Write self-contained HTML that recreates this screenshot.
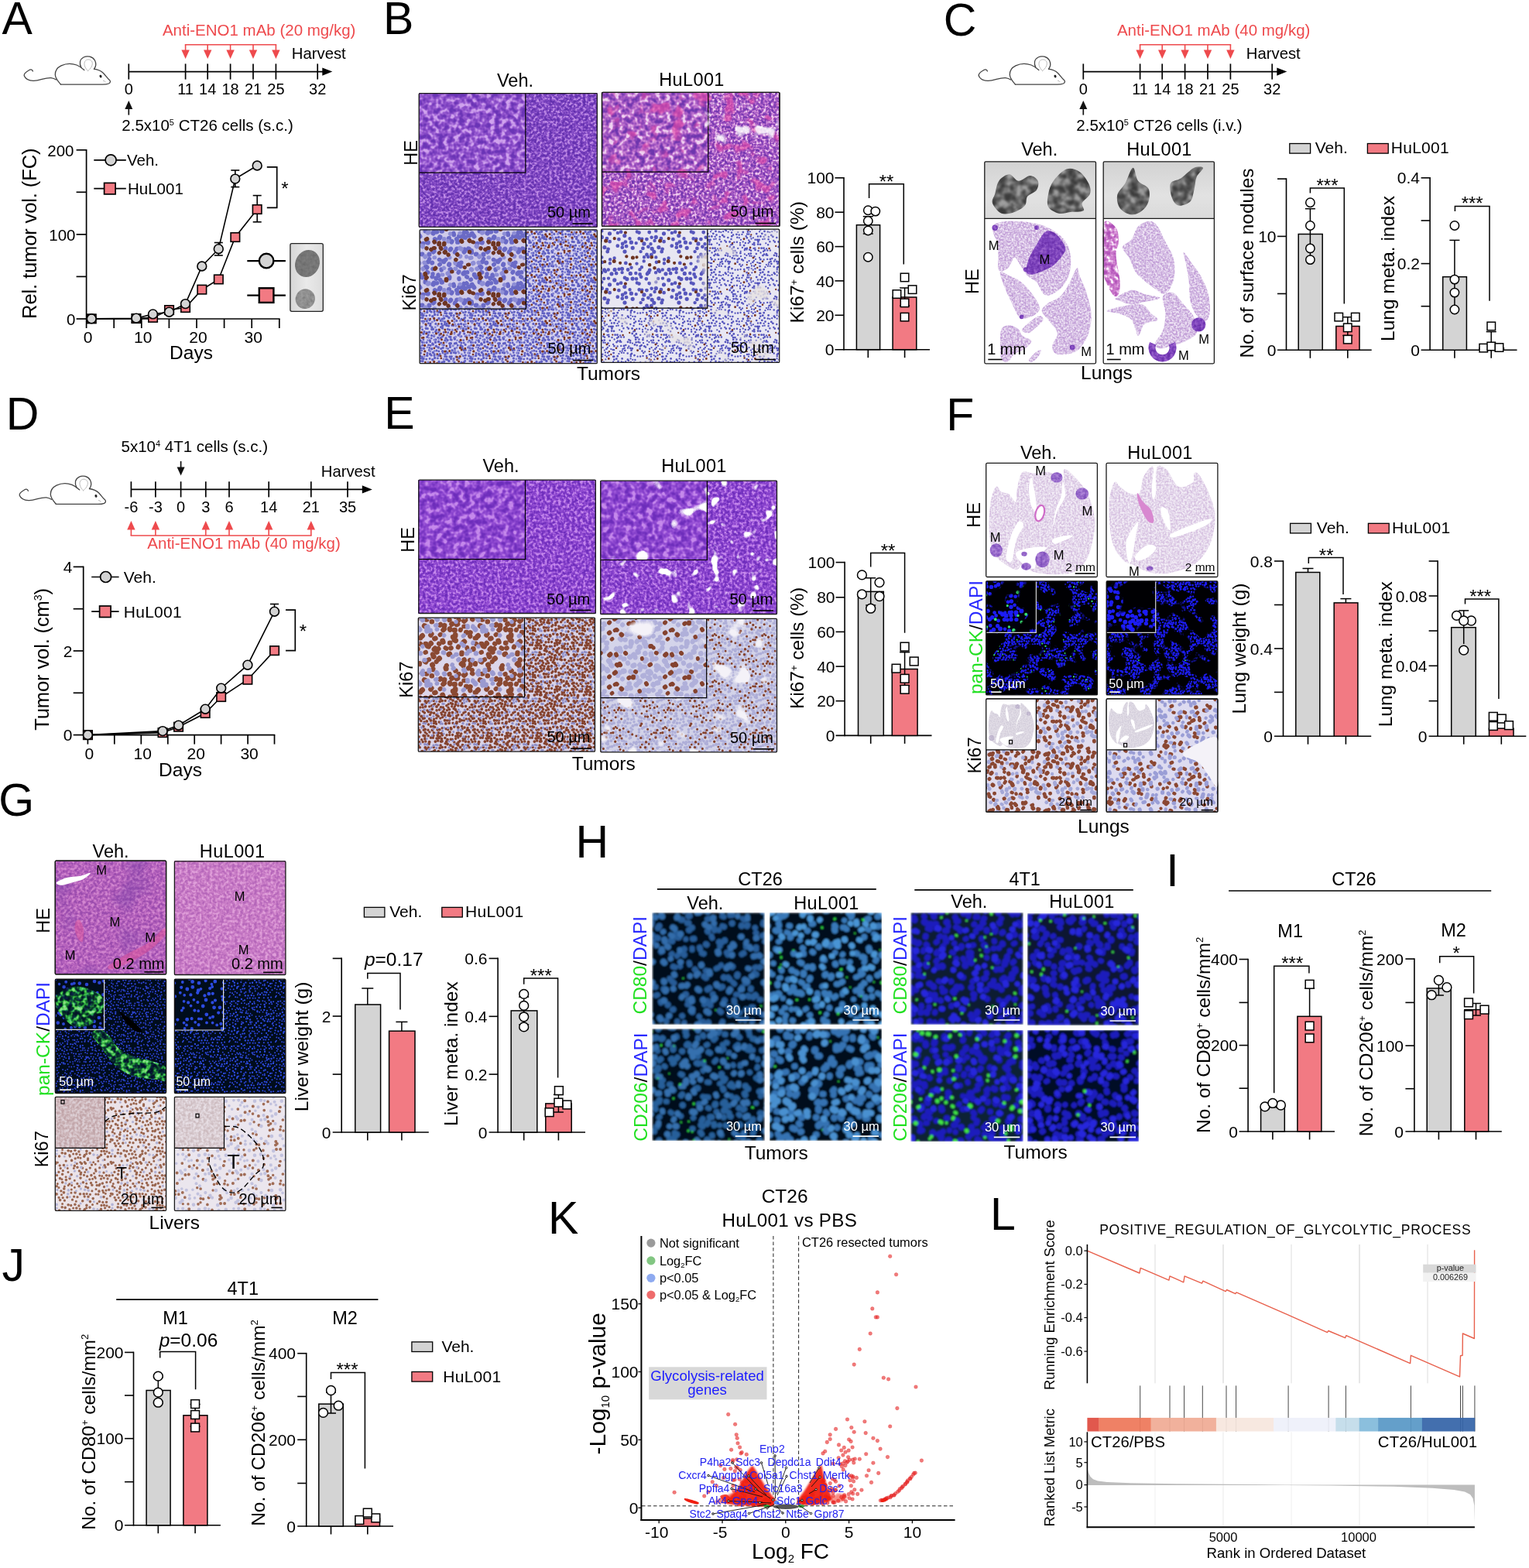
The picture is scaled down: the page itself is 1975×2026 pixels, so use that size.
<!DOCTYPE html>
<html lang="en"><head><meta charset="utf-8"><title>Figure</title>
<style>
html,body{margin:0;padding:0;background:#fff}
body{width:1975px;height:2026px;overflow:hidden}
svg{display:block;font-family:'Liberation Sans', Arial, sans-serif;}
</style></head><body>
<svg width="1975" height="2026" viewBox="0 0 1975 2026" fill="#000">
<defs>
<linearGradient id="gPhoto" x1="0" y1="0" x2="1" y2="0"><stop offset="0" stop-color="#d6d6d6"/><stop offset="0.5" stop-color="#eaeaea"/><stop offset="1" stop-color="#dcdcdc"/></linearGradient>
<filter id="fBlob" x="-10%" y="-10%" width="120%" height="120%"><feTurbulence type="fractalNoise" baseFrequency="0.25" numOctaves="2" seed="3" result="n"/><feColorMatrix in="n" type="matrix" values="0 0 0 0 0  0 0 0 0 0  0 0 0 0 0  0.9 0 0 0 -0.25" result="a"/><feFlood flood-color="#555"/><feComposite in2="a" operator="in" result="d"/><feComposite in="d" in2="SourceGraphic" operator="atop"/><feGaussianBlur stdDeviation="0.5"/></filter>
<linearGradient id="gPh2" x1="0" y1="0" x2="0" y2="1"><stop offset="0" stop-color="#d2d2d2"/><stop offset="0.6" stop-color="#e2e2e2"/><stop offset="1" stop-color="#dadada"/></linearGradient>
<filter id="bHE1" x="0" y="0" width="100%" height="100%" color-interpolation-filters="sRGB"><feTurbulence type="fractalNoise" baseFrequency="0.3" numOctaves="2" seed="11"/><feColorMatrix type="matrix" values="1 0 0 0 0 1 0 0 0 0 1 0 0 0 0 0 0 0 0 1"/><feComponentTransfer><feFuncR type="table" tableValues="0.384 0.384 0.384 0.384 0.384 0.391 0.427 0.462 0.507 0.57 0.65 0.736 0.753 0.753 0.753 0.753 0.753"/><feFuncG type="table" tableValues="0.188 0.188 0.188 0.188 0.188 0.194 0.221 0.248 0.285 0.344 0.434 0.536 0.557 0.557 0.557 0.557 0.557"/><feFuncB type="table" tableValues="0.682 0.682 0.682 0.682 0.682 0.687 0.712 0.736 0.765 0.805 0.848 0.893 0.902 0.902 0.902 0.902 0.902"/></feComponentTransfer></filter><filter id="bHE1i" x="0" y="0" width="100%" height="100%" color-interpolation-filters="sRGB"><feTurbulence type="fractalNoise" baseFrequency="0.15" numOctaves="2" seed="12"/><feColorMatrix type="matrix" values="1 0 0 0 0 1 0 0 0 0 1 0 0 0 0 0 0 0 0 1"/><feComponentTransfer><feFuncR type="table" tableValues="0.416 0.416 0.416 0.416 0.416 0.424 0.468 0.512 0.562 0.625 0.708 0.798 0.816 0.816 0.816 0.816 0.816"/><feFuncG type="table" tableValues="0.204 0.204 0.204 0.204 0.204 0.21 0.243 0.276 0.32 0.389 0.496 0.619 0.643 0.643 0.643 0.643 0.643"/><feFuncB type="table" tableValues="0.714 0.714 0.714 0.714 0.714 0.719 0.743 0.768 0.797 0.836 0.879 0.924 0.933 0.933 0.933 0.933 0.933"/></feComponentTransfer></filter><filter id="bHE2" x="0" y="0" width="100%" height="100%" color-interpolation-filters="sRGB"><feTurbulence type="fractalNoise" baseFrequency="0.3" numOctaves="2" seed="13"/><feColorMatrix type="matrix" values="1 0 0 0 0 1 0 0 0 0 1 0 0 0 0 0 0 0 0 1"/><feComponentTransfer><feFuncR type="table" tableValues="0.431 0.431 0.431 0.431 0.431 0.445 0.512 0.58 0.657 0.74 0.815 0.917 0.941 0.941 0.941 0.941 0.941"/><feFuncG type="table" tableValues="0.212 0.212 0.212 0.212 0.212 0.22 0.26 0.299 0.364 0.444 0.561 0.774 0.831 0.831 0.831 0.831 0.831"/><feFuncB type="table" tableValues="0.682 0.682 0.682 0.682 0.682 0.688 0.715 0.743 0.772 0.802 0.855 0.931 0.949 0.949 0.949 0.949 0.949"/></feComponentTransfer></filter><filter id="bHE2i" x="0" y="0" width="100%" height="100%" color-interpolation-filters="sRGB"><feTurbulence type="fractalNoise" baseFrequency="0.15" numOctaves="2" seed="14"/><feColorMatrix type="matrix" values="1 0 0 0 0 1 0 0 0 0 1 0 0 0 0 0 0 0 0 1"/><feComponentTransfer><feFuncR type="table" tableValues="0.431 0.431 0.431 0.431 0.431 0.445 0.512 0.58 0.657 0.74 0.815 0.917 0.941 0.941 0.941 0.941 0.941"/><feFuncG type="table" tableValues="0.212 0.212 0.212 0.212 0.212 0.22 0.26 0.299 0.364 0.444 0.561 0.774 0.831 0.831 0.831 0.831 0.831"/><feFuncB type="table" tableValues="0.682 0.682 0.682 0.682 0.682 0.688 0.715 0.743 0.772 0.802 0.855 0.931 0.949 0.949 0.949 0.949 0.949"/></feComponentTransfer></filter><filter id="bPink" x="0" y="0" width="100%" height="100%" color-interpolation-filters="sRGB"><feTurbulence type="fractalNoise" baseFrequency="0.06" numOctaves="2" seed="5"/><feColorMatrix type="matrix" values="0 0 0 0 0 0 0 0 0 0 0 0 0 0 0 -7 0 0 0 3.010" result="m"/><feFlood flood-color="#e04aa8" flood-opacity="0.65"/><feComposite in2="m" operator="in"/><feComposite in2="SourceAlpha" operator="in"/></filter><filter id="bWhite" x="0" y="0" width="100%" height="100%" color-interpolation-filters="sRGB"><feTurbulence type="fractalNoise" baseFrequency="0.05" numOctaves="2" seed="9"/><feColorMatrix type="matrix" values="0 0 0 0 0 0 0 0 0 0 0 0 0 0 0 -9 0 0 0 3.780" result="m"/><feFlood flood-color="#ffffff" flood-opacity="0.85"/><feComposite in2="m" operator="in"/><feComposite in2="SourceAlpha" operator="in"/></filter><filter id="bK1" x="0" y="0" width="100%" height="100%" color-interpolation-filters="sRGB"><feTurbulence type="fractalNoise" baseFrequency="0.3" numOctaves="1" seed="21" result="n"/><feFlood flood-color="#d0ccee" result="bg"/><feColorMatrix in="n" type="matrix" values="0 0 0 0 0 0 0 0 0 0 0 0 0 0 0 -12 0 0 0 5.640" result="m0"/><feFlood flood-color="#6060c6"/><feComposite in2="m0" operator="in" result="c0"/><feColorMatrix in="n" type="matrix" values="0 0 0 0 0 0 0 0 0 0 0 0 0 0 0 0 -12 0 0 5.640" result="m1"/><feFlood flood-color="#6060c6"/><feComposite in2="m1" operator="in" result="c1"/><feColorMatrix in="n" type="matrix" values="0 0 0 0 0 0 0 0 0 0 0 0 0 0 0 0 0 -12 0 4.920" result="m2"/><feFlood flood-color="#7c3820"/><feComposite in2="m2" operator="in" result="c2"/><feMerge><feMergeNode in="bg"/><feMergeNode in="c0"/><feMergeNode in="c1"/><feMergeNode in="c2"/></feMerge></filter><filter id="bK1i" x="0" y="0" width="100%" height="100%" color-interpolation-filters="sRGB"><feTurbulence type="fractalNoise" baseFrequency="0.15" numOctaves="1" seed="22" result="n"/><feFlood flood-color="#d2ceee" result="bg"/><feColorMatrix in="n" type="matrix" values="0 0 0 0 0 0 0 0 0 0 0 0 0 0 0 -9 0 0 0 4.230" result="m0"/><feFlood flood-color="#6e6ecc"/><feComposite in2="m0" operator="in" result="c0"/><feColorMatrix in="n" type="matrix" values="0 0 0 0 0 0 0 0 0 0 0 0 0 0 0 0 -9 0 0 4.230" result="m1"/><feFlood flood-color="#6e6ecc"/><feComposite in2="m1" operator="in" result="c1"/><feColorMatrix in="n" type="matrix" values="0 0 0 0 0 0 0 0 0 0 0 0 0 0 0 0 0 -9 0 3.600" result="m2"/><feFlood flood-color="#7c3820"/><feComposite in2="m2" operator="in" result="c2"/><feMerge><feMergeNode in="bg"/><feMergeNode in="c0"/><feMergeNode in="c1"/><feMergeNode in="c2"/></feMerge></filter><filter id="bK2" x="0" y="0" width="100%" height="100%" color-interpolation-filters="sRGB"><feTurbulence type="fractalNoise" baseFrequency="0.3" numOctaves="1" seed="23" result="n"/><feFlood flood-color="#e4e3f2" result="bg"/><feColorMatrix in="n" type="matrix" values="0 0 0 0 0 0 0 0 0 0 0 0 0 0 0 -12 0 0 0 5.100" result="m0"/><feFlood flood-color="#5252c4"/><feComposite in2="m0" operator="in" result="c0"/><feColorMatrix in="n" type="matrix" values="0 0 0 0 0 0 0 0 0 0 0 0 0 0 0 0 -12 0 0 5.100" result="m1"/><feFlood flood-color="#5252c4"/><feComposite in2="m1" operator="in" result="c1"/><feColorMatrix in="n" type="matrix" values="0 0 0 0 0 0 0 0 0 0 0 0 0 0 0 0 0 -12 0 3.960" result="m2"/><feFlood flood-color="#7c3820"/><feComposite in2="m2" operator="in" result="c2"/><feMerge><feMergeNode in="bg"/><feMergeNode in="c0"/><feMergeNode in="c1"/><feMergeNode in="c2"/></feMerge></filter><filter id="bK2i" x="0" y="0" width="100%" height="100%" color-interpolation-filters="sRGB"><feTurbulence type="fractalNoise" baseFrequency="0.15" numOctaves="1" seed="24" result="n"/><feFlood flood-color="#e4e3f2" result="bg"/><feColorMatrix in="n" type="matrix" values="0 0 0 0 0 0 0 0 0 0 0 0 0 0 0 -9 0 0 0 3.780" result="m0"/><feFlood flood-color="#5252c4"/><feComposite in2="m0" operator="in" result="c0"/><feColorMatrix in="n" type="matrix" values="0 0 0 0 0 0 0 0 0 0 0 0 0 0 0 0 -9 0 0 3.780" result="m1"/><feFlood flood-color="#5252c4"/><feComposite in2="m1" operator="in" result="c1"/><feColorMatrix in="n" type="matrix" values="0 0 0 0 0 0 0 0 0 0 0 0 0 0 0 0 0 -9 0 2.970" result="m2"/><feFlood flood-color="#7c3820"/><feComposite in2="m2" operator="in" result="c2"/><feMerge><feMergeNode in="bg"/><feMergeNode in="c0"/><feMergeNode in="c1"/><feMergeNode in="c2"/></feMerge></filter><filter id="cLung" x="0" y="0" width="100%" height="100%" color-interpolation-filters="sRGB"><feTurbulence type="fractalNoise" baseFrequency="0.42" numOctaves="2" seed="31"/><feColorMatrix type="matrix" values="1 0 0 0 0 1 0 0 0 0 1 0 0 0 0 0 0 0 0 1"/><feComponentTransfer><feFuncR type="table" tableValues="0.753 0.753 0.753 0.753 0.753 0.758 0.786 0.814 0.842 0.87 0.905 0.942 0.949 0.949 0.949 0.949 0.949"/><feFuncG type="table" tableValues="0.612 0.612 0.612 0.612 0.612 0.62 0.663 0.706 0.75 0.795 0.846 0.899 0.91 0.91 0.91 0.91 0.91"/><feFuncB type="table" tableValues="0.839 0.839 0.839 0.839 0.839 0.843 0.861 0.88 0.898 0.916 0.939 0.964 0.969 0.969 0.969 0.969 0.969"/></feComponentTransfer><feComposite in2="SourceAlpha" operator="in"/></filter><filter id="cTum" x="0" y="0" width="100%" height="100%" color-interpolation-filters="sRGB"><feTurbulence type="fractalNoise" baseFrequency="0.25" numOctaves="2" seed="32"/><feColorMatrix type="matrix" values="1 0 0 0 0 1 0 0 0 0 1 0 0 0 0 0 0 0 0 1"/><feComponentTransfer><feFuncR type="table" tableValues="0.416 0.416 0.416 0.416 0.416 0.426 0.446 0.466 0.486 0.52 0.553 0.587 0.604 0.604 0.604 0.604 0.604"/><feFuncG type="table" tableValues="0.188 0.188 0.188 0.188 0.188 0.199 0.219 0.239 0.259 0.294 0.33 0.366 0.384 0.384 0.384 0.384 0.384"/><feFuncB type="table" tableValues="0.667 0.667 0.667 0.667 0.667 0.677 0.697 0.717 0.737 0.755 0.773 0.791 0.8 0.8 0.8 0.8 0.8"/></feComponentTransfer><feComposite in2="SourceAlpha" operator="in"/></filter><filter id="cHeart" x="0" y="0" width="100%" height="100%" color-interpolation-filters="sRGB"><feTurbulence type="fractalNoise" baseFrequency="0.2" numOctaves="2" seed="33"/><feColorMatrix type="matrix" values="1 0 0 0 0 1 0 0 0 0 1 0 0 0 0 0 0 0 0 1"/><feComponentTransfer><feFuncR type="table" tableValues="0.69 0.69 0.69 0.69 0.69 0.706 0.738 0.769 0.8 0.845 0.889 0.956 1 1 1 1 1"/><feFuncG type="table" tableValues="0.314 0.314 0.314 0.314 0.314 0.338 0.385 0.432 0.478 0.577 0.676 0.863 1 1 1 1 1"/><feFuncB type="table" tableValues="0.722 0.722 0.722 0.722 0.722 0.733 0.755 0.778 0.8 0.845 0.889 0.956 1 1 1 1 1"/></feComponentTransfer><feComposite in2="SourceAlpha" operator="in"/></filter><filter id="cPh" x="0" y="0" width="100%" height="100%" color-interpolation-filters="sRGB"><feTurbulence type="fractalNoise" baseFrequency="0.1" numOctaves="3" seed="34"/><feColorMatrix type="matrix" values="1 0 0 0 0 1 0 0 0 0 1 0 0 0 0 0 0 0 0 1"/><feComponentTransfer><feFuncR type="table" tableValues="0.235 0.235 0.235 0.235 0.235 0.244 0.287 0.33 0.383 0.443 0.516 0.609 0.627 0.627 0.627 0.627 0.627"/><feFuncG type="table" tableValues="0.235 0.235 0.235 0.235 0.235 0.244 0.287 0.33 0.383 0.443 0.516 0.609 0.627 0.627 0.627 0.627 0.627"/><feFuncB type="table" tableValues="0.235 0.235 0.235 0.235 0.235 0.244 0.287 0.33 0.383 0.443 0.516 0.609 0.627 0.627 0.627 0.627 0.627"/></feComponentTransfer><feGaussianBlur stdDeviation="0.8"/><feComposite in2="SourceAlpha" operator="in"/></filter><filter id="eHE1" x="0" y="0" width="100%" height="100%" color-interpolation-filters="sRGB"><feTurbulence type="fractalNoise" baseFrequency="0.28" numOctaves="2" seed="41"/><feColorMatrix type="matrix" values="1 0 0 0 0 1 0 0 0 0 1 0 0 0 0 0 0 0 0 1"/><feComponentTransfer><feFuncR type="table" tableValues="0.431 0.431 0.431 0.431 0.431 0.439 0.477 0.515 0.558 0.612 0.683 0.761 0.776 0.776 0.776 0.776 0.776"/><feFuncG type="table" tableValues="0.18 0.18 0.18 0.18 0.18 0.186 0.216 0.246 0.284 0.338 0.424 0.522 0.541 0.541 0.541 0.541 0.541"/><feFuncB type="table" tableValues="0.737 0.737 0.737 0.737 0.737 0.742 0.767 0.791 0.817 0.847 0.881 0.918 0.925 0.925 0.925 0.925 0.925"/></feComponentTransfer></filter><filter id="eHE1i" x="0" y="0" width="100%" height="100%" color-interpolation-filters="sRGB"><feTurbulence type="fractalNoise" baseFrequency="0.14" numOctaves="2" seed="42"/><feColorMatrix type="matrix" values="1 0 0 0 0 1 0 0 0 0 1 0 0 0 0 0 0 0 0 1"/><feComponentTransfer><feFuncR type="table" tableValues="0.431 0.431 0.431 0.431 0.431 0.439 0.477 0.515 0.558 0.612 0.683 0.761 0.776 0.776 0.776 0.776 0.776"/><feFuncG type="table" tableValues="0.18 0.18 0.18 0.18 0.18 0.186 0.216 0.246 0.284 0.338 0.424 0.522 0.541 0.541 0.541 0.541 0.541"/><feFuncB type="table" tableValues="0.737 0.737 0.737 0.737 0.737 0.742 0.767 0.791 0.817 0.847 0.881 0.918 0.925 0.925 0.925 0.925 0.925"/></feComponentTransfer></filter><filter id="eHE2" x="0" y="0" width="100%" height="100%" color-interpolation-filters="sRGB"><feTurbulence type="fractalNoise" baseFrequency="0.28" numOctaves="2" seed="43"/><feColorMatrix type="matrix" values="1 0 0 0 0 1 0 0 0 0 1 0 0 0 0 0 0 0 0 1"/><feComponentTransfer><feFuncR type="table" tableValues="0.431 0.431 0.431 0.431 0.431 0.439 0.477 0.515 0.558 0.612 0.683 0.761 0.776 0.776 0.776 0.776 0.776"/><feFuncG type="table" tableValues="0.18 0.18 0.18 0.18 0.18 0.186 0.216 0.246 0.284 0.338 0.424 0.522 0.541 0.541 0.541 0.541 0.541"/><feFuncB type="table" tableValues="0.737 0.737 0.737 0.737 0.737 0.742 0.767 0.791 0.817 0.847 0.881 0.918 0.925 0.925 0.925 0.925 0.925"/></feComponentTransfer></filter><filter id="eHE2i" x="0" y="0" width="100%" height="100%" color-interpolation-filters="sRGB"><feTurbulence type="fractalNoise" baseFrequency="0.14" numOctaves="2" seed="44"/><feColorMatrix type="matrix" values="1 0 0 0 0 1 0 0 0 0 1 0 0 0 0 0 0 0 0 1"/><feComponentTransfer><feFuncR type="table" tableValues="0.431 0.431 0.431 0.431 0.431 0.439 0.477 0.515 0.558 0.612 0.683 0.761 0.776 0.776 0.776 0.776 0.776"/><feFuncG type="table" tableValues="0.18 0.18 0.18 0.18 0.18 0.186 0.216 0.246 0.284 0.338 0.424 0.522 0.541 0.541 0.541 0.541 0.541"/><feFuncB type="table" tableValues="0.737 0.737 0.737 0.737 0.737 0.742 0.767 0.791 0.817 0.847 0.881 0.918 0.925 0.925 0.925 0.925 0.925"/></feComponentTransfer></filter><filter id="eHole" x="0" y="0" width="100%" height="100%" color-interpolation-filters="sRGB"><feTurbulence type="fractalNoise" baseFrequency="0.06" numOctaves="2" seed="45"/><feColorMatrix type="matrix" values="0 0 0 0 0 0 0 0 0 0 0 0 0 0 0 -14 0 0 0 5.040" result="m"/><feFlood flood-color="#ffffff" flood-opacity="1"/><feComposite in2="m" operator="in"/><feComposite in2="SourceAlpha" operator="in"/></filter><filter id="eHolei" x="0" y="0" width="100%" height="100%" color-interpolation-filters="sRGB"><feTurbulence type="fractalNoise" baseFrequency="0.03" numOctaves="2" seed="46"/><feColorMatrix type="matrix" values="0 0 0 0 0 0 0 0 0 0 0 0 0 0 0 -20 0 0 0 7.200" result="m"/><feFlood flood-color="#ffffff" flood-opacity="1"/><feComposite in2="m" operator="in"/><feComposite in2="SourceAlpha" operator="in"/></filter><filter id="eK1" x="0" y="0" width="100%" height="100%" color-interpolation-filters="sRGB"><feTurbulence type="fractalNoise" baseFrequency="0.28" numOctaves="1" seed="47" result="n"/><feFlood flood-color="#e0dcee" result="bg"/><feColorMatrix in="n" type="matrix" values="0 0 0 0 0 0 0 0 0 0 0 0 0 0 0 0 0 0 -10 4.000" result="m0"/><feFlood flood-color="#9a9ad0"/><feComposite in2="m0" operator="in" result="c0"/><feColorMatrix in="n" type="matrix" values="0 0 0 0 0 0 0 0 0 0 0 0 0 0 0 -10 0 0 0 4.450" result="m1"/><feFlood flood-color="#98502f"/><feComposite in2="m1" operator="in" result="c1"/><feColorMatrix in="n" type="matrix" values="0 0 0 0 0 0 0 0 0 0 0 0 0 0 0 0 -10 0 0 4.450" result="m2"/><feFlood flood-color="#98502f"/><feComposite in2="m2" operator="in" result="c2"/><feColorMatrix in="n" type="matrix" values="0 0 0 0 0 0 0 0 0 0 0 0 0 0 0 0 0 -10 0 4.450" result="m3"/><feFlood flood-color="#98502f"/><feComposite in2="m3" operator="in" result="c3"/><feMerge><feMergeNode in="bg"/><feMergeNode in="c0"/><feMergeNode in="c1"/><feMergeNode in="c2"/><feMergeNode in="c3"/></feMerge></filter><filter id="eK1i" x="0" y="0" width="100%" height="100%" color-interpolation-filters="sRGB"><feTurbulence type="fractalNoise" baseFrequency="0.14" numOctaves="1" seed="48" result="n"/><feFlood flood-color="#e0dcee" result="bg"/><feColorMatrix in="n" type="matrix" values="0 0 0 0 0 0 0 0 0 0 0 0 0 0 0 0 0 0 -8 3.200" result="m0"/><feFlood flood-color="#a2a2d4"/><feComposite in2="m0" operator="in" result="c0"/><feColorMatrix in="n" type="matrix" values="0 0 0 0 0 0 0 0 0 0 0 0 0 0 0 -8 0 0 0 3.560" result="m1"/><feFlood flood-color="#9c5634"/><feComposite in2="m1" operator="in" result="c1"/><feColorMatrix in="n" type="matrix" values="0 0 0 0 0 0 0 0 0 0 0 0 0 0 0 0 -8 0 0 3.560" result="m2"/><feFlood flood-color="#9c5634"/><feComposite in2="m2" operator="in" result="c2"/><feColorMatrix in="n" type="matrix" values="0 0 0 0 0 0 0 0 0 0 0 0 0 0 0 0 0 -8 0 3.560" result="m3"/><feFlood flood-color="#9c5634"/><feComposite in2="m3" operator="in" result="c3"/><feMerge><feMergeNode in="bg"/><feMergeNode in="c0"/><feMergeNode in="c1"/><feMergeNode in="c2"/><feMergeNode in="c3"/></feMerge></filter><filter id="eK2" x="0" y="0" width="100%" height="100%" color-interpolation-filters="sRGB"><feTurbulence type="fractalNoise" baseFrequency="0.28" numOctaves="1" seed="49" result="n"/><feFlood flood-color="#d2d2ea" result="bg"/><feColorMatrix in="n" type="matrix" values="0 0 0 0 0 0 0 0 0 0 0 0 0 0 0 0 0 0 -8 4.000" result="m0"/><feFlood flood-color="#b4b4de"/><feComposite in2="m0" operator="in" result="c0"/><feColorMatrix in="n" type="matrix" values="0 0 0 0 0 0 0 0 0 0 0 0 0 0 0 -12 0 0 0 4.620" result="m1"/><feFlood flood-color="#8c4228"/><feComposite in2="m1" operator="in" result="c1"/><feColorMatrix in="n" type="matrix" values="0 0 0 0 0 0 0 0 0 0 0 0 0 0 0 0 -12 0 0 4.620" result="m2"/><feFlood flood-color="#8c4228"/><feComposite in2="m2" operator="in" result="c2"/><feMerge><feMergeNode in="bg"/><feMergeNode in="c0"/><feMergeNode in="c1"/><feMergeNode in="c2"/></feMerge></filter><filter id="eK2i" x="0" y="0" width="100%" height="100%" color-interpolation-filters="sRGB"><feTurbulence type="fractalNoise" baseFrequency="0.14" numOctaves="1" seed="50" result="n"/><feFlood flood-color="#d4d4ec" result="bg"/><feColorMatrix in="n" type="matrix" values="0 0 0 0 0 0 0 0 0 0 0 0 0 0 0 0 0 0 -6 3.000" result="m0"/><feFlood flood-color="#b8b8e0"/><feComposite in2="m0" operator="in" result="c0"/><feColorMatrix in="n" type="matrix" values="0 0 0 0 0 0 0 0 0 0 0 0 0 0 0 -10 0 0 0 3.850" result="m1"/><feFlood flood-color="#8c4228"/><feComposite in2="m1" operator="in" result="c1"/><feColorMatrix in="n" type="matrix" values="0 0 0 0 0 0 0 0 0 0 0 0 0 0 0 0 -10 0 0 3.850" result="m2"/><feFlood flood-color="#8c4228"/><feComposite in2="m2" operator="in" result="c2"/><feMerge><feMergeNode in="bg"/><feMergeNode in="c0"/><feMergeNode in="c1"/><feMergeNode in="c2"/></feMerge></filter><filter id="eHole2" x="0" y="0" width="100%" height="100%" color-interpolation-filters="sRGB"><feTurbulence type="fractalNoise" baseFrequency="0.035" numOctaves="2" seed="51"/><feColorMatrix type="matrix" values="0 0 0 0 0 0 0 0 0 0 0 0 0 0 0 -12 0 0 0 4.140" result="m"/><feFlood flood-color="#f4f2f8" flood-opacity="1"/><feComposite in2="m" operator="in"/><feComposite in2="SourceAlpha" operator="in"/></filter><filter id="fLung" x="0" y="0" width="100%" height="100%" color-interpolation-filters="sRGB"><feTurbulence type="fractalNoise" baseFrequency="0.42" numOctaves="2" seed="61"/><feColorMatrix type="matrix" values="1 0 0 0 0 1 0 0 0 0 1 0 0 0 0 0 0 0 0 1"/><feComponentTransfer><feFuncR type="table" tableValues="0.839 0.839 0.839 0.839 0.839 0.843 0.861 0.88 0.898 0.916 0.936 0.957 0.961 0.961 0.961 0.961 0.961"/><feFuncG type="table" tableValues="0.753 0.753 0.753 0.753 0.753 0.759 0.788 0.817 0.847 0.878 0.905 0.932 0.937 0.937 0.937 0.937 0.937"/><feFuncB type="table" tableValues="0.878 0.878 0.878 0.878 0.878 0.881 0.897 0.912 0.925 0.938 0.953 0.969 0.973 0.973 0.973 0.973 0.973"/></feComponentTransfer><feComposite in2="SourceAlpha" operator="in"/></filter><filter id="fTum" x="0" y="0" width="100%" height="100%" color-interpolation-filters="sRGB"><feTurbulence type="fractalNoise" baseFrequency="0.25" numOctaves="2" seed="62"/><feColorMatrix type="matrix" values="1 0 0 0 0 1 0 0 0 0 1 0 0 0 0 0 0 0 0 1"/><feComponentTransfer><feFuncR type="table" tableValues="0.502 0.502 0.502 0.502 0.502 0.515 0.539 0.564 0.588 0.615 0.642 0.668 0.682 0.682 0.682 0.682 0.682"/><feFuncG type="table" tableValues="0.314 0.314 0.314 0.314 0.314 0.328 0.354 0.381 0.408 0.439 0.47 0.501 0.518 0.518 0.518 0.518 0.518"/><feFuncB type="table" tableValues="0.737 0.737 0.737 0.737 0.737 0.745 0.761 0.777 0.792 0.808 0.823 0.839 0.847 0.847 0.847 0.847 0.847"/></feComponentTransfer><feComposite in2="SourceAlpha" operator="in"/></filter><filter id="fIF1" x="0" y="0" width="100%" height="100%" color-interpolation-filters="sRGB"><feTurbulence type="fractalNoise" baseFrequency="0.22" numOctaves="1" seed="63" result="n"/><feFlood flood-color="#000004" result="bg"/><feTurbulence type="fractalNoise" baseFrequency="0.035" numOctaves="1" seed="70" result="n2"/><feColorMatrix in="n" type="matrix" values="0 0 0 0 0 0 0 0 0 0 0 0 0 0 0 -10 0 0 0 5.600" result="m0"/><feColorMatrix in="n2" type="matrix" values="0 0 0 0 0 0 0 0 0 0 0 0 0 0 0 0 -10 0 0 5.300" result="q0"/><feComposite in="m0" in2="q0" operator="in" result="a0"/><feFlood flood-color="#1a1af2"/><feComposite in2="a0" operator="in" result="c0"/><feColorMatrix in="n" type="matrix" values="0 0 0 0 0 0 0 0 0 0 0 0 0 0 0 0 0 -14 0 4.200" result="m1"/><feFlood flood-color="#40e868"/><feComposite in2="m1" operator="in" result="c1"/><feMerge><feMergeNode in="bg"/><feMergeNode in="c0"/><feMergeNode in="c1"/></feMerge></filter><filter id="fIF1i" x="0" y="0" width="100%" height="100%" color-interpolation-filters="sRGB"><feTurbulence type="fractalNoise" baseFrequency="0.09" numOctaves="1" seed="64" result="n"/><feFlood flood-color="#000004" result="bg"/><feTurbulence type="fractalNoise" baseFrequency="0.02" numOctaves="1" seed="71" result="n2"/><feColorMatrix in="n" type="matrix" values="0 0 0 0 0 0 0 0 0 0 0 0 0 0 0 -10 0 0 0 5.600" result="m0"/><feColorMatrix in="n2" type="matrix" values="0 0 0 0 0 0 0 0 0 0 0 0 0 0 0 0 -10 0 0 5.300" result="q0"/><feComposite in="m0" in2="q0" operator="in" result="a0"/><feFlood flood-color="#1a1af2"/><feComposite in2="a0" operator="in" result="c0"/><feColorMatrix in="n" type="matrix" values="0 0 0 0 0 0 0 0 0 0 0 0 0 0 0 0 0 -14 0 4.340" result="m1"/><feFlood flood-color="#40e868"/><feComposite in2="m1" operator="in" result="c1"/><feMerge><feMergeNode in="bg"/><feMergeNode in="c0"/><feMergeNode in="c1"/></feMerge></filter><filter id="fIF2" x="0" y="0" width="100%" height="100%" color-interpolation-filters="sRGB"><feTurbulence type="fractalNoise" baseFrequency="0.22" numOctaves="1" seed="65" result="n"/><feFlood flood-color="#000004" result="bg"/><feTurbulence type="fractalNoise" baseFrequency="0.035" numOctaves="1" seed="72" result="n2"/><feColorMatrix in="n" type="matrix" values="0 0 0 0 0 0 0 0 0 0 0 0 0 0 0 -10 0 0 0 5.600" result="m0"/><feColorMatrix in="n2" type="matrix" values="0 0 0 0 0 0 0 0 0 0 0 0 0 0 0 0 -10 0 0 5.300" result="q0"/><feComposite in="m0" in2="q0" operator="in" result="a0"/><feFlood flood-color="#1a1af2"/><feComposite in2="a0" operator="in" result="c0"/><feMerge><feMergeNode in="bg"/><feMergeNode in="c0"/></feMerge></filter><filter id="fIF2i" x="0" y="0" width="100%" height="100%" color-interpolation-filters="sRGB"><feTurbulence type="fractalNoise" baseFrequency="0.09" numOctaves="1" seed="66" result="n"/><feFlood flood-color="#000004" result="bg"/><feTurbulence type="fractalNoise" baseFrequency="0.02" numOctaves="1" seed="73" result="n2"/><feColorMatrix in="n" type="matrix" values="0 0 0 0 0 0 0 0 0 0 0 0 0 0 0 -10 0 0 0 5.600" result="m0"/><feColorMatrix in="n2" type="matrix" values="0 0 0 0 0 0 0 0 0 0 0 0 0 0 0 0 -10 0 0 5.300" result="q0"/><feComposite in="m0" in2="q0" operator="in" result="a0"/><feFlood flood-color="#1a1af2"/><feComposite in2="a0" operator="in" result="c0"/><feMerge><feMergeNode in="bg"/><feMergeNode in="c0"/></feMerge></filter><filter id="fK1" x="0" y="0" width="100%" height="100%" color-interpolation-filters="sRGB"><feTurbulence type="fractalNoise" baseFrequency="0.16" numOctaves="1" seed="67" result="n"/><feFlood flood-color="#e0dcee" result="bg"/><feColorMatrix in="n" type="matrix" values="0 0 0 0 0 0 0 0 0 0 0 0 0 0 0 0 0 0 -8 3.360" result="m0"/><feFlood flood-color="#a8aada"/><feComposite in2="m0" operator="in" result="c0"/><feColorMatrix in="n" type="matrix" values="0 0 0 0 0 0 0 0 0 0 0 0 0 0 0 -10 0 0 0 4.300" result="m1"/><feFlood flood-color="#8e4a30"/><feComposite in2="m1" operator="in" result="c1"/><feColorMatrix in="n" type="matrix" values="0 0 0 0 0 0 0 0 0 0 0 0 0 0 0 0 -10 0 0 4.300" result="m2"/><feFlood flood-color="#8e4a30"/><feComposite in2="m2" operator="in" result="c2"/><feColorMatrix in="n" type="matrix" values="0 0 0 0 0 0 0 0 0 0 0 0 0 0 0 0 0 -10 0 4.300" result="m3"/><feFlood flood-color="#8e4a30"/><feComposite in2="m3" operator="in" result="c3"/><feMerge><feMergeNode in="bg"/><feMergeNode in="c0"/><feMergeNode in="c1"/><feMergeNode in="c2"/><feMergeNode in="c3"/></feMerge></filter><filter id="fK2" x="0" y="0" width="100%" height="100%" color-interpolation-filters="sRGB"><feTurbulence type="fractalNoise" baseFrequency="0.16" numOctaves="1" seed="68" result="n"/><feFlood flood-color="#dedcf0" result="bg"/><feColorMatrix in="n" type="matrix" values="0 0 0 0 0 0 0 0 0 0 0 0 0 0 0 0 0 0 -8 3.520" result="m0"/><feFlood flood-color="#9ea0d6"/><feComposite in2="m0" operator="in" result="c0"/><feColorMatrix in="n" type="matrix" values="0 0 0 0 0 0 0 0 0 0 0 0 0 0 0 0 0 -8 0 3.520" result="m1"/><feFlood flood-color="#9ea0d6"/><feComposite in2="m1" operator="in" result="c1"/><feColorMatrix in="n" type="matrix" values="0 0 0 0 0 0 0 0 0 0 0 0 0 0 0 -10 0 0 0 4.100" result="m2"/><feFlood flood-color="#8e4a30"/><feComposite in2="m2" operator="in" result="c2"/><feColorMatrix in="n" type="matrix" values="0 0 0 0 0 0 0 0 0 0 0 0 0 0 0 0 -10 0 0 4.100" result="m3"/><feFlood flood-color="#8e4a30"/><feComposite in2="m3" operator="in" result="c3"/><feMerge><feMergeNode in="bg"/><feMergeNode in="c0"/><feMergeNode in="c1"/><feMergeNode in="c2"/><feMergeNode in="c3"/></feMerge></filter><filter id="fMini" x="0" y="0" width="100%" height="100%" color-interpolation-filters="sRGB"><feTurbulence type="fractalNoise" baseFrequency="0.3" numOctaves="2" seed="69"/><feColorMatrix type="matrix" values="1 0 0 0 0 1 0 0 0 0 1 0 0 0 0 0 0 0 0 1"/><feComponentTransfer><feFuncR type="table" tableValues="0.824 0.824 0.824 0.824 0.824 0.829 0.84 0.852 0.863 0.874 0.885 0.896 0.902 0.902 0.902 0.902 0.902"/><feFuncG type="table" tableValues="0.8 0.8 0.8 0.8 0.8 0.806 0.819 0.831 0.843 0.855 0.868 0.88 0.886 0.886 0.886 0.886 0.886"/><feFuncB type="table" tableValues="0.855 0.855 0.855 0.855 0.855 0.86 0.868 0.877 0.886 0.895 0.904 0.913 0.918 0.918 0.918 0.918 0.918"/></feComponentTransfer><feComposite in2="SourceAlpha" operator="in"/></filter><filter id="fMiniT" x="0" y="0" width="100%" height="100%" color-interpolation-filters="sRGB"><feTurbulence type="fractalNoise" baseFrequency="0.3" numOctaves="2" seed="70"/><feColorMatrix type="matrix" values="1 0 0 0 0 1 0 0 0 0 1 0 0 0 0 0 0 0 0 1"/><feComponentTransfer><feFuncR type="table" tableValues="0.722 0.722 0.722 0.722 0.722 0.728 0.741 0.754 0.767 0.779 0.792 0.805 0.812 0.812 0.812 0.812 0.812"/><feFuncG type="table" tableValues="0.682 0.682 0.682 0.682 0.682 0.689 0.703 0.716 0.729 0.743 0.756 0.77 0.776 0.776 0.776 0.776 0.776"/><feFuncB type="table" tableValues="0.784 0.784 0.784 0.784 0.784 0.79 0.8 0.81 0.82 0.83 0.84 0.85 0.855 0.855 0.855 0.855 0.855"/></feComponentTransfer><feComposite in2="SourceAlpha" operator="in"/></filter><filter id="gHE1" x="0" y="0" width="100%" height="100%" color-interpolation-filters="sRGB"><feTurbulence type="fractalNoise" baseFrequency="0.28" numOctaves="2" seed="71"/><feColorMatrix type="matrix" values="1 0 0 0 0 1 0 0 0 0 1 0 0 0 0 0 0 0 0 1"/><feComponentTransfer><feFuncR type="table" tableValues="0.604 0.604 0.604 0.604 0.604 0.611 0.644 0.678 0.711 0.744 0.779 0.816 0.824 0.824 0.824 0.824 0.824"/><feFuncG type="table" tableValues="0.298 0.298 0.298 0.298 0.298 0.304 0.331 0.359 0.387 0.416 0.465 0.522 0.533 0.533 0.533 0.533 0.533"/><feFuncB type="table" tableValues="0.682 0.682 0.682 0.682 0.682 0.686 0.704 0.723 0.74 0.756 0.781 0.81 0.816 0.816 0.816 0.816 0.816"/></feComponentTransfer></filter><filter id="gHE2" x="0" y="0" width="100%" height="100%" color-interpolation-filters="sRGB"><feTurbulence type="fractalNoise" baseFrequency="0.28" numOctaves="2" seed="72"/><feColorMatrix type="matrix" values="1 0 0 0 0 1 0 0 0 0 1 0 0 0 0 0 0 0 0 1"/><feComponentTransfer><feFuncR type="table" tableValues="0.706 0.706 0.706 0.706 0.706 0.711 0.739 0.767 0.79 0.81 0.839 0.872 0.878 0.878 0.878 0.878 0.878"/><feFuncG type="table" tableValues="0.4 0.4 0.4 0.4 0.4 0.406 0.433 0.461 0.489 0.517 0.564 0.617 0.627 0.627 0.627 0.627 0.627"/><feFuncB type="table" tableValues="0.729 0.729 0.729 0.729 0.729 0.732 0.748 0.763 0.779 0.795 0.821 0.849 0.855 0.855 0.855 0.855 0.855"/></feComponentTransfer></filter><filter id="gDark" x="0" y="0" width="100%" height="100%" color-interpolation-filters="sRGB"><feTurbulence type="fractalNoise" baseFrequency="0.02" numOctaves="2" seed="73"/><feColorMatrix type="matrix" values="0 0 0 0 0 0 0 0 0 0 0 0 0 0 0 -5 0 0 0 2.350" result="m"/><feFlood flood-color="#7a40a8" flood-opacity="0.4"/><feComposite in2="m" operator="in"/><feComposite in2="SourceAlpha" operator="in"/></filter><filter id="gIF1" x="0" y="0" width="100%" height="100%" color-interpolation-filters="sRGB"><feTurbulence type="fractalNoise" baseFrequency="0.3" numOctaves="1" seed="74" result="n"/><feFlood flood-color="#020618" result="bg"/><feColorMatrix in="n" type="matrix" values="0 0 0 0 0 0 0 0 0 0 0 0 0 0 0 -10 0 0 0 4.400" result="m0"/><feFlood flood-color="#2a48dc"/><feComposite in2="m0" operator="in" result="c0"/><feColorMatrix in="n" type="matrix" values="0 0 0 0 0 0 0 0 0 0 0 0 0 0 0 0 -10 0 0 4.400" result="m1"/><feFlood flood-color="#2a48dc"/><feComposite in2="m1" operator="in" result="c1"/><feMerge><feMergeNode in="bg"/><feMergeNode in="c0"/><feMergeNode in="c1"/></feMerge></filter><filter id="gIF1i" x="0" y="0" width="100%" height="100%" color-interpolation-filters="sRGB"><feTurbulence type="fractalNoise" baseFrequency="0.15" numOctaves="1" seed="75" result="n"/><feFlood flood-color="#020618" result="bg"/><feColorMatrix in="n" type="matrix" values="0 0 0 0 0 0 0 0 0 0 0 0 0 0 0 -10 0 0 0 4.250" result="m0"/><feFlood flood-color="#2a48dc"/><feComposite in2="m0" operator="in" result="c0"/><feColorMatrix in="n" type="matrix" values="0 0 0 0 0 0 0 0 0 0 0 0 0 0 0 0 -10 0 0 4.250" result="m1"/><feFlood flood-color="#2a48dc"/><feComposite in2="m1" operator="in" result="c1"/><feMerge><feMergeNode in="bg"/><feMergeNode in="c0"/><feMergeNode in="c1"/></feMerge></filter><filter id="gIF2" x="0" y="0" width="100%" height="100%" color-interpolation-filters="sRGB"><feTurbulence type="fractalNoise" baseFrequency="0.3" numOctaves="1" seed="76" result="n"/><feFlood flood-color="#020618" result="bg"/><feColorMatrix in="n" type="matrix" values="0 0 0 0 0 0 0 0 0 0 0 0 0 0 0 -10 0 0 0 4.500" result="m0"/><feFlood flood-color="#2a50e8"/><feComposite in2="m0" operator="in" result="c0"/><feColorMatrix in="n" type="matrix" values="0 0 0 0 0 0 0 0 0 0 0 0 0 0 0 0 -10 0 0 4.500" result="m1"/><feFlood flood-color="#2a50e8"/><feComposite in2="m1" operator="in" result="c1"/><feMerge><feMergeNode in="bg"/><feMergeNode in="c0"/><feMergeNode in="c1"/></feMerge></filter><filter id="gIF2i" x="0" y="0" width="100%" height="100%" color-interpolation-filters="sRGB"><feTurbulence type="fractalNoise" baseFrequency="0.15" numOctaves="1" seed="77" result="n"/><feFlood flood-color="#020618" result="bg"/><feColorMatrix in="n" type="matrix" values="0 0 0 0 0 0 0 0 0 0 0 0 0 0 0 -10 0 0 0 4.250" result="m0"/><feFlood flood-color="#2a50e8"/><feComposite in2="m0" operator="in" result="c0"/><feColorMatrix in="n" type="matrix" values="0 0 0 0 0 0 0 0 0 0 0 0 0 0 0 0 -10 0 0 4.250" result="m1"/><feFlood flood-color="#2a50e8"/><feComposite in2="m1" operator="in" result="c1"/><feMerge><feMergeNode in="bg"/><feMergeNode in="c0"/><feMergeNode in="c1"/></feMerge></filter><filter id="gGreen" x="0" y="0" width="100%" height="100%" color-interpolation-filters="sRGB"><feTurbulence type="fractalNoise" baseFrequency="0.16" numOctaves="2" seed="78"/><feColorMatrix type="matrix" values="1 0 0 0 0 1 0 0 0 0 1 0 0 0 0 0 0 0 0 1"/><feComponentTransfer><feFuncR type="table" tableValues="0.016 0.016 0.016 0.016 0.016 0.018 0.03 0.041 0.091 0.176 0.288 0.482 0.627 0.627 0.627 0.627 0.627"/><feFuncG type="table" tableValues="0.071 0.071 0.071 0.071 0.071 0.085 0.158 0.231 0.419 0.711 0.858 0.966 1 1 1 1 1"/><feFuncB type="table" tableValues="0.165 0.165 0.165 0.165 0.165 0.166 0.175 0.184 0.205 0.238 0.309 0.451 0.565 0.565 0.565 0.565 0.565"/></feComponentTransfer><feComposite in2="SourceAlpha" operator="in"/></filter><filter id="gK1" x="0" y="0" width="100%" height="100%" color-interpolation-filters="sRGB"><feTurbulence type="fractalNoise" baseFrequency="0.25" numOctaves="1" seed="79" result="n"/><feFlood flood-color="#e6dee6" result="bg"/><feColorMatrix in="n" type="matrix" values="0 0 0 0 0 0 0 0 0 0 0 0 0 0 0 0 0 0 -8 3.040" result="m0"/><feFlood flood-color="#b4b2d6"/><feComposite in2="m0" operator="in" result="c0"/><feColorMatrix in="n" type="matrix" values="0 0 0 0 0 0 0 0 0 0 0 0 0 0 0 -10 0 0 0 4.400" result="m1"/><feFlood flood-color="#a06a52"/><feComposite in2="m1" operator="in" result="c1"/><feColorMatrix in="n" type="matrix" values="0 0 0 0 0 0 0 0 0 0 0 0 0 0 0 0 -10 0 0 4.400" result="m2"/><feFlood flood-color="#a06a52"/><feComposite in2="m2" operator="in" result="c2"/><feColorMatrix in="n" type="matrix" values="0 0 0 0 0 0 0 0 0 0 0 0 0 0 0 0 0 -10 0 4.400" result="m3"/><feFlood flood-color="#a06a52"/><feComposite in2="m3" operator="in" result="c3"/><feMerge><feMergeNode in="bg"/><feMergeNode in="c0"/><feMergeNode in="c1"/><feMergeNode in="c2"/><feMergeNode in="c3"/></feMerge></filter><filter id="gK2" x="0" y="0" width="100%" height="100%" color-interpolation-filters="sRGB"><feTurbulence type="fractalNoise" baseFrequency="0.25" numOctaves="1" seed="80" result="n"/><feFlood flood-color="#e4deea" result="bg"/><feColorMatrix in="n" type="matrix" values="0 0 0 0 0 0 0 0 0 0 0 0 0 0 0 0 0 0 -8 3.360" result="m0"/><feFlood flood-color="#b8b8da"/><feComposite in2="m0" operator="in" result="c0"/><feColorMatrix in="n" type="matrix" values="0 0 0 0 0 0 0 0 0 0 0 0 0 0 0 -10 0 0 0 4.200" result="m1"/><feFlood flood-color="#a06a52"/><feComposite in2="m1" operator="in" result="c1"/><feColorMatrix in="n" type="matrix" values="0 0 0 0 0 0 0 0 0 0 0 0 0 0 0 0 -10 0 0 4.200" result="m2"/><feFlood flood-color="#a06a52"/><feComposite in2="m2" operator="in" result="c2"/><feMerge><feMergeNode in="bg"/><feMergeNode in="c0"/><feMergeNode in="c1"/><feMergeNode in="c2"/></feMerge></filter><filter id="gKi1" x="0" y="0" width="100%" height="100%" color-interpolation-filters="sRGB"><feTurbulence type="fractalNoise" baseFrequency="0.3" numOctaves="2" seed="81"/><feColorMatrix type="matrix" values="1 0 0 0 0 1 0 0 0 0 1 0 0 0 0 0 0 0 0 1"/><feComponentTransfer><feFuncR type="table" tableValues="0.753 0.753 0.753 0.753 0.753 0.757 0.775 0.793 0.812 0.829 0.846 0.863 0.867 0.867 0.867 0.867 0.867"/><feFuncG type="table" tableValues="0.643 0.643 0.643 0.643 0.643 0.648 0.673 0.697 0.722 0.751 0.78 0.81 0.816 0.816 0.816 0.816 0.816"/><feFuncB type="table" tableValues="0.659 0.659 0.659 0.659 0.659 0.664 0.688 0.713 0.737 0.769 0.801 0.833 0.839 0.839 0.839 0.839 0.839"/></feComponentTransfer></filter><filter id="gKi2" x="0" y="0" width="100%" height="100%" color-interpolation-filters="sRGB"><feTurbulence type="fractalNoise" baseFrequency="0.3" numOctaves="2" seed="82"/><feColorMatrix type="matrix" values="1 0 0 0 0 1 0 0 0 0 1 0 0 0 0 0 0 0 0 1"/><feComponentTransfer><feFuncR type="table" tableValues="0.804 0.804 0.804 0.804 0.804 0.807 0.823 0.839 0.855 0.872 0.889 0.906 0.91 0.91 0.91 0.91 0.91"/><feFuncG type="table" tableValues="0.737 0.737 0.737 0.737 0.737 0.741 0.762 0.783 0.804 0.827 0.85 0.874 0.878 0.878 0.878 0.878 0.878"/><feFuncB type="table" tableValues="0.753 0.753 0.753 0.753 0.753 0.757 0.779 0.801 0.824 0.848 0.873 0.897 0.902 0.902 0.902 0.902 0.902"/></feComponentTransfer></filter><filter id="hC1" x="0" y="0" width="100%" height="100%" color-interpolation-filters="sRGB"><feTurbulence type="fractalNoise" baseFrequency="0.11" numOctaves="1" seed="91" result="n"/><feFlood flood-color="#000712" result="bg"/><feColorMatrix in="n" type="matrix" values="0 0 0 0 0 0 0 0 0 0 0 0 0 0 0 -8 0 0 0 3.800" result="m0"/><feFlood flood-color="#3274ba"/><feComposite in2="m0" operator="in" result="c0"/><feColorMatrix in="n" type="matrix" values="0 0 0 0 0 0 0 0 0 0 0 0 0 0 0 0 -8 0 0 3.800" result="m1"/><feFlood flood-color="#3274ba"/><feComposite in2="m1" operator="in" result="c1"/><feColorMatrix in="n" type="matrix" values="0 0 0 0 0 0 0 0 0 0 0 0 0 0 0 0 0 -8 0 3.800" result="m2"/><feFlood flood-color="#3274ba"/><feComposite in2="m2" operator="in" result="c2"/><feColorMatrix in="n" type="matrix" values="0 0 0 0 0 0 0 0 0 0 0 0 0 0 0 -6 0 0 0 2.310" result="m3"/><feFlood flood-color="#8cc4f4" flood-opacity="0.4"/><feComposite in2="m3" operator="in" result="c3"/><feColorMatrix in="n" type="matrix" values="0 0 0 0 0 0 0 0 0 0 0 0 0 0 0 0 -6 0 0 2.310" result="m4"/><feFlood flood-color="#8cc4f4" flood-opacity="0.4"/><feComposite in2="m4" operator="in" result="c4"/><feColorMatrix in="n" type="matrix" values="0 0 0 0 0 0 0 0 0 0 0 0 0 0 0 0 0 -6 0 2.310" result="m5"/><feFlood flood-color="#8cc4f4" flood-opacity="0.4"/><feComposite in2="m5" operator="in" result="c5"/><feColorMatrix in="n" type="matrix" values="0 0 0 0 0 0 0 0 0 0 0 0 0 0 0 0 0 0 -16 4.320" result="m6"/><feFlood flood-color="#38e838"/><feComposite in2="m6" operator="in" result="c6"/><feMerge><feMergeNode in="bg"/><feMergeNode in="c0"/><feMergeNode in="c1"/><feMergeNode in="c2"/><feMergeNode in="c3"/><feMergeNode in="c4"/><feMergeNode in="c5"/><feMergeNode in="c6"/></feMerge><feGaussianBlur stdDeviation="0.5"/></filter><filter id="hC2" x="0" y="0" width="100%" height="100%" color-interpolation-filters="sRGB"><feTurbulence type="fractalNoise" baseFrequency="0.11" numOctaves="1" seed="92" result="n"/><feFlood flood-color="#000712" result="bg"/><feColorMatrix in="n" type="matrix" values="0 0 0 0 0 0 0 0 0 0 0 0 0 0 0 -8 0 0 0 3.880" result="m0"/><feFlood flood-color="#3f8ad0"/><feComposite in2="m0" operator="in" result="c0"/><feColorMatrix in="n" type="matrix" values="0 0 0 0 0 0 0 0 0 0 0 0 0 0 0 0 -8 0 0 3.880" result="m1"/><feFlood flood-color="#3f8ad0"/><feComposite in2="m1" operator="in" result="c1"/><feColorMatrix in="n" type="matrix" values="0 0 0 0 0 0 0 0 0 0 0 0 0 0 0 0 0 -8 0 3.880" result="m2"/><feFlood flood-color="#3f8ad0"/><feComposite in2="m2" operator="in" result="c2"/><feColorMatrix in="n" type="matrix" values="0 0 0 0 0 0 0 0 0 0 0 0 0 0 0 -6 0 0 0 2.370" result="m3"/><feFlood flood-color="#8cc4f4" flood-opacity="0.4"/><feComposite in2="m3" operator="in" result="c3"/><feColorMatrix in="n" type="matrix" values="0 0 0 0 0 0 0 0 0 0 0 0 0 0 0 0 -6 0 0 2.370" result="m4"/><feFlood flood-color="#8cc4f4" flood-opacity="0.4"/><feComposite in2="m4" operator="in" result="c4"/><feColorMatrix in="n" type="matrix" values="0 0 0 0 0 0 0 0 0 0 0 0 0 0 0 0 0 -6 0 2.370" result="m5"/><feFlood flood-color="#8cc4f4" flood-opacity="0.4"/><feComposite in2="m5" operator="in" result="c5"/><feColorMatrix in="n" type="matrix" values="0 0 0 0 0 0 0 0 0 0 0 0 0 0 0 0 0 0 -16 4.960" result="m6"/><feFlood flood-color="#38e838"/><feComposite in2="m6" operator="in" result="c6"/><feMerge><feMergeNode in="bg"/><feMergeNode in="c0"/><feMergeNode in="c1"/><feMergeNode in="c2"/><feMergeNode in="c3"/><feMergeNode in="c4"/><feMergeNode in="c5"/><feMergeNode in="c6"/></feMerge><feGaussianBlur stdDeviation="0.5"/></filter><filter id="hC3" x="0" y="0" width="100%" height="100%" color-interpolation-filters="sRGB"><feTurbulence type="fractalNoise" baseFrequency="0.11" numOctaves="1" seed="93" result="n"/><feFlood flood-color="#000712" result="bg"/><feColorMatrix in="n" type="matrix" values="0 0 0 0 0 0 0 0 0 0 0 0 0 0 0 -8 0 0 0 3.800" result="m0"/><feFlood flood-color="#3478bc"/><feComposite in2="m0" operator="in" result="c0"/><feColorMatrix in="n" type="matrix" values="0 0 0 0 0 0 0 0 0 0 0 0 0 0 0 0 -8 0 0 3.800" result="m1"/><feFlood flood-color="#3478bc"/><feComposite in2="m1" operator="in" result="c1"/><feColorMatrix in="n" type="matrix" values="0 0 0 0 0 0 0 0 0 0 0 0 0 0 0 0 0 -8 0 3.800" result="m2"/><feFlood flood-color="#3478bc"/><feComposite in2="m2" operator="in" result="c2"/><feColorMatrix in="n" type="matrix" values="0 0 0 0 0 0 0 0 0 0 0 0 0 0 0 -6 0 0 0 2.310" result="m3"/><feFlood flood-color="#8cc4f4" flood-opacity="0.4"/><feComposite in2="m3" operator="in" result="c3"/><feColorMatrix in="n" type="matrix" values="0 0 0 0 0 0 0 0 0 0 0 0 0 0 0 0 -6 0 0 2.310" result="m4"/><feFlood flood-color="#8cc4f4" flood-opacity="0.4"/><feComposite in2="m4" operator="in" result="c4"/><feColorMatrix in="n" type="matrix" values="0 0 0 0 0 0 0 0 0 0 0 0 0 0 0 0 0 -6 0 2.310" result="m5"/><feFlood flood-color="#8cc4f4" flood-opacity="0.4"/><feComposite in2="m5" operator="in" result="c5"/><feColorMatrix in="n" type="matrix" values="0 0 0 0 0 0 0 0 0 0 0 0 0 0 0 0 0 0 -16 4.800" result="m6"/><feFlood flood-color="#38e838"/><feComposite in2="m6" operator="in" result="c6"/><feMerge><feMergeNode in="bg"/><feMergeNode in="c0"/><feMergeNode in="c1"/><feMergeNode in="c2"/><feMergeNode in="c3"/><feMergeNode in="c4"/><feMergeNode in="c5"/><feMergeNode in="c6"/></feMerge><feGaussianBlur stdDeviation="0.5"/></filter><filter id="hC4" x="0" y="0" width="100%" height="100%" color-interpolation-filters="sRGB"><feTurbulence type="fractalNoise" baseFrequency="0.11" numOctaves="1" seed="94" result="n"/><feFlood flood-color="#000712" result="bg"/><feColorMatrix in="n" type="matrix" values="0 0 0 0 0 0 0 0 0 0 0 0 0 0 0 -8 0 0 0 3.920" result="m0"/><feFlood flood-color="#3f88cc"/><feComposite in2="m0" operator="in" result="c0"/><feColorMatrix in="n" type="matrix" values="0 0 0 0 0 0 0 0 0 0 0 0 0 0 0 0 -8 0 0 3.920" result="m1"/><feFlood flood-color="#3f88cc"/><feComposite in2="m1" operator="in" result="c1"/><feColorMatrix in="n" type="matrix" values="0 0 0 0 0 0 0 0 0 0 0 0 0 0 0 0 0 -8 0 3.920" result="m2"/><feFlood flood-color="#3f88cc"/><feComposite in2="m2" operator="in" result="c2"/><feColorMatrix in="n" type="matrix" values="0 0 0 0 0 0 0 0 0 0 0 0 0 0 0 -6 0 0 0 2.400" result="m3"/><feFlood flood-color="#8cc4f4" flood-opacity="0.4"/><feComposite in2="m3" operator="in" result="c3"/><feColorMatrix in="n" type="matrix" values="0 0 0 0 0 0 0 0 0 0 0 0 0 0 0 0 -6 0 0 2.400" result="m4"/><feFlood flood-color="#8cc4f4" flood-opacity="0.4"/><feComposite in2="m4" operator="in" result="c4"/><feColorMatrix in="n" type="matrix" values="0 0 0 0 0 0 0 0 0 0 0 0 0 0 0 0 0 -6 0 2.400" result="m5"/><feFlood flood-color="#8cc4f4" flood-opacity="0.4"/><feComposite in2="m5" operator="in" result="c5"/><feColorMatrix in="n" type="matrix" values="0 0 0 0 0 0 0 0 0 0 0 0 0 0 0 0 0 0 -16 4.480" result="m6"/><feFlood flood-color="#38e838"/><feComposite in2="m6" operator="in" result="c6"/><feMerge><feMergeNode in="bg"/><feMergeNode in="c0"/><feMergeNode in="c1"/><feMergeNode in="c2"/><feMergeNode in="c3"/><feMergeNode in="c4"/><feMergeNode in="c5"/><feMergeNode in="c6"/></feMerge><feGaussianBlur stdDeviation="0.5"/></filter><filter id="hT1" x="0" y="0" width="100%" height="100%" color-interpolation-filters="sRGB"><feTurbulence type="fractalNoise" baseFrequency="0.1" numOctaves="1" seed="95" result="n"/><feFlood flood-color="#06122c" result="bg"/><feTurbulence type="fractalNoise" baseFrequency="0.22" numOctaves="1" seed="98" result="n2"/><feColorMatrix in="n" type="matrix" values="0 0 0 0 0 0 0 0 0 0 0 0 0 0 0 -8 0 0 0 3.920" result="m0"/><feFlood flood-color="#2626ea"/><feComposite in2="m0" operator="in" result="c0"/><feColorMatrix in="n" type="matrix" values="0 0 0 0 0 0 0 0 0 0 0 0 0 0 0 0 -8 0 0 3.920" result="m1"/><feFlood flood-color="#2626ea"/><feComposite in2="m1" operator="in" result="c1"/><feColorMatrix in="n" type="matrix" values="0 0 0 0 0 0 0 0 0 0 0 0 0 0 0 0 0 -8 0 3.920" result="m2"/><feFlood flood-color="#2626ea"/><feComposite in2="m2" operator="in" result="c2"/><feColorMatrix in="n2" type="matrix" values="0 0 0 0 0 0 0 0 0 0 0 0 0 0 0 0 -14 0 0 5.040" result="m3"/><feFlood flood-color="#48f048" flood-opacity="0.7"/><feComposite in2="m3" operator="in" result="c3"/><feMerge><feMergeNode in="bg"/><feMergeNode in="c0"/><feMergeNode in="c1"/><feMergeNode in="c2"/><feMergeNode in="c3"/></feMerge><feGaussianBlur stdDeviation="0.5"/></filter><filter id="hT2" x="0" y="0" width="100%" height="100%" color-interpolation-filters="sRGB"><feTurbulence type="fractalNoise" baseFrequency="0.1" numOctaves="1" seed="96" result="n"/><feFlood flood-color="#06122c" result="bg"/><feTurbulence type="fractalNoise" baseFrequency="0.22" numOctaves="1" seed="99" result="n2"/><feColorMatrix in="n" type="matrix" values="0 0 0 0 0 0 0 0 0 0 0 0 0 0 0 -8 0 0 0 3.840" result="m0"/><feFlood flood-color="#2626ea"/><feComposite in2="m0" operator="in" result="c0"/><feColorMatrix in="n" type="matrix" values="0 0 0 0 0 0 0 0 0 0 0 0 0 0 0 0 -8 0 0 3.840" result="m1"/><feFlood flood-color="#2626ea"/><feComposite in2="m1" operator="in" result="c1"/><feColorMatrix in="n" type="matrix" values="0 0 0 0 0 0 0 0 0 0 0 0 0 0 0 0 0 -8 0 3.840" result="m2"/><feFlood flood-color="#2626ea"/><feComposite in2="m2" operator="in" result="c2"/><feColorMatrix in="n2" type="matrix" values="0 0 0 0 0 0 0 0 0 0 0 0 0 0 0 0 -14 0 0 4.900" result="m3"/><feFlood flood-color="#48f048" flood-opacity="0.7"/><feComposite in2="m3" operator="in" result="c3"/><feMerge><feMergeNode in="bg"/><feMergeNode in="c0"/><feMergeNode in="c1"/><feMergeNode in="c2"/><feMergeNode in="c3"/></feMerge><feGaussianBlur stdDeviation="0.5"/></filter><filter id="hT3" x="0" y="0" width="100%" height="100%" color-interpolation-filters="sRGB"><feTurbulence type="fractalNoise" baseFrequency="0.1" numOctaves="1" seed="97" result="n"/><feFlood flood-color="#04102c" result="bg"/><feTurbulence type="fractalNoise" baseFrequency="0.22" numOctaves="1" seed="100" result="n2"/><feColorMatrix in="n" type="matrix" values="0 0 0 0 0 0 0 0 0 0 0 0 0 0 0 -8 0 0 0 3.840" result="m0"/><feFlood flood-color="#2626ea"/><feComposite in2="m0" operator="in" result="c0"/><feColorMatrix in="n" type="matrix" values="0 0 0 0 0 0 0 0 0 0 0 0 0 0 0 0 -8 0 0 3.840" result="m1"/><feFlood flood-color="#2626ea"/><feComposite in2="m1" operator="in" result="c1"/><feColorMatrix in="n" type="matrix" values="0 0 0 0 0 0 0 0 0 0 0 0 0 0 0 0 0 -8 0 3.840" result="m2"/><feFlood flood-color="#2626ea"/><feComposite in2="m2" operator="in" result="c2"/><feColorMatrix in="n2" type="matrix" values="0 0 0 0 0 0 0 0 0 0 0 0 0 0 0 0 -14 0 0 5.600" result="m3"/><feFlood flood-color="#48f048" flood-opacity="1.0"/><feComposite in2="m3" operator="in" result="c3"/><feMerge><feMergeNode in="bg"/><feMergeNode in="c0"/><feMergeNode in="c1"/><feMergeNode in="c2"/><feMergeNode in="c3"/></feMerge><feGaussianBlur stdDeviation="0.5"/></filter><filter id="hT4" x="0" y="0" width="100%" height="100%" color-interpolation-filters="sRGB"><feTurbulence type="fractalNoise" baseFrequency="0.1" numOctaves="1" seed="98" result="n"/><feFlood flood-color="#060e26" result="bg"/><feTurbulence type="fractalNoise" baseFrequency="0.22" numOctaves="1" seed="101" result="n2"/><feColorMatrix in="n" type="matrix" values="0 0 0 0 0 0 0 0 0 0 0 0 0 0 0 -8 0 0 0 3.720" result="m0"/><feFlood flood-color="#2626ea"/><feComposite in2="m0" operator="in" result="c0"/><feColorMatrix in="n" type="matrix" values="0 0 0 0 0 0 0 0 0 0 0 0 0 0 0 0 -8 0 0 3.720" result="m1"/><feFlood flood-color="#2626ea"/><feComposite in2="m1" operator="in" result="c1"/><feColorMatrix in="n" type="matrix" values="0 0 0 0 0 0 0 0 0 0 0 0 0 0 0 0 0 -8 0 3.720" result="m2"/><feFlood flood-color="#2626ea"/><feComposite in2="m2" operator="in" result="c2"/><feColorMatrix in="n2" type="matrix" values="0 0 0 0 0 0 0 0 0 0 0 0 0 0 0 0 -14 0 0 3.920" result="m3"/><feFlood flood-color="#48f048" flood-opacity="1.0"/><feComposite in2="m3" operator="in" result="c3"/><feMerge><feMergeNode in="bg"/><feMergeNode in="c0"/><feMergeNode in="c1"/><feMergeNode in="c2"/><feMergeNode in="c3"/></feMerge><feGaussianBlur stdDeviation="0.5"/></filter><filter id="bBeige" x="0" y="0" width="100%" height="100%" color-interpolation-filters="sRGB"><feTurbulence type="fractalNoise" baseFrequency="0.035" numOctaves="2" seed="25"/><feColorMatrix type="matrix" values="0 0 0 0 0 0 0 0 0 0 0 0 0 0 0 -8 0 0 0 3.200" result="m"/><feFlood flood-color="#e6e2e2" flood-opacity="0.85"/><feComposite in2="m" operator="in"/><feComposite in2="SourceAlpha" operator="in"/></filter><filter id="bBeigei" x="0" y="0" width="100%" height="100%" color-interpolation-filters="sRGB"><feTurbulence type="fractalNoise" baseFrequency="0.018" numOctaves="2" seed="26"/><feColorMatrix type="matrix" values="0 0 0 0 0 0 0 0 0 0 0 0 0 0 0 -10 0 0 0 4.000" result="m"/><feFlood flood-color="#e6e2e2" flood-opacity="0.85"/><feComposite in2="m" operator="in"/><feComposite in2="SourceAlpha" operator="in"/></filter><filter id="eHole2i" x="0" y="0" width="100%" height="100%" color-interpolation-filters="sRGB"><feTurbulence type="fractalNoise" baseFrequency="0.018" numOctaves="2" seed="52"/><feColorMatrix type="matrix" values="0 0 0 0 0 0 0 0 0 0 0 0 0 0 0 -16 0 0 0 5.600" result="m"/><feFlood flood-color="#f4f2f8" flood-opacity="1"/><feComposite in2="m" operator="in"/><feComposite in2="SourceAlpha" operator="in"/></filter><filter id="hHaze" x="0" y="0" width="100%" height="100%" color-interpolation-filters="sRGB"><feTurbulence type="fractalNoise" baseFrequency="0.05" numOctaves="2" seed="99"/><feColorMatrix type="matrix" values="0 0 0 0 0 0 0 0 0 0 0 0 0 0 0 -5 0 0 0 2.200" result="m"/><feFlood flood-color="#30c040" flood-opacity="0.35"/><feComposite in2="m" operator="in"/><feComposite in2="SourceAlpha" operator="in"/><feGaussianBlur stdDeviation="1.2"/></filter><filter id="fNet" x="0" y="0" width="100%" height="100%" color-interpolation-filters="sRGB"><feTurbulence type="fractalNoise" baseFrequency="0.055" numOctaves="2" seed="100"/><feColorMatrix type="matrix" values="0 0 0 0 0 0 0 0 0 0 0 0 0 0 0 -16 0 0 0 8.720" result="m"/><feFlood flood-color="#000003" flood-opacity="1"/><feComposite in2="m" operator="in"/><feComposite in2="SourceAlpha" operator="in"/></filter><filter id="fNet2" x="0" y="0" width="100%" height="100%" color-interpolation-filters="sRGB"><feTurbulence type="fractalNoise" baseFrequency="0.055" numOctaves="2" seed="101"/><feColorMatrix type="matrix" values="0 0 0 0 0 0 0 0 0 0 0 0 0 0 0 -16 0 0 0 8.720" result="m"/><feFlood flood-color="#000003" flood-opacity="1"/><feComposite in2="m" operator="in"/><feComposite in2="SourceAlpha" operator="in"/></filter><filter id="fNeti" x="0" y="0" width="100%" height="100%" color-interpolation-filters="sRGB"><feTurbulence type="fractalNoise" baseFrequency="0.028" numOctaves="2" seed="102"/><feColorMatrix type="matrix" values="0 0 0 0 0 0 0 0 0 0 0 0 0 0 0 -20 0 0 0 10.900" result="m"/><feFlood flood-color="#000003" flood-opacity="1"/><feComposite in2="m" operator="in"/><feComposite in2="SourceAlpha" operator="in"/></filter><filter id="fNet2i" x="0" y="0" width="100%" height="100%" color-interpolation-filters="sRGB"><feTurbulence type="fractalNoise" baseFrequency="0.028" numOctaves="2" seed="103"/><feColorMatrix type="matrix" values="0 0 0 0 0 0 0 0 0 0 0 0 0 0 0 -20 0 0 0 10.900" result="m"/><feFlood flood-color="#000003" flood-opacity="1"/><feComposite in2="m" operator="in"/><feComposite in2="SourceAlpha" operator="in"/></filter>
<pattern id="pbK1" width="63" height="56" patternUnits="userSpaceOnUse"><rect width="63" height="56" fill="#d6d2ef"/><g fill="none" stroke-linecap="round"><path stroke="#5e5ec2" stroke-width="2.9" d="M11.6 2.6h0M40.3 2h0M50.8 1.5h0M50.8 57.5h0M9.5 6h0M34.4 4.4h0M40.7 4.9h0M50.3 4.5h0M-.2 5.9h0M62.8 5.9h0M5 8.1h0M33.3 7.6h0M39.6 8.3h0M57.1 9.8h0M16.4 12.7h0M31.4 11.9h0M11 16.7h0M46.7 16.1h0M51.1 15.4h0M61.4 14.9h0M33.7 18.4h0M39.8 18.6h0M37.5 22.5h0M57.2 22.2h0M49.4 25.7h0M52.2 26.2h0M16.8 28.5h0M18.6 28.7h0M33.5 29.9h0M46.4 28.7h0M13.7 34.3h0M41.6 33.9h0M6.2 37.5h0M11.7 37.8h0M20.1 38.1h0M27.3 37.5h0M-.8 37.5h0M62.2 37.5h0M26.8 39.5h0M28.8 42.8h0M34.1 42.6h0M53.2 45.1h0M16.3 47.3h0M31.7 47.6h0M42.9 46.9h0M13.5 51.7h0M26.5 49.8h0M32.2 51h0M51.7 49.8h0M6.3 54h0M14.2 54.3h0M24.2 54.2h0M52.2 54.4h0"/><path stroke="#5e5ec2" stroke-width="3.2" d="M2.7 2.5h0M5.2 1.4h0M5.2 57.4h0M14.5 .5h0M14.5 56.5h0M20.5 2.4h0M37.8 .9h0M37.8 56.9h0M59.9 5h0M1.2 9.7h0M64.2 9.7h0M19.3 7.5h0M48 8.3h0M7.8 12.5h0M9.8 12.9h0M22.1 12.9h0M34.3 11.1h0M38.7 11.8h0M41.2 13h0M53.1 11h0M57 11.3h0M9.4 16.3h0M15.6 15.6h0M19.1 15.5h0M25.9 14.8h0M33.4 14.9h0M4.1 20h0M19.9 20.2h0M32.6 19.7h0M42.1 18.6h0M22.8 22.4h0M41.1 23h0M43.5 23.2h0M51 21.6h0M3.4 26.4h0M10.2 26h0M32.2 27.3h0M58.9 26.4h0M2.5 30.7h0M11.4 33.3h0M23.7 33h0M48.3 32.6h0M53.7 33.6h0M55.6 33.3h0M59.7 34.3h0M44 36.6h0M50.5 37.2h0M58.7 36.4h0M32.7 39.2h0M49.3 40.8h0M53.5 41.6h0M2.4 44.7h0M4.6 42.8h0M13.4 43.1h0M15 43.4h0M19.9 44.4h0M47.8 43.4h0M56.6 42.5h0M-1.2 44.3h0M61.8 44.3h0M7.8 47.8h0M15.2 46.7h0M39.3 48h0M58.9 46.9h0M2.6 51h0M20.3 51.9h0M28.9 51.1h0M47.1 50.5h0M54.7 51.9h0M30.2 -.5h0M30.2 55.5h0M34.1 53.3h0M41.7 54h0M49.6 53.8h0"/><path stroke="#5e5ec2" stroke-width="3.5" d="M30.1 2.3h0M43.5 2.2h0M53.7 2.7h0M-.8 1h0M-.8 57h0M62.2 1h0M62.2 57h0M4.6 5.7h0M17.1 4.8h0M32.2 4.6h0M8 9.8h0M11 8h0M15.6 7.9h0M21.5 8h0M51.5 9.6h0M55.4 7.6h0M14.1 13.1h0M47.7 11.6h0M-.5 11.2h0M62.5 11.2h0M40.6 15h0M43 15.5h0M54.8 16.7h0M57.7 14.6h0M6.6 19.3h0M12.9 18.6h0M29.1 20.5h0M0 19.4h0M63 19.4h0M2.4 22.3h0M7.7 23.9h0M33.6 23.1h0M47.2 22.7h0M7.6 27.1h0M25.1 27.2h0M28.6 26.5h0M4.7 28.9h0M9.9 28.5h0M12.4 29.1h0M51.7 28.6h0M53.9 31h0M4.5 32.1h0M31.3 32.8h0M35 33.3h0M46.3 32.3h0M31.9 35.7h0M47.4 38h0M25.1 41.1h0M43 39.2h0M1 40.8h0M64 40.8h0M9 45h0M11 47.6h0M20.4 46h0M51.2 48.1h0M15.3 51.8h0M22.2 51.6h0M41.5 50.3h0M58.5 50.2h0M-.6 49.5h0M62.4 49.5h0M28.2 -1.4h0M28.2 54.6h0M55.3 53.1h0M59.3 -.8h0M59.3 55.2h0"/><path stroke="#8484d4" stroke-width="2.7" d="M9.6 1.6h0M47.9 .7h0M47.9 56.7h0M44.4 12.5h0M60.7 11.4h0M20.8 26.9h0M21.8 29.2h0M29.1 30h0M61.3 28.7h0M55.4 37.8h0M19.9 39.3h0M35.6 41.6h0M50.1 44.5h0M23.5 47.8h0M48.5 47.7h0M-.1 46h0M62.9 46h0M9.6 50.1h0M37.6 49.9h0M4.3 53.5h0"/><path stroke="#8484d4" stroke-width="3.0" d="M22.9 1.3h0M22.9 57.3h0M24.7 6.2h0M38.9 4.7h0M57.3 5.6h0M25.8 8h0M29.3 9.8h0M36.8 15.8h0M19.8 24h0M54.3 23.9h0M34.3 26.8h0M58.2 30.8h0M10.5 40.9h0M27.6 43h0"/><path stroke="#8484d4" stroke-width="3.3" d="M20.6 5.5h0M51.6 5.8h0M37.8 8h0M6.1 16.1h0M18.7 18.3h0M49 20.2h0M4.7 22.5h0M27.5 22.3h0M42.8 25h0M36.9 29.9h0M40.7 30.3h0M17.4 34.5h0M28.2 32h0M.7 36.1h0M63.7 36.1h0M39.3 41.2h0M56.8 41.3h0M21.6 43.3h0M57 47.1h0M43.7 50.7h0M18.1 -1.2h0M18.1 54.8h0M38.9 -.4h0M38.9 55.6h0"/><path stroke="#7a3420" stroke-width="2.7" d="M56.9 1.8h0M44 10h0M60.7 9.5h0M2.2 12h0M2.8 14.8h0M23.5 16.9h0M45.4 20.2h0M51.7 20.1h0M31 21.6h0M37.8 25.8h0M-.5 26.5h0M62.5 26.5h0M22.8 36.4h0M16.4 39.3h0M46.6 39.2h0M41 44.6h0M36.1 46.3h0M9.8 -1h0M9.8 55h0M.6 53.1h0M63.6 53.1h0"/><path stroke="#7a3420" stroke-width="3.0" d="M33.8 2.3h0M13.6 5.4h0M29.2 4.1h0M23.3 13.3h0M25.6 19h0M17 22.6h0M17.9 27.2h0M7.8 34.1h0M21.1 34.3h0M38 32.1h0M8.6 37h0M16.2 36.9h0M37.5 37.1h0M40.4 37.6h0M2.6 39.3h0M6 41h0M15.1 39.5h0M36 43.9h0M43 44.2h0M3.5 46.8h0M6 50.9h0"/><path stroke="#7a3420" stroke-width="3.3" d="M27.4 1.5h0M27.4 57.5h0M7.8 6.1h0M44.8 5.9h0M27.2 12.6h0M56.7 19.4h0M11.7 23h0M60.6 21.6h0M13.5 25.5h0M46 27.1h0M26 30.1h0M.3 34.1h0M63.3 34.1h0M31 35.4h0M59.5 38.9h0M28.1 47.4h0M44.6 -1.6h0M44.6 54.4h0"/></g></pattern><pattern id="pbK1i" width="70" height="66" patternUnits="userSpaceOnUse"><rect width="70" height="66" fill="#cfcbea"/><g fill="none" stroke-linecap="round"><path stroke="#6a6ac6" stroke-width="5.4" d="M7.4 5.5l.8 .4M16 5.3l-1.1 1M64.7 4.6l-.2 .4M8.3 11.6l-.6 .4M35.9 9.3l-.2 0M10 17.9l.2 1.1M22.2 17.7l-1.1 .4M-.9 17.4l-.1 .1M69.1 17.4l-.1 .1M6 25.1l.7 1.1M32.8 21l-.7 1.1M43.7 21.7l0 .2M61.5 21.5l1.3 .5M-1 23.9l.1 0M69 23.9l.1 0M8.8 31.4l-.1 .1M32.9 29.8l.1 .9M42.8 27.7l.7 .4M48.4 31.1l-.5 .3M-1.4 27.4l-.5 .3M68.6 27.4l-.5 .3M4.6 35.8l-.6 .1M42.7 35.9l.4 .4M20.4 43.7l-.8 .1M56.9 50.4l-1.1 .2M15.6 56.5l-.4 1.2M30.5 57.2l-.6 .2M40.1 58l0 .4M28 60.8l-.6 1.2"/><path stroke="#6a6ac6" stroke-width="5.9" d="M20.3 11.3l-.3 .9M32.5 11l-1.3 1.2M62.9 8.2l-.1 .3M-1.7 9.5l-.3 .1M68.3 9.5l-.3 .1M34.7 13.8l.3 .4M52.7 24.7l0 .5M20.6 28l-.2 1.5M54.3 27.8l1.1 .6M25.8 37.6l.4 1.7M39.3 36.7l-.4 .8M59.6 33.5l-.1 1M1.8 45l.6 .5M71.8 45l.6 .5M29.9 44.9l.1 .3M45.1 40.4l.9 .4M51.7 40.4l.8 1.2M23.7 47.8l-.5 .9M31 48.9l.3 0M22.4 57.6l-1 1.1M40.3 60.8l-.8 .7M55.5 -1.5l-.8 0M55.5 64.5l-.8 0M64.4 -1.6l.1 .5M64.4 64.4l.1 .5"/><path stroke="#6a6ac6" stroke-width="6.4" d="M12.9 7.9l.3 .1M60.2 14.6l1 .9M40 22.3l-1.4 1.1M3.4 29.5l.1 .3M73.4 29.5l.1 .3M10.7 34.6l.1 0M49.6 37.9l.3 .8M.6 35.8l-1 1.6M70.6 35.8l-1 1.6M8.3 42.4l-.5 1M33.3 40.9l1.3 .3M39.9 42.5l1.1 .2M62.1 49.3l.6 .1M45.1 57.6l.6 .2M48.8 60.2l.1 1.8M.4 60.5l-.8 .8M70.4 60.5l-.8 .8"/><path stroke="#8e8ed6" stroke-width="5.0" d="M1.7 2.7l-.8 .1M1.7 68.7l-.8 .1M71.7 2.7l-.8 .1M71.7 68.7l-.8 .1M20.7 2.7l.3 .2M20.7 68.7l.3 .2M42.5 1.6l0 .4M42.5 67.6l0 .4M27.8 9.2l.1 1.2M13.4 16.1l.4 .3M10.8 24.9l1.2 .1M21.3 38l.2 .3M34.5 37.3l-.8 .2M19 47.5l-.3 .5"/><path stroke="#8e8ed6" stroke-width="5.5" d="M34.5 1.1l-.2 .3M34.5 67.1l-.2 .3M48.9 3.1l-1.6 .2M48.9 69.1l-1.6 .2M58.2 9.4l.3 .5M28 17.2l.8 .1M56 17.1l.4 .5"/><path stroke="#8e8ed6" stroke-width="6.0" d="M59.7 1.5l-.5 .3M59.7 67.5l-.5 .3M51.5 10l-.6 .3M48.7 18.1l.6 .4M19.6 22.7l-1.1 .7M63.9 36.1l-1.2 .6M13.7 45.1l0 0M34.3 56.7l1.5 .9M55.6 54.2l.4 .3"/><path stroke="#6e3424" stroke-width="5.0" d="M45.7 11.9l-1.3 .2M40.1 15.5l.2 .1M24.1 21l-.6 .1M61.4 28.5l-1 1M50.6 48.7l.9 .3M1.5 56.6l-1.4 0M71.5 56.6l-1.4 0M7.5 62.7l-.3 .2"/><path stroke="#6e3424" stroke-width="5.4" d="M28.8 5.5l.2 .1M2.7 16.4l-.9 1M72.7 16.4l-.9 1M61.7 44.7l-1.3 .7M.9 48.3l.4 .7M70.9 48.3l.4 .7M9.3 56.1l.6 1.4M61.1 56.7l-.1 .3M66.8 58.3l.1 .1M19 -1l.1 .2M19 65l.1 .2M30.6 -1.3l.3 .5M30.6 64.7l.3 .5M46.5 61.4l0 .1"/><path stroke="#6e3424" stroke-width="5.8" d="M59.2 23.9l.2 1.1M16.5 31l0 1M7.2 50.2l-.1 1.4M13.7 50.6l-.1 1.1M36.1 47.2l.4 .9M46.3 46.8l.4 .5M15.1 61.5l-.6 .5"/></g></pattern><pattern id="pbK2" width="63" height="56" patternUnits="userSpaceOnUse"><rect width="63" height="56" fill="#e8e7f3"/><g fill="none" stroke-linecap="round"><path stroke="#5252bc" stroke-width="2.3" d="M22.6 1.1h0M22.6 57.1h0M28.9 1h0M28.9 57h0M33.3 3.1h0M14 6.4h0M24.9 4.6h0M35.6 4h0M37.2 4.2h0M44.9 6.1h0M47.7 5.5h0M26 7.5h0M43.4 9.2h0M46.9 7.8h0M49.7 7.9h0M4.6 12.7h0M11.5 12h0M22 12.6h0M25.7 11.1h0M26.3 16.3h0M58.6 15.4h0M61.3 16.8h0M8.2 19.9h0M23.8 19.4h0M36.1 19.3h0M49.3 20.1h0M52.2 19.2h0M58.7 19.7h0M13.4 22.9h0M9.9 27.3h0M27.9 27.3h0M41.6 25.9h0M12 29.8h0M22.2 30.5h0M25.5 28.5h0M40.3 29.1h0M42.7 28.7h0M54.3 30.9h0M3.3 33h0M11 33.8h0M14.7 32.5h0M21.6 34.2h0M44.3 34.3h0M1.1 35.9h0M64.1 35.9h0M27.1 35.7h0M8.2 40.9h0M13.9 39.9h0M28.5 40.9h0M30.3 40.6h0M45.1 41.4h0M11.7 44.8h0M19.5 42.6h0M16.9 48.4h0M37.6 46.5h0M7.5 50.7h0M12 51.2h0M19.4 50h0M25.7 50.8h0M46.4 49.9h0M61 51.6h0M31 54.8h0M36.1 53h0M41.6 -.5h0M41.6 55.5h0M46.2 -1.1h0M46.2 54.9h0M56.3 -.5h0M56.3 55.5h0"/><path stroke="#5252bc" stroke-width="2.5" d="M15 .5h0M15 56.5h0M20.1 2.7h0M48.5 3h0M50.6 1.8h0M55.1 1.4h0M12.2 8h0M20 9.9h0M22.3 9.7h0M29.1 7.8h0M54.7 8.6h0M58.8 10h0M8.1 12.5h0M16.2 12.1h0M27.7 12.8h0M30.5 11.2h0M37.3 12.8h0M58.8 12.2h0M1.4 17.1h0M46.8 19.6h0M55.9 17.9h0M.1 20.4h0M63.1 20.4h0M2.1 23.5h0M9.7 23.5h0M20.1 22.4h0M22.3 22.4h0M7.3 26.7h0M18.7 25.3h0M24.6 25.5h0M34 25.5h0M47.8 26.1h0M58.3 27h0M30.6 29.7h0M47.6 29.3h0M-.5 28.9h0M62.5 28.9h0M6.9 32.7h0M17.8 33.9h0M49.4 32.2h0M11.1 36.4h0M47.1 36.2h0M-.6 36.3h0M62.4 36.3h0M1.9 44h0M16.9 43h0M25.1 43.8h0M34.5 43.9h0M41.1 44.7h0M46.3 43.5h0M49.9 43.6h0M6.4 46.6h0M22.1 47.9h0M31.8 48h0M42 48.5h0M56.4 47h0M58.2 48.1h0M23.5 50.5h0M3.7 54.2h0M17.3 53.3h0M52.3 53.9h0"/><path stroke="#5252bc" stroke-width="2.8" d="M7.6 2.6h0M27.4 2.8h0M58.4 1.9h0M60.8 2.3h0M10.5 5.6h0M51.3 4.8h0M59.5 4.7h0M36.6 8.1h0M60 9h0M36.2 12.8h0M41.7 12.2h0M.5 11.1h0M63.5 11.1h0M19.7 16.2h0M37.3 16.6h0M40.3 15.7h0M47.6 15.4h0M54.9 16.7h0M14.8 20h0M21 19.5h0M42.5 18.8h0M6.4 22.8h0M32.2 22.1h0M39.3 21.8h0M43.5 23.6h0M51.3 23.9h0M19.9 27.3h0M37.4 25.4h0M53.4 25.8h0M.3 25.2h0M63.3 25.2h0M33.2 29.9h0M35.5 29.9h0M23.3 32.4h0M29.1 33.9h0M34.4 32.5h0M55.8 32.6h0M60.6 32.5h0M16.1 37.2h0M29.3 36.3h0M34.1 35.6h0M37 35.8h0M2.8 39.5h0M17.6 41.3h0M19.8 40.8h0M38.6 40.7h0M41.5 40.7h0M60.7 39h0M.5 41.6h0M63.5 41.6h0M4.4 44.1h0M23.3 42.6h0M30.5 42.8h0M42.8 43.4h0M2.2 46.7h0M11.4 47.1h0M24.8 47.6h0M45 48.4h0M2.6 50.3h0M5.6 50h0M29.4 51.6h0M40.5 50.1h0M44.7 49.4h0M55 49.8h0M58.1 50.6h0M7.8 -.7h0M7.8 55.3h0M9.6 54.2h0M13.4 -.6h0M13.4 55.4h0M37.4 -.9h0M37.4 55.1h0M50 -1.1h0M50 54.9h0M.9 53.3h0M63.9 53.3h0"/><path stroke="#7a3420" stroke-width="2.3" d="M19.7 6.1h0M30.9 6.1h0M33.3 10h0M25.3 23.3h0M57.2 38h0M35.3 40.6h0"/><path stroke="#7a3420" stroke-width="2.6" d="M40 1.8h0M16.6 14.5h0M21.8 17h0M1 34.2h0M64 34.2h0M24.1 39.9h0M48.6 41h0"/><path stroke="#7a3420" stroke-width="2.9" d="M4.6 4.7h0M30.3 15.5h0M16 28.7h0M27.9 53.1h0"/></g></pattern><pattern id="pbK2i" width="70" height="66" patternUnits="userSpaceOnUse"><rect width="70" height="66" fill="#e8e7f2"/><g fill="none" stroke-linecap="round"><path stroke="#5656bc" stroke-width="4.4" d="M7.3 2.4h0M18.1 5.2h0M23.6 3.4h0M62 2.3h0M67.2 1.9h0M67.2 67.9h0M17.9 10.2h0M52.5 10.6h0M61.7 7.4h0M15.8 18.5h0M29.5 17.8h0M45.6 15.7h0M56.4 18.3h0M58.9 15.2h0M7.1 22.3h0M12.1 20.7h0M33.6 22.1h0M51.3 23h0M10.1 30h0M16 29.6h0M7.3 34.4h0M27.9 36.9h0M52.8 35.5h0M1.7 42.7h0M71.7 42.7h0M43.5 44.2h0M59.3 44.6h0M5.6 47h0M51.7 50.1h0M.5 51.2h0M70.5 51.2h0M57.6 61.1h0"/><path stroke="#5656bc" stroke-width="4.8" d="M8 8.8h0M38.3 9.9h0M41.1 18.5h0M-.8 18.9h0M69.2 18.9h0M26.1 23.2h0M56.6 24.5h0M66 24h0M37 28.9h0M52 30.3h0M58.1 27.8h0M64.8 30.3h0M32.1 35.7h0M55.5 36.6h0M-1.3 36.1h0M68.7 36.1h0M13.9 44.2h0M29.4 45.2h0M55.7 44.3h0M65.4 45.1h0M17.6 48.2h0M34.2 51h0M37.9 48.6h0M15.6 57.8h0M27.8 53.7h0M33.8 55.7h0M39.1 54.2h0M60.4 56.9h0M67.4 54.8h0M14.7 61.2h0M65.5 -1h0M65.5 65h0M1.4 -.9h0M1.4 65.1h0M71.4 -.9h0M71.4 65.1h0"/><path stroke="#5656bc" stroke-width="5.2" d="M10.6 18.9h0M24.1 18.4h0M33.5 17.3h0M20 23.8h0M44.3 23.4h0M-2.2 21.8h0M67.8 21.8h0M23.8 31.9h0M39.9 30.6h0M47.1 30.1h0M17.5 37.8h0M7.3 42.4h0M36.8 40.6h0M45.4 49.2h0M61.9 50.9h0M2.2 57.4h0M72.2 57.4h0M10.9 55.6h0M47.2 56.3h0M4.8 61.3h0M37 61.1h0"/><path stroke="#6e3424" stroke-width="4.2" d="M39.3 1.4h0M39.3 67.4h0M52.5 2.3h0M11.2 8.2h0M31.1 9.8h0M43.9 11.5h0M37.9 36.6h0M23.7 44.2h0M58.9 47.2h0"/><path stroke="#6e3424" stroke-width="4.6" d="M1.8 2.3h0M71.8 2.3h0M-.9 12.2h0M69.1 12.2h0M5.5 16.2h0"/><path stroke="#6e3424" stroke-width="5.0" d="M47.4 3h0M23.2 7.4h0M12.6 47.3h0"/></g></pattern><pattern id="peK1" width="64" height="60" patternUnits="userSpaceOnUse"><rect width="64" height="60" fill="#d8d2e6"/><g fill="none" stroke-linecap="round"><path stroke="#84422e" stroke-width="3.4" d="M-.8 .6h0M-.8 60.6h0M63.2 .6h0M63.2 60.6h0M13.7 6.7h0M-.9 5.4h0M63.1 5.4h0M3.2 9.9h0M21.1 8.8h0M48.2 10.5h0M49.7 9.4h0M3.1 14.2h0M7.7 12.8h0M11.4 12.9h0M30.8 14h0M34.2 13.9h0M42.7 12.9h0M.8 11.8h0M64.8 11.8h0M1.5 17.8h0M65.5 17.8h0M27.9 16.4h0M39.9 18h0M61.7 16.4h0M25.1 19.7h0M57.8 21.1h0M-.9 21h0M63.1 21h0M15.8 23.7h0M29.2 23.3h0M58.7 23.3h0M8.8 29.2h0M10 27.7h0M17.8 29.1h0M26.2 28.9h0M48.6 29.1h0M51.8 27.9h0M56.8 28h0M59.7 26.8h0M1.6 31h0M65.6 31h0M17.8 32.2h0M20.5 30.7h0M23.3 30.9h0M50.7 32.5h0M9 34.2h0M30 36h0M51.5 35.2h0M6.3 40.4h0M28.1 40.5h0M49.8 39.5h0M59.2 40.7h0M21.2 41.8h0M29.7 43.5h0M40.9 43.2h0M37.2 46.3h0M39.2 48.1h0M42.9 45.9h0M4.7 49.6h0M8.6 49.5h0M25.7 52h0M29.3 52h0M56.3 51.8h0M1.1 49.8h0M65.1 49.8h0M12.6 54.5h0M15.8 53h0M22.1 54.3h0M32.7 55.8h0M10.8 -1.1h0M10.8 58.9h0M18 57.5h0M34.2 -1.5h0M34.2 58.5h0M37.8 58h0"/><path stroke="#84422e" stroke-width="3.6" d="M28.5 3.2h0M57.1 3h0M12.6 7h0M30.2 5.8h0M48.2 5.5h0M59.2 5.6h0M6.3 8.6h0M38.7 8.1h0M54.3 10.6h0M15.8 11.8h0M19.8 11.9h0M21.4 12.8h0M45.7 11.9h0M60.3 14h0M4.5 16.8h0M52.1 17.9h0M55.6 17.1h0M22.9 21.1h0M29.4 21.8h0M34.4 19.2h0M36.4 21h0M48.6 21.4h0M20.7 23.7h0M43.5 23.5h0M13.7 27.7h0M29.9 29.1h0M36.3 28h0M42.6 28.8h0M4.6 30.6h0M31.9 31.5h0M36.1 33.1h0M48.3 31.5h0M55.3 33.1h0M41.4 36.1h0M48.6 34.5h0M10.7 39.3h0M20.6 38.5h0M24 40.1h0M44.6 38.8h0M2.6 42.6h0M35.3 43.3h0M55.9 42.7h0M.2 41.8h0M64.2 41.8h0M14.5 47.4h0M16.3 47h0M19.7 48h0M31 46.1h0M48.3 46.8h0M12.7 51.2h0M41.2 50.8h0M6.3 55.2h0M8.3 55.5h0M24.3 54.7h0M47.3 53.2h0M52 54.1h0M-1.2 53.5h0M62.8 53.5h0M16.1 -.9h0M16.1 59.1h0M22.1 57h0M53.7 57.1h0M57.5 58.1h0"/><path stroke="#84422e" stroke-width="3.9" d="M2 1.5h0M2 61.5h0M5.9 3h0M14.2 1.1h0M14.2 61.1h0M15.6 2.7h0M21.5 2.8h0M41.9 1.2h0M41.9 61.2h0M9 5.1h0M18.5 5.5h0M37.3 5.9h0M41.3 6.1h0M56.1 6.4h0M8.3 9.5h0M12.5 10.3h0M33.3 10.6h0M25.5 12.6h0M37.5 12.8h0M52 13h0M57.6 14h0M10.3 15.6h0M12.4 17h0M46.2 16.2h0M4.3 21.2h0M8.4 20.8h0M14.3 19.9h0M41.5 19.5h0M45 20.7h0M60.3 19.4h0M3.1 24.2h0M5.2 25h0M13.8 25.1h0M32.2 25.5h0M52 23.8h0M54 25.4h0M-1.8 24.3h0M62.2 24.3h0M34.5 28.2h0M14 33.2h0M39.3 31.9h0M44.5 30.9h0M-1.4 30.7h0M62.6 30.7h0M4.1 34.3h0M13.8 34.6h0M-.2 34.9h0M63.8 34.9h0M15.8 40h0M34.8 38.8h0M47.9 38.8h0M6.8 41.8h0M27.5 43h0M37 42.4h0M46.4 43.4h0M53.2 42.8h0M4.9 46h0M24.9 45.9h0M54.5 47h0M58 47.6h0M15.2 50.5h0M18.7 50.8h0M35.2 50.5h0M36.7 51h0M47.7 50.6h0M53.3 50.2h0M59.2 49.8h0M2 55.6h0M36.9 54.7h0M44.6 53.1h0M54.7 53.5h0M58.4 54.7h0M25.4 -1.9h0M25.4 58.1h0M29.4 -1.4h0M29.4 58.6h0M42.6 -1.3h0M42.6 58.7h0M50.4 -1.9h0M50.4 58.1h0M58.9 57.7h0M.7 -1.7h0M.7 58.3h0M64.7 -1.7h0M64.7 58.3h0"/><path stroke="#8e8ec8" stroke-width="2.9" d="M53.3 2.9h0M45.1 5.9h0M59.7 9.5h0M61.3 9.5h0M16.4 17.1h0M31.2 18.1h0M57.8 16.2h0M12.6 21.4h0M53.2 21.9h0M25.7 24.2h0M4.7 29.3h0M23.3 27.7h0M44.8 27.8h0M-.3 26.8h0M63.7 26.8h0M57.4 32.6h0M10.8 35.5h0M57 35.2h0M13.4 38h0M9.8 45.8h0M27.3 47.8h0M61.2 48.2h0M28.6 55.1h0M39.3 54.6h0M4.1 58.1h0"/><path stroke="#8e8ec8" stroke-width="3.2" d="M10.8 1.8h0M25.6 2.5h0M31 1.1h0M31 61.1h0M51.3 2.3h0M4 5.8h0M26.7 6.2h0M51.8 6.4h0M15.9 8.8h0M24.3 17.4h0M18 19.9h0M47.9 25.5h0M28.3 31.4h0M34.9 34.5h0M59.4 35.2h0M53.2 40.8h0M47.8 42.1h0M59.6 44.4h0M51.5 47h0M46.2 50.3h0M8.8 57h0"/><path stroke="#8e8ec8" stroke-width="3.5" d="M36.8 1.7h0M36.8 61.7h0M39.8 2.1h0M48.1 3.2h0M23.1 4.5h0M23.5 8h0M36.5 10.1h0M42.6 8.1h0M47.6 12.6h0M36 17.1h0M43.2 17.4h0M8.5 24.3h0M35.5 25.1h0M39.8 25.4h0M22 34.8h0M27.2 35.9h0M37.5 34.8h0M45 34.5h0M2.5 40.4h0M32.8 39.9h0M61.5 40.5h0M15.8 43.3h0M19.7 43.2h0M22.9 52h0"/></g></pattern><pattern id="peK1i" width="72" height="70" patternUnits="userSpaceOnUse"><rect width="72" height="70" fill="#dcd6ea"/><g fill="none" stroke-linecap="round"><path stroke="#8a4832" stroke-width="5.9" d="M46 2.8l-.6 .2M46 72.8l-.6 .2M54.7 5.3l.5 .2M31.1 12.8l-.4 .4M50.2 12.2l-1 .5M1 19.8l-.2 .1M73 19.8l-.2 .1M20.7 17l-1.1 1M31.8 18.1l-.1 1.5M59.6 15l.1 .2M12.9 26.5l-.8 .4M33.9 25.9l-.2 .1M55.6 24.2l-.4 1.3M4.8 30.9l-.5 .2M33.8 30l.8 .5M47.4 30.7l-1 .1M23.2 39.4l1.1 0M19 43.6l-.3 .6M39.1 54.5l-1.6 .1M65 49.8l-.5 .4M62.9 61.6l.6 .4M16.2 65.2l-.5 1.2M27.2 -3.2l.3 1.2M27.2 66.8l.3 1.2M62.3 -2.1l.3 .4M62.3 67.9l.3 .4M-.6 -2.8l1.4 .8M-.6 67.2l1.4 .8M71.4 -2.8l1.4 .8M71.4 67.2l1.4 .8"/><path stroke="#8a4832" stroke-width="6.4" d="M20.5 3.4l-.1 1.7M20.5 73.4l-.1 1.7M23.6 12.3l.2 .9M22.6 18.7l-.1 1.4M37.9 17.2l-.1 .9M44.8 14.6l1.2 .8M29.8 22.8l-.7 .5M16.6 31l.1 .2M53.9 33.3l-.2 0M65.1 37l-.7 .7M-1.8 38.1l-.3 1.6M70.2 38.1l-.3 1.6M31.4 47.3l.2 .1M-2.3 42.9l-1.3 1.2M69.7 42.9l-1.3 1.2M31.2 51.8l.1 .3M53.4 49.2l-1 1.4M58.5 54.8l-1.2 .5M5.1 60.7l.3 0M38.8 61.9l.3 .2M52.5 61l.4 .5M6.6 -2.7l-.2 .1M6.6 67.3l-.2 .1M48.1 -5.1l1.6 .6M48.1 64.9l1.6 .6"/><path stroke="#8a4832" stroke-width="6.9" d="M4.8 5l-1 .4M76.8 5l-1 .4M59.8 1.3l.4 1.2M59.8 71.3l.4 1.2M56 8.3l.2 .1M63.6 10.7l-.9 .8M54.5 18.9l.2 .5M-.1 22.9l.3 1.2M71.9 22.9l.3 1.2M24.9 31l-1.4 1.4M7.9 36.1l-.3 .2M14.9 36.3l-1.1 .5M44.2 38.6l.9 .4M5 42.6l.3 .9M11.1 44.2l.4 0M26.4 47.2l0 0M9.7 53l-.5 .1M12.1 50.5l-.1 1.1M41.6 51.5l-.7 .6M11 56.8l1.6 .8M23.8 59l-.9 .7M45.8 62.1l.2 0M-4.3 58l.5 1.5M67.7 58l.5 1.5M35.3 -1.6l0 .5M35.3 68.4l0 .5M58 -2l-1 1M58 68l-1 1"/><path stroke="#9a9ad0" stroke-width="5.4" d="M9.2 8.3l-1 .2M8.3 18.8l-.3 .5M10.2 23.4l-1 .5M42.3 26.6l-.1 .1M13.1 33.5l0 .1M34.9 39.1l-.2 1.2M60 37.5l-1.4 .5M60.7 43l-.5 .2M23.6 50.9l-1.3 1M-2.3 50.9l-.1 .1M69.7 50.9l-.1 .1M20.3 61.5l-.2 .4M35.1 60.2l-.3 1.1M41.8 65l.1 .4"/><path stroke="#9a9ad0" stroke-width="5.9" d="M13.9 5.6l-.9 .1M27.6 4.3l-1 .2M31.2 1.1l-1.8 0M31.2 71.1l-1.8 0M-3.5 3.2l.8 .2M-3.5 73.2l.8 .2M68.5 3.2l.8 .2M68.5 73.2l.8 .2M16.7 12l-.6 .6M34.3 12.7l-.2 .5M44.9 12.9l-.6 .1M-2.2 30.3l.5 .9M69.8 30.3l.5 .9M27.9 39l.1 1.3M47 44.5l.4 1.3M23.1 64l-.4 .2"/><path stroke="#9a9ad0" stroke-width="6.4" d="M38.9 4.3l0 0M23.2 25.7l.9 1.1M50.5 25.9l0 1.5M41 29.6l.9 1.4M59.9 29.2l.8 1.1M48.4 39.9l-1.3 .5M37.3 42.5l.9 1M51.7 44.6l-.1 .8"/></g></pattern><pattern id="peK2" width="64" height="60" patternUnits="userSpaceOnUse"><rect width="64" height="60" fill="#d2d2e8"/><g fill="none" stroke-linecap="round"><path stroke="#aeaed8" stroke-width="3.4" d="M.8 1.7h0M64.8 1.7h0M10.1 1.3h0M10.1 61.3h0M48.9 2.5h0M58.2 3.2h0M19.8 4.9h0M34.6 5h0M40.1 6.3h0M44.1 6.8h0M52.4 5.8h0M55.3 5.2h0M23.4 11.4h0M26.4 10.8h0M19.5 15.1h0M61.2 12.7h0M6.3 18h0M46.4 17.9h0M58.1 17h0M8.6 22.7h0M24.1 21.4h0M49.1 23h0M16.7 25.2h0M23.4 24.5h0M39.1 25.4h0M54.4 25.3h0M60.7 27.5h0M6.8 29.5h0M31.6 31.5h0M47.5 29.8h0M50.6 28.9h0M2.7 35.3h0M13.6 33.8h0M46.1 34.1h0M51 32.7h0M7.9 37.3h0M36.1 37.5h0M52.3 36.8h0M46.9 40.8h0M49 42.6h0M8.8 44.8h0M33.1 46.4h0M40.1 46.5h0M57.4 46h0M.7 45.5h0M64.7 45.5h0M2.5 49.3h0M25.1 51.1h0M20.1 52.7h0M45.1 54h0M-1.3 53.9h0M62.7 53.9h0"/><path stroke="#aeaed8" stroke-width="3.7" d="M15.3 .6h0M15.3 60.6h0M25.6 3h0M32.5 1.4h0M32.5 61.4h0M38 1.7h0M38 61.7h0M46.4 1.3h0M46.4 61.3h0M9.4 5.3h0M22.5 4.6h0M47.2 5.7h0M2.7 8.6h0M9.9 11.2h0M14.5 10.6h0M30.6 9.9h0M61.1 11.4h0M22.5 13.4h0M28.3 14.1h0M34.6 15.2h0M40.2 15.3h0M57.2 13.6h0M18.3 19.2h0M22.7 18.1h0M42.3 17.4h0M15 21.7h0M30.4 25.7h0M41.8 25h0M50.8 25.7h0M11.2 31h0M39.3 31.3h0M57.1 31.3h0M60.6 31.4h0M.1 28.5h0M64.1 28.5h0M19.3 34.7h0M32.6 33h0M58.6 34.3h0M3 38.4h0M30.5 37.4h0M40.1 38.6h0M-.1 39.5h0M63.9 39.5h0M14.7 43.4h0M57.5 42.6h0M4.7 45.7h0M36.8 45.2h0M15 51h0M36.8 49.2h0M4.2 53.3h0M11.1 55.3h0M24.5 54.4h0M32.1 53.3h0M46.6 53.1h0M56.3 55h0M6 -.6h0M6 59.4h0M8.8 57.4h0M13 57.6h0M31 56.6h0M37.8 57.6h0M40.6 -1.3h0M40.6 58.7h0M50.7 -.7h0M50.7 59.3h0M54.2 -1.1h0M54.2 58.9h0"/><path stroke="#aeaed8" stroke-width="4.0" d="M17.1 1.4h0M17.1 61.4h0M29 1.9h0M29 61.9h0M53.8 1h0M53.8 61h0M3 5.9h0M17.1 6.5h0M42.2 11.2h0M48.7 10.6h0M54.3 8.9h0M57.4 9.5h0M51.8 14.3h0M11.4 16.8h0M13.2 18.9h0M54.2 18.4h0M3.3 23.2h0M12.7 22.2h0M32.9 20.7h0M35.2 22.2h0M41.2 21.9h0M54.6 22.4h0M1.2 23.2h0M65.2 23.2h0M58.3 26.5h0M5.3 29.3h0M23.3 30.3h0M43.1 28.9h0M22.2 35.2h0M25 34.3h0M30.5 33.6h0M38.1 33.6h0M42.5 34.2h0M11.4 37.7h0M17.3 37.6h0M19.8 39.3h0M49.4 38.1h0M54.5 36.6h0M22 41.4h0M42.4 43.4h0M61.6 41.1h0M27 45.8h0M46.9 45.6h0M6.1 51.1h0M18.5 48.6h0M21.2 50.9h0M28.5 49.9h0M40.7 50.9h0M46 49.7h0M56.6 50.4h0M61.8 51.4h0M17.2 -1.9h0M17.2 58.1h0M21.4 57.3h0M35.5 56.7h0M58 -1.2h0M58 58.8h0M-1.8 -.8h0M-1.8 59.2h0M62.2 -.8h0M62.2 59.2h0"/><path stroke="#84422e" stroke-width="2.8" d="M6.2 1.4h0M6.2 61.4h0M41.2 1.3h0M41.2 61.3h0M61.3 2.2h0M31.8 5.1h0M33.1 8.5h0M7.8 15.1h0M16.9 13h0M3.4 19h0M49.2 17.4h0M27.8 20.6h0M60.9 21.9h0M1.5 25.9h0M9.1 24.7h0M16.2 30.5h0M21.5 31.2h0M34.6 29h0M27.1 39.3h0M29 40.8h0M21.3 47.2h0M53.8 51h0M7.4 55.3h0"/><path stroke="#84422e" stroke-width="3.1" d="M11.4 7.4h0M59.3 5.5h0M7.1 11.2h0M37.3 9.7h0M3.7 12.7h0M13.3 14.4h0M43.8 12.9h0M25.7 17.7h0M30.3 17.2h0M18.7 21h0M53.2 21.6h0M27.2 26.8h0M4.6 42.2h0M37.2 41.2h0M12.7 46.8h0M9.4 48.6h0M48.7 48.9h0M35 54h0"/><path stroke="#84422e" stroke-width="3.4" d="M1.5 5.7h0M65.5 5.7h0M47 10.2h0M31.6 14.8h0M-.4 13h0M63.6 13h0M34.3 17.6h0M38 17.9h0M4.6 26.1h0M12.8 27.5h0M10.9 33h0M60.7 35.3h0M59.4 37.6h0M17 43.4h0M24.8 41.2h0M32.6 43.3h0M15.4 46.9h0M23.8 46.7h0M43.8 45.6h0M32.9 50.8h0M14.9 53h0M28.8 53.1h0M59.8 53.5h0M2.5 -1.2h0M2.5 58.8h0M26.7 58.2h0"/></g></pattern><pattern id="peK2i" width="72" height="70" patternUnits="userSpaceOnUse"><rect width="72" height="70" fill="#d4d4ea"/><g fill="none" stroke-linecap="round"><path stroke="#b0b0da" stroke-width="6.1" d="M9.4 1.4l.6 .2M9.4 71.4l.6 .2M60.2 1.1l-.1 .5M60.2 71.1l-.1 .5M14.5 11.4l-1.1 .2M28.6 9.4l0 .3M55.6 10.9l-.7 .4M18.8 16.3l.3 .8M34.6 18.8l-.5 .5M39.5 21.4l1.8 .3M7.9 28.8l1.2 .3M34.9 24.1l-.4 1.4M56.2 24.9l-.3 .9M6.3 32.9l-.1 0M12.1 37.3l-.1 .1M53.7 33.5l.5 1.1M60.2 35.9l.6 1.3M21.1 43.1l-.7 .1M51.6 51.5l.2 .3M60.8 53.4l0 0M15.9 56.6l-.8 .1M31.1 58.3l-.6 1.1M3.9 -1.7l1.1 .7M3.9 68.3l1.1 .7M75.9 -1.7l1.1 .7M75.9 68.3l1.1 .7M16.5 66.1l-.2 .1M22.5 65.2l-.1 .2M63.5 -3.2l-.1 .8M63.5 66.8l-.1 .8"/><path stroke="#b0b0da" stroke-width="6.6" d="M41.3 4.3l.1 .2M48.9 4.7l.3 1.8M48.9 74.7l.3 1.8M9.2 8.9l.1 .3M50.9 10.9l-.5 1.2M1.1 9.4l-.3 .5M73.1 9.4l-.3 .5M27.3 19.5l-1.7 .8M-2.5 19.3l.9 1M69.5 19.3l.9 1M22.5 27.8l1.5 .8M58.2 42.3l-1.5 .3M22.4 48.6l.1 .6M40.1 52l-1.1 .8M45.8 52l-.1 1.1M9.1 55.4l1 .9M58.4 57.1l-1 .3M63.8 60.9l-.3 0"/><path stroke="#b0b0da" stroke-width="7.1" d="M26.6 6.1l.5 .7M32 1.6l.3 .9M32 71.6l.3 .9M21.7 9l.1 .1M42.5 12.5l-1.2 1.4M66.5 13.9l.8 .9M56.4 20.5l-.3 .4M58 21.2l1.2 1.7M14.2 27l-1.2 .3M45 28.2l1.3 .3M47.3 28l1 1.5M63.9 25.2l.8 1.3M29.2 34.5l.9 .6M39.7 33l-1.1 .4M45.7 36l1.2 .9M30.2 44.5l-.3 .4M34.4 40.4l-.7 1M52.1 44.4l-.1 .2M18.1 49.3l-.1 .1M23.3 59.3l0 1.6M35.5 56l.1 .1M40.7 59.5l0 1.7M8.5 -2l0 1.9M8.5 68l0 1.9M34 -3.8l.5 .3M34 66.2l.5 .3M42.2 63.4l0 1.3"/><path stroke="#84422e" stroke-width="5.0" d="M37.3 10.5l.1 .9M3.1 43.9l-.9 .6M75.1 43.9l-.9 .6M-1.1 55.4l-.7 .7M70.9 55.4l-.7 .7M52.1 66.7l.1 .4"/><path stroke="#84422e" stroke-width="5.5" d="M3.7 5.2l.6 1.4M75.7 5.2l.6 1.4M15.8 3.7l.6 .7M15.8 73.7l.6 .7M55.6 3.6l.4 .2M4.6 18.8l1.1 1.1M76.6 18.8l1.1 1.1M48.3 18.5l-1.1 .7M28.7 27.8l.7 .3M21 35.3l-.9 .7M67.4 34.1l-.6 .6M4.5 43.6l.5 .5M42.7 43l.6 1.1M34.1 52.8l.1 .3"/><path stroke="#84422e" stroke-width="6.0" d="M-3.5 5.3l-1.3 1.2M-3.5 75.3l-1.3 1.2M68.5 5.3l-1.3 1.2M68.5 75.3l-1.3 1.2M8.2 17.9l.9 1.3M3 28.8l-1.2 1M75 28.8l-1.2 1M26 34.4l-.1 1.1M10.5 49.8l.7 .6M67.4 47.5l-.5 .4M49.2 65l-.9 .1"/></g></pattern><pattern id="pfK1" width="72" height="73" patternUnits="userSpaceOnUse"><rect width="72" height="73" fill="#e0dcee"/><g fill="none" stroke-linecap="round"><path stroke="#8a4630" stroke-width="4.4" d="M10.7 1.9l1 .4M10.7 74.9l1 .4M16.5 3.5l.1 .4M31.6 1.7l-.6 .3M31.6 74.7l-.6 .3M53.7 7.3l1.5 .6M25.1 14.9l.1 1.7M37.9 17.9l-1.4 .6M10.8 20.8l.1 1.2M18.2 23.4l1.5 1.4M26.1 21.6l-.7 1M1.7 31.8l1.3 .5M73.7 31.8l1.3 .5M16.4 27.3l-.4 .5M28.8 37.1l-.3 .9M45.5 38.6l.6 .3M58.5 37.2l-1.6 1.1M1.4 44.2l-.9 .2M73.4 44.2l-.9 .2M51.7 46.9l-.6 1.8M1.3 48.5l.2 .1M73.3 48.5l.2 .1M.9 55.6l.7 .8M72.9 55.6l.7 .8M17.8 53.4l-.2 1M29.3 55l1 1.1M32.8 57.3l2 .8M48.3 53.9l-.1 .2M-3 56.1l-.8 .5M69 56.1l-.8 .5M27.6 62.2l.5 1.6M2.7 60.8l-1.1 1.8M74.7 60.8l-1.1 1.8M30.5 -1.9l.9 .2M30.5 71.1l.9 .2"/><path stroke="#8a4630" stroke-width="4.9" d="M53 3.9l.3 .7M60.6 3.2l-.1 0M11.5 8.9l1.7 .6M45.3 8.1l.1 1M59.5 11.3l.1 .1M1.3 9.8l-.3 .1M73.3 9.8l-.3 .1M10.5 15.9l-.9 1.3M14.9 16.7l1.6 1.8M44.7 23.2l1.3 .6M55.3 25.2l-1.4 .9M58.5 24.3l-.9 2M37.4 29.5l-.3 1.7M43.7 27.5l-.5 1.6M12.1 38.6l-2.4 .2M33.6 34l-.5 .5M64.1 34.4l1.6 .4M-1.9 36.6l0 .8M70.1 36.6l0 .8M44.5 43.5l.1 .5M54.4 41.9l-.8 .3M61.2 39.8l.2 2.3M31.1 51.3l.6 .1M38.6 46.8l.3 1.5M54.1 57.4l-.2 .2M63.4 56.1l1.6 .2M9.2 60.3l-.5 .7M48.4 68.6l-.3 1.4M-2.7 66.5l-1 2M69.3 66.5l-1 2"/><path stroke="#8a4630" stroke-width="5.4" d="M22.4 4.5l-.1 .3M28.7 15.2l-.8 .6M4.3 24.5l1.3 .2M38 21.8l.6 .8M64.6 20.6l1 2.4M28.4 30.3l-.1 1.2M57.7 31.5l-.5 .2M-3.3 28.3l-.2 1.3M68.7 28.3l-.2 1.3M17.5 38.1l-.3 .2M16.3 40.9l-1.3 1.7M23.8 41.3l.5 2.2M6.7 50.2l.3 .8M26 46.2l-.5 2.5M57 49.5l-1 .9M11.2 63.8l.9 1.8M41 61.6l-.5 1.6M43.2 63.3l.5 1.2M58.2 65.1l.6 .5"/><path stroke="#a4a8d8" stroke-width="4.2" d="M8.3 9.9l-1.4 1.4M21 7.3l.9 .7M24.2 8.5l.4 .6M64.1 12l-.9 .1M-2.4 16.9l1 .7M69.6 16.9l1 .7M8.8 30.7l.1 1.2M5 36.7l-.4 .4M37.3 35.7l.1 .6M12.2 50.8l-.3 .2M63.1 50.9l0 .3M10 57.7l1.6 .4M41.9 54.9l.7 .6M19.1 61.4l-.3 .8"/><path stroke="#a4a8d8" stroke-width="4.6" d="M46.4 2.8l.7 .1M46.4 75.8l.7 .1M-1.9 0l.7 1.8M-1.9 73l.7 1.8M70.1 0l.7 1.8M70.1 73l.7 1.8M30.6 8.2l.1 .1M3 14.7l1 .6M75 14.7l1 .6M55.7 14.8l.1 .1M.5 22l0 0M72.5 22l0 0M11.2 41l-.3 .2M29.9 43.5l.1 0M46.7 44.9l.5 .3M17.3 50.3l.1 0M35.4 63.7l-1.1 1.7M7.9 68.9l0 0M23.8 69.9l.2 .2M42.1 69.7l0 .2"/><path stroke="#a4a8d8" stroke-width="5.0" d="M4.8 4.2l-.6 1.2M4.8 77.2l-.6 1.2M42.4 1.1l2 1.4M42.4 74.1l2 1.4M62 16.7l-.5 .9M25.4 29.9l0 0M64.4 27.2l-1.1 .9M53.4 35.1l-.2 .6M34.5 43.1l0 0M-2.4 42.1l-.1 0M69.6 42.1l-.1 0M47.9 47.6l.4 1.3M23.7 58.6l.1 .3M51.9 65.4l0 .2M66.5 62.4l.7 2.3M4.3 -2.2l-.2 1.2M4.3 70.8l-.2 1.2M14.9 -3l-.3 .9M14.9 70l-.3 .9M37.6 -3.3l-1.7 .7M37.6 69.7l-1.7 .7M54 70.1l.1 .2"/></g></pattern><pattern id="pfK2" width="72" height="73" patternUnits="userSpaceOnUse"><rect width="72" height="73" fill="#dddbf0"/><g fill="none" stroke-linecap="round"><path stroke="#8a4630" stroke-width="4.2" d="M4.3 3l1.1 .5M4.3 76l1.1 .5M34.6 3.8l-.1 .4M44 17.9l-.9 .3M13.2 20.9l1.3 .8M59.5 22.6l0 .1M57 27.2l.5 .9M47.2 35.2l.8 1M3.4 44.6l1.2 .2M75.4 44.6l1.2 .2M25 51.3l-.1 .4M37 51.2l.5 .9M9.2 54.6l1.5 .3M24.8 58.2l-1.6 .4M44.4 58l-1 .8M26.1 65.1l-.3 1M30.9 -1.8l1.2 .5M30.9 71.2l1.2 .5M62.8 69.7l-.2 .4M67.9 68.7l-.5 0"/><path stroke="#8a4630" stroke-width="4.7" d="M31.6 2.2l-.9 .6M31.6 75.2l-.9 .6M5 11.4l-.7 2.2M77 11.4l-.7 2.2M48 10l-.5 1M66.1 8.9l-.2 .3M24.5 17.2l1.3 .6M-.3 25.2l1.3 .3M71.7 25.2l1.3 .3M51.3 37.1l-.7 1.7M2 36.1l-1.2 .7M74 36.1l-1.2 .7M17.3 44l1.5 .8M35 44.7l-1.5 1.7M37.3 54.4l.3 .4M6.9 64.8l.7 1.5M19.7 63l-.6 .9M58.3 63.9l.1 .4M-2.3 62.4l.7 .5M69.7 62.4l.7 .5M47.4 66.9l0 .5"/><path stroke="#8a4630" stroke-width="5.2" d="M13.4 10.5l-1.2 2M64.6 13.6l-.6 1.3M-4 15.1l-1.8 1.7M68 15.1l-1.8 1.7M33.1 37.9l-.4 .1M43.3 41.9l2.6 .2M13 50.7l-1.9 .1M29.9 54.5l-2.1 1M37.3 63l.8 .3"/><path stroke="#9a9ed6" stroke-width="4.2" d="M15.8 .6l-.6 .7M15.8 73.6l-.6 .7M49.2 5.1l-.2 .6M53.7 5l-.2 .5M33.1 9.7l1.1 .1M-.5 10.5l1.6 .2M71.5 10.5l1.6 .2M27.8 16.6l-.6 1.4M49.1 15.3l-.5 .3M5.7 21l.1 .3M21.6 23.1l-1.5 .3M24.3 24.2l0 0M65.8 23.3l-.2 1.6M36.8 29.2l-.1 0M60.6 30.6l.8 .4M12.6 33.8l-1 .7M64.9 33.6l-.1 2M60.2 43.3l-.8 0M20.9 49.7l-.1 1.7M45.7 51.7l-.1 .2M3.2 58l.2 .1M16.1 57.2l-.4 .4M53.8 53.9l.4 1.2M63.6 55l-.1 .5M65.4 60l-1.3 1.1M21.8 68.6l-.7 1.2M42.1 -2.1l.3 .3M42.1 70.9l.3 .3"/><path stroke="#9a9ed6" stroke-width="4.7" d="M20.7 10.7l1.1 1.6M41.1 8.3l-.6 .1M52.9 9.6l-1.1 2M15.7 18l.5 .1M38.7 14.2l-2 .6M54.2 13.4l1.4 1.7M17 30.8l.4 .4M23.8 29.8l-.2 .6M26.2 33.6l.1 2M47.3 41.9l-.8 .2M57.7 40.9l-.6 1M-1.2 41.2l.3 .1M70.8 41.2l.3 .1M7.5 51.4l1 1.6M30.9 48.2l1.3 1.1M51.9 49.6l1.8 1.5M50.7 55.7l.8 1.2M14.6 62l1 1.2M1.7 -1.5l.2 .8M1.7 71.5l.2 .8M73.7 -1.5l.2 .8M73.7 71.5l.2 .8M9.9 -2.4l-1.5 .8M9.9 70.6l-1.5 .8"/><path stroke="#9a9ed6" stroke-width="5.2" d="M23.1 1l1.4 1.5M23.1 74l1.4 1.5M42.1 4.3l-.6 2.4M42.1 77.3l-.6 2.4M61.6 1.7l0 .5M61.6 74.7l0 .5M-2.8 3.2l.6 .8M-2.8 76.2l.6 .8M69.2 3.2l.6 .8M69.2 76.2l.6 .8M4.1 15.8l.5 .1M32.1 24l.2 1M46.3 23.5l.7 1.6M5.3 29.5l-.1 0M30.3 31.8l.7 1.2M-.8 28.2l-.1 2.1M71.2 28.2l-.1 2.1M13.2 43.9l-1.9 1.7M28.7 43.6l-1.6 .4M58.9 48.9l1.7 1.9M64.9 48.3l.4 1.6M67 58.8l.8 .1M33.5 63.4l-.2 2.6M46.5 62.1l-.2 2.3M36 -2.4l0 .9M36 70.6l0 .9M55.3 70.1l-.2 .1"/></g></pattern><pattern id="pgK1" width="72" height="70" patternUnits="userSpaceOnUse"><rect width="72" height="70" fill="#ebe3e8"/><g fill="none" stroke-linecap="round"><path stroke="#9a6650" stroke-width="3.0" d="M7.5 3.8h0M20 1.3h0M20 71.3h0M51.8 3.1h0M64.3 2.3h0M-.8 2.2h0M71.2 2.2h0M66.1 8.7h0M70.4 5.2h0M26.3 12.3h0M8.6 15.4h0M47.5 16.5h0M53.6 14.9h0M17.8 22.4h0M22.6 21h0M31.2 22.1h0M32 26.3h0M56.2 24.5h0M-.6 24h0M71.4 24h0M2.4 32h0M31.7 31.7h0M48.7 31.7h0M54.8 30.2h0M63.1 28.6h0M27.3 33.4h0M51.2 34.2h0M15.3 39.6h0M23.3 39.5h0M51.3 40.9h0M16 44.5h0M37.7 44.5h0M49.5 46.1h0M13.1 50.7h0M56.6 48.9h0M59.7 49.5h0M8 53.7h0M24.3 55.2h0M47.6 53.2h0M51.3 52.2h0M-.3 54.8h0M71.7 54.8h0M2.3 59.4h0M17.7 59.8h0M39.7 59.2h0M52.2 57.5h0M57 60h0M70.5 57.3h0M4 64.4h0M11.4 63h0M16.2 61.6h0M20.7 61.4h0M24.4 64.2h0M20.3 66.9h0M46.9 -1.2h0M46.9 68.8h0M52 66.4h0"/><path stroke="#9a6650" stroke-width="3.3" d="M40.1 2.6h0M44.4 3.3h0M54.9 3.2h0M61.7 .8h0M61.7 70.8h0M4.1 7.3h0M9.2 7.6h0M14.8 7h0M23.6 6.2h0M28 6.7h0M37.2 6h0M11.4 11.2h0M21.5 10.2h0M60.8 13.4h0M19.7 17.5h0M29.9 18h0M59 17.5h0M65.9 17.8h0M39.7 20.8h0M63.6 20.8h0M69.1 19.6h0M18.3 24h0M25.2 26.9h0M28.9 25.7h0M41.6 27h0M13.2 30.1h0M37.2 31.6h0M41.5 28.7h0M5.2 35.9h0M46.5 35.1h0M.2 33.3h0M72.2 33.3h0M6.2 39.6h0M34.6 39.2h0M39.6 41.3h0M44.3 39.1h0M56.7 38.9h0M3.9 44.4h0M9.3 42.7h0M30.4 43h0M32.7 45.2h0M51.9 43.2h0M62 45.2h0M1.5 48.6h0M73.5 48.6h0M36.5 48.3h0M40.6 49.9h0M50.5 50.8h0M43.8 53.8h0M58.5 53.2h0M62.2 52.1h0M67 53h0M27.9 59.4h0M45.5 58.5h0M65.8 57.6h0M38.8 63.4h0M53.2 61.5h0M62.5 63.5h0M1.4 62.7h0M73.4 62.7h0M6.9 -1.2h0M6.9 68.8h0M60.6 68.3h0M65 68.1h0"/><path stroke="#9a6650" stroke-width="3.6" d="M1.1 2.9h0M73.1 2.9h0M10.4 .9h0M10.4 70.9h0M25.1 1h0M25.1 71h0M31.5 2.8h0M36.2 2.8h0M42 6.2h0M48.2 8.6h0M62 6.6h0M5.6 10.6h0M34.7 11.8h0M44.4 12.6h0M56.4 12.5h0M65.5 13.3h0M16.2 16.7h0M24.9 16.3h0M39.9 17.4h0M62.4 17.3h0M8.2 19.8h0M12.2 20.4h0M26.8 21h0M37.4 22.6h0M44 20.1h0M58.5 22.4h0M4.6 24h0M36.6 24.2h0M54.3 26.1h0M67.3 24.6h0M20.6 29.4h0M-.7 31.6h0M71.3 31.6h0M10.4 35.5h0M24.3 36.4h0M33.4 33.4h0M38.4 33.2h0M63.1 35.9h0M67.6 34.4h0M28 38.2h0M64 38.1h0M8.6 47.3h0M20.2 47.8h0M32.2 47.2h0M45.9 48.6h0M65.4 48.7h0M69.1 49h0M5.5 52.6h0M13.4 54.6h0M18.1 52.7h0M32 52.1h0M8.7 57.8h0M35.4 57.7h0M60.4 59h0M30.1 62.8h0M41.5 64.8h0M46.9 61.3h0M56 61.6h0M10.8 65.9h0M56 -.9h0M56 69.1h0M68.7 67.3h0"/><path stroke="#b4b4d6" stroke-width="3.0" d="M18.3 6.6h0M49.4 12.8h0M32.1 15.1h0M1.1 21h0M73.1 21h0M53.9 22.4h0M11.3 24.3h0M25.1 32.1h0M61 28.9h0M14.9 35.8h0M20.1 35.2h0M58.1 34.9h0M11.9 38.3h0M65.6 43.5h0M.1 45.4h0M72.1 45.4h0M32.3 59.2h0M26.4 -1.3h0M26.4 68.7h0"/><path stroke="#b4b4d6" stroke-width="3.3" d="M61.3 38.2h0M24.4 43.1h0M18.4 50.2h0M27.6 49.7h0M39.2 55.4h0M12.9 59h0M20.6 58.2h0M66.4 62.3h0M2 67.3h0M32.4 66h0"/><path stroke="#b4b4d6" stroke-width="3.6" d="M15.8 2.8h0M58.5 6.8h0M41.3 10.2h0M1.1 16.4h0M73.1 16.4h0M49 22h0M44.7 32h0M32.9 38.4h0M41.7 44.3h0M56.7 44.6h0M16.4 67.9h0M37.6 67.3h0M42.2 68.2h0"/></g></pattern><pattern id="pgK2" width="72" height="70" patternUnits="userSpaceOnUse"><rect width="72" height="70" fill="#ebe6ee"/><g fill="none" stroke-linecap="round"><path stroke="#a06c56" stroke-width="3.4" d="M10.4 3.2h0M20.3 15.6h0M27 15.8h0M43 13.7h0M34.5 35.7h0M40.1 49.7h0M64.7 48.4h0M2.7 55.7h0M19.7 53.2h0M6.1 61h0M38.7 64.8h0M59.1 68h0"/><path stroke="#a06c56" stroke-width="3.7" d="M14.8 3.2h0M19.8 .9h0M19.8 70.9h0M22.8 7.2h0M43.2 8.6h0M46.5 9.2h0M40 15.8h0M51.9 16.4h0M58 23.4h0M2 30.5h0M52.5 26.6h0M19.3 33.1h0M53.2 34.6h0M38.5 39.1h0M5.4 47h0M59 53.8h0M61.6 51.8h0M60.5 60.3h0M1.9 59.7h0M10.6 -1.1h0M10.6 68.9h0M43.1 66h0"/><path stroke="#a06c56" stroke-width="4.0" d="M68.3 5h0M53.6 7.5h0M68 9.5h0M69.8 7.8h0M2.1 15.1h0M69 15.1h0M28.2 22.2h0M38.8 29.5h0M28.6 37.2h0M.9 36.1h0M72.9 36.1h0M45.9 42h0M57.4 43.2h0M12.6 45.5h0M23.4 48h0M27.8 47.4h0M58.4 49.3h0M46.5 53.7h0M12.9 59.1h0M64.5 59.2h0"/><path stroke="#c2c2de" stroke-width="3.6" d="M5.1 1.4h0M5.1 71.4h0M28.9 4.3h0M43.1 5.1h0M35.5 7.9h0M13.9 21.8h0M53.7 22.2h0M7.9 28.7h0M22.5 28h0M27.7 30h0M31.3 29.2h0M61.8 26.4h0M68.4 27.8h0M11.7 33.3h0M41.9 35.3h0M16.1 54.5h0M18.8 66h0M32.9 67.2h0"/><path stroke="#c2c2de" stroke-width="4.1" d="M39.5 2.6h0M49.4 1.1h0M49.4 71.1h0M6.9 10.5h0M28.9 8.6h0M58.1 7.6h0M20.2 21.6h0M24.6 24.5h0M66.6 23.8h0M45.5 30.4h0M61.8 35.4h0M8.4 43h0M17 43h0M23.2 41.5h0M32.5 39.6h0M52.5 41.1h0M63.5 42.1h0M37.6 46.7h0M49.1 47.1h0M35.2 52.1h0M67.5 51.9h0M37.5 59.2h0M42 62.3h0M14.5 -1.5h0M14.5 68.5h0M24.8 67.8h0"/><path stroke="#c2c2de" stroke-width="4.6" d="M55.4 4.9h0M10.6 7.9h0M19.4 11.3h0M16.7 13.7h0M34 16.6h0M65.2 17.1h0M3.8 22.8h0M41 22.8h0M48.9 21.6h0M68.2 39.4h0M18.7 45.6h0M54.3 46.3h0M49.4 55.1h0M2.2 67.2h0M74.2 67.2h0M62.9 -1.9h0M62.9 68.1h0"/></g></pattern><pattern id="pgI1" width="60" height="58" patternUnits="userSpaceOnUse"><rect width="60" height="58" fill="#02071c"/><g fill="none" stroke-linecap="round"><path stroke="#2a44d0" stroke-width="1.8" d="M1.4 .8h0M1.4 58.8h0M26 .6h0M26 58.6h0M28.8 1.5h0M34.2 2.8h0M37.3 2.9h0M10.8 6h0M17.3 5.7h0M36.3 5.1h0M39.8 4.1h0M41.5 4.4h0M.7 6.5h0M60.7 6.5h0M4.3 9.9h0M23 9.2h0M26.7 10.3h0M34.1 9.6h0M39.9 9.4h0M57.2 8.6h0M17.5 13.9h0M45.6 12.2h0M5.9 15.7h0M23.7 17.1h0M39.7 17.1h0M3.4 20.6h0M23.9 20.9h0M28 18.8h0M33 18.7h0M4.4 24.1h0M15.7 22.7h0M32.8 22.9h0M40.6 24.2h0M49.9 23h0M3 28.2h0M14.2 27.8h0M24.8 28.4h0M44.8 27.4h0M52.6 27.2h0M-.6 27.1h0M59.4 27.1h0M.9 31.7h0M60.9 31.7h0M41.1 30.9h0M43.5 31h0M46.9 31.1h0M57.6 31.2h0M14.5 34h0M17.2 33.1h0M21.9 35h0M25.3 33.2h0M36.4 33.6h0M45.2 33.2h0M5.5 37.1h0M34.1 37.9h0M40.4 37.6h0M43 38.1h0M14.4 41.2h0M34.3 40.7h0M46.6 42.7h0M53.4 42.1h0M5.5 45.7h0M7.8 45.9h0M29.3 44.4h0M35.8 44.2h0M46.6 45.9h0M50.5 46.2h0M53.6 45.2h0M11.5 48.4h0M14.1 49h0M24.5 49.2h0M48.5 49h0M53.5 49.3h0M57.5 48.8h0M.1 47.6h0M60.1 47.6h0M36.8 53.3h0M21 54.9h0M29.3 55.8h0M52.3 56.1h0"/><path stroke="#2a44d0" stroke-width="2.0" d="M16.4 2.6h0M18.7 2.6h0M54.9 2.1h0M58.4 .5h0M58.4 58.5h0M45.1 5.1h0M8.1 7.7h0M20.6 7.8h0M28.9 9.6h0M49.9 9.8h0M55.9 9.3h0M11.2 12.6h0M21 13.8h0M24 11.5h0M27.4 12.3h0M36.4 14h0M38.6 12.2h0M-.4 11.4h0M59.6 11.4h0M10.1 15.8h0M19 15.7h0M37.7 15.1h0M43.7 17h0M58.2 15.1h0M39.5 21h0M46.8 20.3h0M48.8 20.2h0M54.3 20.6h0M57.4 19.1h0M2.9 23.2h0M8 22.9h0M44.5 23.4h0M47 22.7h0M10.1 27.7h0M18.4 27.8h0M22.4 27.5h0M32.5 26.3h0M35.1 27.2h0M50.2 26h0M6.3 29.9h0M9.4 32.1h0M11.5 32.1h0M20.1 31.1h0M35.9 30.4h0M3.9 33.5h0M8.2 33.3h0M42 35.2h0M1.7 37.2h0M14.9 37.4h0M19.8 39h0M22.1 39.1h0M26.7 36.9h0M30.6 38.3h0M36.9 36.8h0M48.6 37.8h0M55.9 37.8h0M57.4 37h0M8.2 42.9h0M10.8 41.3h0M21.9 40.5h0M27.8 41h0M39.5 42.1h0M49.1 42.4h0M56 42.1h0M.4 41.6h0M60.4 41.6h0M32.3 44.5h0M45.4 45.7h0M57.8 44.8h0M8.3 47.8h0M21.1 48h0M27.2 47.8h0M34.2 50.2h0M46.6 49.7h0M13.6 53.7h0M15.6 52h0M24 52.2h0M26 53.4h0M41.1 51.9h0M44.9 53.2h0M46.4 52.8h0M8.3 56.4h0M9.4 -.8h0M9.4 57.2h0M14.5 56.5h0M18.1 -.6h0M18.1 57.4h0M32 55.6h0M50.4 56.6h0"/><path stroke="#2a44d0" stroke-width="2.3" d="M5.2 2.1h0M9.4 .9h0M9.4 58.9h0M11.5 .6h0M11.5 58.6h0M39.6 3h0M45.2 1.6h0M48.2 .8h0M48.2 58.8h0M7.4 4.2h0M14.3 5.3h0M21 5h0M24.8 4.2h0M28.2 6h0M32.2 4.3h0M49.4 4.8h0M53.5 4.2h0M57.3 5.7h0M12.5 7.9h0M36.3 10h0M43.9 7.9h0M46.5 7.8h0M2.8 11.6h0M13 11.3h0M41.2 12.1h0M49.5 11.8h0M54.1 11.5h0M57.7 13.2h0M2.4 17h0M11.3 17.2h0M15.6 16.6h0M27 15h0M31.3 15.2h0M34 15.6h0M46.8 16.8h0M13.7 21h0M17.7 21.1h0M22.5 18.6h0M35.9 20.3h0M43.7 18.9h0M-.7 19.4h0M59.3 19.4h0M12.5 24.1h0M20.3 23.2h0M23 24.6h0M26.4 23h0M30.7 22.3h0M53.4 23.4h0M-.5 22.7h0M59.5 22.7h0M7 27.6h0M28.1 27.4h0M38 27.7h0M42.3 28.2h0M57.5 27.4h0M16.4 30.1h0M23.2 31.7h0M29.3 31.7h0M51.4 31.7h0M53.6 31.9h0M9.3 35.2h0M29.2 33.9h0M38.7 34.9h0M50.1 35h0M51.7 33.2h0M55.3 33.6h0M-.1 34.3h0M59.9 34.3h0M9.5 37.6h0M11.2 37.7h0M50.8 38.2h0M3.8 40.5h0M17.7 41.2h0M23.9 40.6h0M41.2 42.7h0M1.8 45.5h0M13.5 45.7h0M16.2 44.5h0M40.1 45.9h0M32.5 50.2h0M39.3 48.8h0M42.4 48.5h0M2.7 52.4h0M5.4 51.2h0M8.4 52.4h0M30.9 52.6h0M49.9 52.8h0M54.5 53.5h0M-.5 51.5h0M59.5 51.5h0M24.5 56.7h0M39.8 55.1h0M42.3 56.7h0M55.4 -.4h0M55.4 57.6h0"/></g></pattern><pattern id="pgI1i" href="#pgI1" patternTransform="translate(3 5) scale(2)"/><pattern id="pgI2" width="60" height="58" patternUnits="userSpaceOnUse"><rect width="60" height="58" fill="#02071c"/><g fill="none" stroke-linecap="round"><path stroke="#2c4ce0" stroke-width="1.9" d="M22 3.3h0M32.3 1.4h0M38 1.3h0M54.9 .9h0M54.9 58.9h0M57.6 2.4h0M3.7 5.4h0M26.1 7.2h0M29.8 4.5h0M49 6.2h0M57.3 6.4h0M1.8 9.3h0M47 9.3h0M56.9 10.7h0M6.6 12.6h0M29.7 13.8h0M55.9 12.3h0M6.9 17.7h0M8.5 17.8h0M14.1 17.1h0M28.2 18.5h0M42.2 17.9h0M4.6 19.9h0M12 20.2h0M15.8 20.3h0M18.6 21.7h0M33.1 22.5h0M36.9 21.6h0M43.7 20h0M57.3 20.3h0M59 21.7h0M9.6 26.5h0M14.4 25.8h0M21.8 23.9h0M28.3 25.6h0M47.8 25.6h0M55.1 26.2h0M57.8 23.9h0M4.2 28.6h0M13.7 29.6h0M18.5 30.4h0M21.3 28.6h0M26.9 28.3h0M28.9 28.7h0M37.3 29.2h0M52.6 30h0M56 29.8h0M-.1 27.7h0M59.9 27.7h0M20.2 33.5h0M23.5 33.6h0M32.5 31.5h0M35.2 31.8h0M39.6 31.6h0M57.7 33.9h0M25.5 35.6h0M30.6 37.5h0M34.9 37.1h0M38.7 37.5h0M42.6 37.1h0M53.4 37.9h0M9.3 40.3h0M43.3 39.9h0M4.3 43.3h0M7.3 43.5h0M12.3 44.5h0M52.7 45.5h0M54.9 43.6h0M.7 45.5h0M60.7 45.5h0M24 47.1h0M34.6 49.2h0M15.2 53.3h0M34.9 51.6h0M41.8 53.6h0M51.2 52.6h0M56.4 52h0M8.2 56.4h0M15.6 55h0M28.1 56.7h0M32.4 54.9h0M39.4 54.7h0M49.7 -.9h0M49.7 57.1h0"/><path stroke="#2c4ce0" stroke-width="2.1" d="M1.7 2.2h0M6.1 .9h0M6.1 58.9h0M10.7 2.7h0M15.9 1.4h0M29.3 1.4h0M44.1 .9h0M44.1 58.9h0M45.9 3.3h0M51.5 3.2h0M6.2 7h0M15.7 7.2h0M17.5 5.8h0M33.6 7.2h0M38.3 7h0M.1 7.2h0M60.1 7.2h0M27.8 10.6h0M32.8 9.2h0M40.5 9.4h0M43.1 9.5h0M4.2 12.3h0M19.6 13.8h0M22.7 13.6h0M26.7 13.8h0M40.8 13.2h0M46.2 13.4h0M50.1 12.6h0M2.3 17.6h0M16 16.4h0M35 17.8h0M39.4 17.3h0M53.2 18.3h0M6.8 21.6h0M21.2 20.9h0M28.8 20.6h0M47.9 20.7h0M51.2 21.3h0M2.4 24.1h0M6.2 26.5h0M17.4 26.5h0M7.8 28h0M44.9 29.8h0M49.6 28.4h0M10.5 31.7h0M15.2 38h0M19 38h0M49.5 37.1h0M57.4 36.8h0M.2 36.3h0M60.2 36.3h0M1.5 41.7h0M17.9 40.4h0M32.1 40.2h0M37 39.3h0M57.2 41.6h0M18.2 44h0M25.3 44.5h0M48.7 43.7h0M21.2 47.7h0M40.7 49.4h0M51.8 46.9h0M53.1 49.3h0M56.8 47.8h0M11.3 51.1h0M23 52.3h0M36.7 52.3h0M45.6 51.2h0M14.1 56h0M21.8 56.3h0M25.7 56.5h0M34.5 -1h0M34.5 57h0M41.8 55.2h0M55.6 55.4h0"/><path stroke="#2c4ce0" stroke-width="2.4" d="M13.4 1.6h0M23.6 1h0M23.6 59h0M11.5 5.5h0M22.6 5.4h0M41.8 5.6h0M44.3 6.2h0M9.6 9.5h0M16.8 10.4h0M20.5 10.4h0M24.7 10h0M36 9h0M11.9 14.9h0M34.6 13.1h0M23.1 18.4h0M32.8 16.6h0M47.6 16.2h0M50.2 18.8h0M-.7 18.1h0M59.3 18.1h0M26 21.1h0M41.6 22h0M25.8 26.4h0M31.5 25h0M36 25.3h0M42.1 24.8h0M10.8 28.4h0M32.4 30.5h0M41.2 28.9h0M1.8 33.7h0M4.9 31.9h0M12.5 32.3h0M17.8 32.7h0M44.3 32.8h0M47.2 34.3h0M50.5 34h0M53.6 32.6h0M4.2 37.4h0M6.6 35.5h0M11.5 38h0M22.2 36.8h0M44.9 35.5h0M6.2 40.8h0M20 40.1h0M23.1 41.4h0M39.8 41.3h0M46.7 41.2h0M50.2 40.6h0M53 39.9h0M14.1 45.6h0M23.3 44.7h0M30.9 45.8h0M33.4 43.5h0M37.4 45.9h0M41.6 43.1h0M45.6 43.8h0M1 49.7h0M61 49.7h0M4.3 47.3h0M12 47.2h0M29.1 48.5h0M42.6 48.4h0M2.8 51.7h0M7 52.6h0M17.4 51.6h0M26.1 51.7h0M31.3 51.3h0M49.2 52.9h0M2.9 55.2h0M6.6 -.7h0M6.6 57.3h0M47.2 55.9h0M-.6 56.5h0M59.4 56.5h0"/></g></pattern><pattern id="pgI2i" href="#pgI2" patternTransform="translate(3 5) scale(2)"/><pattern id="phC1" width="144" height="144" patternUnits="userSpaceOnUse"><rect width="144" height="144" fill="#010b1a"/><g fill="none" stroke-linecap="round"><path stroke="#265c98" stroke-width="7.1" d="M23.9 1.8l2.2 .6M23.9 145.8l2.2 .6M46.4 0l-.7 2.1M46.4 144l-.7 2.1M77.3 5l.3 2.8M77.3 149l.3 2.8M108.7 5.3l-2.2 .1M108.7 149.3l-2.2 .1M38.9 17.3l.4 .5M81 14.9l-2.7 .6M91.4 12.3l.8 .1M115.9 10.8l.1 1M121.1 14.9l-.6 .7M19.8 25.3l-.1 .2M93.1 21.2l-1 .4M100 19.8l-1.7 2.1M108 23.3l-.9 .6M68.8 31.9l2.3 .8M95.5 35.1l1.9 1.6M111.5 46.5l-.4 .1M64.5 49.8l.1 .2M21.9 61.5l0 0M55 57.5l.9 2.5M123.8 64.2l-.1 .3M30 73.3l0 1.9M66 70.6l-.2 .1M99.6 70.9l.1 .9M4 80.3l-.7 .8M148 80.3l-.7 .8M12.3 81.5l-1.8 1.7M133.5 77.6l.3 .4M26.3 91.8l.5 2.5M67.5 94.9l.2 .6M14.6 96.6l-.2 .1M47.6 102.1l-.2 .2M63.3 98.5l-2.2 1M112.3 97.6l-1.5 .8M82.9 117.5l1.7 1.7M94.5 123.7l-.1 .7M89.1 132.8l-2.5 .2M111.8 133.2l1 1.2M133.2 -2l.6 1.8M133.2 142l.6 1.8"/><path stroke="#265c98" stroke-width="7.7" d="M53.6 1.1l0 2M53.6 145.1l0 2M17.1 16.6l.1 .2M65.7 10.2l1.6 1.5M110.7 10.8l-2 .1M10.9 23.8l-.1 0M69.2 24.4l-.7 1.2M-3.7 23l.3 .3M140.3 23l.3 .3M52.1 35.1l-2.2 .5M82 30.3l-3 .2M69.1 44.8l2.1 .7M122.1 40l-.3 2.2M58.6 47.7l.3 2.3M112.4 53.4l.2 .3M122.9 56.2l-2 .8M32.5 60.9l-1.7 .2M72.2 62.8l0 .8M39.8 72.2l.4 1.9M112.7 72.2l0 2.4M42.8 79.6l2.2 .6M74.8 78.9l1.5 2.6M96.6 79.6l-2.4 1.4M5.6 97l2.2 .6M149.6 97l2.2 .6M33.6 100.5l.7 1M82.4 96.9l-.7 .8M118 97.5l-.8 .7M76.5 111.1l1.8 2M1.2 112.5l0 .4M145.2 112.5l0 .4M4.4 116.2l2.1 2M148.4 116.2l2.1 2M126 123.3l.8 0M56.8 132.6l.1 .5M105.9 125l-.2 1.3M129.1 133.6l-1.7 .5M71.8 -3.7l.3 .4M71.8 140.3l.3 .4M84.3 -3.4l.2 2.1M84.3 140.6l.2 2.1M117.5 -4.4l.7 .2M117.5 139.6l.7 .2"/><path stroke="#265c98" stroke-width="8.3" d="M5.6 8.3l-.6 .3M99.9 8.4l.2 .1M-1.4 2.2l-.1 .3M-1.4 146.2l-.1 .3M142.6 2.2l-.1 .3M142.6 146.2l-.1 .3M29.7 8.6l.5 3.1M41.9 24.3l2 .2M50.9 25l-.8 1.4M15.8 36.4l1.6 .1M26.8 31.5l-1.6 .3M24 40.6l1.3 0M29.5 46.7l.3 .1M81.7 41l-.1 0M94 43.8l-.1 .7M101.4 43.4l-.5 1.1M131.5 44.5l-1.6 2.5M10.8 54.4l-2.3 1.3M25.9 49.8l.2 .1M50.1 51l.3 .6M2.6 63.6l1.7 .4M146.6 63.6l1.7 .4M10.9 59l2 .1M64.9 65.2l3.1 .6M128.7 59.6l1.1 .6M19.8 74.2l-1 1.6M48 68.1l.7 .4M19.8 81.7l0 .1M45.5 109.5l2.5 1.8M70.9 110.9l.2 .2M88.6 107.2l-.4 1.8M110.4 105.8l2.3 1.1M69 123.1l-2.3 .7M101 117.6l-2.2 .2M21.9 132.8l-.6 .2M52.6 124.8l-2.7 1.7M138.3 125.7l-1 .3M25.1 -3.5l1.5 1.2M25.1 140.5l1.5 1.2M49.4 -2.4l-.6 2.3M49.4 141.6l-.6 2.3M102.3 134.9l1.2 .6M110.6 134.7l-1.8 1.6"/><path stroke="#326caa" stroke-width="7.1" d="M85.4 14.7l1.7 2M88.9 31.9l.1 .2M101.5 32.5l.3 2.8M58.1 41.1l.4 0M137 51.7l-.7 .5M2.4 56.1l2 1.8M146.4 56.1l2 1.8M100.1 64.8l-.5 2M13.9 75.2l.1 1.4M79.3 72l.4 2.1M2.4 86.8l-.2 .1M146.4 86.8l-.2 .1M101.9 99.1l1.7 .6M27.4 108.8l-.1 .6M17.2 135.6l-.8 1.3"/><path stroke="#326caa" stroke-width="7.7" d="M69.8 .9l.8 .3M69.8 144.9l.8 .3M87.3 5.5l.5 .8M38.9 27.1l-2.1 .4M57.4 33.7l-.3 2M46.4 42.3l1 1.1M52.2 45.8l0 .3M113.3 60l-.7 .1M104.3 71.6l1.4 1.9M128 69.4l.1 .3M134.8 74.4l.5 2.4M112 83.1l-2.7 .7M116.6 82.4l1 .8M14.8 90.9l.5 .2M79.4 95.3l-.1 .1M122.2 90.3l.9 .5M6.7 106.8l.6 1.1M37.6 106l-2.1 1.9M107.4 109.1l-.5 .3M17.8 121.8l-1.8 .2M23.8 120.5l-1.1 1.1M5.6 125.4l.2 .4M94.3 126.4l-1.4 .1"/><path stroke="#326caa" stroke-width="8.3" d="M30.4 8.2l-1.5 1.6M48.7 10.5l2.6 1.8M.5 16.3l-.3 .3M144.5 16.3l-.3 .3M121.5 25.7l0 .2M132.3 19.1l1 1.9M11 32.6l-.5 1.1M126.5 33.1l-.3 0M133.9 31.4l1.5 .8M5.2 46.3l2.2 1.7M149.2 46.3l2.2 1.7M15.1 54.7l0 .6M93.1 58.3l.5 .1M-5.8 62l.6 2.5M138.2 62l.6 2.5M82.9 68.2l.9 1.6M-2 70.7l.9 .8M142 70.7l.9 .8M63.3 77.4l.6 2.3M81.6 81.9l-.1 .1M41.9 94.5l.1 .9M137 90.7l1.2 1.3M52.2 103.4l.5 2.8M76.6 96.7l-2.2 2.2M98.1 114l2.8 1.4M61.4 119.8l.9 1.5M122.5 117.6l.2 .1M137.5 115.7l.4 1.1M37.3 126.1l1.7 1.2M79.1 126.5l-1.3 2.3M-3.6 127.1l-.9 1.4M140.4 127.1l-.9 1.4M29.3 -5.4l.5 2.9M29.3 138.6l.5 2.9M44.1 -4.3l.2 .9M44.1 139.7l.2 .9M59.4 -6.4l-1.8 1.9M59.4 137.6l-1.8 1.9M95.4 136l-.5 0M138.1 -3.2l-.6 .1M138.1 140.8l-.6 .1"/><path stroke="#30e040" stroke-width="1.9" d="M60.6 9l-.1 .2M118.8 3.6l.5 .5M18.5 111.9l-.2 .4"/></g></pattern><pattern id="phC2" width="144" height="144" patternUnits="userSpaceOnUse"><rect width="144" height="144" fill="#010b1a"/><g fill="none" stroke-linecap="round"><path stroke="#3778b8" stroke-width="7.1" d="M6.8 6.2l-1.4 0M14.2 7.8l-.2 .4M20.1 8.1l1.9 .5M33.6 7.3l-1.6 1M7.3 15.6l-1 2.6M59.7 14.4l-.2 .3M104.6 16.3l-.2 .4M111.6 10.4l-.8 .7M6 22.8l0 1.3M82.6 37.2l.2 .1M8.1 52.6l2.2 .9M112.3 48.8l2.1 .8M120.8 54.7l2 1.2M-2.2 49.1l1.3 1.7M141.8 49.1l1.3 1.7M25.4 62.8l-.7 .2M-1.2 64.2l-1.2 .6M142.8 64.2l-1.2 .6M59.7 69.2l2.1 .1M70.7 78.7l.2 .1M80.6 81l-.6 .7M54.7 88.3l2.6 .2M90.1 91l-1.1 1M109 89.5l-.8 2.2M134.7 92.7l.4 .1M19.9 104.1l1.6 1.2M103.8 102.4l.2 .3M99.4 110.1l-1.9 .6M134.1 107.1l-.4 .1M.3 111.4l-2 .5M144.3 111.4l-2 .5M26.3 116.8l2.2 1.3M54.8 122l-.9 .5M63.3 131.8l.4 2.4M80.5 130.5l-.5 2.4M125.4 131.4l2.5 1.3M3.3 137.8l0 .1M147.3 137.8l0 .1M94.5 139.2l0 0M132.4 137.2l0 .8"/><path stroke="#3778b8" stroke-width="7.7" d="M80 1.4l-.1 2.5M80 145.4l-.1 2.5M38.4 15.4l-.5 .2M92.7 13.3l-1.4 1.1M1.4 11.1l.3 .5M145.4 11.1l.3 .5M15.5 22.5l.7 .2M55.7 21l-.1 1.4M90.4 27.1l-2 1.3M111.4 20.5l.1 2.9M11.2 44.2l1 .2M42.2 41.6l-1.8 .3M82.9 46.3l-2.1 .1M-2.2 41.3l.6 2.5M141.8 41.3l.6 2.5M85.6 48.5l-.1 0M28.6 72.9l.7 .4M138.1 74.4l.3 0M29.9 79.6l.1 1.1M41.3 77.8l1 .7M98 79.7l1.1 .6M25.2 91.3l2.4 1.4M124 87.8l-1 1.7M1 100.7l.6 1.4M145 100.7l.6 1.4M35.3 97.2l-1.4 .7M130.3 104.6l-.1 .4M11.2 113.6l-1.3 .4M34.8 122.2l-2.3 1M74 119.6l-1.3 0M80.3 116.4l-1.6 1.1M107.9 118l.9 .5M47.9 131.7l.2 2.1M99.7 127l-2.4 1M116.5 126.3l.6 .5M135.7 132.9l-1.4 .7M71.5 135.2l-2.3 1.8"/><path stroke="#3778b8" stroke-width="8.3" d="M47.4 3.9l.1 .4M47.4 147.9l.1 .4M63.3 6.2l0 .1M86 7.5l2.2 .2M37.4 25.4l-1.6 .4M57.7 24.5l2.6 .1M98.2 20.7l-.9 2.5M6.7 29.9l-2.5 1.7M150.7 29.9l-2.5 1.7M92.1 29.9l-.6 3M113.8 35.1l-2.3 1.3M126.7 32.1l-1.2 .2M-1.9 31.4l1 2.7M142.1 31.4l1 2.7M70.1 43.8l.9 1.5M127.4 44.5l-3 .3M35.2 50.5l-.3 .1M70 47.9l.4 2.6M-6.2 50.1l1.4 .7M137.8 50.1l1.4 .7M13.5 57.6l-.7 1.7M108.3 58.5l0 .3M130 59.5l-.1 .1M49.2 71.2l.6 .3M66.2 69l-1.6 .9M114.3 73l.7 3.2M17.2 80l0 0M105.3 84.3l2.8 .9M130.3 82l0 0M70.9 93.2l.3 .9M79.5 90.6l2.1 0M14.5 101.5l.7 .6M41.4 96.8l.3 2M29.9 105.1l0 2.1M38.4 111.8l-.8 2M58.4 106.7l-.9 1.1M66 109.1l-.7 1.9M106.1 106.3l-2.6 1.1M115 112l.3 .9M126.2 107.7l-.9 .5M16.7 123.4l.3 1.1M104.4 122.2l-.4 1.2M-3.7 119.2l.4 1.8M140.3 119.2l.4 1.8M13.7 128l-1.1 1.4M20.3 130.2l2.6 .8M25.8 130.7l1.8 1.5M57 130.8l1.3 2.1M104.4 130.9l-1.2 1.2M-2.9 131.5l1.4 1.1M141.1 131.5l1.4 1.1M110 136.7l-.2 .9M118.3 135.5l0 .4"/><path stroke="#4a94d4" stroke-width="7.1" d="M54 1.2l-.2 1.4M54 145.2l-.2 1.4M97.4 5.2l1.7 1M97.4 149.2l1.7 1M108.5 2.9l0 1M108.5 146.9l0 1M119.9 6.5l-.5 .1M-6.2 6.7l-2.6 .4M137.8 6.7l-2.6 .4M78.7 23.8l.1 .1M118 26.4l-1.5 .1M51.2 36.3l-.5 .6M137.9 34.4l.3 .2M30.1 45l.2 .4M90.3 41.1l.6 .4M109.6 41.5l1.1 1M19.6 53.4l-.9 .5M26.4 56.6l.5 .2M105.5 48.8l-1.7 .7M36.1 65.8l-.2 0M101.5 62.3l1.7 .7M25.1 81.8l-2.2 .6M55.4 85.5l-.4 .5M66.1 83.2l1 .1M93.2 79.9l.2 0M6.4 93.6l1.4 .8M53.7 96.5l1.5 1.7M108.5 98.9l2.1 .4M58.2 121.6l0 .1M83.6 127.7l1 1.5M11.2 -1.5l1.2 .6M11.2 142.5l1.2 .6M60.4 139.7l.4 .3"/><path stroke="#4a94d4" stroke-width="7.7" d="M77.3 8.7l-2.6 .5M24.8 12.5l-.3 .6M133.9 27.1l-2.8 .2M29.7 28.8l-.9 1.4M24.8 45.8l-.5 .6M98.1 39l.4 2.9M1.4 57.5l1.1 1.5M145.4 57.5l1.1 1.5M43.1 64.7l-1 .9M74.4 64.8l-2.7 .9M73.5 70.2l1 .1M92.1 69.5l.6 .9M-1.2 75.3l-2.2 .8M142.8 75.3l-2.2 .8M121.6 80.3l-.7 1.3M89.7 98.3l2.2 1.8M116.1 97.2l2.4 1M75.7 107.5l1.6 .1"/><path stroke="#4a94d4" stroke-width="8.3" d="M124 12.1l-.9 1.4M131.4 14.8l1 .9M39.7 23.2l1.1 1.1M-1.7 22.4l-.1 0M142.3 22.4l-.1 0M38.6 34.4l0 1M119.7 44l.6 1.2M44.8 55.6l1 .2M59.4 65.1l-1.7 2.5M82.9 61.8l.3 .6M124 58.6l-1 1.9M16.2 112.9l2 1.4M6.4 122.4l.8 2.6M150.4 122.4l.8 2.6M37.5 128.4l.4 .7M47.3 -5l-2.3 .6M47.3 139l-2.3 .6M-6.2 -7.1l-2.8 1.6M-6.2 136.9l-2.8 1.6M137.8 -7.1l-2.8 1.6M137.8 136.9l-2.8 1.6"/><path stroke="#30e040" stroke-width="1.9" d="M96.2 53.8l.1 .2M17 75.6l-.4 .1M128.6 75.5l.1 .1M1.1 94.3l-.3 .3M145.1 94.3l-.3 .3M85.5 110.7l.5 .2M90.4 123.7l-.3 .1M120.6 116.8l.3 .1M104.3 135.1l.4 .5"/><path stroke="#30e040" stroke-width="2.4" d="M-.9 78.5l.4 .4M143.1 78.5l.4 .4M-1.1 98.1l.6 .3M142.9 98.1l.6 .3M37.7 139.3l-.2 .5"/><path stroke="#30e040" stroke-width="2.9" d="M51.3 12.2l-.2 .5M74.7 13.4l-.2 .8M70.5 35.1l-.5 .4M106.5 36.2l.8 .7M53.8 46.4l.2 .4M1 84.6l.1 .8M145 84.6l.1 .8M78.9 100.4l-.9 .7M130.1 117.6l.7 .5M21.5 139.9l-.4 .1"/></g></pattern><pattern id="phC3" width="144" height="144" patternUnits="userSpaceOnUse"><rect width="144" height="144" fill="#010b1a"/><g fill="none" stroke-linecap="round"><path stroke="#285e9a" stroke-width="7.1" d="M15.6 2.1l-.1 .1M15.6 146.1l-.1 .1M31.8 4.2l-.6 .4M31.8 148.2l-.6 .4M90.3 0l1.1 .9M90.3 144l1.1 .9M132.2 2.9l-1.2 1M132.2 146.9l-1.2 1M30 18.2l1 0M65.6 14.1l0 0M67.8 26.8l.4 0M123 21.3l2.5 .8M65.3 36.5l-1.3 2.4M96.2 29.5l-.1 1.5M131.4 32.9l-1 1.3M10 42.8l.3 1.2M23.1 41.3l-1.1 1.2M37.4 45l0 1.6M103.9 39.6l.3 2M49.8 53.6l-1.4 .8M74 50.9l1.2 .4M108.4 60.9l-1 .1M128 60.4l1.5 1.6M60.9 73.8l-2 1.9M114.5 72.6l.1 .8M44.6 76.6l.3 2.7M82.9 80.1l.3 .3M114.6 82.2l-.7 1.8M137.9 81.6l1.1 .7M43.9 87.1l.2 .4M104.3 89.5l.2 .3M.4 105l1.6 .1M144.4 105l1.6 .1M49.5 102.2l2.3 .2M65.7 104.1l.5 .2M78.4 106.4l2.5 1.3M43.9 120.9l.3 .4M48.3 121.4l2.7 .4M80.6 120.5l.9 .8M87.2 122.5l1.3 1.1M119.4 119.3l-.7 1M39.8 130.5l-1.4 0M75.4 132.2l2.4 .5M112.8 129.6l-.2 0M-3.7 127.2l1 .1M140.3 127.2l1 .1M2.1 -2.9l1.5 1.1M2.1 141.1l1.5 1.1M146.1 -2.9l1.5 1.1M146.1 141.1l1.5 1.1M50.3 135.5l1.5 .6"/><path stroke="#285e9a" stroke-width="7.7" d="M43.8 5.8l-1.4 2.4M43.8 149.8l-1.4 2.4M70.7 3.5l.1 .4M70.7 147.5l.1 .4M78.7 2.3l1.2 .5M78.7 146.3l1.2 .5M50.6 10.3l-1.4 2.2M58.1 12.2l.4 1.9M73.3 14.1l1.6 .3M91.8 12.8l.7 1M128 15.9l.8 .2M40.8 23l1.5 2.5M55.8 26.8l.1 .5M109.2 23.2l-.9 1.7M102.5 35.1l.5 .6M.8 30.9l2 .8M144.8 30.9l2 .8M43.9 41.6l.6 1.2M59.9 45.3l-1.9 2M72.1 40.4l.8 .1M89.8 43.1l1.6 1.3M108.1 46l2.9 .8M69.7 54.2l0 .5M104 56.8l.3 .3M51.1 63.4l2 1.1M77.5 64.4l-.2 0M101.2 60l2.6 1M121.5 60.8l-1.4 .2M11.1 70.3l-.8 .9M133.6 72.4l-1.9 1.7M3.7 72l-1 .5M147.7 72l-1 .5M6.6 77.1l-1.4 .9M92.5 80.1l-.2 1M15.3 91.9l1.8 .9M129.3 86.9l-2.6 .6M112.9 96.8l1.6 1.3M136 99.8l-1.4 1.5M5.4 112.1l.6 .6M69.8 110.2l.8 2M82.8 107.7l.7 .3M99.1 107l-.8 .1M17.3 118.1l-1.4 1.6M126.7 130l.5 0M61.6 -3.4l-.1 0M61.6 140.6l-.1 0M77.2 -2.5l.5 .7M77.2 141.5l.5 .7M90.6 135.4l-.3 .4M126.3 135.9l.6 1.1"/><path stroke="#285e9a" stroke-width="8.3" d="M55.3 3.4l-2.3 .1M55.3 147.4l-2.3 .1M108.5 6.5l-1.4 2.6M108.5 150.5l-1.4 2.6M41.4 13.7l2.1 1.6M102.5 13.2l-.1 0M113 15.9l-2 2.2M7.4 24.2l.2 .2M10.2 25.8l.2 .2M89.3 27.4l2.5 1.2M6.8 29.9l-.9 1.8M150.8 29.9l-.9 1.8M21.6 35.9l0 1.9M49.4 32.6l.8 .2M117.2 32.8l-.2 .3M118.4 46.9l2.4 .1M128.2 44.8l-2.8 .6M135.9 45.5l-1.4 1M23.3 54.1l-.1 .2M24.2 53.1l1.6 1M89.1 54.5l-2.4 2.1M5.4 57.5l0 2.5M149.4 57.5l0 2.5M17.1 62.3l.1 .1M70.3 59.5l-2.4 1.4M37.4 67.7l.2 1.2M36 77.7l2.4 .4M130.1 83.6l.6 .8M68 91.7l-.2 2.6M72.5 98l-2 2.7M80.5 104.7l.3 .5M37.2 110.1l-2.5 .6M101.2 110.1l1 .8M119.3 114.2l-2.4 .2M134.3 106.6l.8 .4M97.9 116.9l.8 2M17.7 131.9l.1 .2M60.1 130.4l-.7 1.6M72.2 127.6l-2.3 2M131.9 125.1l-.8 2.6M72.7 -7.3l-1.9 2.5M72.7 136.7l-1.9 2.5M97.2 137l-1.3 .8M118 -1.7l2.9 1.2M118 142.3l2.9 1.2"/><path stroke="#3470ae" stroke-width="7.1" d="M6.8 5.6l-.9 1.7M6.8 149.6l-.9 1.7M117.9 4l-.4 1.6M117.9 148l-.4 1.6M130.6 10.8l-.2 2.6M.5 15.4l.4 .1M144.5 15.4l.4 .1M84.3 24l1.7 1.3M97.6 55.2l-1.3 2.3M114.8 49.1l-.2 0M-.4 50.7l-.8 2.6M143.6 50.7l-.8 2.6M-4.9 61.6l1 2.1M139.1 61.6l1 2.1M83.8 68.2l.6 .2M107.8 68.7l-.2 1.2M16.9 79.4l.6 1.7M24.2 81.3l-.7 .7M98.9 77.5l-1.9 .2M84.3 90.6l-.6 .6M30.2 100.9l1.2 1.2M89.9 103.7l0 2.7M119 98.8l-1.4 1.3M31.6 113.5l1.1 2.4M123.6 112.5l-2 1.3M60.6 117.9l.8 2.2M75.3 118.8l-.3 .4M46.8 127.5l-1.7 1.1M100.8 127.6l.9 1.8M135.6 -5l.3 1.5M135.6 139l.3 1.5"/><path stroke="#3470ae" stroke-width="7.7" d="M64.6 1.2l-.1 .9M64.6 145.2l-.1 .9M96.9 24l.1 0M36.1 33.1l1.7 2.3M6.4 44.9l.2 1.3M84.2 40.4l-.4 .2M35.1 52.6l-1.6 2.6M127.8 56.8l-1.3 .5M28.1 61.4l-.1 1.5M33.4 63.2l2.9 .1M89.4 58.7l-.8 .5M21.6 75.2l-2.2 1.5M30.4 67.8l.6 2M125.5 69.9l-.2 0M75.6 81.3l0 .4M31.3 94.5l-1.6 .3M117.4 92l.4 1M129.6 94.9l3 .4M40.5 98.7l.2 .1M18.7 107.4l-2.8 .1M131.5 116.7l-2.3 .1M-2 114.9l.6 2.4M142 114.9l.6 2.4M84.6 128.5l-1.2 1.3M11.2 -1.2l.2 .4M11.2 142.8l.2 .4"/><path stroke="#3470ae" stroke-width="8.3" d="M101.7 2.1l-2.7 1.2M101.7 146.1l-2.7 1.2M8.3 15.1l1.4 .2M66.3 23.4l0 .6M-2 25.4l.2 .2M142 25.4l.2 .2M56.6 36.9l2.5 1.9M86.9 36.8l.1 .3M53.3 42.3l-.1 .1M41.4 60.1l-2.1 1.7M63.9 60.2l0 .1M70 74.7l.7 1.4M48.1 84.5l2.6 1.1M123.7 77.6l-.4 1.1M35.7 91.7l.3 .4M57.3 94.2l2.7 1.1M93.7 90.8l-.6 .7M22.3 100.1l-.5 2.9M4 111.1l.1 1.2M148 111.1l.1 1.2M25.5 120.4l-.3 1.4M96.2 128.8l.9 .8M30.3 -3.4l2.8 .5M30.3 140.6l2.8 .5M39.8 135.3l.4 .3"/><path stroke="#30e040" stroke-width="1.9" d="M25.3 9l.6 .2M15.6 9.8l.2 .6M77.9 32l0 0M6.6 55.5l0 .2M75.7 71.3l.2 0M.5 91.2l-.1 0M144.5 91.2l-.1 0M130.1 97.3l-.5 .1"/><path stroke="#30e040" stroke-width="2.4" d="M30.2 22.3l0 .1M32.5 33.1l0 .1M121.4 36.5l.9 .4M134.2 54.2l-.2 .9M46.3 74.6l-.4 .6M64.9 83.1l.4 .1M14.7 104.7l-.5 .7M5.9 123.1l-.1 .4"/><path stroke="#30e040" stroke-width="2.9" d="M25.2 20.9l-.2 .3M32.2 130l0 .6M107.6 134.9l.9 .1"/></g></pattern><pattern id="phC4" width="144" height="144" patternUnits="userSpaceOnUse"><rect width="144" height="144" fill="#010b1a"/><g fill="none" stroke-linecap="round"><path stroke="#3472b2" stroke-width="8.0" d="M101.5 .3l.3 1.9M101.5 144.3l.3 1.9M-4.8 7.3l1 .1M139.2 7.3l1 .1M23.8 11.6l1.4 1.4M59.7 11.7l-1.7 .2M73.4 16.9l-.3 .4M85.5 14.4l.8 .8M8.8 27.1l-2.4 1M46.7 25.9l-.8 .1M131 26.3l-.2 .1M-3.3 25l.7 1.8M140.7 25l.7 1.8M70.8 35.9l-1.6 .8M78.2 37.7l2.8 .3M116.7 31.1l1.3 2.9M13.2 43.2l-.1 .6M37.9 41l-.6 3M59.6 40.5l.5 .4M73.2 38.2l2.4 2M93.3 44.2l.3 2.2M80 54.1l1.3 .2M78.1 58l-1.4 1.3M88.7 58.6l2.9 1.3M18.7 81.6l-.5 .1M60.2 80.3l-.5 2.2M129.8 79.8l1.2 0M7.8 89l-2.5 .6M37.6 92.8l-1.1 .7M63.7 94l-.2 1.1M103.8 89.9l-3.1 .8M131.1 94.9l-.3 .2M69.2 111.8l-1.5 1.7M118.7 107.2l-.2 .2M54.4 117.6l1.1 .1M68.8 117.3l-.3 1.6M95.1 124.8l1.9 1.6M117 131.2l-2.4 1.5M58.9 -2.7l1.2 1.3M58.9 141.3l1.2 1.3M129.9 135.9l.4 1.2M-5 -4.1l1.3 .4M-5 139.9l1.3 .4M139 -4.1l1.3 .4M139 139.9l1.3 .4"/><path stroke="#3472b2" stroke-width="8.7" d="M46.4 3.7l-.3 .1M46.4 147.7l-.3 .1M69.4 4.2l0 .4M69.4 148.2l0 .4M90.4 8.1l.2 1.7M109.8 4.6l2.4 .1M109.8 148.6l2.4 .1M15.8 17.6l3.1 1.2M26.8 22.2l-.5 .2M58.3 19.3l1.5 2.9M10.8 32.1l2.1 .3M22.7 36.1l-.1 .5M8.2 40.6l.1 2.5M84.5 45.5l-.4 .9M118.7 42.2l1 1.6M-6.3 47l2 0M137.7 47l2 0M107.4 49.4l2.7 1.1M10.7 62.4l-.8 .7M122.3 65.6l2.3 2.2M135.3 65.5l1.1 .4M48.4 68.4l2.3 0M66.1 72.1l-.9 2.9M101.5 75.5l1.4 .5M132.6 74.6l-.5 .6M-2.3 72.6l2.6 1.7M141.7 72.6l2.6 1.7M57.5 83.5l-1.2 1.6M80 84.7l-2.6 .7M19.2 94.2l1.8 .1M28.7 101.1l-.9 1M11.5 110l-.4 .4M96.9 107.2l.6 1.2M11.8 117l.5 .6M21.1 117l-1.9 2.5M85.6 123.6l-.9 .1M114.4 117.9l.5 .6M48.9 128.1l-1.1 .6M14 -2.8l-.1 .7M14 141.2l-.1 .7M49.2 136.1l.1 2.7"/><path stroke="#3472b2" stroke-width="9.4" d="M27.6 3.3l-.2 .5M27.6 147.3l-.2 .5M77.7 1.7l.7 2.5M77.7 145.7l.7 2.5M51.3 12.2l-2 2.2M92.8 12l.1 0M85.1 36.1l-.8 .4M1.4 30.4l-1.8 3.2M145.4 30.4l-1.8 3.2M16.3 53l-1.2 1.3M44.7 60.4l-.1 1.2M72.5 56.2l-.1 3.7M116 67.3l-3.2 1.4M68.9 77.6l-.4 1.1M89.9 78.5l-.9 1.7M99.2 84.5l2.1 .1M113.1 81.3l.2 3.6M115.7 80.9l1.2 0M76.4 91.1l.5 1.4M48.7 103.2l.6 1.1M-4.9 101.6l-1.2 1.4M139.1 101.6l-1.2 1.4M41.4 112.1l-.5 .4M45.5 112.6l-.8 3.5M125.1 109.7l-1.6 1.6M2.1 112.8l-.8 .1M146.1 112.8l-.8 .1M103.5 121.9l2.7 .7M-6.8 117.1l-1.3 2.4M137.2 117.1l-1.3 2.4M56.3 128.5l-1.2 .3M102.7 124.9l0 3.2M124.9 126.9l-.1 .1M92.9 137.8l.9 .4"/><path stroke="#4890d0" stroke-width="8.0" d="M35 1.9l0 .1M35 145.9l0 .1M65.9 17.4l-.6 1.2M.8 18.1l-2 0M144.8 18.1l-2 0M89.5 25.9l-.9 .8M98.9 26.6l-.5 .3M121.4 23.5l2.1 .2M43 31l-.7 .3M107.5 33.7l-.2 .6M23.4 44.8l-1.3 .4M111.3 56.8l.3 .1M1.5 61.7l-.3 .2M145.5 61.7l-.3 .2M30.6 59.1l1 1.2M11.1 69.4l1.2 1.9M28.5 71.1l1.5 2.7M45.3 86.9l-.7 2.6M1.5 100.2l-.7 .8M145.5 100.2l-.7 .8M14.8 95.6l.2 1.9M44.6 102.9l-1.1 1.2M86.6 99.3l2.5 .7M89.2 108.4l-2.4 2M138.1 107.4l-.2 .1M91.6 121.7l0 0M72.9 127.8l-2.9 1M89.2 132.6l-.4 2.4M23.8 -2.3l-2.4 .9M23.8 141.7l-2.4 .9M114.8 -2.6l2.5 .9M114.8 141.4l2.5 .9"/><path stroke="#4890d0" stroke-width="8.7" d="M6.9 5.7l-.7 .7M6.9 149.7l-.7 .7M14.1 4.4l-.3 .3M14.1 148.4l-.3 .3M56 5.4l.3 .2M127.9 4.6l.8 1.7M127.9 148.6l.8 1.7M84.7 19.3l.6 1.2M31 32.4l-1.3 2.2M97.9 30.2l-2.1 .1M57.5 51.2l-.6 .7M131.5 51.1l1.1 1.8M-2.2 53.7l3 .2M141.8 53.7l3 .2M27.3 64.7l1.4 1M108.2 58.2l-.8 1.9M127 69.1l.7 3.3M28.1 87.7l.1 0M53.8 94.2l-.2 .8M118.7 87.2l-1.1 0M124.9 87l.2 .1M31.5 97.5l-.1 .9M113.4 100l-1.3 1M78.5 113.6l1.3 1.2M106.1 112.1l-1.7 2.4M2.2 115.9l-1.2 1.3M146.2 115.9l-1.2 1.3M135.9 131.7l0 0M-3.7 126.1l0 .5M140.3 126.1l0 .5M110.3 -2.2l-.1 2.4M110.3 141.8l-.1 2.4"/><path stroke="#4890d0" stroke-width="9.4" d="M-6.1 15.1l1.5 .2M137.9 15.1l1.5 .2M68.6 27.6l.5 .7M121.6 35.5l-.2 .8M47.6 39.6l-1.1 1.1M55 40.6l.9 .3M105.3 45.8l-.6 2.4M96.7 75.1l.4 1.4M-1.4 90.8l-1.9 2.9M142.6 90.8l-1.9 2.9M96.7 102.3l.9 .3M125.6 102l2 1.2M16.6 108.8l2.6 1.1M41 120.4l.4 .4M123.4 122.6l-1.1 .6M134.8 121.9l-2.3 2M7.4 126.6l2.8 2.2M151.4 126.6l2.8 2.2M15.8 133.3l-1.1 1.1M5.9 -3.9l-2.8 1.2M5.9 140.1l-2.8 1.2M149.9 -3.9l-2.8 1.2M149.9 140.1l-2.8 1.2M34.2 -3.2l.1 0M34.2 140.8l.1 0M68.3 -6.7l2.5 1.3M68.3 137.3l2.5 1.3M79.4 -2.8l1.2 .8M79.4 141.2l1.2 .8M96 -4.1l2.6 .4M96 139.9l2.6 .4"/><path stroke="#30e040" stroke-width="1.9" d="M54.1 19.7l0 0M125.6 44.3l.5 .5M64.5 49.3l0 .5M75 101.1l.3 .3"/><path stroke="#30e040" stroke-width="2.9" d="M137.3 82l-.5 0"/></g></pattern><pattern id="phT1" width="144" height="144" patternUnits="userSpaceOnUse"><rect width="144" height="144" fill="#081a30"/><g fill="none" stroke-linecap="round"><path stroke="#1c1cbc" stroke-width="7.2" d="M38.2 3.1l.2 2M38.2 147.1l.2 2M48 4.9l.1 2.4M48 148.9l.1 2.4M77 3.1l-.2 1.2M77 147.1l-.2 1.2M55.9 11.6l-.5 1.1M102.2 14.5l-.7 1.3M4.1 13.9l-.2 .5M148.1 13.9l-.2 .5M6.5 23.6l.8 1.3M-2.3 19.1l-1.8 .2M141.7 19.1l-1.8 .2M41.5 32l.7 .6M99.3 30.1l-.5 1.9M137.5 28.3l0 0M-2.7 34.8l-.4 .9M141.3 34.8l-.4 .9M72.9 44.3l.1 .5M106.5 41.8l-.6 .8M57.6 45.6l-.8 2.1M108.6 50.6l0 1.9M23.1 57.7l.6 1.9M62.6 57.6l-1.3 1.1M68.5 58.9l0 1.2M96 60.8l-.9 .5M115.7 60.5l.3 1.2M14.7 66.7l-1.4 .7M58.5 64.6l-1.3 1M66.5 70.1l-.8 .6M80.8 66.7l-.3 .3M105.5 69.1l-2.2 .6M132.3 63.6l.3 1.3M8.3 76.5l.1 1.4M40.9 75.4l-.5 1.8M77.7 78.5l1.7 .7M123.8 75.5l-1.1 1.3M132.2 73.4l-.9 .1M138 72.8l.4 .5M58.6 88.5l-1.5 1.7M83 86.5l.4 .3M91.9 86.5l1.1 2.1M122.4 85.2l.3 .5M13.7 90.4l-1.7 1.7M122.2 104.8l.2 1.5M134.1 100.5l.6 .6M39.1 109.7l1.3 0M60.3 115.6l2.1 .6M105.7 115l-1.6 1.5M64.4 124.3l.2 .3M88.6 122.7l1.1 1.5M23.7 130.8l1.6 .2M83 127.2l-2.3 0M7.3 137.2l-1.5 1.1M15.2 -5.2l-.7 .9M15.2 138.8l-.7 .9M57.2 -5l-.6 .8M57.2 139l-.6 .8M106 137.7l-.7 .8M138.5 -3.8l.4 .3M138.5 140.2l.4 .3M.9 -2.1l2.1 .3M.9 141.9l2.1 .3M144.9 -2.1l2.1 .3M144.9 141.9l2.1 .3"/><path stroke="#1c1cbc" stroke-width="7.9" d="M24.3 3.1l-.5 .6M24.3 147.1l-.5 .6M27.7 13.5l-2.3 .8M138.6 9.4l.2 .5M48.9 24l.5 1.7M55.3 25.3l1 1.7M11.4 28.7l.5 .5M18.2 28.9l-.4 .1M53.9 31.7l.6 1M81.9 33.2l.2 .5M92.6 27.8l-.1 .7M110.6 32.9l-2.2 0M119.1 34.6l-.6 1.2M50.4 41.6l-.8 1.4M83.4 38l2.2 .1M117.3 39.9l.7 1.1M138.5 40.4l.8 .6M46.7 47.7l2.6 .7M71 50.5l-2.2 0M83.1 46l2.1 1M88.9 49.8l-.7 .8M-.6 52.6l-1.1 .7M143.4 52.6l-1.1 .7M13.2 54.1l1.7 1.8M43.8 57.3l-.3 1.3M28.9 64.5l0 .6M44.5 68.5l.8 .9M25.4 75.3l-1.4 0M5.1 84l-.2 .3M32.1 88.5l.4 .2M46.3 84.5l-.5 1.3M99.4 83.8l2.7 .3M58.7 96.2l1.2 1.3M11.2 106.4l1.1 .8M29.1 99.8l1.1 0M-5.4 100.3l2.7 .3M138.6 100.3l2.7 .3M1.1 111.6l1.1 1.9M145.1 111.6l1.1 1.9M33.6 108.5l0 0M76.5 116l.1 .3M90.4 110.5l1.7 .3M121 111.9l-2.6 .8M131.3 115.4l0 0M24.9 124.6l-1.5 .7M49 118.7l-.9 .3M127.2 120.3l2.2 .8M68.5 128.8l-2.5 .7M78.7 129.4l1.4 1.7M122.4 126.6l-1.7 .7M-2.5 126.4l.2 .2M141.5 126.4l.2 .2M62.9 -3.5l.4 .3M62.9 140.5l.4 .3M122.7 138.5l.6 .4"/><path stroke="#1c1cbc" stroke-width="8.6" d="M37 12.3l.8 0M44.8 11.7l.5 .8M110.5 11.6l-.8 1.7M22.2 22.2l.2 .1M36.7 23.1l0 .1M64.2 24.3l0 2M105.8 20.4l-2 0M28.6 34.2l-.6 1.8M20 40.8l1.7 2.3M29.5 36.6l-.1 .1M41.8 39.2l2.2 1.3M57 42l-1.2 .1M71.4 39.4l-.7 .2M114.4 46.2l-2 .3M122.5 49.8l.1 .7M133.5 48.8l-.3 2.6M34.7 66.4l-1.5 .5M70.3 62.7l-.2 1.8M89.9 70.7l-.4 1M119.2 69.1l1 .9M-1.2 67.3l.2 .6M142.8 67.3l.2 .6M59.1 78.3l-1.1 1.1M99.7 79.1l2.2 .2M28.2 83.4l-1.2 .7M4.6 88.1l-2 2.1M148.6 88.1l-2 2.1M2.3 92.5l-.8 1.6M146.3 92.5l-.8 1.6M44.2 94.1l.7 2.1M64.8 96l.8 1M94.5 95l.5 1M100.6 90.7l2.1 1.4M136.6 90.5l-.6 0M15.1 100.4l.4 2.1M33.8 101.3l.4 .9M10.8 112l-1.7 0M.2 112.7l-1.3 1.2M144.2 112.7l-1.3 1.2M52.9 121.9l1.3 1.4M83.7 123.2l.9 .7M102.7 123.8l.2 .1M-6.5 122.3l-2.8 .5M137.5 122.3l-2.8 .5M30.7 126.3l.4 .4M48.5 132.7l1.1 2.7M55.4 133.9l-.8 0M105.5 132.5l.7 .4"/><path stroke="#2626dc" stroke-width="6.8" d="M12.2 19.7l.5 1.2M31 24l.1 .9M84.4 20.4l.9 1M120.5 24.6l.5 .8M15.2 42.3l.4 .2M30.5 50.5l-1.8 .6M31.3 51.4l1.4 .3M96.2 49.8l-1.7 .6M77.2 59.7l0 0M103.4 57.5l1.1 .1M98.6 70l.5 .1M66.1 74.5l-2.1 .1M83.2 73.3l.3 .4M18.9 81.2l1.2 1.9M36.2 94.5l-1.7 .8M119.8 95.5l-.5 .7M54.7 101.2l-.4 .7M25.5 107.7l-.2 1.6M17.9 119.2l.4 .2M71.3 -6.4l1.6 1.4M71.3 137.6l1.6 1.4"/><path stroke="#2626dc" stroke-width="7.5" d="M28.4 6.6l1.9 1.6M28.4 150.6l1.9 1.6M64.1 7.3l1.2 .2M84.4 1.7l-.8 .3M84.4 145.7l-.8 .3M90.3 7.4l1.6 .8M-.6 2.1l-.4 .6M-.6 146.1l-.4 .6M143.4 2.1l-.4 .6M143.4 146.1l-.4 .6M5 12.1l0 .1M79.8 16.4l.9 .3M126.6 15.4l.2 1.6M77.1 20.2l1.7 1.8M112 21.4l-.7 1M130.3 43.4l.5 1.3M11.5 48.7l.5 .1M110.7 98.2l.5 .4M79.4 101.1l0 .1M108.2 104.8l-1.2 .9M69.2 113.9l-1.5 1.6M109.5 112.8l.1 .3M36.6 120.4l-2.4 .8M113.4 120.6l1.4 0M113.6 126.2l.6 1.4M49 -4l-2.3 .5M49 140l-2.3 .5M92.7 -4.2l-.2 .2M92.7 139.8l-.2 .2M96.2 -3.3l-.5 2.2M96.2 140.7l-.5 2.2M118 135.5l-.3 .5"/><path stroke="#2626dc" stroke-width="8.2" d="M59.5 47.3l.7 .5M7.7 57.5l.6 1.1M31.4 76.1l.1 .7M47.5 75.4l1.5 .5M66.3 81.9l-1.7 2.2M133.1 84.7l-.2 2.5M82.6 92l1 1.1M88.5 108.4l-.1 .1M2.8 118.5l.4 1.6M146.8 118.5l.4 1.6M41.9 130.8l.9 1.4"/><path stroke="#44ee44" stroke-opacity="0.95" stroke-width="2.3" d="M15.1 1.7l.6 .1M15.1 145.7l.6 .1M99.6 2.5l0 0M130.5 4.2l0 .4M128.1 55l.7 .1M121.9 70.9l.5 .5M113.6 75.4l0 0M74.7 84l.1 .1M46.8 92.6l.6 .5"/><path stroke="#44ee44" stroke-opacity="0.95" stroke-width="2.8" d="M90.7 13.3l-.6 .1M64.4 33.4l-.8 .3M71.3 28l.1 0M96.6 37.6l-.2 0M120.3 58.9l0 .3M107.8 88.3l-.2 .8M129.4 98l.3 .4M42.3 106.4l-.1 .3M32.4 139.5l-.5 .4"/><path stroke="#44ee44" stroke-opacity="0.95" stroke-width="3.3" d="M55.6 1.8l0 0M128.1 28.5l.7 .8M82.9 56.4l.9 .5M115.3 82.3l.7 .7M14.6 131l.8 .7M80.9 138.3l.8 .1"/></g></pattern><pattern id="phT2" width="144" height="144" patternUnits="userSpaceOnUse"><rect width="144" height="144" fill="#081830"/><g fill="none" stroke-linecap="round"><path stroke="#1c1cbc" stroke-width="7.2" d="M25.5 7.7l-1.4 1M31.5 5.2l-.7 .6M37.5 4.4l-.7 .1M37.5 148.4l-.7 .1M67.3 7.1l.2 1.5M97.1 2l-.1 .6M97.1 146l-.1 .6M113.4 2.3l.4 .4M113.4 146.3l.4 .4M99.9 15.3l.1 1.2M106.5 15.2l2.3 .2M130.9 9.7l1.6 .8M49.3 26.1l2.2 .4M138.3 24.2l-1.1 .8M32.6 33.1l1.4 .7M62.5 31.1l.3 1.3M75.4 28.1l0 0M133.8 30.1l-.7 .1M68.7 37.3l.3 .9M114 37.7l-.7 .6M-3.2 40.2l-.8 .7M140.8 40.2l-.8 .7M72.6 46l1 1.1M104.5 47.7l-.7 1M21.1 58.6l-.4 1.9M53.2 60.4l-1.8 .7M64.9 57.3l-1.2 .6M71.8 62.4l2.4 .1M96.6 54.1l2 .8M120.6 58.7l-1.9 1.1M9.2 70.6l-.1 .8M19.4 70.3l.1 .2M48.6 66.2l-1 1.7M57.1 68.8l0 .3M70.3 69.9l0 .6M119.4 63.6l1.5 .1M43.4 77.5l0 .2M65.4 76.1l-.6 .1M61.9 82.1l-1.5 .5M110.8 85.2l1.2 .7M112.9 89.2l.2 .5M125.5 89.3l.9 .3M19.5 91.4l.1 1.4M40.8 91.8l1.8 1.5M95.7 91.4l-2.4 .2M101.3 91.6l.6 .3M110.8 93.6l-2.1 .8M90.6 102.1l1.5 1.9M109.5 99.7l1.9 .5M131.4 106.7l2.3 .1M65 112.9l.1 .7M17 119.1l.4 1.6M64.1 119.8l2.1 1M96.3 121l-1.4 1.1M115.7 121.7l-.4 2.2M127.5 121l-.1 .1M66.8 133.2l.5 1.2M21.3 135.5l.2 .5M101.1 -4.8l1.2 2M101.1 139.2l1.2 2M123.9 -1.3l-1.7 .5M123.9 142.7l-1.7 .5"/><path stroke="#1c1cbc" stroke-width="7.9" d="M5.2 3.4l-1.8 .9M5.2 147.4l-1.8 .9M149.2 3.4l-1.8 .9M149.2 147.4l-1.8 .9M57 4.1l0 0M72.7 1.6l-.1 0M72.7 145.6l-.1 0M122.5 1.6l.2 2M122.5 145.6l.2 2M25.6 10.2l-.5 .5M46.9 11.9l-.1 .1M51.1 15.2l.5 .1M30.5 20.8l-.9 1.9M68.4 24.8l-.3 2.5M102.5 18.6l1.6 1.8M89.3 34.7l.8 .8M-2.3 30.2l1.7 .3M141.7 30.2l1.7 .3M12.3 41.5l0 .7M118.7 41.4l-2.2 .1M8.4 50.6l.1 .7M49.6 47.8l1.4 .7M-1.9 45.9l.2 .2M142.1 45.9l.2 .2M11.4 56.3l-1.3 1.2M28.9 56.7l-.9 .8M28.3 64.6l.6 .4M111.2 65.5l1.5 1.2M134.5 69.8l0 2M22.1 77l-.5 2.4M77.1 76.9l-.5 1.6M128.4 76.3l-.3 2.7M88.7 82.8l.6 2M16.7 94.9l-.9 1.2M56.1 92.2l1.9 .4M65.4 96.9l.1 0M118 93.9l.4 .3M6.2 99.1l.7 1.1M65.5 105.5l-.6 .2M97.7 101.3l-1.6 .4M32.1 111.6l1.4 2.4M107.2 115.4l-.7 .2M108.2 114.2l1 .1M55 131.1l1.1 2.2M129.7 127.4l.6 .2M121 138l-.8 .2"/><path stroke="#1c1cbc" stroke-width="8.6" d="M87.9 5.2l-2.3 .3M87.9 149.2l-2.3 .3M125.8 -.4l2 2.1M125.8 143.6l2 2.1M18 10.8l0 .1M32.7 12.8l1.9 .5M59.1 9.4l-.1 .2M-1.8 9.5l-1.1 .5M142.2 9.5l-1.1 .5M37 25.6l-.6 .2M58 26.1l1.6 .4M74.3 18.7l-1.3 .2M114.5 20.7l.6 0M7.5 33l-.5 .3M73.3 37.8l.9 2.8M84.9 37.9l1.9 1M102.9 39.1l-1.1 .7M20.6 48.3l.7 .2M41.6 49.8l.8 2.4M40.6 58l1.8 .5M55.8 54.6l-.1 .5M-4.9 61.8l.2 1.1M139.1 61.8l.2 1.1M97.6 70.7l.3 .1M123.5 67.9l1.3 1.1M84.1 75.7l1 .5M38.7 83.7l-.2 1.6M30.9 94.2l-.1 .2M77.1 92.5l-1.3 .4M25.4 100.8l.5 1.5M75.3 100.4l-.7 .1M129.1 106.4l1.7 2.2M12.5 109.6l-1.5 .1M38.4 114.6l.3 0M52.3 111.9l.4 .7M77.1 109.3l1.3 .1M123.9 110.9l1.5 .8M132.6 114.6l-2.8 .4M53.6 124.6l.8 1.3M73.6 123.1l0 0M-6 124.1l-1.1 .7M138 124.1l-1.1 .7M-2.7 124.1l-1 .6M141.3 124.1l-1 .6M-7 131.7l-2.7 .4M137 131.7l-2.7 .4M107.7 135.4l2.5 1.3"/><path stroke="#2626dc" stroke-width="6.8" d="M100.7 7.1l-1.8 .3M11.3 21.1l-.3 .9M133.1 26.1l.2 .3M49.1 32.7l-1.3 1.8M103.3 34.5l-1.5 .2M39.7 50.6l-.6 .6M97.4 50.5l0 2.3M134.6 55.4l-.7 1.3M66.5 66l-.1 .8M59.8 74.6l-.1 .3M50.2 81.5l0 2.4M45.9 93.8l.6 1.9M57.9 113l.5 2.1M80.5 124.9l.6 1.1M90.9 118.4l.2 1.5M81.8 130.3l.7 .6M115.5 129.4l.6 1.6M11 -4.9l-1 1.4M11 139.1l-1 1.4"/><path stroke="#2626dc" stroke-width="7.5" d="M-2.5 1.2l1.1 .4M-2.5 145.2l1.1 .4M141.5 1.2l1.1 .4M141.5 145.2l1.1 .4M6.9 16.1l0 1M127.1 14.9l.9 .7M3.5 19.6l.2 .9M147.5 19.6l.2 .9M81.6 24l.9 2.1M52.7 30.6l-.8 .6M43 41.9l-.1 .5M89.6 51.2l-.2 .9M6.5 56.6l.2 .5M122.9 77.3l1.7 1.1M46.8 82.6l1.1 1M95.2 84.7l0 .1M78.6 107.2l.5 .7M-1.2 100l-.3 .2M142.8 100l-.3 .2M.7 116.3l-.1 0M144.7 116.3l-.1 0M24.3 113.8l-1.1 1.3M94.1 114l-.1 1.7M9.2 122.3l-.3 .4M37.8 122.1l.1 0M28.1 137.4l0 0M34.1 136.1l1.9 1.2M132.8 134.6l-.7 2.4"/><path stroke="#2626dc" stroke-width="8.2" d="M10.3 2.4l1.9 .9M10.3 146.4l1.9 .9M53.1 6.5l.5 1.3M91.9 12.9l-1.8 1.9M17.5 27.2l.8 .9M2.1 40.6l1 .2M146.1 40.6l1 .2M19.4 37.9l-.1 .2M35.2 40.8l-.1 .3M124.8 47l.3 .9M111.6 56.6l0 0M14.1 74.7l1.8 1.2M108.6 72.8l.4 1.8M83.2 85l.2 .1M86.2 94.7l-1.8 .8M-5.4 93.1l1.6 1.4M138.6 93.1l1.6 1.4M29.1 120.1l.2 .1M43 124.1l-.6 1.2M91.6 126.5l1.7 .6M68.7 -3.4l-.8 1M68.7 140.6l-.8 1M90.7 -4.6l-1 .9M90.7 139.4l-1 .9M3.6 -2.7l-.8 2.3M3.6 141.3l-.8 2.3M147.6 -2.7l-.8 2.3M147.6 141.3l-.8 2.3"/><path stroke="#44ee44" stroke-opacity="0.95" stroke-width="2.3" d="M120.7 16l.7 .1M93.2 73l-.5 .4M4.2 97l.5 .1M101.5 129.3l.2 .1"/><path stroke="#44ee44" stroke-opacity="0.95" stroke-width="2.8" d="M22.9 18.8l.1 0M120.7 25.8l.2 .7M79.5 30.4l-.8 0M116.9 32.3l.3 .3M131 40.8l.6 .1M22.9 45.9l.3 .4M33.3 67.1l0 .6M141.3 78.1l.2 .2M17.5 85.3l.3 .6"/><path stroke="#44ee44" stroke-opacity="0.95" stroke-width="3.3" d="M82.1 10.6l-.2 0M26.3 31.3l.2 .1M104 34.6l0 0M48 37.1l-.3 .3M61 38.3l.1 0M36.7 103.6l0 0M49.2 106.4l-.4 .8M51.9 99.9l-.2 1.1"/></g></pattern><pattern id="phT3" width="144" height="144" patternUnits="userSpaceOnUse"><rect width="144" height="144" fill="#082036"/><g fill="none" stroke-linecap="round"><path stroke="#1c1cbc" stroke-width="7.2" d="M57.6 8.1l-.5 .2M105.4 4.2l.1 .2M45.4 11.1l-1.5 .1M122.2 12.6l-.1 .1M74.6 20.1l-.3 .8M82.2 22.6l-.2 0M-.1 24.1l-1.7 .8M143.9 24.1l-1.7 .8M87.6 33.6l2 0M91.3 39.8l.8 .5M100.6 36.9l-.8 2.3M118.2 37.8l1.2 1.3M69.5 66.7l0 0M97.4 69.7l.3 .3M114.4 67.5l-.8 .2M-3.3 64.5l2 .4M140.7 64.5l2 .4M45.5 72.8l.3 .2M98.8 84.4l-.7 .7M7.2 92.8l-1 2M62.5 92.4l-.4 .7M35.3 102.2l1 1.3M88.2 106.7l-1.1 .2M97.8 101.5l.4 1.5M114.7 102.6l.1 1.3M23.1 110.6l.9 1.3M38.9 114.3l-1.5 .9M110.8 111.6l-2.3 .8M72.4 121l-.4 .9M91.7 120.2l0 0M122.8 117.3l-1 1.9M1.1 121.1l-.3 1.7M145.1 121.1l-.3 1.7M16.7 132.4l-.1 0M87.1 130.6l-.4 .5M133.4 129.7l.7 1M23.5 138.9l.8 .2M-3.7 -1.4l.2 .1M-3.7 142.6l.2 .1M140.3 -1.4l.2 .1M140.3 142.6l.2 .1"/><path stroke="#1c1cbc" stroke-width="7.9" d="M42 2.2l-.7 1.5M42 146.2l-.7 1.5M48.7 4.5l.1 .1M70.8 4.6l.7 .2M70.8 148.6l.7 .2M84.1 7.8l.1 .1M102.7 15.9l.6 .5M110.1 8.4l-.9 2.6M-1.2 17.1l0 0M142.8 17.1l0 0M66.1 22.1l-1.6 1.6M119.5 25.8l2.4 .1M20.4 35l-.2 .1M64 28.4l-.1 2.2M135.6 33.6l-1.7 1.9M6.5 41.6l-1.3 2M150.5 41.6l-1.3 2M22.3 36.4l-1.5 1.1M131 39.6l-1.9 1.9M19.3 51.4l.7 1.3M37.4 46.6l-.4 .2M92.1 47.2l-.4 1.3M135.6 48.2l-.7 .1M-4.7 59.2l.2 1.7M139.3 59.2l.2 1.7M56.9 68.7l.7 .8M91.2 64.2l-.2 1.1M111.5 63.7l-1.2 1.5M8.3 76.5l-.9 1.3M12.4 73.8l0 1.8M30.9 78.8l.1 0M44 76.8l-.4 .8M74.2 72.7l.5 1.8M91.8 73.6l.4 .2M138.9 73.9l-.1 0M24.4 81.8l.5 .8M37.7 87.7l-1.1 0M68.6 86.9l.3 2.7M114.8 84.4l-1 1.5M126.7 83.3l1 .8M24.1 98.4l0 .1M48.2 96.4l.6 .6M82.3 94.1l.4 0M93.3 91.9l-.4 1.4M102 92.9l1.9 .1M29.9 104.8l0 1.6M74.7 100.3l0 0M112 105.9l-.7 .5M2.6 100.5l.1 .5M146.6 100.5l.1 .5M4.1 107.7l1.9 1.8M148.1 107.7l1.9 1.8M103 116.3l-2.1 0M123.8 111.8l-1.3 1.3M5.3 122.1l0 .2M20.3 123.6l-.1 1M97.3 121l-.9 1.2M39.4 133.7l0 1.5M45.5 127l.9 2.4M124.1 127.4l-.2 .8M-2.3 132.1l2 .1M141.7 132.1l2 .1M93.5 136.9l-2 .2M105.2 -2.5l1 1.3M105.2 141.5l1 1.3M116.2 -6.8l-1.4 1.8M116.2 137.2l-1.4 1.8M127.1 -3.5l0 0M127.1 140.5l0 0"/><path stroke="#1c1cbc" stroke-width="8.6" d="M7.6 7.4l-1.2 1.6M22.8 6.1l2.4 .5M22.8 150.1l2.4 .5M28 5.7l1.3 1M28 149.7l1.3 1M132.5 5.8l-2.9 .4M132.5 149.8l-2.9 .4M35.6 11.7l.5 1.8M81.9 13.4l-1.6 .5M89.7 16.4l0 0M121.5 15.5l-2.4 1.5M38.8 20.5l-2.2 .7M52.8 23.3l-.1 1M60.6 25.3l2 1.8M104.6 22.3l-1 2.5M110.1 22.5l.2 .8M129 23.4l.6 .7M74.2 32.9l-2.1 .5M99.2 28.5l0 .2M110.6 32.2l2 1.4M1 31.5l-2.1 .5M145 31.5l-2.1 .5M68.1 43l-.3 2.3M6.6 51.6l-.5 1.4M28.8 45.3l2 1.2M43.5 52.1l.3 2.5M55.4 49.9l-.8 2.6M4.3 59.4l-1 1.1M148.3 59.4l-1 1.1M53 61l0 0M70 57.2l-.6 .5M78 56.9l-2.8 1.1M95.8 58l-.5 1.8M104.3 61.5l-.4 .8M130 58.7l-.2 .3M32.5 66.8l.4 1.2M24.9 77.7l1.8 .5M115.4 74l1.8 1.2M119.3 72.1l-2.4 1.3M5.5 85.8l.2 .3M86.5 82.7l-.3 2.4M4 82.8l-1 .6M148 82.8l-1 .6M11.2 96.6l-.4 .8M41.8 104.9l.6 2.4M52.6 114.2l0 .3M72.9 115.9l.3 .3M131.7 110.5l1.5 .9M103.4 122.9l1.5 1.1M46.7 -3.7l2.2 .7M46.7 140.3l2.2 .7M63.9 135.6l.8 2.6"/><path stroke="#2626dc" stroke-width="6.8" d="M136.1 39l.3 .7M20.1 57.4l.7 2.1M56.6 61l-.7 .2M5 65.1l1.8 1.1M149 65.1l1.8 1.1M132.1 84.4l.6 .5M39.1 94.2l2.3 .4M.2 97.5l-1.5 1.6M144.2 97.5l-1.5 1.6M61.1 99.7l.3 .4M136 101.8l0 .1M23 119.5l.8 1.8M46.8 123l.9 .8M94.5 126.2l1.2 .5M98 136.7l-.6 .1"/><path stroke="#2626dc" stroke-width="7.5" d="M10.6 3.1l-1.9 .9M10.6 147.1l-1.9 .9M20.2 15.5l.1 1.4M18.9 21.6l.2 .5M26.4 29.5l.1 2.2M113 43.3l-1.4 1.9M119.5 53.2l.6 .1M128.8 51.1l-.3 1.2M109.2 55.7l0 .7M135 70.6l2.1 .5M61.4 76l-1.8 1.2M105.6 74.6l.7 1.8M29.4 90.4l1.2 .3M112.8 97.9l-.7 .1M130.9 91.7l-.2 .8M83.4 107.1l.1 .1M34.2 111.6l-.3 .4M57.7 111.6l1.7 1.2M-.6 110.3l.2 .9M143.4 110.3l.2 .9M118.1 123.7l-.5 .1M133.9 125l2 1M110.6 127.1l.9 .8M53.6 135.9l.4 1"/><path stroke="#2626dc" stroke-width="8.2" d="M128.2 29.9l.3 0M31.6 42.1l.7 .6M70.6 45.8l-.3 .3M34.4 60.7l-.3 .7M70.7 76.2l-.3 .5M86.9 73.6l-.6 .6M105.4 87.6l.5 1.8M13.4 99.6l-1.2 0M21.6 107.4l-.5 0M37 136.3l-.1 .5M138.9 -1.6l-.3 .2M138.9 142.4l-.3 .2"/><path stroke="#44ee44" stroke-opacity="0.95" stroke-width="3.7" d="M70.4 10.7l.3 .4M3.4 24.1l-.4 1M6.5 33.5l0 .3M33.9 34.9l0 .6M48.9 31.2l0 .3M120.2 29.6l-.1 .1M87.6 40.9l1.1 .5M41.7 83.3l.5 .4M52.3 88.2l.4 .7M79.3 87.1l-.3 .3M124.5 93.1l.3 1.1M123.4 100l.4 .2M17.4 112l-.7 .3M64.8 111l.1 .4M37.3 124.1l-.2 .1"/><path stroke="#44ee44" stroke-opacity="0.95" stroke-width="4.6" d="M79.5 4.1l-.7 1.3M79.5 148.1l-.7 1.3M8.6 15.9l1.5 .2M10.7 19.3l-.6 .4M51.2 28.6l0 .1M56.8 43.5l-.5 .3M75.2 42.3l-.3 1M110 46.6l.1 .2M1.8 49.3l0 0M145.8 49.3l0 0M16 69l-.9 .5M83.2 68.6l.1 .6M80.5 98l-.8 .2M49.8 119.1l1.3 .2M64.2 123.2l-.4 .4M77.5 122.1l.1 .1M1.2 129.2l0 0M145.2 129.2l0 0M35 133.9l-1.2 .7M69.9 128.4l-.2 .1M78 133.1l1.1 .8M81.7 -2.7l1.2 .8M81.7 141.3l1.2 .8"/><path stroke="#44ee44" stroke-opacity="0.95" stroke-width="5.5" d="M136.7 8.4l.4 .1M30.6 11.1l.5 .3M62.4 9.4l1.6 .9M96.4 20.8l.5 .6M81.6 34.6l.7 .2M17.1 41.9l0 .2M38.8 38.9l.4 .1M46.2 39.8l1.8 .3M15.9 59.3l.2 .5M30.3 66.2l.9 .4M61.7 86.3l-.7 0M23.7 127.7l-.2 .1M58.7 126.6l.1 .3M100.8 132.3l1 1M11.9 134.9l-.9 1.3M21.7 139.6l0 .2"/></g></pattern><pattern id="phT4" width="144" height="144" patternUnits="userSpaceOnUse"><rect width="144" height="144" fill="#050e28"/><g fill="none" stroke-linecap="round"><path stroke="#1c1cbc" stroke-width="7.2" d="M25.1 7.8l.7 .5M60.4 4.7l-.9 1.8M60.4 148.7l-.9 1.8M79 6.5l0 1.2M111 6.4l.4 1.7M35.9 14.3l-1.9 .4M79.6 10.5l-.9 1.3M4.6 19.5l-.1 1.8M148.6 19.5l-.1 1.8M22.6 25.4l2.4 .2M68.3 24.9l-.9 1.6M120.9 39.4l-.7 1.4M35.7 47.3l-2 0M89.9 49l-1.2 .4M101.5 49.1l-1.1 1M131.2 50.8l1 1.8M8.2 60.7l-.4 0M65.4 57.2l.2 2.1M88.1 58.8l-1.1 .8M14.3 65.1l.7 .1M40.8 79.3l-1.2 1.9M87.1 73.4l-2.1 .2M119.2 72.8l-1.6 1.9M60.8 88.2l.7 .3M136.4 82l-.3 .8M19.4 95.4l1.1 .6M47.4 95.4l-.5 2.1M78.5 90.3l-1.5 1M112.5 98.4l.6 .1M10.9 106.8l1.2 1M28 100.7l0 .1M56.8 100.7l-1.4 .7M46.5 110.9l-.6 2.1M75.8 111.3l-.7 0M117.5 115.5l.8 1.6M6.8 130.4l-.1 0M79.9 131.2l-.2 .2M91.4 131.9l-.3 .3"/><path stroke="#1c1cbc" stroke-width="7.9" d="M5.9 2.9l-.2 .5M5.9 146.9l-.2 .5M47.5 4.9l.2 2.5M47.5 148.9l.2 2.5M72.2 15.2l-.1 .1M130.5 9l-1 1.3M51 21.7l-.8 .4M80.2 19.6l-.7 .1M97.1 25.5l1 0M130.7 25l1 .9M-6.7 22.2l2.3 1.2M137.3 22.2l2.3 1.2M33.6 32.1l-1.7 1.6M99.6 30.8l-1.5 .9M1.4 40.1l.3 .9M145.4 40.1l.3 .9M17.4 39.7l-1.3 .5M25.1 41.8l1.4 .4M58.9 43.6l-.1 .1M76.8 42.9l-.4 1M115.9 36.9l1.3 1.5M129.8 42.8l-1 .9M-2 41.2l.1 .6M142 41.2l.1 .6M76.3 48.4l-1.4 .9M35.9 54.7l1.6 .3M-4 59.3l1.4 .6M140 59.3l1.4 .6M7.8 69.9l.9 .6M66.4 67.8l.8 1.5M87.7 67l.2 .7M109.9 63.6l-1.2 1.7M139 68.9l-.2 .2M33.1 76.7l-1.4 1.4M49.1 74.3l.9 .3M63.6 77.7l1.1 .4M113.1 73l.3 2.5M-1.9 78l-.3 .8M142.1 78l-.3 .8M25.6 87.8l-.2 .1M86.7 81.9l.2 .6M103.8 88l.9 .8M122 82.6l.1 .7M3.5 81.2l.3 .8M147.5 81.2l.3 .8M.6 94.3l1.5 .4M144.6 94.3l1.5 .4M30 92.9l2.2 .5M58.5 89.3l.8 2.5M118.1 94.6l-.5 1.6M34.9 111.6l1.1 2M133.4 113.4l.4 1.7M69.6 118.3l1 .7M111.2 125l1.3 .5M115.8 119.9l-.4 .2M125.3 121.2l-1.1 .9M.4 119.3l1.1 2.1M144.4 119.3l1.1 2.1M70.2 131.4l1.2 .9M101 127.3l-1.3 1.8M130.5 127.5l1.8 .6M-3.4 129.2l2 1.2M140.6 129.2l2 1.2M13.1 135.5l-.7 .5M36.9 -1.7l-.2 1.2M36.9 142.3l-.2 1.2M79.5 -1.6l.1 .1M79.5 142.4l.1 .1M97 -1.5l1 .3M97 142.5l1 .3M126 -1.9l.4 2.1M126 142.1l.4 2.1"/><path stroke="#1c1cbc" stroke-width="8.6" d="M83.2 .4l.6 1.7M83.2 144.4l.6 1.7M102.4 2.6l.7 2M102.4 146.6l.7 2M13.7 13.5l.5 1.8M34.3 20l-.1 0M74.1 27.6l0 1M125.6 32.1l1.7 0M66.9 36.6l-.1 .7M94.6 38.5l2.4 .4M12.5 51.1l.7 .2M20.6 49.4l-2.3 .3M108.2 54.1l-2.5 1.3M71.6 67.2l-.1 .9M-1.9 69.2l-.9 .3M142.1 69.2l-.9 .3M59.2 78.8l.7 .5M98 77.4l-1.2 1.4M42.2 82.7l0 0M80.4 84.3l.9 1.4M115.7 81.6l-.5 1.9M40.2 95.5l.8 1M65 93.2l1.2 0M72.4 102.1l.6 1M78.5 102.9l.1 .1M87.9 103.7l0 .1M99.5 98.9l0 2.2M132.3 104.9l-.5 0M12.1 110.3l-.2 1.2M39.8 117.9l0 .1M47.5 117.7l1.2 .6M35.5 129.1l2 1.7M15.3 -1l-.3 .7M15.3 143l-.3 .7M25.3 -1.8l.6 .7M25.3 142.2l.6 .7M57.4 135.7l.1 1.5M131.9 -2.1l0 .2M131.9 141.9l0 .2"/><path stroke="#2626dc" stroke-width="6.8" d="M16.2 1.4l.8 1.4M16.2 145.4l.8 1.4M67.8 4.5l-.3 1.2M67.8 148.5l-.3 1.2M25.5 15.9l1.5 1.3M58 11.2l0 .1M133.2 10.5l-.5 .1M87.2 29.7l.2 .5M116.6 32.2l-1.8 .6M41.2 36.5l.7 .3M47.2 46.8l0 .1M56.8 48.5l-.2 .3M109.1 55.8l.7 .3M56.3 71l.7 .9M98.1 70.1l-.1 0M107.3 77.3l.1 .2M131.1 74.1l-.3 2.3M103 82l-.2 0M85.3 94l-.1 .3M103.5 93.1l-.6 2M24.5 115.2l-1.2 1.3M69.2 115.8l.8 1M16.9 121.8l-.4 .5M99.3 119.8l-2.2 .1"/><path stroke="#2626dc" stroke-width="7.5" d="M33.7 7.4l.6 .5M-3.1 5.4l1.5 0M140.9 5.4l1.5 0M49 13.7l-.4 .1M64.5 16.2l-1.3 1.8M99.6 15.9l2.2 1.3M38.5 18.9l0 .5M113.3 19.5l-.1 0M123.7 20.9l-.6 .5M7.5 31.1l.7 .4M21.4 33.3l.4 .6M57 32l.1 2.2M111.6 29.2l.3 .2M12.4 53.4l.5 2.1M31.5 56.7l.4 .5M120.7 59.1l.2 1.8M131.5 56.3l1.5 .1M79.3 65.9l.1 .1M11.5 88.6l-.7 .3M33.8 84.3l-.1 .2M130.9 90l-1.9 1.7M42.7 103.9l1.6 .3M125.9 98.9l.3 2.1M85.1 110l-1.7 1M5.2 122.3l.2 .9M60.4 124.7l-.8 1M49.1 131.2l.1 .1M59.2 127.6l-.9 .1M69.8 137.6l-1 1.1M108.4 137.4l1.6 .7"/><path stroke="#2626dc" stroke-width="8.2" d="M44 1.5l.8 1.5M44 145.5l.8 1.5M92.7 11.6l-1.2 1M107.4 13.3l-1.1 1M116.8 10.7l-1.2 2.4M-1.8 13.3l0 .8M142.2 13.3l0 .8M9.1 21.1l1.6 2.1M100.7 24.5l2.1 1.1M26.7 32.9l-1.1 .1M66.4 31.7l.9 2.4M79.5 29.2l.8 1.5M28.8 42.1l-1.8 .7M101.1 37l.2 1.8M77.5 44.8l-.2 2.6M105.9 49.8l.3 .2M21.9 59l-1.2 .4M56 55l2.3 .9M76.6 57.8l-1.3 2.1M95.1 57.4l-2 .7M119.7 66.4l-.1 .8M126.5 68.3l-.1 1.3M5.8 78.7l1 1.9M149.8 78.7l1 1.9M52.7 85.7l-.5 1.2M67.4 87.9l1.7 2M-6 93.8l-1.1 1.7M138 93.8l-1.1 1.7M14.5 100.5l-.2 .4M41.9 108.7l-1.3 1.6M109.1 115.1l1.9 .6M22.9 124.3l2.1 1.8M53.9 123.5l-.8 .7M33.5 131.5l-.7 2.3M124.2 133.8l0 .7M44.3 -2.5l.6 2M44.3 141.5l.6 2"/><path stroke="#44ee44" stroke-opacity="0.95" stroke-width="3.2" d="M25.2 63.2l.1 1.1M16.2 75l-.3 .5"/><path stroke="#44ee44" stroke-opacity="0.95" stroke-width="3.7" d="M111.4 131.9l-.1 .3"/><path stroke="#44ee44" stroke-opacity="0.95" stroke-width="4.2" d="M96.6 .5l-.1 .1M96.6 144.5l-.1 .1M105.1 113.6l.1 .4"/></g></pattern><pattern id="pfI1" width="60" height="58" patternUnits="userSpaceOnUse"><rect width="60" height="58" fill="#00000a"/><g fill="none" stroke-linecap="round"><path stroke="#1c1cf6" stroke-width="2.4" d="M1.9 1.8h0M8.6 .8h0M8.6 58.8h0M11.5 1.4h0M18.4 1.1h0M18.4 59.1h0M23.5 .4h0M23.5 58.4h0M27.7 1.9h0M35.1 1.7h0M37.6 1.3h0M43.5 1h0M43.5 59h0M55.7 1.1h0M55.7 59.1h0M9.9 4.6h0M27.3 5.5h0M42.4 5.2h0M50.6 4.6h0M54.8 3.9h0M57 5.1h0M2.6 7.9h0M7.5 7.8h0M19.1 8.8h0M35.2 7.4h0M53.4 8.1h0M24.4 11.1h0M32.4 9.5h0M42.7 10.8h0M1 14.1h0M61 14.1h0M22.5 14.6h0M47 14.6h0M5.9 16.8h0M15.7 17.3h0M24.6 17.2h0M33.6 17.5h0M35.6 17.6h0M10 20.9h0M13.8 20.6h0M16.8 20.1h0M20 19.9h0M31.7 19.1h0M33.9 19.8h0M40 18.9h0M56.4 19.7h0M57.7 20.9h0M8.6 23.8h0M12.6 23.4h0M37 23.5h0M.7 23.3h0M60.7 23.3h0M.8 26.1h0M60.8 26.1h0M4.8 25.2h0M13 25.3h0M32 25.9h0M35.4 26.2h0M46 26.1h0M52 25.6h0M55.5 26.9h0M18.3 28.1h0M35.8 28.5h0M41.5 28.2h0M48.2 29.5h0M1.9 32.4h0M14.1 33h0M37.8 33.2h0M47.2 33.1h0M57.6 32.1h0M6.7 34.5h0M11.3 34.2h0M15.9 36h0M31 35h0M54.3 34.9h0M57 34.5h0M19.6 38.7h0M26.6 38h0M46.8 37.4h0M49.5 38.4h0M58.1 38.4h0M9.6 40.4h0M18.9 41.2h0M42.5 41.3h0M53.8 40.4h0M-.5 41.4h0M59.5 41.4h0M14.4 43.5h0M19.4 43.5h0M23.2 44.1h0M40.8 45.3h0M47.5 45.3h0M51.8 45h0M2.4 47.5h0M9 46.4h0M21.4 47.8h0M27.1 46.4h0M33.5 47.1h0M41.8 47.2h0M54.8 46.9h0M5.1 49.5h0M26.3 51.3h0M43.3 50.5h0M49.1 50h0M2.8 54.4h0M5 53.8h0M8.1 52.4h0M20 53.3h0M38.1 53.7h0M1.7 55.4h0M19.2 56.6h0M30.9 -.9h0M30.9 57.1h0M38.5 -.7h0M38.5 57.3h0M47.5 55.9h0M-.9 56.3h0M59.1 56.3h0"/><path stroke="#1c1cf6" stroke-width="2.7" d="M16.4 2.7h0M26.5 1.4h0M40.3 1.2h0M40.3 59.2h0M52.9 1.8h0M18.8 3.5h0M25.1 5.1h0M29.7 3.8h0M44.1 3.6h0M47 3.7h0M14.1 6.9h0M38.6 6.7h0M46.5 7.6h0M50.6 8.8h0M55 8.7h0M8.5 11.7h0M29 10.9h0M-.1 11.4h0M59.9 11.4h0M3.8 12.8h0M10.3 12.7h0M30.6 13.3h0M43.3 13.1h0M49.7 13.4h0M-.9 13.1h0M59.1 13.1h0M3 15.9h0M8.8 16.5h0M12.8 16.1h0M57.1 16.6h0M7.5 19.1h0M29.1 18.8h0M37.2 19.8h0M47.4 18.8h0M48.6 20.9h0M51.5 20.1h0M4.1 22.3h0M6.5 23.8h0M14.4 24h0M23.1 21.8h0M37.9 21.9h0M42.3 22h0M47.5 21.7h0M51.9 23.8h0M56.1 23.6h0M26 25.8h0M41 24.8h0M43.3 27.1h0M6 28.8h0M12.5 28.5h0M38.7 28.7h0M53.2 28.8h0M58.1 28.2h0M16.5 31.6h0M29.1 33h0M32.4 32.9h0M35.2 32.6h0M18.8 34.5h0M20 36.2h0M44.1 35.2h0M47.4 35.1h0M51.4 34.4h0M2.5 38.5h0M4.1 39h0M7.9 37.6h0M11.2 37.4h0M12.4 38.8h0M16.7 37.9h0M29.3 38.2h0M31.6 38.2h0M40.1 38.1h0M44 38h0M51.7 38h0M5.3 41.8h0M25.1 41.4h0M35.4 40.2h0M45 41.8h0M51.5 41.6h0M56.2 42.2h0M4.4 43.8h0M10.1 44.2h0M36.5 44.2h0M50.6 45.2h0M24.4 48.2h0M39.4 48.4h0M51.5 47.1h0M1.7 49.3h0M11.3 49.9h0M14.5 49.2h0M28.6 51.1h0M32.2 49.5h0M37.7 49.6h0M47.2 49.8h0M51.5 49.7h0M54.9 49.8h0M11.9 54.2h0M15.4 54h0M33.7 52.5h0M42.8 53.9h0M.2 54.4h0M60.2 54.4h0M4.7 -1.1h0M4.7 56.9h0M7.5 -.7h0M7.5 57.3h0M15.8 -1.1h0M15.8 56.9h0M28.1 55.5h0M40.3 56.2h0M50.3 -.9h0M50.3 57.1h0"/><path stroke="#1c1cf6" stroke-width="3.0" d="M30.8 1.9h0M47.6 1.5h0M49.6 1.7h0M2.8 3.8h0M15.1 4.4h0M20.4 4.3h0M33.9 4.5h0M36.6 3.4h0M39.2 4.9h0M.8 4.3h0M60.8 4.3h0M4.1 8.6h0M11 8.7h0M24.4 8h0M29.4 6.6h0M30.9 8.1h0M40.7 7h0M43.9 8.5h0M5.8 11.1h0M18 10.1h0M22 10.6h0M28.1 9.6h0M38.7 9.5h0M45.9 10.1h0M49.9 10.9h0M56.2 10.7h0M6.5 12.7h0M13.3 14.2h0M16.1 13.1h0M19.6 14h0M27.9 14.4h0M36.4 13.4h0M40.2 14.3h0M17.8 15.6h0M21.8 16.7h0M26.9 16.5h0M29 16.2h0M38.2 17.6h0M42.3 16.8h0M43.9 17.7h0M47.3 16h0M50 17.4h0M54.5 17h0M-.2 16.7h0M59.8 16.7h0M.9 20.5h0M60.9 20.5h0M5.3 20.5h0M22.7 19.2h0M42.7 19.4h0M18.6 23.4h0M20.5 23.6h0M45.8 22.4h0M53.6 23.9h0M8 25.7h0M11.2 26.8h0M20.6 26.9h0M50.5 25.1h0M58.4 26h0M3.6 29.4h0M14.5 29h0M21.1 29.5h0M24.7 29.3h0M27.4 29.4h0M33.4 30.1h0M45.4 29.9h0M50 29.4h0M4.1 31.2h0M7.3 32.6h0M19.4 32h0M22.3 32.4h0M25 32h0M48.5 32.9h0M9.5 34.1h0M32.5 35.4h0M39.7 35.1h0M42.7 36.2h0M.8 34.3h0M60.8 34.3h0M21.7 38.6h0M36.4 37.6h0M2.7 41.6h0M11.4 41.6h0M14.2 40.5h0M20.8 41.4h0M26.3 41.9h0M29.3 40.9h0M33.6 41.3h0M38.9 40.2h0M8.2 43.6h0M16 44.4h0M31 43.4h0M33.6 43.6h0M44.5 45h0M54.7 45.3h0M58.2 44.3h0M5.7 46.7h0M10.9 48.2h0M14.3 47.8h0M19.1 46.5h0M35.1 48.4h0M46 46.4h0M48.3 47.3h0M17 50.3h0M20.3 51.4h0M22 50.3h0M33.9 49.9h0M19.1 52.3h0M24.6 52.6h0M27.6 54h0M11 -.9h0M11 57.1h0M23.5 56.1h0M25.4 55.6h0M35 55.5h0M44.5 55.8h0"/><path stroke="#38e070" stroke-width="1.7" d="M53.6 14.7h0M8.3 29.1h0M35.3 34h0M56.6 38.1h0M49.1 40.8h0M56 47.2h0M35.8 54.5h0M50.2 54.5h0M12.7 56.1h0"/><path stroke="#38e070" stroke-width="2.0" d="M29.3 29.5h0M-.1 28.8h0M59.9 28.8h0M2.8 36.2h0M1.1 46.4h0M41.4 49.6h0"/><path stroke="#38e070" stroke-width="2.3" d="M7 4.4h0M22.8 8.3h0M26.2 19.6h0M30.5 22.9h0M55.8 32.1h0M24.1 34.2h0M58.4 51.5h0M53.2 56.7h0"/></g></pattern><pattern id="pfI1i" href="#pfI1" patternTransform="translate(3 5) scale(2.0)"/><pattern id="pfI2" width="60" height="58" patternUnits="userSpaceOnUse"><rect width="60" height="58" fill="#00000a"/><g fill="none" stroke-linecap="round"><path stroke="#1c1cf6" stroke-width="2.4" d="M3.4 2.7h0M35.4 1.3h0M47.3 .8h0M47.3 58.8h0M53.4 1.8h0M6.4 5.4h0M11.1 3.9h0M17 3.9h0M21 3.6h0M25.9 4.3h0M41.3 5.7h0M45.2 3.5h0M8.1 7.4h0M9.6 8.6h0M20.2 8.4h0M52 7.7h0M55.6 7.5h0M11 9.9h0M14.9 11h0M32.7 11.4h0M39.1 10.7h0M42.4 11.2h0M45 11.2h0M51.5 10.1h0M56.6 11.3h0M.3 10.9h0M60.3 10.9h0M17.4 14.2h0M28.4 13h0M50.4 13.7h0M12.1 16.1h0M14.4 17.9h0M21.8 16.3h0M29.3 16.2h0M41.1 16.6h0M46 17h0M18.9 19.8h0M28.1 20.4h0M32.5 20.5h0M34.4 18.8h0M36.5 19.3h0M-.8 20h0M59.2 20h0M3.3 23.3h0M42 21.8h0M55.1 22.1h0M.3 22.7h0M60.3 22.7h0M5.3 25.8h0M7.4 25.5h0M10.5 26.9h0M38 25.7h0M45.4 27h0M51.8 26.2h0M56.2 26.6h0M-.5 26.8h0M59.5 26.8h0M2.8 28h0M12.6 29.7h0M36.1 29h0M38.7 27.9h0M41.3 28.8h0M45 28.7h0M50.7 29.6h0M9.7 32.5h0M19.5 32.8h0M28.4 31.3h0M30.5 31.7h0M33.9 31.9h0M40.3 31.6h0M58.6 31.9h0M30.3 34.3h0M33.9 35.8h0M44.1 34.2h0M51.6 34.6h0M13.2 37.6h0M19.8 38.1h0M35.1 38.4h0M36.4 37.2h0M10.9 41.5h0M27.1 41.7h0M33.3 41.1h0M36.5 41.5h0M42.5 42.1h0M44.8 42h0M51.9 40.1h0M53.6 40.9h0M56 40.2h0M2.2 45.1h0M14.2 44.3h0M24.7 43.3h0M34 45.1h0M57.4 44.3h0M14.7 46.8h0M18.6 46.2h0M33.9 47.3h0M36.2 46.2h0M44.8 48.3h0M54.4 47.2h0M2.1 50.1h0M13.3 50.5h0M19 50.1h0M23 50.3h0M41.4 50.8h0M49.7 50.7h0M51.7 50.3h0M58.4 51h0M24 53h0M29.1 53.8h0M51.3 52.8h0M56.1 53.9h0M-1 54.2h0M59 54.2h0M8.6 55.6h0M21.5 56.6h0M36.5 56.8h0"/><path stroke="#1c1cf6" stroke-width="2.7" d="M8.4 2.2h0M13.7 2.5h0M15.5 2.4h0M28 1h0M28 59h0M40.6 2.1h0M44.6 1.2h0M44.6 59.2h0M50.4 .8h0M50.4 58.8h0M14.3 5h0M32.9 4h0M48.6 3.9h0M50.4 4.7h0M-.5 5.4h0M59.5 5.4h0M3.7 7.7h0M33.9 6.6h0M38.5 6.7h0M43 7.4h0M46.6 8.5h0M24.6 11.1h0M53.1 10.7h0M1.6 14.7h0M6.6 14.6h0M10.1 13.9h0M20.2 12.6h0M22.8 14.6h0M30.7 12.6h0M38 13.4h0M43.3 12.9h0M46.2 14.7h0M54.6 13.1h0M2.8 17.4h0M9.5 16.3h0M51.7 16.5h0M55 16.4h0M56 17.3h0M.6 17.4h0M60.6 17.4h0M11.2 20.9h0M16.1 19.7h0M23.5 20.3h0M47.3 19.4h0M54.6 19.1h0M20.1 21.8h0M25.1 23.6h0M27.2 21.9h0M33.9 23.4h0M45.8 23.4h0M47.4 22.9h0M1.8 25.4h0M16.5 26h0M19.3 26.5h0M28.2 25.1h0M7 29.7h0M13.9 28.6h0M24.6 28.3h0M29.2 29.8h0M33.8 30.1h0M.6 32.2h0M60.6 32.2h0M45.5 30.9h0M50 32.7h0M56 31.1h0M15.4 34.2h0M18.1 35.4h0M19.9 35h0M26.8 35.9h0M38.4 34.2h0M42.4 34.3h0M3.9 38.1h0M6.7 37.3h0M15.7 38.4h0M26.2 37.6h0M50.4 37.2h0M53.3 38.5h0M56.3 38.6h0M2.6 42.1h0M5.7 41.5h0M8.7 41.3h0M20.7 41.7h0M.8 41.7h0M60.8 41.7h0M4.1 45.3h0M8.5 44.4h0M17.6 44.8h0M18.5 44.7h0M23.1 44.7h0M45.8 43.6h0M49.3 44.6h0M52.4 43.2h0M55.2 44.7h0M3.6 46.3h0M9.8 47.3h0M12.1 48.2h0M39.3 48.1h0M41.4 47.8h0M8.4 51.5h0M36.5 50.4h0M44 51.4h0M54.6 49.5h0M7.1 54.4h0M11.8 52.3h0M18.7 52.3h0M21.8 54.5h0M40.1 54.1h0M45.6 53.5h0M46.9 53.7h0M55 53.4h0M13.9 55.9h0M25 -.4h0M25 57.6h0M28.7 56.3h0M43.8 56.1h0M47.3 -1h0M47.3 57h0M50.6 -.5h0M50.6 57.5h0"/><path stroke="#1c1cf6" stroke-width="3.0" d="M18.8 .6h0M18.8 58.6h0M23.6 1.7h0M24.8 1.3h0M24.8 59.3h0M31.6 .4h0M31.6 58.4h0M37.2 1.7h0M56.2 1.9h0M57.8 .6h0M57.8 58.6h0M3.8 4.6h0M8.7 5.2h0M24.3 4.4h0M30.6 4.9h0M55.1 5h0M56.3 5.3h0M.7 8.4h0M60.7 8.4h0M14.6 6.8h0M16.1 8.2h0M25.1 7.2h0M29 7.2h0M30.9 7.7h0M57.6 7.6h0M3.4 10h0M5.9 11h0M9.8 10.5h0M17.2 11.4h0M22 10.3h0M27.8 11.3h0M29.5 9.6h0M35.4 10.5h0M48.7 9.9h0M25.6 14.7h0M34.8 13.7h0M51.5 12.6h0M58 14.7h0M6.6 17.9h0M22.9 17.3h0M26.9 16.8h0M33.1 16.2h0M37.1 16.3h0M38 17.2h0M48.6 15.8h0M.9 19.1h0M60.9 19.1h0M4.2 20.6h0M14.5 20.5h0M41 20.9h0M43.7 20.5h0M48.6 18.8h0M51.8 19.9h0M5.5 21.9h0M8.2 22.7h0M12 23.1h0M14.3 21.8h0M18.2 23.9h0M29.7 22.7h0M36.3 22.4h0M39.3 23.5h0M50.4 22.4h0M56.9 22.3h0M14 25.2h0M22.3 26h0M25.5 26.5h0M41.3 26.6h0M44.5 26.5h0M48.6 26.2h0M18.9 28h0M20.9 29.3h0M26.7 29.9h0M48.4 30.2h0M55.1 29.6h0M-.8 28.2h0M59.2 28.2h0M4 32.5h0M6.5 32.2h0M13.5 32h0M16.4 31.5h0M22 32.4h0M52.4 32.3h0M5.1 35.4h0M8.8 34.1h0M23 35.3h0M35.5 36h0M49.1 34h0M53.2 35h0M.1 35.6h0M60.1 35.6h0M10.3 37.5h0M21.8 37.7h0M29.3 39.1h0M31.4 37.2h0M41 38.7h0M43.3 38h0M46.3 38.6h0M16 40.7h0M16.9 40.7h0M24.1 41.7h0M29.3 43.2h0M31.9 44.6h0M40 43.1h0M6.9 47.5h0M24.3 47.7h0M26.3 47.9h0M29 46.3h0M48.2 47.4h0M50.1 47.6h0M56.6 48.3h0M.6 46.5h0M60.6 46.5h0M5.2 51.4h0M10.2 50.5h0M15.7 50.5h0M25.8 49.7h0M28.4 50.6h0M30.9 50.9h0M35 50.5h0M46.6 50.4h0M3.9 54.2h0M8.4 54.3h0M14.3 53h0M26.3 54h0M32.5 53.6h0M36 53h0M41.6 54.2h0M3.8 55.8h0M9.9 56.2h0M15.5 56.4h0M32.6 -1.3h0M32.6 56.7h0M34.8 55.9h0M53.3 55.7h0M57.4 -1.3h0M57.4 56.7h0"/><path stroke="#38e070" stroke-width="2.0" d="M31 41.2h0"/></g></pattern><pattern id="pfI2i" href="#pfI2" patternTransform="translate(3 5) scale(2.0)"/>
<filter id="soft" x="0" y="0" width="100%" height="100%"><feGaussianBlur stdDeviation="0.45"/></filter><filter id="soft2" x="0" y="0" width="100%" height="100%"><feGaussianBlur stdDeviation="0.8"/></filter>
</defs>
<g stroke="none">
<g id="pA">
<text x="2.6" y="44.3" font-size="59">A</text>
<g transform="translate(0,0)"><g fill="none" stroke="#444" stroke-width="1.3" stroke-linecap="round" stroke-linejoin="round"><path d="M42.4 92C41.5 89.5 39.5 89.3 37 91C33.5 93 30.8 95.5 31.2 97.8C33 102.5 38 104.4 43.5 104.3C52 104 58 100 66 100.6C69 101 71 102 72.5 103"/><path d="M78.3 108.9C75 105 71.5 101.5 71.3 96.5C71.2 91.5 74.5 87 79 84.8C85 82 93 81.8 99 84C103 85.5 106 88 108.8 90.6"/><path d="M105 87.5C102 82 103 76.5 108 74C113 71.5 119.5 73 122.5 78C124.5 82 124 86 121.5 89.2"/><path d="M121.5 89.2C126 89.8 130.5 91.5 133.5 94.5C136.5 97.5 138.5 101 141.5 103.5C143.2 105 142.5 107 140.5 108C137.5 109.2 134 109.2 131 109.1H78.3" /><path d="M113.6 91.5C109 87.5 107.5 81.5 110.5 78.3C113 76 117.5 76.5 119 80C120.3 84 117.5 88.5 113.6 91.5Z" stroke="#bbb" stroke-width="1"/><ellipse cx="130" cy="98.6" rx="1.5" ry="1.9" fill="#222" stroke="none" transform="rotate(-20 130 98.6)"/><path d="M133.5 104.2C134.8 104.4 135.6 105 136 106" stroke="#999" stroke-width="0.8"/></g></g>
<text x="334.7" y="46.0" font-size="20.5" text-anchor="middle" fill="#ee4a4d">Anti-ENO1 mAb (20 mg/kg)</text>
<line x1="238.8" y1="57.8" x2="357.2" y2="57.8" stroke="#ee4a4d" stroke-width="1.6"/>
<line x1="239.6" y1="57.8" x2="239.6" y2="65.5" stroke="#ee4a4d" stroke-width="1.6"/>
<path d="M234.4 64.5H244.8L239.6 76.0Z" fill="#ee4a4d" stroke="none"/>
<line x1="268.2" y1="57.8" x2="268.2" y2="65.5" stroke="#ee4a4d" stroke-width="1.6"/>
<path d="M263.0 64.5H273.4L268.2 76.0Z" fill="#ee4a4d" stroke="none"/>
<line x1="297.6" y1="57.8" x2="297.6" y2="65.5" stroke="#ee4a4d" stroke-width="1.6"/>
<path d="M292.4 64.5H302.8L297.6 76.0Z" fill="#ee4a4d" stroke="none"/>
<line x1="327.0" y1="57.8" x2="327.0" y2="65.5" stroke="#ee4a4d" stroke-width="1.6"/>
<path d="M321.8 64.5H332.2L327.0 76.0Z" fill="#ee4a4d" stroke="none"/>
<line x1="356.4" y1="57.8" x2="356.4" y2="65.5" stroke="#ee4a4d" stroke-width="1.6"/>
<path d="M351.2 64.5H361.6L356.4 76.0Z" fill="#ee4a4d" stroke="none"/>
<text x="411.8" y="75.5" font-size="20.3" text-anchor="middle">Harvest</text>
<line x1="166.3" y1="92.6" x2="421.3" y2="92.6" stroke="#000" stroke-width="1.7"/>
<path d="M416.3 87.4L429.3 92.6L416.3 97.8Z" fill="#000"/>
<line x1="166.3" y1="82.4" x2="166.3" y2="102.6" stroke="#000" stroke-width="1.7"/>
<text x="166.3" y="122.2" font-size="20" text-anchor="middle">0</text>
<line x1="239.6" y1="82.4" x2="239.6" y2="102.6" stroke="#000" stroke-width="1.7"/>
<text x="239.6" y="122.2" font-size="20" text-anchor="middle">11</text>
<line x1="268.2" y1="82.4" x2="268.2" y2="102.6" stroke="#000" stroke-width="1.7"/>
<text x="268.2" y="122.2" font-size="20" text-anchor="middle">14</text>
<line x1="297.6" y1="82.4" x2="297.6" y2="102.6" stroke="#000" stroke-width="1.7"/>
<text x="297.6" y="122.2" font-size="20" text-anchor="middle">18</text>
<line x1="327.0" y1="82.4" x2="327.0" y2="102.6" stroke="#000" stroke-width="1.7"/>
<text x="327.0" y="122.2" font-size="20" text-anchor="middle">21</text>
<line x1="356.4" y1="82.4" x2="356.4" y2="102.6" stroke="#000" stroke-width="1.7"/>
<text x="356.4" y="122.2" font-size="20" text-anchor="middle">25</text>
<line x1="410.2" y1="82.4" x2="410.2" y2="102.6" stroke="#000" stroke-width="1.7"/>
<text x="410.2" y="122.2" font-size="20" text-anchor="middle">32</text>
<line x1="166.3" y1="140.0" x2="166.3" y2="148.6" stroke="#111" stroke-width="1.7"/>
<path d="M161.3 141.0H171.3L166.3 130.0Z" fill="#111" stroke="none"/>
<text x="157.3" y="168.7" font-size="20.5">2.5x10<tspan font-size="11" dy="-7">5</tspan><tspan dy="7">​</tspan> CT26 cells (s.c.)</text>
<line x1="111.6" y1="193.0" x2="111.6" y2="412.8" stroke="#000" stroke-width="1.7"/>
<line x1="98.6" y1="412.0" x2="111.6" y2="412.0" stroke="#000" stroke-width="1.7"/>
<line x1="98.6" y1="357.4" x2="111.6" y2="357.4" stroke="#000" stroke-width="1.7"/>
<line x1="98.6" y1="302.9" x2="111.6" y2="302.9" stroke="#000" stroke-width="1.7"/>
<line x1="98.6" y1="248.3" x2="111.6" y2="248.3" stroke="#000" stroke-width="1.7"/>
<line x1="98.6" y1="193.8" x2="111.6" y2="193.8" stroke="#000" stroke-width="1.7"/>
<text x="97.5" y="420.3" font-size="20.5" text-anchor="end">0</text>
<text x="97.5" y="311.2" font-size="20.5" text-anchor="end">100</text>
<text x="95.5" y="202.1" font-size="20.5" text-anchor="end">200</text>
<line x1="110.8" y1="412.0" x2="361.6" y2="412.0" stroke="#000" stroke-width="1.7"/>
<line x1="111.6" y1="412.0" x2="111.6" y2="424.0" stroke="#000" stroke-width="1.7"/>
<line x1="147.2" y1="412.0" x2="147.2" y2="424.0" stroke="#000" stroke-width="1.7"/>
<line x1="182.8" y1="412.0" x2="182.8" y2="424.0" stroke="#000" stroke-width="1.7"/>
<line x1="218.4" y1="412.0" x2="218.4" y2="424.0" stroke="#000" stroke-width="1.7"/>
<line x1="254.0" y1="412.0" x2="254.0" y2="424.0" stroke="#000" stroke-width="1.7"/>
<line x1="289.6" y1="412.0" x2="289.6" y2="424.0" stroke="#000" stroke-width="1.7"/>
<line x1="325.2" y1="412.0" x2="325.2" y2="424.0" stroke="#000" stroke-width="1.7"/>
<line x1="360.8" y1="412.0" x2="360.8" y2="424.0" stroke="#000" stroke-width="1.7"/>
<text x="113.6" y="443.2" font-size="21" text-anchor="middle">0</text>
<text x="184.8" y="443.2" font-size="21" text-anchor="middle">10</text>
<text x="256.0" y="443.2" font-size="21" text-anchor="middle">20</text>
<text x="327.2" y="443.2" font-size="21" text-anchor="middle">30</text>
<text x="247.0" y="464.0" font-size="24.5" text-anchor="middle">Days</text>
<text x="47.0" y="301.8" font-size="25.6" text-anchor="middle" transform="rotate(-90 47.0 301.8)" letter-spacing="-0.15">Rel. tumor vol. (FC)</text>
<line x1="121.3" y1="206.8" x2="162.8" y2="206.8" stroke="#000" stroke-width="1.7"/>
<circle cx="143.1" cy="206.8" r="7" fill="#d4d4d4" stroke="#000" stroke-width="1.7"/>
<text x="164.0" y="214.2" font-size="20.5">Veh.</text>
<line x1="121.3" y1="243.7" x2="162.8" y2="243.7" stroke="#000" stroke-width="1.7"/>
<rect x="134.6" y="236.4" width="14.5" height="14.5" fill="#f27a83" stroke="#000" stroke-width="1.7"/>
<text x="165.0" y="251.0" font-size="20.5">HuL001</text>
<path d="M118.2 411.8L176.0 411.5L197.5 410.4L218.5 400.5L239.5 397.5L260.8 374.2L282.3 361.0L303.8 306.5L332.2 270.5" stroke="#000" stroke-width="1.6" fill="none"/>
<line x1="332.2" y1="252.6" x2="332.2" y2="286.8" stroke="#000" stroke-width="1.6"/>
<line x1="326.7" y1="252.6" x2="337.7" y2="252.6" stroke="#000" stroke-width="1.6"/>
<line x1="326.7" y1="286.8" x2="337.7" y2="286.8" stroke="#000" stroke-width="1.6"/>
<rect x="112.5" y="406.1" width="11.5" height="11.5" fill="#f27a83" stroke="#000" stroke-width="1.6"/>
<rect x="170.2" y="405.8" width="11.5" height="11.5" fill="#f27a83" stroke="#000" stroke-width="1.6"/>
<rect x="191.8" y="404.6" width="11.5" height="11.5" fill="#f27a83" stroke="#000" stroke-width="1.6"/>
<rect x="212.8" y="394.8" width="11.5" height="11.5" fill="#f27a83" stroke="#000" stroke-width="1.6"/>
<rect x="233.8" y="391.8" width="11.5" height="11.5" fill="#f27a83" stroke="#000" stroke-width="1.6"/>
<rect x="255.1" y="368.4" width="11.5" height="11.5" fill="#f27a83" stroke="#000" stroke-width="1.6"/>
<rect x="276.6" y="355.2" width="11.5" height="11.5" fill="#f27a83" stroke="#000" stroke-width="1.6"/>
<rect x="298.1" y="300.8" width="11.5" height="11.5" fill="#f27a83" stroke="#000" stroke-width="1.6"/>
<rect x="326.4" y="264.8" width="11.5" height="11.5" fill="#f27a83" stroke="#000" stroke-width="1.6"/>
<path d="M118.2 411.8L176.0 411.2L197.5 405.9L218.5 403.2L239.5 392.6L260.8 344.0L282.3 321.7L303.8 231.1L332.2 214.0" stroke="#000" stroke-width="1.6" fill="none"/>
<line x1="303.8" y1="220.0" x2="303.8" y2="241.6" stroke="#000" stroke-width="1.6"/>
<line x1="298.3" y1="220.0" x2="309.3" y2="220.0" stroke="#000" stroke-width="1.6"/>
<line x1="298.3" y1="241.6" x2="309.3" y2="241.6" stroke="#000" stroke-width="1.6"/>
<line x1="282.3" y1="313.5" x2="282.3" y2="330.0" stroke="#000" stroke-width="1.6"/>
<line x1="276.8" y1="313.5" x2="287.8" y2="313.5" stroke="#000" stroke-width="1.6"/>
<line x1="276.8" y1="330.0" x2="287.8" y2="330.0" stroke="#000" stroke-width="1.6"/>
<circle cx="118.2" cy="411.8" r="5.9" fill="#d4d4d4" stroke="#000" stroke-width="1.6"/>
<circle cx="176.0" cy="411.2" r="5.9" fill="#d4d4d4" stroke="#000" stroke-width="1.6"/>
<circle cx="197.5" cy="405.9" r="5.9" fill="#d4d4d4" stroke="#000" stroke-width="1.6"/>
<circle cx="218.5" cy="403.2" r="5.9" fill="#d4d4d4" stroke="#000" stroke-width="1.6"/>
<circle cx="239.5" cy="392.6" r="5.9" fill="#d4d4d4" stroke="#000" stroke-width="1.6"/>
<circle cx="260.8" cy="344.0" r="5.9" fill="#d4d4d4" stroke="#000" stroke-width="1.6"/>
<circle cx="282.3" cy="321.7" r="5.9" fill="#d4d4d4" stroke="#000" stroke-width="1.6"/>
<circle cx="303.8" cy="231.1" r="5.9" fill="#d4d4d4" stroke="#000" stroke-width="1.6"/>
<circle cx="332.2" cy="214.0" r="5.9" fill="#d4d4d4" stroke="#000" stroke-width="1.6"/>
<path d="M344.8 215.9H357.7V268.4H344.8" stroke="#000" stroke-width="1.7" fill="none"/>
<text x="367.8" y="251.5" font-size="24" text-anchor="middle">*</text>
<line x1="319.3" y1="337.1" x2="368.9" y2="337.1" stroke="#000" stroke-width="2.4"/>
<circle cx="344.1" cy="337.1" r="9.3" fill="#d4d4d4" stroke="#000" stroke-width="2.4"/>
<line x1="319.3" y1="381.6" x2="368.9" y2="381.6" stroke="#000" stroke-width="2.4"/>
<rect x="334.8" y="372.3" width="18.6" height="18.6" fill="#f27a83" stroke="#000" stroke-width="2.4"/>
<rect x="374.9" y="314.7" width="42.4" height="87.6" fill="url(#gPhoto)" stroke="#222" stroke-width="1.3" rx="2"/>
<g filter="url(#fBlob)"><ellipse cx="397" cy="340.5" rx="15.5" ry="18" fill="#7c7c7c" transform="rotate(25 397 340.5)"/><ellipse cx="394.3" cy="386" rx="12.5" ry="13" fill="#9a9a9a" transform="rotate(30 394 386)"/></g>
</g>
<g id="pB">
<text x="495.0" y="43.9" font-size="59">B</text>
<text x="665.5" y="111.6" font-size="23.5" text-anchor="middle">Veh.</text>
<text x="893.5" y="110.5" font-size="23.5" text-anchor="middle" letter-spacing="0.4">HuL001</text>
<text x="538.5" y="197.5" font-size="23.5" text-anchor="middle" transform="rotate(-90 538.5 197.5)">HE</text>
<text x="536.5" y="378.0" font-size="23.5" text-anchor="middle" transform="rotate(-90 536.5 378.0)">Ki67</text>
<rect x="541.2" y="120.7" width="230.1" height="172.6" fill="#fff" filter="url(#bHE1)"/>
<rect x="541.2" y="120.7" width="137.6" height="102.5" fill="#fff" filter="url(#bHE1i)"/>
<path d="M678.8 120.7V223.2H541.2" fill="none" stroke="#000" stroke-width="1.2"/>
<rect x="541.2" y="120.7" width="230.1" height="172.6" fill="none" stroke="#1a1a1a" stroke-width="1.3" rx="1.2"/>
<rect x="777.5" y="119.4" width="229.5" height="173.0" fill="#fff" filter="url(#bHE2)"/>
<rect x="777.5" y="119.4" width="229.5" height="173.0" fill="#fff" filter="url(#bPink)"/>
<rect x="777.5" y="119.4" width="137.3" height="102.7" fill="#fff" filter="url(#bHE2i)"/>
<rect x="777.5" y="119.4" width="137.3" height="102.7" fill="#fff" filter="url(#bPink)"/>
<path d="M914.8 119.4V222.1H777.5" fill="none" stroke="#000" stroke-width="1.2"/>
<rect x="777.5" y="119.4" width="229.5" height="173.0" fill="none" stroke="#1a1a1a" stroke-width="1.3" rx="1.2"/>
<rect x="910" y="125" width="97" height="75" fill="#fff" filter="url(#bWhite)"/>
<rect x="777.5" y="119.4" width="229.5" height="173.0" fill="none"/>
<rect x="777.5" y="119.4" width="229.5" height="173.0" fill="none" stroke="#1a1a1a" stroke-width="1.3" rx="1.2"/>
<rect x="542.1" y="296.8" width="229.2" height="172.9" fill="url(#pbK1)" filter="url(#soft)"/>
<rect x="542.1" y="296.8" width="137.3" height="102.4" fill="url(#pbK1i)" filter="url(#soft)"/>
<path d="M679.4 296.8V399.2H542.1" fill="none" stroke="#000" stroke-width="1.2"/>
<rect x="542.1" y="296.8" width="229.2" height="172.9" fill="none" stroke="#1a1a1a" stroke-width="1.3" rx="1.2"/>
<rect x="776.6" y="296.2" width="230.1" height="172.2" fill="url(#pbK2)" filter="url(#soft)"/>
<rect x="776.6" y="296.2" width="230.1" height="172.2" fill="#fff" filter="url(#bBeige)"/>
<rect x="776.6" y="296.2" width="137.2" height="102.0" fill="url(#pbK2i)" filter="url(#soft)"/>
<rect x="776.6" y="296.2" width="137.2" height="102.0" fill="#fff" filter="url(#bBeigei)"/>
<path d="M913.8 296.2V398.2H776.6" fill="none" stroke="#000" stroke-width="1.2"/>
<rect x="776.6" y="296.2" width="230.1" height="172.2" fill="none" stroke="#1a1a1a" stroke-width="1.3" rx="1.2"/>
<text x="763.0" y="280.5" font-size="20" text-anchor="end">50 µm</text>
<line x1="739.4" y1="289.0" x2="765.7" y2="289.0" stroke="#000" stroke-width="1.6"/>
<text x="999.5" y="279.5" font-size="20" text-anchor="end">50 µm</text>
<line x1="975.5" y1="288.5" x2="1002.0" y2="288.5" stroke="#000" stroke-width="1.6"/>
<text x="763.5" y="456.5" font-size="20" text-anchor="end">50 µm</text>
<line x1="740.0" y1="465.5" x2="766.0" y2="465.5" stroke="#000" stroke-width="1.6"/>
<text x="1000.0" y="455.5" font-size="20" text-anchor="end">50 µm</text>
<line x1="975.5" y1="464.5" x2="1002.0" y2="464.5" stroke="#000" stroke-width="1.6"/>
<text x="786.0" y="491.0" font-size="24.5" text-anchor="middle">Tumors</text>
<line x1="1090.0" y1="229.0" x2="1090.0" y2="452.5" stroke="#000" stroke-width="1.6"/>
<line x1="1078.5" y1="451.7" x2="1201.0" y2="451.7" stroke="#000" stroke-width="1.6"/>
<line x1="1078.5" y1="407.3" x2="1090.0" y2="407.3" stroke="#000" stroke-width="1.6"/>
<text x="1077.5" y="414.9" font-size="21" text-anchor="end">20</text>
<line x1="1078.5" y1="362.9" x2="1090.0" y2="362.9" stroke="#000" stroke-width="1.6"/>
<text x="1077.5" y="370.5" font-size="21" text-anchor="end">40</text>
<line x1="1078.5" y1="318.6" x2="1090.0" y2="318.6" stroke="#000" stroke-width="1.6"/>
<text x="1077.5" y="326.2" font-size="21" text-anchor="end">60</text>
<line x1="1078.5" y1="274.2" x2="1090.0" y2="274.2" stroke="#000" stroke-width="1.6"/>
<text x="1077.5" y="281.8" font-size="21" text-anchor="end">80</text>
<line x1="1078.5" y1="229.8" x2="1090.0" y2="229.8" stroke="#000" stroke-width="1.6"/>
<text x="1077.5" y="237.4" font-size="21" text-anchor="end">100</text>
<text x="1077.5" y="459.3" font-size="21" text-anchor="end">0</text>
<line x1="1121.3" y1="451.7" x2="1121.3" y2="462.2" stroke="#000" stroke-width="1.6"/>
<line x1="1168.6" y1="451.7" x2="1168.6" y2="462.2" stroke="#000" stroke-width="1.6"/>
<rect x="1106.4" y="290.7" width="30.2" height="161.0" fill="#d4d4d4" stroke="#000" stroke-width="1.5"/>
<rect x="1153.1" y="384.0" width="30.7" height="67.7" fill="#f27a83" stroke="#000" stroke-width="1.5"/>
<line x1="1121.3" y1="279.7" x2="1121.3" y2="302.0" stroke="#000" stroke-width="1.5"/>
<line x1="1114.8" y1="279.7" x2="1127.8" y2="279.7" stroke="#000" stroke-width="1.5"/>
<line x1="1114.8" y1="302.0" x2="1127.8" y2="302.0" stroke="#000" stroke-width="1.5"/>
<line x1="1168.6" y1="372.0" x2="1168.6" y2="395.0" stroke="#000" stroke-width="1.5"/>
<line x1="1162.1" y1="372.0" x2="1175.1" y2="372.0" stroke="#000" stroke-width="1.5"/>
<line x1="1162.1" y1="395.0" x2="1175.1" y2="395.0" stroke="#000" stroke-width="1.5"/>
<circle cx="1121.3" cy="332.2" r="5.7" fill="#fff" stroke="#000" stroke-width="1.5"/>
<circle cx="1121.3" cy="298.0" r="5.7" fill="#fff" stroke="#000" stroke-width="1.5"/>
<circle cx="1121.3" cy="285.5" r="5.7" fill="#fff" stroke="#000" stroke-width="1.5"/>
<circle cx="1121.3" cy="271.8" r="5.7" fill="#fff" stroke="#000" stroke-width="1.5"/>
<circle cx="1130.8" cy="273.1" r="5.7" fill="#fff" stroke="#000" stroke-width="1.5"/>
<rect x="1163.3" y="404.4" width="10.5" height="10.5" fill="#fff" stroke="#000" stroke-width="1.5"/>
<rect x="1163.3" y="386.1" width="10.5" height="10.5" fill="#fff" stroke="#000" stroke-width="1.5"/>
<rect x="1153.2" y="374.8" width="10.5" height="10.5" fill="#fff" stroke="#000" stroke-width="1.5"/>
<rect x="1173.3" y="368.9" width="10.5" height="10.5" fill="#fff" stroke="#000" stroke-width="1.5"/>
<rect x="1163.3" y="353.2" width="10.5" height="10.5" fill="#fff" stroke="#000" stroke-width="1.5"/>
<path d="M1122.6 256.0V237.7H1167.3V341.4" stroke="#000" stroke-width="1.5" fill="none"/>
<text x="1145.0" y="243.0" font-size="24" text-anchor="middle">**</text>
<text x="1038.0" y="338.8" font-size="24.5" text-anchor="middle" transform="rotate(-90 1038.0 338.8)">Ki67<tspan font-size="13" dy="-8">+</tspan><tspan dy="8">​</tspan> cells (%)</text>
</g>
<g id="pC">
<text x="1218.7" y="45.6" font-size="59">C</text>
<g transform="translate(1233,0)"><g fill="none" stroke="#444" stroke-width="1.3" stroke-linecap="round" stroke-linejoin="round"><path d="M42.4 92C41.5 89.5 39.5 89.3 37 91C33.5 93 30.8 95.5 31.2 97.8C33 102.5 38 104.4 43.5 104.3C52 104 58 100 66 100.6C69 101 71 102 72.5 103"/><path d="M78.3 108.9C75 105 71.5 101.5 71.3 96.5C71.2 91.5 74.5 87 79 84.8C85 82 93 81.8 99 84C103 85.5 106 88 108.8 90.6"/><path d="M105 87.5C102 82 103 76.5 108 74C113 71.5 119.5 73 122.5 78C124.5 82 124 86 121.5 89.2"/><path d="M121.5 89.2C126 89.8 130.5 91.5 133.5 94.5C136.5 97.5 138.5 101 141.5 103.5C143.2 105 142.5 107 140.5 108C137.5 109.2 134 109.2 131 109.1H78.3" /><path d="M113.6 91.5C109 87.5 107.5 81.5 110.5 78.3C113 76 117.5 76.5 119 80C120.3 84 117.5 88.5 113.6 91.5Z" stroke="#bbb" stroke-width="1"/><ellipse cx="130" cy="98.6" rx="1.5" ry="1.9" fill="#222" stroke="none" transform="rotate(-20 130 98.6)"/><path d="M133.5 104.2C134.8 104.4 135.6 105 136 106" stroke="#999" stroke-width="0.8"/></g></g>
<text x="1567.7" y="46.0" font-size="20.5" text-anchor="middle" fill="#ee4a4d">Anti-ENO1 mAb (40 mg/kg)</text>
<line x1="1471.8" y1="57.8" x2="1590.2" y2="57.8" stroke="#ee4a4d" stroke-width="1.6"/>
<line x1="1472.6" y1="57.8" x2="1472.6" y2="65.5" stroke="#ee4a4d" stroke-width="1.6"/>
<path d="M1467.4 64.5H1477.8L1472.6 76.0Z" fill="#ee4a4d" stroke="none"/>
<line x1="1501.2" y1="57.8" x2="1501.2" y2="65.5" stroke="#ee4a4d" stroke-width="1.6"/>
<path d="M1496.0 64.5H1506.4L1501.2 76.0Z" fill="#ee4a4d" stroke="none"/>
<line x1="1530.6" y1="57.8" x2="1530.6" y2="65.5" stroke="#ee4a4d" stroke-width="1.6"/>
<path d="M1525.4 64.5H1535.8L1530.6 76.0Z" fill="#ee4a4d" stroke="none"/>
<line x1="1560.0" y1="57.8" x2="1560.0" y2="65.5" stroke="#ee4a4d" stroke-width="1.6"/>
<path d="M1554.8 64.5H1565.2L1560.0 76.0Z" fill="#ee4a4d" stroke="none"/>
<line x1="1589.4" y1="57.8" x2="1589.4" y2="65.5" stroke="#ee4a4d" stroke-width="1.6"/>
<path d="M1584.2 64.5H1594.6L1589.4 76.0Z" fill="#ee4a4d" stroke="none"/>
<text x="1644.8" y="75.5" font-size="20.3" text-anchor="middle">Harvest</text>
<line x1="1399.3" y1="92.6" x2="1654.3" y2="92.6" stroke="#000" stroke-width="1.7"/>
<path d="M1649.3 87.4L1662.3 92.6L1649.3 97.8Z" fill="#000"/>
<line x1="1399.3" y1="82.4" x2="1399.3" y2="102.6" stroke="#000" stroke-width="1.7"/>
<text x="1399.3" y="122.2" font-size="20" text-anchor="middle">0</text>
<line x1="1472.6" y1="82.4" x2="1472.6" y2="102.6" stroke="#000" stroke-width="1.7"/>
<text x="1472.6" y="122.2" font-size="20" text-anchor="middle">11</text>
<line x1="1501.2" y1="82.4" x2="1501.2" y2="102.6" stroke="#000" stroke-width="1.7"/>
<text x="1501.2" y="122.2" font-size="20" text-anchor="middle">14</text>
<line x1="1530.6" y1="82.4" x2="1530.6" y2="102.6" stroke="#000" stroke-width="1.7"/>
<text x="1530.6" y="122.2" font-size="20" text-anchor="middle">18</text>
<line x1="1560.0" y1="82.4" x2="1560.0" y2="102.6" stroke="#000" stroke-width="1.7"/>
<text x="1560.0" y="122.2" font-size="20" text-anchor="middle">21</text>
<line x1="1589.4" y1="82.4" x2="1589.4" y2="102.6" stroke="#000" stroke-width="1.7"/>
<text x="1589.4" y="122.2" font-size="20" text-anchor="middle">25</text>
<line x1="1643.2" y1="82.4" x2="1643.2" y2="102.6" stroke="#000" stroke-width="1.7"/>
<text x="1643.2" y="122.2" font-size="20" text-anchor="middle">32</text>
<line x1="1399.3" y1="140.0" x2="1399.3" y2="148.6" stroke="#111" stroke-width="1.7"/>
<path d="M1394.3 141.0H1404.3L1399.3 130.0Z" fill="#111" stroke="none"/>
<text x="1390.3" y="168.7" font-size="20.5">2.5x10<tspan font-size="11" dy="-7">5</tspan><tspan dy="7">​</tspan> CT26 cells (i.v.)</text>
<text x="1342.7" y="200.9" font-size="23.5" text-anchor="middle">Veh.</text>
<text x="1497.5" y="200.9" font-size="23.5" text-anchor="middle" letter-spacing="0.4">HuL001</text>
<text x="1264.0" y="363.7" font-size="23.5" text-anchor="middle" transform="rotate(-90 1264.0 363.7)">HE</text>
<text x="1429.4" y="490.0" font-size="24.5" text-anchor="middle">Lungs</text>
<rect x="1271.8" y="208.8" width="143.7" height="73.6" fill="url(#gPh2)" stroke="none"/>
<rect x="1425.2" y="208.8" width="143.2" height="73.6" fill="url(#gPh2)" stroke="none"/>
<g filter="url(#cPh)">
<path d="M1285.2 250.5C1286.6 245.7 1287.2 237.9 1290.3 233.7C1293.3 229.5 1299.5 225.3 1303.7 225.3C1307.9 225.3 1311.0 233.4 1315.5 233.7C1319.9 233.9 1326.4 226.9 1330.6 226.9C1334.8 226.9 1339.3 230.6 1340.7 233.7C1342.1 236.7 1341.2 242.1 1339.0 245.4C1336.8 248.8 1329.7 250.5 1327.2 253.8C1324.7 257.2 1326.7 262.2 1323.9 265.6C1321.1 268.9 1315.5 272.3 1310.4 274.0C1305.4 275.7 1298.4 277.6 1293.6 275.7C1288.9 273.7 1283.2 266.4 1281.8 262.2C1280.4 258.0 1283.8 255.2 1285.2 250.5Z" fill="#666"/>
<path d="M1354.1 250.5C1355.2 244.9 1356.9 239.0 1360.8 233.7C1364.8 228.3 1372.0 220.5 1377.6 218.5C1383.2 216.6 1389.7 218.8 1394.5 221.9C1399.2 225.0 1404.0 232.3 1406.2 237.0C1408.5 241.8 1409.3 246.3 1407.9 250.5C1406.5 254.7 1399.2 258.6 1397.8 262.2C1396.4 265.9 1402.0 270.4 1399.5 272.3C1397.0 274.3 1388.0 273.4 1382.7 274.0C1377.4 274.6 1372.3 276.8 1367.6 275.7C1362.8 274.6 1356.4 271.5 1354.1 267.3C1351.9 263.1 1353.0 256.1 1354.1 250.5Z" fill="#666"/>
<path d="M1443.2 252.1C1444.3 246.8 1449.9 242.9 1453.3 237.0C1456.6 231.1 1460.6 217.4 1463.4 216.8C1466.2 216.3 1466.7 229.2 1470.1 233.7C1473.4 238.1 1481.3 239.3 1483.5 243.7C1485.8 248.2 1484.9 255.8 1483.5 260.5C1482.1 265.3 1478.8 269.5 1475.1 272.3C1471.5 275.1 1466.4 277.9 1461.7 277.4C1456.9 276.8 1449.6 273.2 1446.6 268.9C1443.5 264.7 1442.1 257.5 1443.2 252.1Z" fill="#666"/>
<path d="M1512.1 237.0C1514.1 232.8 1520.5 233.7 1525.5 230.3C1530.6 226.9 1537.6 219.1 1542.4 216.8C1547.1 214.6 1553.6 214.9 1554.1 216.8C1554.7 218.8 1547.7 223.9 1545.7 228.6C1543.8 233.4 1543.8 240.1 1542.4 245.4C1541.0 250.7 1540.7 257.2 1537.3 260.5C1533.9 263.9 1526.1 266.4 1522.2 265.6C1518.3 264.7 1515.5 260.3 1513.8 255.5C1512.1 250.7 1510.1 241.2 1512.1 237.0Z" fill="#666"/>
</g>
<g filter="url(#cLung)">
<path d="M1283.5 290.8C1286.6 288.0 1294.2 286.3 1302.0 285.8C1309.9 285.2 1321.9 286.0 1330.6 287.4C1339.3 288.8 1346.8 290.5 1354.1 294.2C1361.4 297.8 1369.5 303.4 1374.3 309.3C1379.0 315.2 1381.6 321.9 1382.7 329.5C1383.8 337.0 1383.2 347.4 1381.0 354.7C1378.8 361.9 1374.3 368.7 1369.2 373.2C1364.2 377.6 1355.8 383.0 1350.8 381.6C1345.7 380.2 1342.9 368.9 1339.0 364.7C1335.1 360.5 1330.9 360.3 1327.2 356.3C1323.6 352.4 1319.9 345.1 1317.1 341.2C1314.3 337.3 1312.9 332.0 1310.4 332.8C1307.9 333.7 1305.4 343.5 1302.0 346.3C1298.7 349.1 1292.4 352.4 1290.3 349.6C1288.2 346.8 1289.8 335.6 1289.4 329.5C1289.0 323.3 1288.7 317.1 1287.7 312.6C1286.8 308.2 1284.2 306.2 1283.5 302.6C1282.8 298.9 1280.4 293.6 1283.5 290.8Z" fill="#c9a3dc"/>
<path d="M1291.9 351.3C1293.1 349.1 1299.5 354.4 1303.7 356.3C1307.9 358.3 1312.7 359.7 1317.1 363.1C1321.6 366.4 1326.4 371.2 1330.6 376.5C1334.8 381.8 1341.0 390.2 1342.4 395.0C1343.8 399.8 1342.1 402.3 1339.0 405.1C1335.9 407.9 1327.8 411.2 1323.9 411.8C1319.9 412.4 1318.5 412.4 1315.5 408.4C1312.4 404.5 1308.5 394.7 1305.4 388.3C1302.3 381.8 1299.2 376.0 1297.0 369.8C1294.7 363.6 1290.8 353.5 1291.9 351.3Z" fill="#c9a3dc"/>
<path d="M1391.1 346.3C1393.3 344.6 1392.5 351.3 1394.5 356.3C1396.4 361.4 1400.3 368.4 1402.9 376.5C1405.4 384.6 1409.0 396.1 1409.6 405.1C1410.1 414.0 1408.7 422.7 1406.2 430.3C1403.7 437.9 1398.7 446.0 1394.5 450.5C1390.3 454.9 1386.1 456.1 1381.0 457.2C1376.0 458.3 1367.8 458.9 1364.2 457.2C1360.6 455.5 1358.9 451.6 1359.2 447.1C1359.4 442.6 1366.7 435.9 1365.9 430.3C1365.0 424.7 1357.5 418.2 1354.1 413.5C1350.8 408.7 1345.7 405.4 1345.7 401.7C1345.7 398.1 1350.2 394.7 1354.1 391.6C1358.0 388.6 1364.8 387.4 1369.2 383.2C1373.7 379.0 1377.4 372.6 1381.0 366.4C1384.6 360.3 1388.9 347.9 1391.1 346.3Z" fill="#c9a3dc"/>
<path d="M1293.6 425.3C1295.6 421.3 1300.1 420.2 1303.7 420.2C1307.3 420.2 1312.7 423.0 1315.5 425.3C1318.3 427.5 1317.7 431.1 1320.5 433.7C1323.3 436.2 1331.7 437.6 1332.3 440.4C1332.8 443.2 1327.5 447.7 1323.9 450.5C1320.2 453.3 1314.1 454.4 1310.4 457.2C1306.8 460.0 1304.8 466.1 1302.0 467.3C1299.2 468.4 1295.3 467.8 1293.6 463.9C1291.9 460.0 1291.9 450.2 1291.9 443.7C1291.9 437.3 1291.7 429.2 1293.6 425.3Z" fill="#c9a3dc"/>
<path d="M1320.5 425.3C1322.7 421.6 1336.2 410.4 1340.7 408.4C1345.2 406.5 1348.5 410.4 1347.4 413.5C1346.3 416.6 1337.3 424.1 1333.9 426.9C1330.6 429.7 1329.5 430.6 1327.2 430.3C1325.0 430.0 1318.3 428.9 1320.5 425.3Z" fill="#c9a3dc"/>
<path d="M1328.9 465.6C1329.2 463.9 1333.1 459.4 1335.6 457.2C1338.2 454.9 1342.9 451.9 1344.0 452.1C1345.2 452.4 1344.0 456.3 1342.4 458.9C1340.7 461.4 1336.2 466.1 1333.9 467.3C1331.7 468.4 1328.6 467.3 1328.9 465.6Z" fill="#c9a3dc"/>
<path d="M1470.1 292.5C1474.0 288.6 1481.0 285.8 1485.2 285.8C1489.4 285.8 1491.9 288.0 1495.3 292.5C1498.7 297.0 1502.0 305.9 1505.4 312.6C1508.7 319.4 1513.5 325.8 1515.5 332.8C1517.4 339.8 1517.7 348.2 1517.1 354.7C1516.6 361.1 1514.3 367.3 1512.1 371.5C1509.9 375.7 1507.1 379.6 1503.7 379.9C1500.3 380.2 1496.1 376.0 1491.9 373.2C1487.7 370.4 1482.7 366.7 1478.5 363.1C1474.3 359.4 1470.1 356.3 1466.7 351.3C1463.4 346.3 1461.1 338.1 1458.3 332.8C1455.5 327.5 1449.4 323.3 1449.9 319.4C1450.5 315.4 1458.3 313.8 1461.7 309.3C1465.0 304.8 1466.2 296.4 1470.1 292.5Z" fill="#c9a3dc"/>
<path d="M1528.9 326.1C1530.0 325.5 1535.4 334.5 1539.0 339.5C1542.6 344.6 1547.1 349.6 1550.8 356.3C1554.4 363.1 1558.9 371.8 1560.8 379.9C1562.8 388.0 1563.4 399.2 1562.5 405.1C1561.7 411.0 1558.9 415.2 1555.8 415.2C1552.7 415.2 1547.1 409.6 1544.0 405.1C1541.0 400.6 1538.7 395.3 1537.3 388.3C1535.9 381.3 1536.5 370.6 1535.6 363.1C1534.8 355.5 1533.4 349.1 1532.3 342.9C1531.1 336.7 1527.8 326.7 1528.9 326.1Z" fill="#c9a3dc"/>
<path d="M1441.5 384.9C1444.3 382.7 1455.5 375.7 1461.7 374.8C1467.8 374.0 1472.3 378.2 1478.5 379.9C1484.6 381.6 1498.7 383.2 1498.7 384.9C1498.7 386.6 1484.6 388.6 1478.5 390.0C1472.3 391.4 1467.3 393.6 1461.7 393.3C1456.1 393.0 1448.2 389.7 1444.9 388.3C1441.5 386.9 1438.7 387.2 1441.5 384.9Z" fill="#c9a3dc"/>
<path d="M1429.7 401.7C1431.1 400.0 1445.7 396.4 1453.3 395.0C1460.8 393.6 1469.5 391.6 1475.1 393.3C1480.7 395.0 1483.5 401.7 1486.9 405.1C1490.3 408.4 1496.7 411.2 1495.3 413.5C1493.9 415.7 1482.7 415.2 1478.5 418.5C1474.3 421.9 1472.9 434.5 1470.1 433.7C1467.3 432.8 1465.9 418.2 1461.7 413.5C1457.5 408.7 1450.2 407.0 1444.9 405.1C1439.6 403.1 1428.3 403.4 1429.7 401.7Z" fill="#c9a3dc"/>
<path d="M1502.0 383.2C1503.7 378.8 1511.0 376.5 1515.5 378.2C1519.9 379.9 1524.4 388.0 1528.9 393.3C1533.4 398.6 1539.6 404.0 1542.4 410.1C1545.2 416.3 1548.0 425.0 1545.7 430.3C1543.5 435.6 1534.5 439.3 1528.9 442.1C1523.3 444.9 1517.1 445.7 1512.1 447.1C1507.1 448.5 1502.0 451.0 1498.7 450.5C1495.3 449.9 1491.4 447.7 1491.9 443.7C1492.5 439.8 1499.8 433.4 1502.0 426.9C1504.3 420.5 1505.4 412.4 1505.4 405.1C1505.4 397.8 1500.3 387.7 1502.0 383.2Z" fill="#c9a3dc"/>
</g>
<g filter="url(#cHeart)">
<path d="M1425.5 289.1C1428.2 280.4 1438.3 290.2 1441.5 294.2C1444.7 298.1 1444.9 306.8 1444.9 312.6C1444.9 318.5 1441.2 321.1 1441.5 329.5C1441.8 337.9 1446.0 354.7 1446.6 363.1C1447.1 371.5 1446.3 376.8 1444.9 379.9C1443.5 383.0 1441.0 384.4 1438.2 381.6C1435.4 378.8 1430.2 368.9 1428.1 363.1C1426.0 357.2 1426.0 358.6 1425.5 346.3C1425.1 333.9 1422.9 297.8 1425.5 289.1Z" fill="#c878c8"/>
</g>
<g filter="url(#cTum)">
<path d="M1350.8 299.2C1355.0 297.0 1360.0 299.2 1364.2 302.6C1368.4 305.9 1374.6 314.9 1376.0 319.4C1377.4 323.9 1375.1 325.5 1372.6 329.5C1370.1 333.4 1365.6 339.3 1360.8 342.9C1356.1 346.5 1348.8 349.3 1344.0 351.3C1339.3 353.3 1335.4 354.7 1332.3 354.7C1329.2 354.7 1326.1 354.7 1325.5 351.3C1325.0 347.9 1326.7 340.4 1328.9 334.5C1331.1 328.6 1335.4 321.9 1339.0 316.0C1342.6 310.1 1346.6 301.4 1350.8 299.2Z" fill="#7a3db5"/>
<circle cx="1285.2" cy="294.2" r="3.7" fill="#7a3db5" stroke="none"/>
<circle cx="1339.0" cy="294.2" r="2.9" fill="#7a3db5" stroke="none"/>
<circle cx="1324.7" cy="348.3" r="2.9" fill="#7a3db5" stroke="none"/>
<circle cx="1319.7" cy="409.3" r="2.9" fill="#7a3db5" stroke="none"/>
<circle cx="1385.2" cy="448.8" r="3.4" fill="#7a3db5" stroke="none"/>
<circle cx="1548.2" cy="419.4" r="9.2" fill="#7a3db5" stroke="none"/>
<path d="M1517.9 442.0A18 18 0 1 1 1485.1 442.0L1493.3 445.6A9 9 0 1 0 1509.7 445.6Z" fill="#7a3db5"/>
</g>
<rect x="1271.8" y="208.8" width="143.7" height="261.0" fill="none" stroke="#1a1a1a" stroke-width="1.3" rx="1.5"/>
<line x1="1271.8" y1="282.4" x2="1415.5" y2="282.4" stroke="#1a1a1a" stroke-width="1.3"/>
<rect x="1425.2" y="208.8" width="143.2" height="261.0" fill="none" stroke="#1a1a1a" stroke-width="1.3" rx="1.5"/>
<line x1="1425.2" y1="282.4" x2="1568.4" y2="282.4" stroke="#1a1a1a" stroke-width="1.3"/>
<text x="1283.6" y="323.4" font-size="16.5" text-anchor="middle">M</text>
<text x="1349.3" y="340.6" font-size="16.5" text-anchor="middle">M</text>
<text x="1403.0" y="460.0" font-size="16.5" text-anchor="middle">M</text>
<text x="1555.0" y="443.9" font-size="16.5" text-anchor="middle">M</text>
<text x="1528.8" y="465.4" font-size="16.5" text-anchor="middle">M</text>
<text x="1275.2" y="458.2" font-size="20">1 mm</text>
<line x1="1276.3" y1="464.5" x2="1294.6" y2="464.5" stroke="#000" stroke-width="1.6"/>
<text x="1428.5" y="458.2" font-size="20">1 mm</text>
<line x1="1429.9" y1="464.5" x2="1447.7" y2="464.5" stroke="#000" stroke-width="1.6"/>
<rect x="1665.8" y="185.5" width="26.8" height="12.6" fill="#d4d4d4" stroke="#000" stroke-width="1.3"/>
<text x="1698.7" y="198.3" font-size="21">Veh.</text>
<rect x="1766.4" y="185.5" width="26.8" height="12.6" fill="#f27a83" stroke="#000" stroke-width="1.3"/>
<text x="1796.7" y="198.3" font-size="21" letter-spacing="0.3">HuL001</text>
<line x1="1661.5" y1="230.3" x2="1661.5" y2="453.1" stroke="#000" stroke-width="1.6"/>
<line x1="1650.0" y1="452.3" x2="1771.7" y2="452.3" stroke="#000" stroke-width="1.6"/>
<line x1="1650.0" y1="231.1" x2="1661.5" y2="231.1" stroke="#000" stroke-width="1.6"/>
<line x1="1650.0" y1="305.4" x2="1661.5" y2="305.4" stroke="#000" stroke-width="1.6"/>
<line x1="1650.0" y1="379.5" x2="1661.5" y2="379.5" stroke="#000" stroke-width="1.6"/>
<text x="1648.5" y="313.0" font-size="21" text-anchor="end">10</text>
<text x="1648.5" y="459.9" font-size="21" text-anchor="end">0</text>
<line x1="1692.4" y1="452.3" x2="1692.4" y2="462.8" stroke="#000" stroke-width="1.6"/>
<line x1="1740.8" y1="452.3" x2="1740.8" y2="462.8" stroke="#000" stroke-width="1.6"/>
<rect x="1677.2" y="302.5" width="31.0" height="149.8" fill="#d4d4d4" stroke="#000" stroke-width="1.5"/>
<rect x="1725.8" y="421.5" width="30.2" height="30.8" fill="#f27a83" stroke="#000" stroke-width="1.5"/>
<line x1="1692.4" y1="269.7" x2="1692.4" y2="335.3" stroke="#000" stroke-width="1.5"/>
<line x1="1685.9" y1="269.7" x2="1698.9" y2="269.7" stroke="#000" stroke-width="1.5"/>
<line x1="1740.8" y1="409.7" x2="1740.8" y2="433.5" stroke="#000" stroke-width="1.5"/>
<line x1="1734.3" y1="409.7" x2="1747.3" y2="409.7" stroke="#000" stroke-width="1.5"/>
<line x1="1734.3" y1="433.5" x2="1747.3" y2="433.5" stroke="#000" stroke-width="1.5"/>
<circle cx="1692.4" cy="335.6" r="5.7" fill="#fff" stroke="#000" stroke-width="1.5"/>
<circle cx="1692.4" cy="320.9" r="5.7" fill="#fff" stroke="#000" stroke-width="1.5"/>
<circle cx="1692.4" cy="291.5" r="5.7" fill="#fff" stroke="#000" stroke-width="1.5"/>
<circle cx="1692.4" cy="261.8" r="5.7" fill="#fff" stroke="#000" stroke-width="1.5"/>
<rect x="1735.5" y="433.4" width="10.5" height="10.5" fill="#fff" stroke="#000" stroke-width="1.5"/>
<rect x="1735.5" y="418.1" width="10.5" height="10.5" fill="#fff" stroke="#000" stroke-width="1.5"/>
<rect x="1724.0" y="404.4" width="10.5" height="10.5" fill="#fff" stroke="#000" stroke-width="1.5"/>
<rect x="1745.5" y="404.4" width="10.5" height="10.5" fill="#fff" stroke="#000" stroke-width="1.5"/>
<path d="M1692.4 249.5V242.9H1736.3V392.6" stroke="#000" stroke-width="1.5" fill="none"/>
<text x="1714.5" y="248.0" font-size="24" text-anchor="middle">***</text>
<text x="1618.5" y="340.0" font-size="24.5" text-anchor="middle" transform="rotate(-90 1618.5 340.0)">No. of surface nodules</text>
<line x1="1847.1" y1="229.0" x2="1847.1" y2="453.1" stroke="#000" stroke-width="1.6"/>
<line x1="1835.6" y1="452.3" x2="1959.5" y2="452.3" stroke="#000" stroke-width="1.6"/>
<line x1="1835.6" y1="229.8" x2="1847.1" y2="229.8" stroke="#000" stroke-width="1.6"/>
<line x1="1835.6" y1="285.0" x2="1847.1" y2="285.0" stroke="#000" stroke-width="1.6"/>
<line x1="1835.6" y1="340.6" x2="1847.1" y2="340.6" stroke="#000" stroke-width="1.6"/>
<line x1="1835.6" y1="395.7" x2="1847.1" y2="395.7" stroke="#000" stroke-width="1.6"/>
<text x="1834.0" y="237.4" font-size="21" text-anchor="end">0.4</text>
<text x="1834.0" y="348.2" font-size="21" text-anchor="end">0.2</text>
<text x="1834.0" y="459.9" font-size="21" text-anchor="end">0</text>
<line x1="1878.9" y1="452.3" x2="1878.9" y2="462.8" stroke="#000" stroke-width="1.6"/>
<line x1="1926.2" y1="452.3" x2="1926.2" y2="462.8" stroke="#000" stroke-width="1.6"/>
<rect x="1863.7" y="357.7" width="30.7" height="94.6" fill="#d4d4d4" stroke="#000" stroke-width="1.5"/>
<rect x="1910.9" y="449.6" width="31.5" height="2.7" fill="#f27a83" stroke="#000" stroke-width="1.5"/>
<line x1="1878.9" y1="310.4" x2="1878.9" y2="400.0" stroke="#000" stroke-width="1.5"/>
<line x1="1872.4" y1="310.4" x2="1885.4" y2="310.4" stroke="#000" stroke-width="1.5"/>
<line x1="1926.2" y1="428.6" x2="1926.2" y2="449.0" stroke="#000" stroke-width="1.5"/>
<line x1="1919.7" y1="428.6" x2="1932.7" y2="428.6" stroke="#000" stroke-width="1.5"/>
<circle cx="1878.9" cy="400.0" r="5.7" fill="#fff" stroke="#000" stroke-width="1.5"/>
<circle cx="1878.9" cy="378.1" r="5.7" fill="#fff" stroke="#000" stroke-width="1.5"/>
<circle cx="1878.9" cy="361.1" r="5.7" fill="#fff" stroke="#000" stroke-width="1.5"/>
<circle cx="1878.9" cy="291.5" r="5.7" fill="#fff" stroke="#000" stroke-width="1.5"/>
<rect x="1921.0" y="416.2" width="10.5" height="10.5" fill="#fff" stroke="#000" stroke-width="1.5"/>
<rect x="1911.0" y="444.4" width="10.5" height="10.5" fill="#fff" stroke="#000" stroke-width="1.5"/>
<rect x="1921.0" y="442.2" width="10.5" height="10.5" fill="#fff" stroke="#000" stroke-width="1.5"/>
<rect x="1931.2" y="443.8" width="10.5" height="10.5" fill="#fff" stroke="#000" stroke-width="1.5"/>
<path d="M1879.4 273.0V266.5H1924.0V388.7" stroke="#000" stroke-width="1.5" fill="none"/>
<text x="1901.7" y="271.0" font-size="24" text-anchor="middle">***</text>
<text x="1800.5" y="347.0" font-size="24.5" text-anchor="middle" transform="rotate(-90 1800.5 347.0)">Lung meta. index</text>
</g>
<g id="pD">
<text x="7.8" y="555.1" font-size="59">D</text>
<g transform="translate(-6,542.3)"><g fill="none" stroke="#444" stroke-width="1.3" stroke-linecap="round" stroke-linejoin="round"><path d="M42.4 92C41.5 89.5 39.5 89.3 37 91C33.5 93 30.8 95.5 31.2 97.8C33 102.5 38 104.4 43.5 104.3C52 104 58 100 66 100.6C69 101 71 102 72.5 103"/><path d="M78.3 108.9C75 105 71.5 101.5 71.3 96.5C71.2 91.5 74.5 87 79 84.8C85 82 93 81.8 99 84C103 85.5 106 88 108.8 90.6"/><path d="M105 87.5C102 82 103 76.5 108 74C113 71.5 119.5 73 122.5 78C124.5 82 124 86 121.5 89.2"/><path d="M121.5 89.2C126 89.8 130.5 91.5 133.5 94.5C136.5 97.5 138.5 101 141.5 103.5C143.2 105 142.5 107 140.5 108C137.5 109.2 134 109.2 131 109.1H78.3" /><path d="M113.6 91.5C109 87.5 107.5 81.5 110.5 78.3C113 76 117.5 76.5 119 80C120.3 84 117.5 88.5 113.6 91.5Z" stroke="#bbb" stroke-width="1"/><ellipse cx="130" cy="98.6" rx="1.5" ry="1.9" fill="#222" stroke="none" transform="rotate(-20 130 98.6)"/><path d="M133.5 104.2C134.8 104.4 135.6 105 136 106" stroke="#999" stroke-width="0.8"/></g></g>
<text x="156.5" y="584.0" font-size="20.5">5x10<tspan font-size="11" dy="-7">4</tspan><tspan dy="7">​</tspan> 4T1 cells (s.c.)</text>
<line x1="233.6" y1="595.9" x2="233.6" y2="604.4" stroke="#111" stroke-width="1.7"/>
<path d="M228.6 603.4H238.6L233.6 614.4Z" fill="#111" stroke="none"/>
<text x="449.7" y="615.5" font-size="20.3" text-anchor="middle">Harvest</text>
<line x1="169.4" y1="632.4" x2="472.8" y2="632.4" stroke="#000" stroke-width="1.7"/>
<path d="M467.8 627.2L480.8 632.4L467.8 637.6Z" fill="#000"/>
<line x1="169.4" y1="622.2" x2="169.4" y2="642.4" stroke="#000" stroke-width="1.7"/>
<text x="169.4" y="662.2" font-size="20" text-anchor="middle">-6</text>
<line x1="200.9" y1="622.2" x2="200.9" y2="642.4" stroke="#000" stroke-width="1.7"/>
<text x="200.9" y="662.2" font-size="20" text-anchor="middle">-3</text>
<line x1="233.6" y1="622.2" x2="233.6" y2="642.4" stroke="#000" stroke-width="1.7"/>
<text x="233.6" y="662.2" font-size="20" text-anchor="middle">0</text>
<line x1="265.8" y1="622.2" x2="265.8" y2="642.4" stroke="#000" stroke-width="1.7"/>
<text x="265.8" y="662.2" font-size="20" text-anchor="middle">3</text>
<line x1="296.0" y1="622.2" x2="296.0" y2="642.4" stroke="#000" stroke-width="1.7"/>
<text x="296.0" y="662.2" font-size="20" text-anchor="middle">6</text>
<line x1="347.2" y1="622.2" x2="347.2" y2="642.4" stroke="#000" stroke-width="1.7"/>
<text x="347.2" y="662.2" font-size="20" text-anchor="middle">14</text>
<line x1="401.8" y1="622.2" x2="401.8" y2="642.4" stroke="#000" stroke-width="1.7"/>
<text x="401.8" y="662.2" font-size="20" text-anchor="middle">21</text>
<line x1="449.0" y1="622.2" x2="449.0" y2="642.4" stroke="#000" stroke-width="1.7"/>
<text x="449.0" y="662.2" font-size="20" text-anchor="middle">35</text>
<line x1="168.6" y1="692.0" x2="402.6" y2="692.0" stroke="#ee4a4d" stroke-width="1.6"/>
<line x1="169.4" y1="683.5" x2="169.4" y2="692.0" stroke="#ee4a4d" stroke-width="1.6"/>
<path d="M164.2 684.5H174.6L169.4 673.0Z" fill="#ee4a4d" stroke="none"/>
<line x1="200.9" y1="683.5" x2="200.9" y2="692.0" stroke="#ee4a4d" stroke-width="1.6"/>
<path d="M195.7 684.5H206.1L200.9 673.0Z" fill="#ee4a4d" stroke="none"/>
<line x1="265.8" y1="683.5" x2="265.8" y2="692.0" stroke="#ee4a4d" stroke-width="1.6"/>
<path d="M260.6 684.5H271.0L265.8 673.0Z" fill="#ee4a4d" stroke="none"/>
<line x1="296.0" y1="683.5" x2="296.0" y2="692.0" stroke="#ee4a4d" stroke-width="1.6"/>
<path d="M290.8 684.5H301.2L296.0 673.0Z" fill="#ee4a4d" stroke="none"/>
<line x1="347.2" y1="683.5" x2="347.2" y2="692.0" stroke="#ee4a4d" stroke-width="1.6"/>
<path d="M342.0 684.5H352.4L347.2 673.0Z" fill="#ee4a4d" stroke="none"/>
<line x1="401.8" y1="683.5" x2="401.8" y2="692.0" stroke="#ee4a4d" stroke-width="1.6"/>
<path d="M396.6 684.5H407.0L401.8 673.0Z" fill="#ee4a4d" stroke="none"/>
<text x="315.1" y="708.8" font-size="20.5" text-anchor="middle" fill="#ee4a4d">Anti-ENO1 mAb (40 mg/kg)</text>
<line x1="107.7" y1="731.6" x2="107.7" y2="950.4" stroke="#000" stroke-width="1.7"/>
<line x1="94.7" y1="949.6" x2="107.7" y2="949.6" stroke="#000" stroke-width="1.7"/>
<line x1="94.7" y1="895.3" x2="107.7" y2="895.3" stroke="#000" stroke-width="1.7"/>
<line x1="94.7" y1="841.0" x2="107.7" y2="841.0" stroke="#000" stroke-width="1.7"/>
<line x1="94.7" y1="786.7" x2="107.7" y2="786.7" stroke="#000" stroke-width="1.7"/>
<line x1="94.7" y1="732.4" x2="107.7" y2="732.4" stroke="#000" stroke-width="1.7"/>
<text x="93.5" y="957.4" font-size="21" text-anchor="end">0</text>
<text x="93.5" y="848.8" font-size="21" text-anchor="end">2</text>
<text x="93.5" y="740.2" font-size="21" text-anchor="end">4</text>
<line x1="106.9" y1="949.6" x2="355.3" y2="949.6" stroke="#000" stroke-width="1.7"/>
<line x1="113.4" y1="949.6" x2="113.4" y2="961.6" stroke="#000" stroke-width="1.7"/>
<line x1="147.8" y1="949.6" x2="147.8" y2="961.6" stroke="#000" stroke-width="1.7"/>
<line x1="182.3" y1="949.6" x2="182.3" y2="961.6" stroke="#000" stroke-width="1.7"/>
<line x1="216.8" y1="949.6" x2="216.8" y2="961.6" stroke="#000" stroke-width="1.7"/>
<line x1="251.2" y1="949.6" x2="251.2" y2="961.6" stroke="#000" stroke-width="1.7"/>
<line x1="285.6" y1="949.6" x2="285.6" y2="961.6" stroke="#000" stroke-width="1.7"/>
<line x1="320.1" y1="949.6" x2="320.1" y2="961.6" stroke="#000" stroke-width="1.7"/>
<line x1="354.5" y1="949.6" x2="354.5" y2="961.6" stroke="#000" stroke-width="1.7"/>
<text x="115.4" y="981.0" font-size="21" text-anchor="middle">0</text>
<text x="184.3" y="981.0" font-size="21" text-anchor="middle">10</text>
<text x="253.2" y="981.0" font-size="21" text-anchor="middle">20</text>
<text x="322.1" y="981.0" font-size="21" text-anchor="middle">30</text>
<text x="233.0" y="1002.5" font-size="24.5" text-anchor="middle">Days</text>
<text x="63.0" y="852.0" font-size="25.6" text-anchor="middle" transform="rotate(-90 63.0 852.0)" letter-spacing="-0.15">Tumor vol. (cm<tspan font-size="14" dy="-9">3</tspan><tspan dy="9">​</tspan>)</text>
<line x1="118.2" y1="745.5" x2="153.6" y2="745.5" stroke="#000" stroke-width="1.7"/>
<circle cx="136.6" cy="745.5" r="7" fill="#d4d4d4" stroke="#000" stroke-width="1.7"/>
<text x="159.7" y="752.8" font-size="21">Veh.</text>
<line x1="118.2" y1="790.2" x2="153.6" y2="790.2" stroke="#000" stroke-width="1.7"/>
<rect x="128.6" y="783.0" width="14.5" height="14.5" fill="#f27a83" stroke="#000" stroke-width="1.7"/>
<text x="159.7" y="797.6" font-size="21" letter-spacing="0.3">HuL001</text>
<path d="M113.4 949.6L210.1 946.6L230.6 939.3L265.2 921.5L285.7 900.5L319.9 878.2L354.5 840.6" stroke="#000" stroke-width="1.6" fill="none"/>
<rect x="107.7" y="943.9" width="11.5" height="11.5" fill="#f27a83" stroke="#000" stroke-width="1.6"/>
<rect x="204.3" y="940.9" width="11.5" height="11.5" fill="#f27a83" stroke="#000" stroke-width="1.6"/>
<rect x="224.8" y="933.5" width="11.5" height="11.5" fill="#f27a83" stroke="#000" stroke-width="1.6"/>
<rect x="259.4" y="915.8" width="11.5" height="11.5" fill="#f27a83" stroke="#000" stroke-width="1.6"/>
<rect x="279.9" y="894.8" width="11.5" height="11.5" fill="#f27a83" stroke="#000" stroke-width="1.6"/>
<rect x="314.1" y="872.5" width="11.5" height="11.5" fill="#f27a83" stroke="#000" stroke-width="1.6"/>
<rect x="348.8" y="834.9" width="11.5" height="11.5" fill="#f27a83" stroke="#000" stroke-width="1.6"/>
<path d="M113.4 949.6L210.1 944.6L230.6 937.2L265.2 916.2L285.7 889.2L319.9 859.2L354.5 790.2" stroke="#000" stroke-width="1.6" fill="none"/>
<line x1="354.5" y1="780.5" x2="354.5" y2="790.0" stroke="#000" stroke-width="1.6"/>
<line x1="349.0" y1="780.5" x2="360.0" y2="780.5" stroke="#000" stroke-width="1.6"/>
<circle cx="113.4" cy="949.6" r="5.9" fill="#d4d4d4" stroke="#000" stroke-width="1.6"/>
<circle cx="210.1" cy="944.6" r="5.9" fill="#d4d4d4" stroke="#000" stroke-width="1.6"/>
<circle cx="230.6" cy="937.2" r="5.9" fill="#d4d4d4" stroke="#000" stroke-width="1.6"/>
<circle cx="265.2" cy="916.2" r="5.9" fill="#d4d4d4" stroke="#000" stroke-width="1.6"/>
<circle cx="285.7" cy="889.2" r="5.9" fill="#d4d4d4" stroke="#000" stroke-width="1.6"/>
<circle cx="319.9" cy="859.2" r="5.9" fill="#d4d4d4" stroke="#000" stroke-width="1.6"/>
<circle cx="354.5" cy="790.2" r="5.9" fill="#d4d4d4" stroke="#000" stroke-width="1.6"/>
<path d="M369 788.1H381.3V840.6H369" stroke="#000" stroke-width="1.7" fill="none"/>
<text x="391.3" y="824.0" font-size="24" text-anchor="middle">*</text>
</g>
<g id="pE">
<text x="496.3" y="553.7" font-size="59">E</text>
<text x="647.0" y="610.3" font-size="23.5" text-anchor="middle">Veh.</text>
<text x="896.5" y="610.3" font-size="23.5" text-anchor="middle" letter-spacing="0.4">HuL001</text>
<text x="534.5" y="697.5" font-size="23.5" text-anchor="middle" transform="rotate(-90 534.5 697.5)">HE</text>
<text x="533.5" y="878.2" font-size="23.5" text-anchor="middle" transform="rotate(-90 533.5 878.2)">Ki67</text>
<rect x="540.8" y="620.1" width="228.5" height="172.4" fill="#fff" filter="url(#eHE1)"/>
<rect x="540.8" y="620.1" width="137.7" height="102.6" fill="#fff" filter="url(#eHE1i)"/>
<path d="M678.5 620.1V722.7H540.8" fill="none" stroke="#000" stroke-width="1.2"/>
<rect x="540.8" y="620.1" width="228.5" height="172.4" fill="none" stroke="#1a1a1a" stroke-width="1.3" rx="1.2"/>
<rect x="775.8" y="621.1" width="227.7" height="172.4" fill="#fff" filter="url(#eHE2)"/>
<rect x="775.8" y="621.1" width="227.7" height="172.4" fill="#fff" filter="url(#eHole)"/>
<rect x="775.8" y="621.1" width="137.6" height="102.4" fill="#fff" filter="url(#eHE2i)"/>
<rect x="775.8" y="621.1" width="137.6" height="102.4" fill="#fff" filter="url(#eHolei)"/>
<path d="M913.4 621.1V723.5H775.8" fill="none" stroke="#000" stroke-width="1.2"/>
<rect x="775.8" y="621.1" width="227.7" height="172.4" fill="none" stroke="#1a1a1a" stroke-width="1.3" rx="1.2"/>
<rect x="540.3" y="798.1" width="228.2" height="173.0" fill="url(#peK1)" filter="url(#soft)"/>
<rect x="540.3" y="798.1" width="137.2" height="102.5" fill="url(#peK1i)" filter="url(#soft)"/>
<path d="M677.5 798.1V900.6H540.3" fill="none" stroke="#000" stroke-width="1.2"/>
<rect x="540.3" y="798.1" width="228.2" height="173.0" fill="none" stroke="#1a1a1a" stroke-width="1.3" rx="1.2"/>
<rect x="775.8" y="799.4" width="227.7" height="172.4" fill="url(#peK2)" filter="url(#soft)"/>
<rect x="775.8" y="799.4" width="227.7" height="172.4" fill="#fff" filter="url(#eHole2)"/>
<rect x="775.8" y="799.4" width="136.9" height="102.2" fill="url(#peK2i)" filter="url(#soft)"/>
<rect x="775.8" y="799.4" width="136.9" height="102.2" fill="#fff" filter="url(#eHole2i)"/>
<path d="M912.7 799.4V901.6H775.8" fill="none" stroke="#000" stroke-width="1.2"/>
<rect x="775.8" y="799.4" width="227.7" height="172.4" fill="none" stroke="#1a1a1a" stroke-width="1.3" rx="1.2"/>
<text x="762.3" y="780.5" font-size="20" text-anchor="end">50 µm</text>
<line x1="736.3" y1="788.5" x2="763.4" y2="788.5" stroke="#000" stroke-width="1.6"/>
<text x="998.5" y="781.0" font-size="20" text-anchor="end">50 µm</text>
<line x1="972.5" y1="789.0" x2="999.0" y2="789.0" stroke="#000" stroke-width="1.6"/>
<text x="762.5" y="958.5" font-size="20" text-anchor="end">50 µm</text>
<line x1="737.0" y1="967.3" x2="764.0" y2="967.3" stroke="#000" stroke-width="1.6"/>
<text x="999.0" y="959.5" font-size="20" text-anchor="end">50 µm</text>
<line x1="973.0" y1="967.8" x2="1000.0" y2="967.8" stroke="#000" stroke-width="1.6"/>
<text x="779.7" y="994.5" font-size="24.5" text-anchor="middle">Tumors</text>
<line x1="1091.1" y1="725.8" x2="1091.1" y2="951.2" stroke="#000" stroke-width="1.6"/>
<line x1="1079.6" y1="950.4" x2="1203.5" y2="950.4" stroke="#000" stroke-width="1.6"/>
<line x1="1079.6" y1="726.6" x2="1091.1" y2="726.6" stroke="#000" stroke-width="1.6"/>
<line x1="1079.6" y1="771.8" x2="1091.1" y2="771.8" stroke="#000" stroke-width="1.6"/>
<line x1="1079.6" y1="816.4" x2="1091.1" y2="816.4" stroke="#000" stroke-width="1.6"/>
<line x1="1079.6" y1="861.1" x2="1091.1" y2="861.1" stroke="#000" stroke-width="1.6"/>
<line x1="1079.6" y1="905.7" x2="1091.1" y2="905.7" stroke="#000" stroke-width="1.6"/>
<text x="1078.5" y="734.2" font-size="21" text-anchor="end">100</text>
<text x="1078.5" y="779.4" font-size="21" text-anchor="end">80</text>
<text x="1078.5" y="824.0" font-size="21" text-anchor="end">60</text>
<text x="1078.5" y="868.7" font-size="21" text-anchor="end">40</text>
<text x="1078.5" y="913.3" font-size="21" text-anchor="end">20</text>
<text x="1078.5" y="958.0" font-size="21" text-anchor="end">0</text>
<line x1="1124.7" y1="950.4" x2="1124.7" y2="960.9" stroke="#000" stroke-width="1.6"/>
<line x1="1168.6" y1="950.4" x2="1168.6" y2="960.9" stroke="#000" stroke-width="1.6"/>
<rect x="1108.5" y="764.4" width="32.8" height="186.0" fill="#d4d4d4" stroke="#000" stroke-width="1.5"/>
<rect x="1152.3" y="864.5" width="32.8" height="85.9" fill="#f27a83" stroke="#000" stroke-width="1.5"/>
<line x1="1124.7" y1="746.8" x2="1124.7" y2="782.0" stroke="#000" stroke-width="1.5"/>
<line x1="1118.2" y1="746.8" x2="1131.2" y2="746.8" stroke="#000" stroke-width="1.5"/>
<line x1="1118.2" y1="782.0" x2="1131.2" y2="782.0" stroke="#000" stroke-width="1.5"/>
<line x1="1168.6" y1="842.7" x2="1168.6" y2="886.0" stroke="#000" stroke-width="1.5"/>
<line x1="1162.1" y1="842.7" x2="1175.1" y2="842.7" stroke="#000" stroke-width="1.5"/>
<line x1="1162.1" y1="886.0" x2="1175.1" y2="886.0" stroke="#000" stroke-width="1.5"/>
<circle cx="1124.7" cy="786.2" r="5.9" fill="#fff" stroke="#000" stroke-width="1.5"/>
<circle cx="1113.4" cy="767.9" r="5.9" fill="#fff" stroke="#000" stroke-width="1.5"/>
<circle cx="1136.0" cy="770.5" r="5.9" fill="#fff" stroke="#000" stroke-width="1.5"/>
<circle cx="1136.0" cy="752.6" r="5.9" fill="#fff" stroke="#000" stroke-width="1.5"/>
<circle cx="1113.4" cy="742.9" r="5.9" fill="#fff" stroke="#000" stroke-width="1.5"/>
<rect x="1163.2" y="885.4" width="10.8" height="10.8" fill="#fff" stroke="#000" stroke-width="1.5"/>
<rect x="1163.2" y="871.4" width="10.8" height="10.8" fill="#fff" stroke="#000" stroke-width="1.5"/>
<rect x="1152.2" y="858.3" width="10.8" height="10.8" fill="#fff" stroke="#000" stroke-width="1.5"/>
<rect x="1175.3" y="849.1" width="10.8" height="10.8" fill="#fff" stroke="#000" stroke-width="1.5"/>
<rect x="1163.2" y="830.2" width="10.8" height="10.8" fill="#fff" stroke="#000" stroke-width="1.5"/>
<path d="M1124.7 732.4V714.6H1168.6V817.8" stroke="#000" stroke-width="1.5" fill="none"/>
<text x="1147.0" y="720.0" font-size="24" text-anchor="middle">**</text>
<text x="1038.0" y="837.4" font-size="24.5" text-anchor="middle" transform="rotate(-90 1038.0 837.4)">Ki67<tspan font-size="13" dy="-8">+</tspan><tspan dy="8">​</tspan> cells (%)</text>
</g>
<g id="pF">
<text x="1222.2" y="556.1" font-size="59">F</text>
<text x="1341.4" y="593.2" font-size="23.5" text-anchor="middle">Veh.</text>
<text x="1498.5" y="593.2" font-size="23.5" text-anchor="middle" letter-spacing="0.4">HuL001</text>
<text x="1266.5" y="665.4" font-size="23.5" text-anchor="middle" transform="rotate(-90 1266.5 665.4)">HE</text>
<text x="1269" y="823.5" font-size="24.5" text-anchor="middle" transform="rotate(-90 1269 823.5)"><tspan fill="#22e022">pan-CK</tspan>/<tspan fill="#2a2aff">DAPI</tspan></text>
<text x="1266.5" y="976.0" font-size="23.5" text-anchor="middle" transform="rotate(-90 1266.5 976.0)">Ki67</text>
<g>
<g filter="url(#fLung)"><path d="M1286.8 628.7C1284.6 630.3 1281.7 637.3 1280.1 645.5C1278.6 653.6 1277.6 667.6 1277.6 677.4C1277.6 687.2 1278.6 697.3 1280.1 704.3C1281.7 711.3 1283.2 714.9 1286.8 719.4C1290.5 723.9 1297.5 728.4 1302.0 731.2C1306.5 734.0 1310.7 736.5 1313.7 736.2C1316.8 735.9 1317.4 729.2 1320.5 729.5C1323.5 729.8 1327.5 735.9 1332.2 737.9C1337.0 739.9 1342.9 740.6 1349.0 741.3C1355.2 742.0 1362.5 742.7 1369.2 742.1C1375.9 741.5 1383.5 741.4 1389.4 737.9C1395.3 734.4 1400.6 728.9 1404.5 721.1C1408.4 713.2 1411.4 699.5 1412.9 690.8C1414.4 682.2 1414.6 676.6 1413.7 669.0C1412.9 661.4 1410.5 652.5 1407.9 645.5C1405.2 638.5 1403.1 633.6 1397.8 627.0C1392.5 620.4 1380.1 607.1 1375.9 606.0C1371.7 604.8 1375.9 619.6 1372.6 620.3C1369.2 621.0 1361.9 611.6 1355.8 610.2C1349.6 608.8 1341.5 611.8 1335.6 611.8C1329.7 611.8 1324.1 606.8 1320.5 610.2C1316.8 613.5 1315.1 625.6 1313.7 632.0C1312.3 638.5 1313.7 647.7 1312.1 648.8C1310.4 649.9 1306.7 641.0 1303.7 638.7C1300.6 636.5 1296.4 637.1 1293.6 635.4C1290.8 633.7 1289.1 627.0 1286.8 628.7Z" fill="#dccbe6"/></g>
<path d="M1315.4 674.0C1312.6 676.6 1308.0 686.4 1305.3 694.2C1302.7 702.0 1299.2 716.1 1299.5 721.1C1299.7 726.1 1304.8 728.4 1307.0 724.5C1309.3 720.5 1310.4 705.1 1312.9 697.6C1315.4 690.0 1321.7 683.0 1322.1 679.1C1322.6 675.2 1318.2 671.5 1315.4 674.0Z" fill="#fff"/>
<path d="M1359.1 697.6C1360.8 695.9 1368.1 693.4 1372.6 692.5C1377.0 691.7 1386.0 691.4 1386.0 692.5C1386.0 693.6 1376.5 697.6 1372.6 699.2C1368.6 700.9 1364.7 702.9 1362.5 702.6C1360.2 702.3 1357.4 699.2 1359.1 697.6Z" fill="#fff"/>
<path d="M1312.1 714.4C1314.0 711.0 1325.5 708.8 1332.2 707.6C1338.9 706.5 1351.0 706.0 1352.4 707.6C1353.8 709.3 1343.4 713.2 1340.6 717.7C1337.8 722.2 1338.9 732.9 1335.6 734.5C1332.2 736.2 1324.4 731.2 1320.5 727.8C1316.5 724.5 1310.1 717.7 1312.1 714.4Z" fill="#fff"/>
<path d="M1332.2 616.9C1333.6 618.3 1336.1 633.1 1337.3 640.4C1338.4 647.7 1339.8 658.3 1338.9 660.6C1338.1 662.8 1333.9 658.6 1332.2 653.9C1330.5 649.1 1328.9 638.2 1328.9 632.0C1328.9 625.9 1330.8 615.5 1332.2 616.9Z" fill="#fff"/>
<path d="M1372.6 621.9C1373.4 621.9 1377.0 634.0 1375.9 640.4C1374.8 646.9 1368.6 653.3 1365.8 660.6C1363.0 667.9 1359.4 684.7 1359.1 684.1C1358.8 683.6 1362.2 664.5 1364.2 657.2C1366.1 649.9 1369.5 646.3 1370.9 640.4C1372.3 634.5 1371.7 621.9 1372.6 621.9Z" fill="#fff"/>
<g filter="url(#fTum)">
<ellipse cx="1365.0" cy="616.9" rx="7.6" ry="6.7" fill="#8a55c0"/>
<ellipse cx="1397.8" cy="637.9" rx="8.4" ry="7.6" fill="#8a55c0"/>
<ellipse cx="1286.8" cy="711.0" rx="8.1" ry="8.7" fill="#8a55c0"/>
<ellipse cx="1346.5" cy="722.8" rx="9.2" ry="10.4" fill="#8a55c0"/>
<ellipse cx="1325.5" cy="732.0" rx="6.4" ry="4.7" fill="#8a55c0"/>
<ellipse cx="1323.0" cy="715.7" rx="3.7" ry="3.0" fill="#8a55c0"/>
</g>
</g>
<ellipse cx="1343.2" cy="663.1" rx="5.5" ry="10.5" fill="#fff" stroke="#cf6cc8" stroke-width="2.2" transform="rotate(15 1343.2 663.1)"/>
<g>
<g filter="url(#fLung)"><path d="M1439.8 622.8C1437.5 625.3 1434.2 635.2 1433.1 643.8C1431.9 652.3 1432.2 663.9 1433.1 674.0C1433.9 684.1 1435.0 695.9 1438.1 704.3C1441.2 712.7 1447.4 720.3 1451.6 724.5C1455.8 728.7 1458.6 727.3 1463.3 729.5C1468.1 731.7 1474.0 735.9 1480.1 737.9C1486.3 739.9 1493.6 741.3 1500.3 741.3C1507.0 741.3 1513.5 739.9 1520.5 737.9C1527.5 735.9 1535.9 734.0 1542.3 729.5C1548.8 725.0 1554.9 718.0 1559.1 711.0C1563.3 704.0 1565.8 695.6 1567.5 687.5C1569.2 679.4 1570.3 671.0 1569.2 662.3C1568.1 653.6 1564.2 643.5 1560.8 635.4C1557.4 627.3 1552.1 617.5 1549.0 613.5C1546.0 609.6 1543.7 610.2 1542.3 611.8C1540.9 613.5 1544.0 620.8 1540.6 623.6C1537.3 626.4 1527.7 631.5 1522.1 628.7C1516.5 625.9 1511.5 611.1 1507.0 606.8C1502.5 602.5 1497.8 600.4 1495.3 602.6C1492.7 604.8 1493.0 620.3 1491.9 620.3C1490.8 620.3 1491.1 603.2 1488.5 602.6C1486.0 602.0 1479.6 611.1 1476.8 616.9C1474.0 622.6 1474.8 633.7 1471.7 637.1C1468.6 640.4 1462.5 638.5 1458.3 637.1C1454.1 635.7 1449.6 631.0 1446.5 628.7C1443.4 626.3 1442.0 620.3 1439.8 622.8Z" fill="#dccbe6"/></g>
<path d="M1458.3 727.8C1456.9 725.0 1453.0 708.2 1454.9 699.2C1456.9 690.3 1468.1 674.9 1470.0 674.0C1472.0 673.2 1467.8 687.2 1466.7 694.2C1465.6 701.2 1464.7 710.4 1463.3 716.1C1461.9 721.7 1459.7 730.6 1458.3 727.8Z" fill="#fff"/>
<path d="M1500.3 655.5C1501.7 654.7 1506.7 655.8 1508.7 660.6C1510.7 665.4 1512.3 680.8 1512.1 684.1C1511.8 687.5 1509.0 683.8 1507.0 680.8C1505.1 677.7 1501.4 669.8 1500.3 665.6C1499.2 661.4 1498.9 656.4 1500.3 655.5Z" fill="#fff"/>
<path d="M1513.7 689.2C1519.3 685.8 1542.0 677.1 1550.7 674.0C1559.4 671.0 1565.3 669.6 1565.8 670.7C1566.4 671.8 1562.2 676.8 1554.1 680.8C1546.0 684.7 1523.8 692.8 1517.1 694.2C1510.4 695.6 1508.1 692.5 1513.7 689.2Z" fill="#fff"/>
<path d="M1466.7 717.7C1468.6 714.4 1477.3 706.0 1481.8 704.3C1486.3 702.6 1493.3 705.1 1493.6 707.6C1493.9 710.2 1487.4 716.6 1483.5 719.4C1479.6 722.2 1472.8 724.7 1470.0 724.5C1467.2 724.2 1464.7 721.1 1466.7 717.7Z" fill="#fff"/>
<path d="M1491.1 606.8C1492.0 606.8 1493.7 625.6 1493.6 632.0C1493.4 638.5 1491.2 645.5 1490.2 645.5C1489.2 645.5 1487.5 638.5 1487.7 632.0C1487.8 625.6 1490.1 606.8 1491.1 606.8Z" fill="#fff"/>
<g filter="url(#fTum)">
<ellipse cx="1485.2" cy="734.5" rx="4.2" ry="3.0" fill="#8a55c0"/>
</g>
</g>
<path d="M1469.2 637.1C1470.3 637.3 1473.8 645.2 1476.8 648.8C1479.7 652.5 1484.6 654.7 1486.8 658.9C1489.1 663.1 1490.8 671.5 1490.2 674.0C1489.6 676.6 1486.0 676.3 1483.5 674.0C1481.0 671.8 1477.3 665.1 1475.1 660.6C1472.8 656.1 1471.0 651.1 1470.0 647.1C1469.1 643.2 1468.1 636.8 1469.2 637.1Z" fill="#d888d0"/>
<rect x="1273.7" y="598.4" width="143.7" height="147.1" fill="none" stroke="#1a1a1a" stroke-width="1.3" rx="1.5"/>
<rect x="1429.0" y="598.4" width="143.9" height="147.1" fill="none" stroke="#1a1a1a" stroke-width="1.3" rx="1.5"/>
<text x="1344.0" y="614.2" font-size="16.5" text-anchor="middle">M</text>
<text x="1404.4" y="665.7" font-size="16.5" text-anchor="middle">M</text>
<text x="1285.7" y="699.8" font-size="16.5" text-anchor="middle">M</text>
<text x="1367.6" y="722.6" font-size="16.5" text-anchor="middle">M</text>
<text x="1464.8" y="743.7" font-size="16.5" text-anchor="middle">M</text>
<text x="1415.0" y="737.7" font-size="15.5" text-anchor="end">2 mm</text>
<line x1="1388.7" y1="741.0" x2="1414.4" y2="741.0" stroke="#000" stroke-width="1.6"/>
<text x="1569.5" y="737.7" font-size="15.5" text-anchor="end">2 mm</text>
<line x1="1543.8" y1="741.0" x2="1569.5" y2="741.0" stroke="#000" stroke-width="1.6"/>
<rect x="1273.7" y="750.9" width="143.7" height="147.0" fill="url(#pfI1)" filter="url(#soft)"/>
<rect x="1273.7" y="750.9" width="143.7" height="147.0" fill="#fff" filter="url(#fNet)"/>
<rect x="1273.7" y="750.9" width="64.7" height="66.4" fill="url(#pfI1i)" filter="url(#soft)"/>
<rect x="1273.7" y="750.9" width="64.7" height="66.4" fill="#fff" filter="url(#fNeti)"/>
<path d="M1338.4 750.9V817.3H1273.7" fill="none" stroke="#d0d0d0" stroke-width="1.2"/>
<rect x="1273.7" y="750.9" width="143.7" height="147.0" fill="none" stroke="#111" stroke-width="1.3" rx="1.2"/>
<rect x="1429.2" y="750.9" width="143.7" height="147.0" fill="url(#pfI2)" filter="url(#soft)"/>
<rect x="1429.2" y="750.9" width="143.7" height="147.0" fill="#fff" filter="url(#fNet2)"/>
<rect x="1429.2" y="750.9" width="63.5" height="66.4" fill="url(#pfI2i)" filter="url(#soft)"/>
<rect x="1429.2" y="750.9" width="63.5" height="66.4" fill="#fff" filter="url(#fNet2i)"/>
<path d="M1492.7 750.9V817.3H1429.2" fill="none" stroke="#d0d0d0" stroke-width="1.2"/>
<rect x="1429.2" y="750.9" width="143.7" height="147.0" fill="none" stroke="#111" stroke-width="1.3" rx="1.2"/>
<text x="1279.0" y="888.7" font-size="16.3" fill="#fff">50 µm</text>
<line x1="1280.1" y1="894.2" x2="1293.6" y2="894.2" stroke="#fff" stroke-width="1.7"/>
<text x="1432.3" y="888.7" font-size="16.3" fill="#fff">50 µm</text>
<line x1="1433.2" y1="894.2" x2="1446.7" y2="894.2" stroke="#fff" stroke-width="1.7"/>
<rect x="1273.7" y="903.0" width="143.7" height="146.2" fill="url(#pfK1)" filter="url(#soft)"/>
<rect x="1273.7" y="903.0" width="143.7" height="146.2" fill="none" stroke="#1a1a1a" stroke-width="1.3" rx="1.2"/>
<rect x="1273.7" y="903.0" width="64.7" height="65.9" fill="#fff" stroke="none"/>
<g transform="translate(727.5,647.7) scale(0.43)">
<g filter="url(#fMini)"><path d="M1286.8 628.7C1284.6 630.3 1281.7 637.3 1280.1 645.5C1278.6 653.6 1277.6 667.6 1277.6 677.4C1277.6 687.2 1278.6 697.3 1280.1 704.3C1281.7 711.3 1283.2 714.9 1286.8 719.4C1290.5 723.9 1297.5 728.4 1302.0 731.2C1306.5 734.0 1310.7 736.5 1313.7 736.2C1316.8 735.9 1317.4 729.2 1320.5 729.5C1323.5 729.8 1327.5 735.9 1332.2 737.9C1337.0 739.9 1342.9 740.6 1349.0 741.3C1355.2 742.0 1362.5 742.7 1369.2 742.1C1375.9 741.5 1383.5 741.4 1389.4 737.9C1395.3 734.4 1400.6 728.9 1404.5 721.1C1408.4 713.2 1411.4 699.5 1412.9 690.8C1414.4 682.2 1414.6 676.6 1413.7 669.0C1412.9 661.4 1410.5 652.5 1407.9 645.5C1405.2 638.5 1403.1 633.6 1397.8 627.0C1392.5 620.4 1380.1 607.1 1375.9 606.0C1371.7 604.8 1375.9 619.6 1372.6 620.3C1369.2 621.0 1361.9 611.6 1355.8 610.2C1349.6 608.8 1341.5 611.8 1335.6 611.8C1329.7 611.8 1324.1 606.8 1320.5 610.2C1316.8 613.5 1315.1 625.6 1313.7 632.0C1312.3 638.5 1313.7 647.7 1312.1 648.8C1310.4 649.9 1306.7 641.0 1303.7 638.7C1300.6 636.5 1296.4 637.1 1293.6 635.4C1290.8 633.7 1289.1 627.0 1286.8 628.7Z" fill="#dcd8e2"/></g>
<path d="M1315.4 674.0C1312.6 676.6 1308.0 686.4 1305.3 694.2C1302.7 702.0 1299.2 716.1 1299.5 721.1C1299.7 726.1 1304.8 728.4 1307.0 724.5C1309.3 720.5 1310.4 705.1 1312.9 697.6C1315.4 690.0 1321.7 683.0 1322.1 679.1C1322.6 675.2 1318.2 671.5 1315.4 674.0Z" fill="#fff"/>
<path d="M1359.1 697.6C1360.8 695.9 1368.1 693.4 1372.6 692.5C1377.0 691.7 1386.0 691.4 1386.0 692.5C1386.0 693.6 1376.5 697.6 1372.6 699.2C1368.6 700.9 1364.7 702.9 1362.5 702.6C1360.2 702.3 1357.4 699.2 1359.1 697.6Z" fill="#fff"/>
<path d="M1312.1 714.4C1314.0 711.0 1325.5 708.8 1332.2 707.6C1338.9 706.5 1351.0 706.0 1352.4 707.6C1353.8 709.3 1343.4 713.2 1340.6 717.7C1337.8 722.2 1338.9 732.9 1335.6 734.5C1332.2 736.2 1324.4 731.2 1320.5 727.8C1316.5 724.5 1310.1 717.7 1312.1 714.4Z" fill="#fff"/>
<path d="M1332.2 616.9C1333.6 618.3 1336.1 633.1 1337.3 640.4C1338.4 647.7 1339.8 658.3 1338.9 660.6C1338.1 662.8 1333.9 658.6 1332.2 653.9C1330.5 649.1 1328.9 638.2 1328.9 632.0C1328.9 625.9 1330.8 615.5 1332.2 616.9Z" fill="#fff"/>
<path d="M1372.6 621.9C1373.4 621.9 1377.0 634.0 1375.9 640.4C1374.8 646.9 1368.6 653.3 1365.8 660.6C1363.0 667.9 1359.4 684.7 1359.1 684.1C1358.8 683.6 1362.2 664.5 1364.2 657.2C1366.1 649.9 1369.5 646.3 1370.9 640.4C1372.3 634.5 1371.7 621.9 1372.6 621.9Z" fill="#fff"/>
<g filter="url(#fMiniT)">
<ellipse cx="1365.0" cy="616.9" rx="7.6" ry="6.7" fill="#c4bcd0"/>
<ellipse cx="1286.8" cy="711.0" rx="8.1" ry="8.7" fill="#c4bcd0"/>
<ellipse cx="1397.8" cy="637.9" rx="6.7" ry="5.9" fill="#c4bcd0"/>
</g>
</g>
<path d="M1338.4 903V968.9H1273.7" fill="none" stroke="#000" stroke-width="1.2"/>
<rect x="1273.7" y="903.0" width="143.7" height="146.2" fill="none" stroke="#1a1a1a" stroke-width="1.3" rx="1.5"/>
<rect x="1429.2" y="903.0" width="143.7" height="146.2" fill="url(#pfK2)" filter="url(#soft)"/>
<rect x="1429.2" y="903.0" width="143.7" height="146.2" fill="none" stroke="#1a1a1a" stroke-width="1.3" rx="1.2"/>
<path d="M1573.0 955.0C1568.3 946.2 1552.5 958.7 1545.0 962.0C1537.5 965.3 1527.5 971.2 1528.0 975.0C1528.5 978.8 1542.7 980.8 1548.0 985.0C1553.3 989.2 1555.8 995.0 1560.0 1000.0C1564.2 1005.0 1570.8 1022.5 1573.0 1015.0C1575.2 1007.5 1577.7 963.8 1573.0 955.0Z" fill="#f4f2f8"/>
<rect x="1429.2" y="903.0" width="64.0" height="65.9" fill="#fff" stroke="none"/>
<g transform="translate(816.1,647.7) scale(0.43)">
<g filter="url(#fMini)"><path d="M1439.8 622.8C1437.5 625.3 1434.2 635.2 1433.1 643.8C1431.9 652.3 1432.2 663.9 1433.1 674.0C1433.9 684.1 1435.0 695.9 1438.1 704.3C1441.2 712.7 1447.4 720.3 1451.6 724.5C1455.8 728.7 1458.6 727.3 1463.3 729.5C1468.1 731.7 1474.0 735.9 1480.1 737.9C1486.3 739.9 1493.6 741.3 1500.3 741.3C1507.0 741.3 1513.5 739.9 1520.5 737.9C1527.5 735.9 1535.9 734.0 1542.3 729.5C1548.8 725.0 1554.9 718.0 1559.1 711.0C1563.3 704.0 1565.8 695.6 1567.5 687.5C1569.2 679.4 1570.3 671.0 1569.2 662.3C1568.1 653.6 1564.2 643.5 1560.8 635.4C1557.4 627.3 1552.1 617.5 1549.0 613.5C1546.0 609.6 1543.7 610.2 1542.3 611.8C1540.9 613.5 1544.0 620.8 1540.6 623.6C1537.3 626.4 1527.7 631.5 1522.1 628.7C1516.5 625.9 1511.5 611.1 1507.0 606.8C1502.5 602.5 1497.8 600.4 1495.3 602.6C1492.7 604.8 1493.0 620.3 1491.9 620.3C1490.8 620.3 1491.1 603.2 1488.5 602.6C1486.0 602.0 1479.6 611.1 1476.8 616.9C1474.0 622.6 1474.8 633.7 1471.7 637.1C1468.6 640.4 1462.5 638.5 1458.3 637.1C1454.1 635.7 1449.6 631.0 1446.5 628.7C1443.4 626.3 1442.0 620.3 1439.8 622.8Z" fill="#dcd8e2"/></g>
<path d="M1458.3 727.8C1456.9 725.0 1453.0 708.2 1454.9 699.2C1456.9 690.3 1468.1 674.9 1470.0 674.0C1472.0 673.2 1467.8 687.2 1466.7 694.2C1465.6 701.2 1464.7 710.4 1463.3 716.1C1461.9 721.7 1459.7 730.6 1458.3 727.8Z" fill="#fff"/>
<path d="M1500.3 655.5C1501.7 654.7 1506.7 655.8 1508.7 660.6C1510.7 665.4 1512.3 680.8 1512.1 684.1C1511.8 687.5 1509.0 683.8 1507.0 680.8C1505.1 677.7 1501.4 669.8 1500.3 665.6C1499.2 661.4 1498.9 656.4 1500.3 655.5Z" fill="#fff"/>
<path d="M1513.7 689.2C1519.3 685.8 1542.0 677.1 1550.7 674.0C1559.4 671.0 1565.3 669.6 1565.8 670.7C1566.4 671.8 1562.2 676.8 1554.1 680.8C1546.0 684.7 1523.8 692.8 1517.1 694.2C1510.4 695.6 1508.1 692.5 1513.7 689.2Z" fill="#fff"/>
<path d="M1466.7 717.7C1468.6 714.4 1477.3 706.0 1481.8 704.3C1486.3 702.6 1493.3 705.1 1493.6 707.6C1493.9 710.2 1487.4 716.6 1483.5 719.4C1479.6 722.2 1472.8 724.7 1470.0 724.5C1467.2 724.2 1464.7 721.1 1466.7 717.7Z" fill="#fff"/>
<path d="M1491.1 606.8C1492.0 606.8 1493.7 625.6 1493.6 632.0C1493.4 638.5 1491.2 645.5 1490.2 645.5C1489.2 645.5 1487.5 638.5 1487.7 632.0C1487.8 625.6 1490.1 606.8 1491.1 606.8Z" fill="#fff"/>
</g>
<path d="M1493.2 903V968.9H1429.2" fill="none" stroke="#000" stroke-width="1.2"/>
<rect x="1429.2" y="903.0" width="143.7" height="146.2" fill="none" stroke="#1a1a1a" stroke-width="1.3" rx="1.5"/>
<rect x="1303.6" y="956.4" width="4.0" height="4.6" fill="none" stroke="#000" stroke-width="1.1"/>
<rect x="1451.6" y="960.5" width="4.0" height="4.6" fill="none" stroke="#000" stroke-width="1.1"/>
<text x="1411.0" y="1041.3" font-size="15.5" text-anchor="end">20 µm</text>
<line x1="1395.3" y1="1046.7" x2="1410.4" y2="1046.7" stroke="#000" stroke-width="1.6"/>
<text x="1567.0" y="1041.3" font-size="15.5" text-anchor="end">20 µm</text>
<line x1="1551.7" y1="1046.7" x2="1566.9" y2="1046.7" stroke="#000" stroke-width="1.6"/>
<text x="1425.4" y="1076.2" font-size="24.5" text-anchor="middle">Lungs</text>
<rect x="1666.6" y="676.3" width="26.8" height="12.6" fill="#d4d4d4" stroke="#000" stroke-width="1.3"/>
<text x="1700.8" y="689.3" font-size="21">Veh.</text>
<rect x="1767.4" y="676.3" width="26.8" height="12.6" fill="#f27a83" stroke="#000" stroke-width="1.3"/>
<text x="1798.0" y="689.3" font-size="21" letter-spacing="0.3">HuL001</text>
<line x1="1657.5" y1="724.2" x2="1657.5" y2="952.0" stroke="#000" stroke-width="1.6"/>
<line x1="1646.0" y1="951.2" x2="1771.2" y2="951.2" stroke="#000" stroke-width="1.6"/>
<line x1="1646.0" y1="725.0" x2="1657.5" y2="725.0" stroke="#000" stroke-width="1.6"/>
<line x1="1646.0" y1="781.5" x2="1657.5" y2="781.5" stroke="#000" stroke-width="1.6"/>
<line x1="1646.0" y1="838.0" x2="1657.5" y2="838.0" stroke="#000" stroke-width="1.6"/>
<line x1="1646.0" y1="894.4" x2="1657.5" y2="894.4" stroke="#000" stroke-width="1.6"/>
<text x="1644.0" y="732.6" font-size="21" text-anchor="end">0.8</text>
<text x="1644.0" y="845.6" font-size="21" text-anchor="end">0.4</text>
<text x="1644.0" y="958.8" font-size="21" text-anchor="end">0</text>
<line x1="1689.5" y1="951.2" x2="1689.5" y2="961.7" stroke="#000" stroke-width="1.6"/>
<line x1="1738.4" y1="951.2" x2="1738.4" y2="961.7" stroke="#000" stroke-width="1.6"/>
<rect x="1673.8" y="739.5" width="31.0" height="211.7" fill="#d4d4d4" stroke="#000" stroke-width="1.5"/>
<rect x="1723.2" y="778.9" width="30.7" height="172.3" fill="#f27a83" stroke="#000" stroke-width="1.5"/>
<line x1="1689.5" y1="734.5" x2="1689.5" y2="739.5" stroke="#000" stroke-width="1.5"/>
<line x1="1682.5" y1="734.5" x2="1696.5" y2="734.5" stroke="#000" stroke-width="1.5"/>
<line x1="1738.4" y1="773.6" x2="1738.4" y2="778.9" stroke="#000" stroke-width="1.5"/>
<line x1="1731.4" y1="773.6" x2="1745.4" y2="773.6" stroke="#000" stroke-width="1.5"/>
<path d="M1690.3 728.0V720.6H1735.0V767.9" stroke="#000" stroke-width="1.5" fill="none"/>
<text x="1713.2" y="726.0" font-size="24" text-anchor="middle">**</text>
<text x="1608.5" y="838.0" font-size="24.5" text-anchor="middle" transform="rotate(-90 1608.5 838.0)">Lung weight (g)</text>
<line x1="1857.1" y1="724.2" x2="1857.1" y2="952.0" stroke="#000" stroke-width="1.6"/>
<line x1="1845.6" y1="951.2" x2="1971.3" y2="951.2" stroke="#000" stroke-width="1.6"/>
<line x1="1845.6" y1="725.0" x2="1857.1" y2="725.0" stroke="#000" stroke-width="1.6"/>
<line x1="1845.6" y1="770.0" x2="1857.1" y2="770.0" stroke="#000" stroke-width="1.6"/>
<line x1="1845.6" y1="815.1" x2="1857.1" y2="815.1" stroke="#000" stroke-width="1.6"/>
<line x1="1845.6" y1="860.3" x2="1857.1" y2="860.3" stroke="#000" stroke-width="1.6"/>
<line x1="1845.6" y1="905.7" x2="1857.1" y2="905.7" stroke="#000" stroke-width="1.6"/>
<text x="1843.5" y="777.6" font-size="21" text-anchor="end">0.08</text>
<text x="1843.5" y="867.9" font-size="21" text-anchor="end">0.04</text>
<text x="1843.5" y="958.8" font-size="21" text-anchor="end">0</text>
<line x1="1890.7" y1="951.2" x2="1890.7" y2="961.7" stroke="#000" stroke-width="1.6"/>
<line x1="1939.3" y1="951.2" x2="1939.3" y2="961.7" stroke="#000" stroke-width="1.6"/>
<rect x="1874.7" y="810.7" width="31.5" height="140.5" fill="#d4d4d4" stroke="#000" stroke-width="1.5"/>
<rect x="1923.5" y="941.2" width="31.5" height="10.0" fill="#f27a83" stroke="#000" stroke-width="1.5"/>
<line x1="1890.7" y1="788.9" x2="1890.7" y2="832.0" stroke="#000" stroke-width="1.5"/>
<line x1="1884.2" y1="788.9" x2="1897.2" y2="788.9" stroke="#000" stroke-width="1.5"/>
<circle cx="1890.7" cy="840.1" r="5.9" fill="#fff" stroke="#000" stroke-width="1.5"/>
<circle cx="1881.5" cy="795.4" r="5.9" fill="#fff" stroke="#000" stroke-width="1.5"/>
<circle cx="1900.4" cy="802.0" r="5.9" fill="#fff" stroke="#000" stroke-width="1.5"/>
<circle cx="1890.7" cy="802.0" r="5.9" fill="#fff" stroke="#000" stroke-width="1.5"/>
<rect x="1923.4" y="920.5" width="10.8" height="10.8" fill="#fff" stroke="#000" stroke-width="1.5"/>
<rect x="1934.4" y="923.2" width="10.8" height="10.8" fill="#fff" stroke="#000" stroke-width="1.5"/>
<rect x="1923.4" y="932.6" width="10.8" height="10.8" fill="#fff" stroke="#000" stroke-width="1.5"/>
<rect x="1943.6" y="931.8" width="10.8" height="10.8" fill="#fff" stroke="#000" stroke-width="1.5"/>
<path d="M1892.5 780.5V773.9H1935.9V903.1" stroke="#000" stroke-width="1.5" fill="none"/>
<text x="1912.2" y="778.5" font-size="24" text-anchor="middle">***</text>
<text x="1798.5" y="845.3" font-size="24.5" text-anchor="middle" transform="rotate(-90 1798.5 845.3)">Lung meta. index</text>
</g>
<g id="pG">
<text x="-1.7" y="1053.7" font-size="59">G</text>
<text x="143.1" y="1107.7" font-size="23.5" text-anchor="middle">Veh.</text>
<text x="300.2" y="1107.7" font-size="23.5" text-anchor="middle" letter-spacing="0.4">HuL001</text>
<text x="64.0" y="1189.3" font-size="23.5" text-anchor="middle" transform="rotate(-90 64.0 1189.3)">HE</text>
<text x="64" y="1342.4" font-size="24.5" text-anchor="middle" transform="rotate(-90 64 1342.4)"><tspan fill="#22e022">pan-CK</tspan>/<tspan fill="#2a2aff">DAPI</tspan></text>
<text x="62.5" y="1484.8" font-size="23.5" text-anchor="middle" transform="rotate(-90 62.5 1484.8)">Ki67</text>
<rect x="71.3" y="1112.1" width="143.3" height="146.8" fill="#fff" filter="url(#gHE1)"/>
<rect x="71.3" y="1112.1" width="143.3" height="146.8" fill="#fff" filter="url(#gDark)"/>
<rect x="71.3" y="1112.1" width="143.3" height="146.8" fill="none" stroke="#1a1a1a" stroke-width="1.3" rx="1.2"/>
<path d="M73.0 1140.2C74.2 1138.5 81.5 1135.3 86.4 1133.9C91.3 1132.6 97.4 1133.2 102.5 1132.1C107.6 1131.1 115.9 1127.1 116.8 1127.7C117.7 1128.3 111.7 1133.6 107.9 1135.7C104.0 1137.8 98.3 1138.8 93.6 1140.2C88.8 1141.5 82.7 1143.8 79.3 1143.8C75.9 1143.8 71.8 1141.8 73.0 1140.2Z" fill="#fff"/>
<path d="M140.0 1248.2C143.0 1244.9 156.4 1237.2 165.0 1232.1C173.6 1227.1 184.0 1223.2 191.8 1217.9C199.5 1212.5 207.7 1201.8 211.4 1200.0C215.1 1198.2 216.5 1203.0 214.1 1207.1C211.7 1211.3 204.1 1219.3 197.1 1225.0C190.1 1230.7 180.5 1236.6 172.1 1241.1C163.8 1245.5 152.5 1250.6 147.1 1251.8C141.8 1253.0 137.0 1251.5 140.0 1248.2Z" fill="#e0559a" opacity="0.55"/>
<path d="M97.1 1192.9C98.0 1190.3 100.7 1187.2 102.5 1188.4C104.3 1189.6 107.1 1195.4 107.9 1200.0C108.6 1204.6 108.0 1213.7 107.0 1216.1C105.9 1218.5 103.2 1216.4 101.6 1214.3C100.0 1212.2 97.9 1207.1 97.1 1203.6C96.4 1200.0 96.2 1195.4 97.1 1192.9Z" fill="#e0559a" opacity="0.5"/>
<rect x="71.3" y="1112.1" width="143.3" height="146.8" fill="none" stroke="#1a1a1a" stroke-width="1.3" rx="1.5"/>
<rect x="225.4" y="1112.9" width="143.5" height="146.6" fill="#fff" filter="url(#gHE2)"/>
<rect x="225.4" y="1112.9" width="143.5" height="146.6" fill="none" stroke="#1a1a1a" stroke-width="1.3" rx="1.2"/>
<text x="131.1" y="1130.0" font-size="16.5" text-anchor="middle">M</text>
<text x="148.4" y="1197.0" font-size="16.5" text-anchor="middle">M</text>
<text x="194.1" y="1217.0" font-size="16.5" text-anchor="middle">M</text>
<text x="90.5" y="1239.8" font-size="16.5" text-anchor="middle">M</text>
<text x="309.6" y="1163.9" font-size="16.5" text-anchor="middle">M</text>
<text x="314.6" y="1232.7" font-size="16.5" text-anchor="middle">M</text>
<text x="212.5" y="1251.8" font-size="20" text-anchor="end">0.2 mm</text>
<line x1="186.4" y1="1255.9" x2="211.0" y2="1255.9" stroke="#000" stroke-width="1.6"/>
<text x="365.7" y="1252.4" font-size="20" text-anchor="end">0.2 mm</text>
<line x1="340.1" y1="1256.4" x2="365.0" y2="1256.4" stroke="#000" stroke-width="1.6"/>
<rect x="71.3" y="1265.2" width="143.3" height="147.3" fill="url(#pgI1)" filter="url(#soft)"/>
<defs><clipPath id="gclip"><rect x="71.3" y="1265.2" width="143.3" height="147.3"/></clipPath></defs>
<g clip-path="url(#gclip)"><g filter="url(#gGreen)" opacity="0.85">
<path d="M129.3 1330.4C133.2 1331.0 137.6 1335.1 141.8 1339.3C146.0 1343.5 148.6 1350.9 154.3 1355.4C159.9 1359.8 168.6 1363.4 175.7 1366.1C182.9 1368.8 190.3 1369.0 197.1 1371.4C204.0 1373.8 213.5 1376.2 216.8 1380.4C220.1 1384.5 219.5 1394.0 216.8 1396.4C214.1 1398.8 206.4 1395.2 200.7 1394.6C195.1 1394.0 188.8 1394.0 182.9 1392.9C176.9 1391.7 170.4 1389.9 165.0 1387.5C159.6 1385.1 154.9 1382.1 150.7 1378.6C146.5 1375.0 143.6 1370.5 140.0 1366.1C136.4 1361.6 132.9 1356.8 129.3 1351.8C125.7 1346.7 118.6 1339.3 118.6 1335.7C118.6 1332.1 125.4 1329.8 129.3 1330.4Z" fill="#3c3"/>
</g>
</g>
<path d="M154.3 1307.1C154.9 1306.2 160.8 1311.0 165.0 1314.3C169.2 1317.6 176.3 1323.5 179.3 1326.8C182.3 1330.1 184.0 1333.3 182.9 1333.9C181.7 1334.5 175.7 1332.7 172.1 1330.4C168.6 1328.0 164.4 1323.5 161.4 1319.6C158.5 1315.8 153.7 1308.0 154.3 1307.1Z" fill="#000"/>
<rect x="71.3" y="1265.2" width="63.3" height="65.2" fill="url(#pgI1i)" stroke="none" filter="url(#soft)"/>
<g filter="url(#gGreen)" opacity="0.85">
<path d="M72.1 1287.5C74.5 1283.6 81.1 1278.9 86.4 1276.8C91.8 1274.7 98.6 1274.4 104.3 1275.0C109.9 1275.6 115.4 1278.0 120.4 1280.4C125.3 1282.7 131.5 1284.8 133.8 1289.3C136.0 1293.8 135.4 1303.6 133.8 1307.1C132.1 1310.7 126.5 1308.0 123.9 1310.7C121.4 1313.4 122.7 1320.5 118.6 1323.2C114.4 1325.9 104.6 1327.7 98.9 1326.8C93.3 1325.9 89.1 1322.3 84.6 1317.9C80.2 1313.4 74.2 1305.1 72.1 1300.0C70.1 1294.9 69.8 1291.4 72.1 1287.5Z" fill="#3c3"/>
</g>
<path d="M134.6 1265.2V1330.4H71.3" fill="none" stroke="#e0e0e0" stroke-width="1.2"/>
<rect x="71.3" y="1265.2" width="143.3" height="147.3" fill="none" stroke="#111" stroke-width="1.3" rx="1.5"/>
<rect x="225.4" y="1265.2" width="143.5" height="147.3" fill="url(#pgI2)" filter="url(#soft)"/>
<rect x="225.4" y="1265.2" width="63.2" height="65.8" fill="url(#pgI2i)" filter="url(#soft)"/>
<path d="M288.6 1265.2V1331.0H225.4" fill="none" stroke="#e0e0e0" stroke-width="1.2"/>
<rect x="225.4" y="1265.2" width="143.5" height="147.3" fill="none" stroke="#111" stroke-width="1.3" rx="1.2"/>
<text x="76.3" y="1402.9" font-size="16" fill="#fff">50 µm</text>
<line x1="77.1" y1="1408.2" x2="91.8" y2="1408.2" stroke="#fff" stroke-width="1.7"/>
<text x="227.4" y="1402.9" font-size="16" fill="#fff">50 µm</text>
<line x1="228.3" y1="1408.2" x2="243.0" y2="1408.2" stroke="#fff" stroke-width="1.7"/>
<rect x="71.3" y="1417.3" width="143.3" height="147.0" fill="url(#pgK1)" filter="url(#soft)"/>
<rect x="71.3" y="1417.3" width="64.2" height="66.1" fill="#fff" filter="url(#gKi1)"/>
<path d="M135.5 1417.3V1483.4H71.3" fill="none" stroke="#000" stroke-width="1.2"/>
<rect x="71.3" y="1417.3" width="143.3" height="147.0" fill="none" stroke="#1a1a1a" stroke-width="1.3" rx="1.2"/>
<rect x="225.4" y="1417.3" width="143.5" height="147.0" fill="url(#pgK2)" filter="url(#soft)"/>
<rect x="225.4" y="1417.3" width="64.1" height="66.1" fill="#fff" filter="url(#gKi2)"/>
<path d="M289.5 1417.3V1483.4H225.4" fill="none" stroke="#000" stroke-width="1.2"/>
<rect x="225.4" y="1417.3" width="143.5" height="147.0" fill="none" stroke="#1a1a1a" stroke-width="1.3" rx="1.2"/>
<rect x="79.0" y="1421.5" width="4.0" height="4.6" fill="none" stroke="#000" stroke-width="1.2"/>
<rect x="253.0" y="1439.3" width="4.0" height="4.6" fill="none" stroke="#000" stroke-width="1.2"/>
<path d="M135.5 1449.1C137.5 1447.9 140.7 1443.8 147.1 1442.0C153.5 1440.2 165.0 1439.1 173.9 1438.4C182.9 1437.6 194.0 1438.8 200.7 1437.5C207.4 1436.2 211.9 1431.5 214.1 1430.4" fill="none" stroke="#000" stroke-width="1.4" stroke-dasharray="7 4"/>
<path d="M290.0 1455.4C293.0 1455.7 301.9 1454.5 307.9 1457.1C313.8 1459.8 320.7 1466.1 325.7 1471.4C330.8 1476.8 335.8 1483.3 338.2 1489.3C340.6 1495.2 341.5 1502.4 340.0 1507.1C338.5 1511.9 333.8 1513.1 329.3 1517.9C324.8 1522.6 318.0 1531.8 313.2 1535.7C308.5 1539.6 304.9 1541.1 300.7 1541.1C296.5 1541.1 292.1 1539.3 288.2 1535.7C284.3 1532.1 280.5 1525.0 277.5 1519.6C274.5 1514.3 271.4 1508.3 270.4 1503.6C269.3 1498.8 271.1 1493.2 271.2 1491.1" fill="none" stroke="#000" stroke-width="1.4" stroke-dasharray="7 4"/>
<text x="157.0" y="1523.2" font-size="22.5" text-anchor="middle">T</text>
<text x="301.6" y="1509.5" font-size="26.5" text-anchor="middle">T</text>
<text x="211.8" y="1556.3" font-size="20" text-anchor="end">20 µm</text>
<line x1="195.4" y1="1560.4" x2="211.4" y2="1560.4" stroke="#000" stroke-width="1.6"/>
<text x="364.5" y="1556.3" font-size="20" text-anchor="end">20 µm</text>
<line x1="350.4" y1="1560.4" x2="364.6" y2="1560.4" stroke="#000" stroke-width="1.6"/>
<text x="225.3" y="1587.5" font-size="24.5" text-anchor="middle">Livers</text>
<rect x="470.4" y="1172.4" width="26.5" height="12.6" fill="#d4d4d4" stroke="#000" stroke-width="1.3"/>
<text x="503.2" y="1185.3" font-size="21">Veh.</text>
<rect x="570.8" y="1172.4" width="26.5" height="12.6" fill="#f27a83" stroke="#000" stroke-width="1.3"/>
<text x="601.1" y="1185.3" font-size="21" letter-spacing="0.3">HuL001</text>
<line x1="441.2" y1="1237.6" x2="441.2" y2="1463.8" stroke="#000" stroke-width="1.6"/>
<line x1="429.7" y1="1463.0" x2="553.8" y2="1463.0" stroke="#000" stroke-width="1.6"/>
<line x1="429.7" y1="1238.4" x2="441.2" y2="1238.4" stroke="#000" stroke-width="1.6"/>
<line x1="429.7" y1="1313.0" x2="441.2" y2="1313.0" stroke="#000" stroke-width="1.6"/>
<line x1="429.7" y1="1388.1" x2="441.2" y2="1388.1" stroke="#000" stroke-width="1.6"/>
<text x="427.5" y="1320.6" font-size="21" text-anchor="end">2</text>
<text x="427.5" y="1470.6" font-size="21" text-anchor="end">0</text>
<line x1="474.8" y1="1463.0" x2="474.8" y2="1473.5" stroke="#000" stroke-width="1.6"/>
<line x1="518.9" y1="1463.0" x2="518.9" y2="1473.5" stroke="#000" stroke-width="1.6"/>
<rect x="458.8" y="1298.0" width="32.8" height="165.0" fill="#d4d4d4" stroke="#000" stroke-width="1.5"/>
<rect x="502.6" y="1332.2" width="33.4" height="130.8" fill="#f27a83" stroke="#000" stroke-width="1.5"/>
<line x1="474.8" y1="1277.0" x2="474.8" y2="1298.0" stroke="#000" stroke-width="1.5"/>
<line x1="467.3" y1="1277.0" x2="482.3" y2="1277.0" stroke="#000" stroke-width="1.5"/>
<line x1="518.9" y1="1320.4" x2="518.9" y2="1332.0" stroke="#000" stroke-width="1.5"/>
<line x1="511.4" y1="1320.4" x2="526.4" y2="1320.4" stroke="#000" stroke-width="1.5"/>
<path d="M474.8 1264.7V1257.4H517.0V1304.6" stroke="#000" stroke-width="1.5" fill="none"/>
<text x="508.7" y="1248.2" font-size="24.5" text-anchor="middle"><tspan font-style="italic">p</tspan>=0.17</text>
<text x="398.5" y="1352.4" font-size="24.5" text-anchor="middle" transform="rotate(-90 398.5 1352.4)">Liver weight (g)</text>
<line x1="643.1" y1="1237.6" x2="643.1" y2="1463.8" stroke="#000" stroke-width="1.6"/>
<line x1="631.6" y1="1463.0" x2="756.0" y2="1463.0" stroke="#000" stroke-width="1.6"/>
<line x1="631.6" y1="1238.4" x2="643.1" y2="1238.4" stroke="#000" stroke-width="1.6"/>
<line x1="631.6" y1="1313.3" x2="643.1" y2="1313.3" stroke="#000" stroke-width="1.6"/>
<line x1="631.6" y1="1388.1" x2="643.1" y2="1388.1" stroke="#000" stroke-width="1.6"/>
<text x="629.5" y="1246.0" font-size="21" text-anchor="end">0.6</text>
<text x="629.5" y="1320.9" font-size="21" text-anchor="end">0.4</text>
<text x="629.5" y="1395.7" font-size="21" text-anchor="end">0.2</text>
<text x="629.5" y="1470.6" font-size="21" text-anchor="end">0</text>
<line x1="676.7" y1="1463.0" x2="676.7" y2="1473.5" stroke="#000" stroke-width="1.6"/>
<line x1="721.4" y1="1463.0" x2="721.4" y2="1473.5" stroke="#000" stroke-width="1.6"/>
<rect x="660.2" y="1305.9" width="33.6" height="157.1" fill="#d4d4d4" stroke="#000" stroke-width="1.5"/>
<rect x="704.8" y="1425.9" width="33.4" height="37.1" fill="#f27a83" stroke="#000" stroke-width="1.5"/>
<line x1="676.7" y1="1288.1" x2="676.7" y2="1324.0" stroke="#000" stroke-width="1.5"/>
<line x1="670.2" y1="1288.1" x2="683.2" y2="1288.1" stroke="#000" stroke-width="1.5"/>
<line x1="670.2" y1="1324.0" x2="683.2" y2="1324.0" stroke="#000" stroke-width="1.5"/>
<line x1="721.4" y1="1414.4" x2="721.4" y2="1437.0" stroke="#000" stroke-width="1.5"/>
<line x1="714.9" y1="1414.4" x2="727.9" y2="1414.4" stroke="#000" stroke-width="1.5"/>
<line x1="714.9" y1="1437.0" x2="727.9" y2="1437.0" stroke="#000" stroke-width="1.5"/>
<circle cx="676.7" cy="1326.9" r="5.9" fill="#fff" stroke="#000" stroke-width="1.5"/>
<circle cx="676.7" cy="1313.8" r="5.9" fill="#fff" stroke="#000" stroke-width="1.5"/>
<circle cx="676.7" cy="1299.4" r="5.9" fill="#fff" stroke="#000" stroke-width="1.5"/>
<circle cx="676.7" cy="1284.4" r="5.9" fill="#fff" stroke="#000" stroke-width="1.5"/>
<rect x="704.2" y="1431.8" width="10.8" height="10.8" fill="#fff" stroke="#000" stroke-width="1.5"/>
<rect x="727.0" y="1422.1" width="10.8" height="10.8" fill="#fff" stroke="#000" stroke-width="1.5"/>
<rect x="716.0" y="1419.2" width="10.8" height="10.8" fill="#fff" stroke="#000" stroke-width="1.5"/>
<rect x="716.5" y="1403.7" width="10.8" height="10.8" fill="#fff" stroke="#000" stroke-width="1.5"/>
<path d="M676.7 1271.8V1263.9H720.6V1392.6" stroke="#000" stroke-width="1.5" fill="none"/>
<text x="698.8" y="1268.5" font-size="24" text-anchor="middle">***</text>
<text x="590.7" y="1361.6" font-size="24.5" text-anchor="middle" transform="rotate(-90 590.7 1361.6)">Liver meta. index</text>
</g>
<g id="pH">
<text x="743.5" y="1107.7" font-size="59">H</text>
<text x="982.1" y="1143.6" font-size="23.5" text-anchor="middle">CT26</text>
<line x1="848.9" y1="1148.9" x2="1131.8" y2="1148.9" stroke="#000" stroke-width="1.6"/>
<text x="910.8" y="1174.9" font-size="23.5" text-anchor="middle">Veh.</text>
<text x="1067.5" y="1174.9" font-size="23.5" text-anchor="middle" letter-spacing="0.4">HuL001</text>
<text x="1323.7" y="1143.6" font-size="23.5" text-anchor="middle">4T1</text>
<line x1="1181.3" y1="1149.9" x2="1463.8" y2="1149.9" stroke="#000" stroke-width="1.6"/>
<text x="1251.8" y="1172.6" font-size="23.5" text-anchor="middle">Veh.</text>
<text x="1397.5" y="1172.6" font-size="23.5" text-anchor="middle" letter-spacing="0.4">HuL001</text>
<text x="835.5" y="1247.2" font-size="24.5" text-anchor="middle" transform="rotate(-90 835.5 1247.2)"><tspan fill="#22e022">CD80</tspan>/<tspan fill="#2a2aff">DAPI</tspan></text>
<text x="835.5" y="1404.5" font-size="24.5" text-anchor="middle" transform="rotate(-90 835.5 1404.5)"><tspan fill="#22e022">CD206</tspan>/<tspan fill="#2a2aff">DAPI</tspan></text>
<text x="1171" y="1247.2" font-size="24.5" text-anchor="middle" transform="rotate(-90 1171 1247.2)"><tspan fill="#22e022">CD80</tspan>/<tspan fill="#2a2aff">DAPI</tspan></text>
<text x="1171" y="1404.5" font-size="24.5" text-anchor="middle" transform="rotate(-90 1171 1404.5)"><tspan fill="#22e022">CD206</tspan>/<tspan fill="#2a2aff">DAPI</tspan></text>
<rect x="842.9" y="1179.5" width="144.4" height="144.1" fill="url(#phC1)" filter="url(#soft2)"/>
<text x="984.1" y="1310.7" font-size="16.5" text-anchor="end" fill="#fff">30 µm</text>
<line x1="949.8" y1="1318.0" x2="983.3" y2="1318.0" stroke="#fff" stroke-width="1.7"/>
<rect x="994.1" y="1179.5" width="144.9" height="144.1" fill="url(#phC2)" filter="url(#soft2)"/>
<text x="1135.8" y="1310.7" font-size="16.5" text-anchor="end" fill="#fff">30 µm</text>
<line x1="1101.5" y1="1318.0" x2="1135.0" y2="1318.0" stroke="#fff" stroke-width="1.7"/>
<rect x="842.9" y="1329.6" width="144.4" height="144.2" fill="url(#phC3)" filter="url(#soft2)"/>
<text x="984.1" y="1460.9" font-size="16.5" text-anchor="end" fill="#fff">30 µm</text>
<line x1="949.8" y1="1468.2" x2="983.3" y2="1468.2" stroke="#fff" stroke-width="1.7"/>
<rect x="994.1" y="1329.6" width="144.9" height="144.2" fill="url(#phC4)" filter="url(#soft2)"/>
<text x="1135.8" y="1460.9" font-size="16.5" text-anchor="end" fill="#fff">30 µm</text>
<line x1="1101.5" y1="1468.2" x2="1135.0" y2="1468.2" stroke="#fff" stroke-width="1.7"/>
<rect x="1176.9" y="1179.5" width="144.4" height="144.1" fill="url(#phT1)" filter="url(#soft2)"/>
<text x="1318.1" y="1310.7" font-size="16.5" text-anchor="end" fill="#fff">30 µm</text>
<line x1="1283.8" y1="1318.0" x2="1317.3" y2="1318.0" stroke="#fff" stroke-width="1.7"/>
<rect x="1327.1" y="1180.5" width="143.9" height="144.1" fill="url(#phT2)" filter="url(#soft2)"/>
<text x="1467.8" y="1311.7" font-size="16.5" text-anchor="end" fill="#fff">30 µm</text>
<line x1="1433.5" y1="1319.0" x2="1467.0" y2="1319.0" stroke="#fff" stroke-width="1.7"/>
<rect x="1176.9" y="1331.0" width="144.4" height="144.0" fill="url(#phT3)" filter="url(#soft2)"/>
<text x="1318.1" y="1462.1" font-size="16.5" text-anchor="end" fill="#fff">30 µm</text>
<line x1="1283.8" y1="1469.4" x2="1317.3" y2="1469.4" stroke="#fff" stroke-width="1.7"/>
<rect x="1327.1" y="1331.0" width="143.9" height="144.0" fill="url(#phT4)" filter="url(#soft2)"/>
<text x="1467.8" y="1462.1" font-size="16.5" text-anchor="end" fill="#fff">30 µm</text>
<line x1="1433.5" y1="1469.4" x2="1467.0" y2="1469.4" stroke="#fff" stroke-width="1.7"/>
<text x="1002.7" y="1498.3" font-size="24.5" text-anchor="middle">Tumors</text>
<text x="1337.6" y="1497.3" font-size="24.5" text-anchor="middle">Tumors</text>
</g>
<g id="pI">
<text x="1506.3" y="1144.7" font-size="59">I</text>
<text x="1748.9" y="1144.4" font-size="23.5" text-anchor="middle">CT26</text>
<line x1="1587.1" y1="1151.0" x2="1926.2" y2="1151.0" stroke="#000" stroke-width="1.6"/>
<text x="1666.7" y="1211.4" font-size="23.5" text-anchor="middle">M1</text>
<text x="1877.6" y="1210.4" font-size="23.5" text-anchor="middle">M2</text>
<line x1="1612.1" y1="1238.7" x2="1612.1" y2="1462.8" stroke="#000" stroke-width="1.6"/>
<line x1="1600.6" y1="1462.0" x2="1724.0" y2="1462.0" stroke="#000" stroke-width="1.6"/>
<line x1="1600.6" y1="1239.5" x2="1612.1" y2="1239.5" stroke="#000" stroke-width="1.6"/>
<line x1="1600.6" y1="1295.4" x2="1612.1" y2="1295.4" stroke="#000" stroke-width="1.6"/>
<line x1="1600.6" y1="1350.6" x2="1612.1" y2="1350.6" stroke="#000" stroke-width="1.6"/>
<line x1="1600.6" y1="1406.2" x2="1612.1" y2="1406.2" stroke="#000" stroke-width="1.6"/>
<text x="1599.0" y="1247.1" font-size="21" text-anchor="end">400</text>
<text x="1599.0" y="1358.2" font-size="21" text-anchor="end">200</text>
<text x="1599.0" y="1469.6" font-size="21" text-anchor="end">0</text>
<line x1="1643.9" y1="1462.0" x2="1643.9" y2="1472.5" stroke="#000" stroke-width="1.6"/>
<line x1="1691.6" y1="1462.0" x2="1691.6" y2="1472.5" stroke="#000" stroke-width="1.6"/>
<rect x="1628.6" y="1430.7" width="30.7" height="31.3" fill="#d4d4d4" stroke="#000" stroke-width="1.5"/>
<rect x="1675.9" y="1313.3" width="31.0" height="148.7" fill="#f27a83" stroke="#000" stroke-width="1.5"/>
<line x1="1691.6" y1="1277.0" x2="1691.6" y2="1313.0" stroke="#000" stroke-width="1.5"/>
<line x1="1685.1" y1="1277.0" x2="1698.1" y2="1277.0" stroke="#000" stroke-width="1.5"/>
<circle cx="1633.9" cy="1429.9" r="5.9" fill="#fff" stroke="#000" stroke-width="1.5"/>
<circle cx="1654.4" cy="1428.0" r="5.9" fill="#fff" stroke="#000" stroke-width="1.5"/>
<circle cx="1643.9" cy="1425.4" r="5.9" fill="#fff" stroke="#000" stroke-width="1.5"/>
<rect x="1686.2" y="1336.0" width="10.8" height="10.8" fill="#fff" stroke="#000" stroke-width="1.5"/>
<rect x="1686.2" y="1320.2" width="10.8" height="10.8" fill="#fff" stroke="#000" stroke-width="1.5"/>
<rect x="1686.2" y="1266.4" width="10.8" height="10.8" fill="#fff" stroke="#000" stroke-width="1.5"/>
<path d="M1645.7 1412.3V1248.2H1690.9V1257.4" stroke="#000" stroke-width="1.5" fill="none"/>
<text x="1669.3" y="1253.0" font-size="24" text-anchor="middle">***</text>
<text x="1563.5" y="1337.4" font-size="24.5" text-anchor="middle" transform="rotate(-90 1563.5 1337.4)">No. of CD80<tspan font-size="13" dy="-9">+</tspan><tspan dy="9"> cells/mm</tspan><tspan font-size="13" dy="-9">2</tspan></text>
<line x1="1826.9" y1="1238.2" x2="1826.9" y2="1462.8" stroke="#000" stroke-width="1.6"/>
<line x1="1815.4" y1="1462.0" x2="1939.8" y2="1462.0" stroke="#000" stroke-width="1.6"/>
<line x1="1815.4" y1="1239.0" x2="1826.9" y2="1239.0" stroke="#000" stroke-width="1.6"/>
<line x1="1815.4" y1="1295.4" x2="1826.9" y2="1295.4" stroke="#000" stroke-width="1.6"/>
<line x1="1815.4" y1="1351.1" x2="1826.9" y2="1351.1" stroke="#000" stroke-width="1.6"/>
<line x1="1815.4" y1="1406.7" x2="1826.9" y2="1406.7" stroke="#000" stroke-width="1.6"/>
<text x="1813.0" y="1246.6" font-size="21" text-anchor="end">200</text>
<text x="1813.0" y="1358.7" font-size="21" text-anchor="end">100</text>
<text x="1813.0" y="1469.6" font-size="21" text-anchor="end">0</text>
<line x1="1858.4" y1="1462.0" x2="1858.4" y2="1472.5" stroke="#000" stroke-width="1.6"/>
<line x1="1906.5" y1="1462.0" x2="1906.5" y2="1472.5" stroke="#000" stroke-width="1.6"/>
<rect x="1843.2" y="1277.0" width="31.0" height="185.0" fill="#d4d4d4" stroke="#000" stroke-width="1.5"/>
<rect x="1891.8" y="1304.6" width="30.9" height="157.4" fill="#f27a83" stroke="#000" stroke-width="1.5"/>
<line x1="1858.4" y1="1268.0" x2="1858.4" y2="1286.0" stroke="#000" stroke-width="1.5"/>
<line x1="1851.9" y1="1268.0" x2="1864.9" y2="1268.0" stroke="#000" stroke-width="1.5"/>
<line x1="1851.9" y1="1286.0" x2="1864.9" y2="1286.0" stroke="#000" stroke-width="1.5"/>
<line x1="1906.5" y1="1296.5" x2="1906.5" y2="1312.0" stroke="#000" stroke-width="1.5"/>
<line x1="1900.0" y1="1296.5" x2="1913.0" y2="1296.5" stroke="#000" stroke-width="1.5"/>
<line x1="1900.0" y1="1312.0" x2="1913.0" y2="1312.0" stroke="#000" stroke-width="1.5"/>
<circle cx="1849.2" cy="1285.7" r="5.9" fill="#fff" stroke="#000" stroke-width="1.5"/>
<circle cx="1868.9" cy="1275.7" r="5.9" fill="#fff" stroke="#000" stroke-width="1.5"/>
<circle cx="1858.4" cy="1266.5" r="5.9" fill="#fff" stroke="#000" stroke-width="1.5"/>
<rect x="1891.6" y="1305.8" width="10.8" height="10.8" fill="#fff" stroke="#000" stroke-width="1.5"/>
<rect x="1912.1" y="1299.2" width="10.8" height="10.8" fill="#fff" stroke="#000" stroke-width="1.5"/>
<rect x="1891.6" y="1290.0" width="10.8" height="10.8" fill="#fff" stroke="#000" stroke-width="1.5"/>
<path d="M1859.7 1244.2V1235.8H1903.6V1283.6" stroke="#000" stroke-width="1.5" fill="none"/>
<text x="1881.2" y="1240.0" font-size="24" text-anchor="middle">*</text>
<text x="1773.5" y="1334.8" font-size="24.5" text-anchor="middle" transform="rotate(-90 1773.5 1334.8)">No. of CD206<tspan font-size="13" dy="-9">+</tspan><tspan dy="9"> cells/mm</tspan><tspan font-size="13" dy="-9">2</tspan></text>
</g>
<g id="pJ">
<text x="2.4" y="1654.5" font-size="59">J</text>
<text x="313.8" y="1673.1" font-size="23.5" text-anchor="middle">4T1</text>
<line x1="150.2" y1="1679.1" x2="488.4" y2="1679.1" stroke="#000" stroke-width="1.6"/>
<text x="226.6" y="1711.1" font-size="23.5" text-anchor="middle">M1</text>
<text x="445.6" y="1711.1" font-size="23.5" text-anchor="middle">M2</text>
<line x1="172.5" y1="1746.6" x2="172.5" y2="1971.6" stroke="#000" stroke-width="1.6"/>
<line x1="161.0" y1="1970.8" x2="284.9" y2="1970.8" stroke="#000" stroke-width="1.6"/>
<line x1="161.0" y1="1747.4" x2="172.5" y2="1747.4" stroke="#000" stroke-width="1.6"/>
<line x1="161.0" y1="1803.0" x2="172.5" y2="1803.0" stroke="#000" stroke-width="1.6"/>
<line x1="161.0" y1="1858.7" x2="172.5" y2="1858.7" stroke="#000" stroke-width="1.6"/>
<line x1="161.0" y1="1914.7" x2="172.5" y2="1914.7" stroke="#000" stroke-width="1.6"/>
<text x="159.5" y="1755.0" font-size="21" text-anchor="end">200</text>
<text x="159.5" y="1866.3" font-size="21" text-anchor="end">100</text>
<text x="159.5" y="1978.4" font-size="21" text-anchor="end">0</text>
<line x1="204.3" y1="1970.8" x2="204.3" y2="1981.3" stroke="#000" stroke-width="1.6"/>
<line x1="252.1" y1="1970.8" x2="252.1" y2="1981.3" stroke="#000" stroke-width="1.6"/>
<rect x="189.1" y="1796.5" width="31.0" height="174.3" fill="#d4d4d4" stroke="#000" stroke-width="1.5"/>
<rect x="236.9" y="1828.8" width="31.0" height="142.0" fill="#f27a83" stroke="#000" stroke-width="1.5"/>
<line x1="204.3" y1="1779.5" x2="204.3" y2="1813.0" stroke="#000" stroke-width="1.5"/>
<line x1="197.8" y1="1779.5" x2="210.8" y2="1779.5" stroke="#000" stroke-width="1.5"/>
<line x1="197.8" y1="1813.0" x2="210.8" y2="1813.0" stroke="#000" stroke-width="1.5"/>
<line x1="252.1" y1="1814.5" x2="252.1" y2="1843.0" stroke="#000" stroke-width="1.5"/>
<line x1="245.6" y1="1814.5" x2="258.6" y2="1814.5" stroke="#000" stroke-width="1.5"/>
<line x1="245.6" y1="1843.0" x2="258.6" y2="1843.0" stroke="#000" stroke-width="1.5"/>
<circle cx="204.3" cy="1812.2" r="5.9" fill="#fff" stroke="#000" stroke-width="1.5"/>
<circle cx="204.3" cy="1799.1" r="5.9" fill="#fff" stroke="#000" stroke-width="1.5"/>
<circle cx="204.3" cy="1778.1" r="5.9" fill="#fff" stroke="#000" stroke-width="1.5"/>
<rect x="246.7" y="1839.1" width="10.8" height="10.8" fill="#fff" stroke="#000" stroke-width="1.5"/>
<rect x="246.7" y="1822.6" width="10.8" height="10.8" fill="#fff" stroke="#000" stroke-width="1.5"/>
<rect x="246.7" y="1808.7" width="10.8" height="10.8" fill="#fff" stroke="#000" stroke-width="1.5"/>
<path d="M206.7 1754.5V1746.6H252.6V1795.2" stroke="#000" stroke-width="1.5" fill="none"/>
<text x="243.5" y="1740" font-size="24.5" text-anchor="middle"><tspan font-style="italic">p</tspan>=0.06</text>
<text x="123" y="1850.3" font-size="24.5" text-anchor="middle" transform="rotate(-90 123 1850.3)">No. of CD80<tspan font-size="13" dy="-9">+</tspan><tspan dy="9"> cells/mm</tspan><tspan font-size="13" dy="-9">2</tspan></text>
<line x1="395.7" y1="1747.9" x2="395.7" y2="1972.8" stroke="#000" stroke-width="1.6"/>
<line x1="384.2" y1="1972.0" x2="508.0" y2="1972.0" stroke="#000" stroke-width="1.6"/>
<line x1="384.2" y1="1748.7" x2="395.7" y2="1748.7" stroke="#000" stroke-width="1.6"/>
<line x1="384.2" y1="1804.4" x2="395.7" y2="1804.4" stroke="#000" stroke-width="1.6"/>
<line x1="384.2" y1="1860.3" x2="395.7" y2="1860.3" stroke="#000" stroke-width="1.6"/>
<line x1="384.2" y1="1916.5" x2="395.7" y2="1916.5" stroke="#000" stroke-width="1.6"/>
<text x="382.0" y="1756.3" font-size="21" text-anchor="end">400</text>
<text x="382.0" y="1867.9" font-size="21" text-anchor="end">200</text>
<text x="382.0" y="1979.6" font-size="21" text-anchor="end">0</text>
<line x1="427.5" y1="1972.0" x2="427.5" y2="1982.5" stroke="#000" stroke-width="1.6"/>
<line x1="474.8" y1="1972.0" x2="474.8" y2="1982.5" stroke="#000" stroke-width="1.6"/>
<rect x="411.8" y="1814.1" width="31.5" height="157.9" fill="#d4d4d4" stroke="#000" stroke-width="1.5"/>
<rect x="459.0" y="1962.0" width="31.5" height="10.0" fill="#f27a83" stroke="#000" stroke-width="1.5"/>
<line x1="427.5" y1="1799.0" x2="427.5" y2="1826.0" stroke="#000" stroke-width="1.5"/>
<line x1="421.0" y1="1799.0" x2="434.0" y2="1799.0" stroke="#000" stroke-width="1.5"/>
<line x1="421.0" y1="1826.0" x2="434.0" y2="1826.0" stroke="#000" stroke-width="1.5"/>
<circle cx="417.5" cy="1825.4" r="5.9" fill="#fff" stroke="#000" stroke-width="1.5"/>
<circle cx="437.2" cy="1816.2" r="5.9" fill="#fff" stroke="#000" stroke-width="1.5"/>
<circle cx="427.5" cy="1796.5" r="5.9" fill="#fff" stroke="#000" stroke-width="1.5"/>
<rect x="458.9" y="1958.6" width="10.8" height="10.8" fill="#fff" stroke="#000" stroke-width="1.5"/>
<rect x="479.9" y="1956.0" width="10.8" height="10.8" fill="#fff" stroke="#000" stroke-width="1.5"/>
<rect x="469.4" y="1949.2" width="10.8" height="10.8" fill="#fff" stroke="#000" stroke-width="1.5"/>
<path d="M427.5 1782.0V1773.4H471.4V1897.6" stroke="#000" stroke-width="1.5" fill="none"/>
<text x="448.5" y="1778.0" font-size="24" text-anchor="middle">***</text>
<text x="341.5" y="1838.5" font-size="24.5" text-anchor="middle" transform="rotate(-90 341.5 1838.5)">No. of CD206<tspan font-size="13" dy="-9">+</tspan><tspan dy="9"> cells/mm</tspan><tspan font-size="13" dy="-9">2</tspan></text>
<rect x="531.9" y="1733.9" width="26.8" height="12.6" fill="#d4d4d4" stroke="#000" stroke-width="1.3"/>
<text x="570.4" y="1746.8" font-size="21">Veh.</text>
<rect x="531.9" y="1772.5" width="26.8" height="12.6" fill="#f27a83" stroke="#000" stroke-width="1.3"/>
<text x="572.2" y="1786.0" font-size="21" letter-spacing="0.3">HuL001</text>
</g>
<g id="pK">
<text x="708.0" y="1593.8" font-size="59">K</text>
<text x="1013.6" y="1553.8" font-size="24.5" text-anchor="middle">CT26</text>
<text x="1019.8" y="1584.8" font-size="24.2" text-anchor="middle" letter-spacing="0.3">HuL001 vs PBS</text>
<line x1="998.9" y1="1597.0" x2="998.9" y2="1964.0" stroke="#222" stroke-width="1" stroke-dasharray="4.5 3"/>
<line x1="1031.6" y1="1597.0" x2="1031.6" y2="1964.0" stroke="#222" stroke-width="1" stroke-dasharray="4.5 3"/>
<line x1="829.0" y1="1945.8" x2="1233.6" y2="1945.8" stroke="#222" stroke-width="1" stroke-dasharray="4.5 3"/>
<g fill="#e62a2a" fill-opacity="0.62" stroke="#e02020" stroke-opacity="0.5" stroke-width="0.6">
<circle cx="1149.7" cy="1623.2" r="2.3"/>
<circle cx="1157.6" cy="1646.8" r="2.3"/>
<circle cx="1133.4" cy="1669.9" r="2.3"/>
<circle cx="1126.8" cy="1690.9" r="2.3"/>
<circle cx="1131.3" cy="1701.9" r="2.3"/>
<circle cx="1133.4" cy="1701.9" r="2.3"/>
<circle cx="1124.2" cy="1723.0" r="2.3"/>
<circle cx="1110.3" cy="1743.4" r="2.3"/>
<circle cx="1103.2" cy="1763.1" r="2.3"/>
<circle cx="1141.3" cy="1780.2" r="2.3"/>
<circle cx="1147.6" cy="1782.0" r="2.3"/>
<circle cx="1183.0" cy="1792.0" r="2.3"/>
<circle cx="1158.9" cy="1819.6" r="2.3"/>
<circle cx="1094.5" cy="1834.0" r="2.3"/>
<circle cx="1116.9" cy="1836.7" r="2.3"/>
<circle cx="1149.7" cy="1843.0" r="2.3"/>
<circle cx="1079.6" cy="1846.4" r="2.3"/>
<circle cx="1099.8" cy="1844.5" r="2.3"/>
<circle cx="1103.2" cy="1850.3" r="2.3"/>
<circle cx="1118.2" cy="1851.6" r="2.3"/>
<circle cx="1072.2" cy="1853.7" r="2.3"/>
<circle cx="1127.9" cy="1858.2" r="2.3"/>
<circle cx="1133.4" cy="1861.6" r="2.3"/>
<circle cx="1096.6" cy="1860.0" r="2.3"/>
<circle cx="1083.5" cy="1866.9" r="2.3"/>
<circle cx="1137.1" cy="1872.1" r="2.3"/>
<circle cx="1065.7" cy="1875.3" r="2.3"/>
<circle cx="1101.1" cy="1870.0" r="2.3"/>
<circle cx="1118.7" cy="1878.7" r="2.3"/>
<circle cx="1146.5" cy="1882.6" r="2.3"/>
<circle cx="1190.4" cy="1887.1" r="2.3"/>
<circle cx="1104.3" cy="1885.0" r="2.3"/>
<circle cx="1110.3" cy="1885.2" r="2.3"/>
<circle cx="1127.9" cy="1890.2" r="2.3"/>
<circle cx="1091.4" cy="1887.9" r="2.3"/>
<circle cx="1122.1" cy="1899.7" r="2.3"/>
<circle cx="1134.7" cy="1903.4" r="2.3"/>
<circle cx="1180.7" cy="1903.4" r="2.3"/>
<circle cx="1175.4" cy="1910.2" r="2.3"/>
<circle cx="1125.5" cy="1915.4" r="2.3"/>
<circle cx="1165.4" cy="1921.2" r="2.3"/>
<circle cx="1172.0" cy="1914.7" r="2.3"/>
<circle cx="1169.4" cy="1917.3" r="2.3"/>
<circle cx="1072.2" cy="1859.5" r="2.3"/>
<circle cx="1068.3" cy="1863.4" r="2.3"/>
<circle cx="1063.0" cy="1877.9" r="2.3"/>
<circle cx="1086.7" cy="1874.0" r="2.3"/>
<circle cx="1091.9" cy="1893.6" r="2.3"/>
<circle cx="1089.3" cy="1898.9" r="2.3"/>
<circle cx="1076.2" cy="1891.0" r="2.3"/>
<circle cx="1099.8" cy="1906.8" r="2.3"/>
<circle cx="1106.4" cy="1909.4" r="2.3"/>
<circle cx="1119.5" cy="1906.8" r="2.3"/>
<circle cx="1112.9" cy="1925.2" r="2.3"/>
<circle cx="1107.7" cy="1930.4" r="2.3"/>
<circle cx="1099.8" cy="1927.8" r="2.3"/>
<circle cx="1101.1" cy="1937.0" r="2.3"/>
<circle cx="1097.2" cy="1935.7" r="2.3"/>
<circle cx="1090.6" cy="1931.7" r="2.3"/>
<circle cx="1084.0" cy="1919.9" r="2.3"/>
<circle cx="1078.8" cy="1925.2" r="2.3"/>
<circle cx="1086.7" cy="1934.4" r="2.3"/>
<circle cx="1076.2" cy="1933.0" r="2.3"/>
<circle cx="1070.9" cy="1935.7" r="2.3"/>
<circle cx="1139.2" cy="1938.3" r="2.3"/>
<circle cx="1143.1" cy="1937.0" r="2.3"/>
<circle cx="1145.0" cy="1935.7" r="2.3"/>
<circle cx="1151.0" cy="1933.0" r="2.3"/>
<circle cx="1154.9" cy="1931.7" r="2.3"/>
<circle cx="940.7" cy="1827.5" r="2.3"/>
<circle cx="949.6" cy="1840.3" r="2.3"/>
<circle cx="951.2" cy="1853.7" r="2.3"/>
<circle cx="952.2" cy="1858.2" r="2.3"/>
<circle cx="953.0" cy="1864.8" r="2.3"/>
<circle cx="955.6" cy="1870.0" r="2.3"/>
<circle cx="944.6" cy="1873.2" r="2.3"/>
<circle cx="956.9" cy="1877.9" r="2.3"/>
<circle cx="964.3" cy="1879.2" r="2.3"/>
<circle cx="958.2" cy="1876.6" r="2.3"/>
<circle cx="935.9" cy="1898.4" r="2.3"/>
<circle cx="943.8" cy="1897.6" r="2.3"/>
<circle cx="871.1" cy="1928.3" r="2.3"/>
<circle cx="930.7" cy="1893.6" r="2.3"/>
<circle cx="946.4" cy="1888.4" r="2.3"/>
<circle cx="951.7" cy="1885.8" r="2.3"/>
<circle cx="934.6" cy="1909.4" r="2.3"/>
<circle cx="925.4" cy="1919.9" r="2.3"/>
<circle cx="920.2" cy="1914.7" r="2.3"/>
<circle cx="914.9" cy="1927.8" r="2.3"/>
<circle cx="909.7" cy="1933.0" r="2.3"/>
<circle cx="1137.4" cy="1938.7" r="2.3"/>
<circle cx="1140.0" cy="1938.4" r="2.3"/>
<circle cx="1141.9" cy="1938.2" r="2.3"/>
<circle cx="1143.2" cy="1937.6" r="2.3"/>
<circle cx="1145.3" cy="1936.5" r="2.3"/>
<circle cx="1147.4" cy="1935.0" r="2.3"/>
<circle cx="1150.1" cy="1934.7" r="2.3"/>
<circle cx="1151.7" cy="1932.6" r="2.3"/>
<circle cx="1154.7" cy="1932.0" r="2.3"/>
<circle cx="1156.7" cy="1929.7" r="2.3"/>
<circle cx="1159.5" cy="1927.5" r="2.3"/>
<circle cx="1161.4" cy="1926.0" r="2.3"/>
<circle cx="1162.3" cy="1923.8" r="2.3"/>
<circle cx="1164.6" cy="1922.7" r="2.3"/>
<circle cx="1166.5" cy="1920.3" r="2.3"/>
<circle cx="1169.4" cy="1917.8" r="2.3"/>
<circle cx="1171.4" cy="1915.1" r="2.3"/>
<circle cx="1172.6" cy="1912.9" r="2.3"/>
<circle cx="1175.8" cy="1910.7" r="2.3"/>
<circle cx="1177.3" cy="1908.3" r="2.3"/>
<circle cx="1179.6" cy="1905.3" r="2.3"/>
<circle cx="1182.3" cy="1903.1" r="2.3"/>
<circle cx="994.2" cy="1941.7" r="2.3"/>
<circle cx="1095.6" cy="1882.7" r="2.3"/>
<circle cx="1076.0" cy="1941.0" r="2.3"/>
<circle cx="1043.3" cy="1940.0" r="2.3"/>
<circle cx="1062.2" cy="1914.3" r="2.3"/>
<circle cx="958.4" cy="1915.2" r="2.3"/>
<circle cx="1056.2" cy="1936.0" r="2.3"/>
<circle cx="1073.9" cy="1923.2" r="2.3"/>
<circle cx="949.0" cy="1912.0" r="2.3"/>
<circle cx="995.3" cy="1938.2" r="2.3"/>
<circle cx="1052.1" cy="1936.6" r="2.3"/>
<circle cx="1032.8" cy="1941.2" r="2.3"/>
<circle cx="966.5" cy="1925.5" r="2.3"/>
<circle cx="958.2" cy="1938.0" r="2.3"/>
<circle cx="977.6" cy="1922.3" r="2.3"/>
<circle cx="1037.1" cy="1940.3" r="2.3"/>
<circle cx="1096.2" cy="1874.1" r="2.3"/>
<circle cx="1083.2" cy="1883.7" r="2.3"/>
<circle cx="1101.7" cy="1930.0" r="2.3"/>
<circle cx="990.5" cy="1936.5" r="2.3"/>
<circle cx="973.1" cy="1927.1" r="2.3"/>
<circle cx="1051.9" cy="1941.7" r="2.3"/>
<circle cx="1076.1" cy="1928.7" r="2.3"/>
<circle cx="962.3" cy="1921.4" r="2.3"/>
<circle cx="974.5" cy="1920.3" r="2.3"/>
<circle cx="1060.5" cy="1933.0" r="2.3"/>
<circle cx="1077.9" cy="1941.4" r="2.3"/>
<circle cx="946.9" cy="1912.5" r="2.3"/>
<circle cx="980.6" cy="1943.6" r="2.3"/>
<circle cx="968.8" cy="1925.6" r="2.3"/>
<circle cx="1076.3" cy="1941.1" r="2.3"/>
<circle cx="966.3" cy="1938.9" r="2.3"/>
<circle cx="1101.5" cy="1886.1" r="2.3"/>
<circle cx="1040.2" cy="1934.9" r="2.3"/>
<circle cx="1066.5" cy="1933.2" r="2.3"/>
<circle cx="993.1" cy="1941.0" r="2.3"/>
<circle cx="1066.4" cy="1919.3" r="2.3"/>
<circle cx="987.7" cy="1930.8" r="2.3"/>
<circle cx="1042.0" cy="1937.8" r="2.3"/>
<circle cx="958.7" cy="1929.5" r="2.3"/>
<circle cx="962.0" cy="1932.8" r="2.3"/>
<circle cx="1098.0" cy="1912.7" r="2.3"/>
<circle cx="970.6" cy="1918.9" r="2.3"/>
<circle cx="1078.0" cy="1912.0" r="2.3"/>
<circle cx="956.2" cy="1899.4" r="2.3"/>
<circle cx="988.0" cy="1937.6" r="2.3"/>
<circle cx="946.6" cy="1886.5" r="2.3"/>
<circle cx="1050.2" cy="1931.4" r="2.3"/>
<circle cx="1064.1" cy="1913.0" r="2.3"/>
<circle cx="1101.5" cy="1909.2" r="2.3"/>
<circle cx="993.1" cy="1939.7" r="2.3"/>
<circle cx="1046.2" cy="1934.8" r="2.3"/>
<circle cx="973.3" cy="1925.4" r="2.3"/>
<circle cx="954.7" cy="1937.7" r="2.3"/>
<circle cx="1088.8" cy="1890.9" r="2.3"/>
<circle cx="1096.6" cy="1906.9" r="2.3"/>
<circle cx="1037.5" cy="1935.3" r="2.3"/>
<circle cx="1065.3" cy="1918.5" r="2.3"/>
<circle cx="960.5" cy="1936.5" r="2.3"/>
<circle cx="997.0" cy="1939.8" r="2.3"/>
<circle cx="1090.5" cy="1933.7" r="2.3"/>
<circle cx="1079.5" cy="1925.1" r="2.3"/>
<circle cx="997.3" cy="1938.2" r="2.3"/>
<circle cx="970.9" cy="1914.2" r="2.3"/>
<circle cx="1103.8" cy="1924.8" r="2.3"/>
<circle cx="997.0" cy="1942.9" r="2.3"/>
<circle cx="958.5" cy="1927.9" r="2.3"/>
<circle cx="1092.6" cy="1939.9" r="2.3"/>
<circle cx="1097.2" cy="1886.2" r="2.3"/>
<circle cx="1092.1" cy="1876.2" r="2.3"/>
<circle cx="970.6" cy="1927.4" r="2.3"/>
<circle cx="952.7" cy="1896.8" r="2.3"/>
<circle cx="957.8" cy="1936.8" r="2.3"/>
<circle cx="973.7" cy="1923.6" r="2.3"/>
<circle cx="981.4" cy="1934.1" r="2.3"/>
<circle cx="1088.9" cy="1937.0" r="2.3"/>
<circle cx="985.4" cy="1940.1" r="2.3"/>
<circle cx="971.9" cy="1927.1" r="2.3"/>
<circle cx="975.2" cy="1928.1" r="2.3"/>
<circle cx="962.2" cy="1924.2" r="2.3"/>
<circle cx="1068.5" cy="1934.9" r="2.3"/>
<circle cx="1099.1" cy="1862.4" r="2.3"/>
<circle cx="954.5" cy="1936.7" r="2.3"/>
<circle cx="977.9" cy="1937.1" r="2.3"/>
<circle cx="976.0" cy="1939.1" r="2.3"/>
<circle cx="1088.9" cy="1880.1" r="2.3"/>
<circle cx="949.3" cy="1900.7" r="2.3"/>
<circle cx="1041.7" cy="1933.6" r="2.3"/>
<circle cx="1047.3" cy="1928.8" r="2.3"/>
<circle cx="1096.3" cy="1930.6" r="2.3"/>
<circle cx="990.0" cy="1939.2" r="2.3"/>
<circle cx="1056.1" cy="1939.8" r="2.3"/>
<circle cx="1037.9" cy="1941.0" r="2.3"/>
<circle cx="1071.9" cy="1925.2" r="2.3"/>
<circle cx="978.3" cy="1932.5" r="2.3"/>
<circle cx="1068.9" cy="1942.1" r="2.3"/>
<circle cx="947.6" cy="1937.2" r="2.3"/>
<circle cx="1051.2" cy="1926.5" r="2.3"/>
<circle cx="984.3" cy="1942.4" r="2.3"/>
<circle cx="1093.7" cy="1889.8" r="2.3"/>
<circle cx="1061.0" cy="1928.5" r="2.3"/>
<circle cx="1082.7" cy="1939.2" r="2.3"/>
<circle cx="956.6" cy="1934.7" r="2.3"/>
<circle cx="984.4" cy="1944.4" r="2.3"/>
<circle cx="956.5" cy="1940.1" r="2.3"/>
<circle cx="995.0" cy="1936.5" r="2.3"/>
<circle cx="1032.0" cy="1937.5" r="2.3"/>
<circle cx="1099.4" cy="1919.8" r="2.3"/>
<circle cx="996.2" cy="1938.5" r="2.3"/>
<circle cx="947.7" cy="1926.0" r="2.3"/>
<circle cx="987.9" cy="1940.2" r="2.3"/>
<circle cx="1070.3" cy="1936.1" r="2.3"/>
<circle cx="1068.0" cy="1937.8" r="2.3"/>
<circle cx="1090.3" cy="1870.4" r="2.3"/>
<circle cx="997.6" cy="1938.8" r="2.3"/>
<circle cx="971.5" cy="1936.9" r="2.3"/>
<circle cx="1039.0" cy="1935.8" r="2.3"/>
<circle cx="1079.5" cy="1914.3" r="2.3"/>
<circle cx="1102.6" cy="1914.0" r="2.3"/>
<circle cx="947.0" cy="1919.7" r="2.3"/>
<circle cx="977.3" cy="1936.1" r="2.3"/>
<circle cx="954.6" cy="1943.9" r="2.3"/>
<circle cx="1062.9" cy="1942.9" r="2.3"/>
<circle cx="1095.2" cy="1888.2" r="2.3"/>
<circle cx="1075.2" cy="1910.7" r="2.3"/>
<circle cx="974.4" cy="1940.2" r="2.3"/>
<circle cx="1031.4" cy="1942.2" r="2.3"/>
<circle cx="1102.8" cy="1890.0" r="2.3"/>
<circle cx="996.6" cy="1937.2" r="2.3"/>
<circle cx="979.8" cy="1944.7" r="2.3"/>
<circle cx="1037.3" cy="1941.9" r="2.3"/>
<circle cx="985.4" cy="1931.9" r="2.3"/>
<circle cx="984.6" cy="1943.1" r="2.3"/>
<circle cx="1074.4" cy="1925.9" r="2.3"/>
<circle cx="1053.6" cy="1939.5" r="2.3"/>
<circle cx="964.0" cy="1914.3" r="2.3"/>
<circle cx="1087.4" cy="1894.7" r="2.3"/>
<circle cx="1042.2" cy="1935.4" r="2.3"/>
<circle cx="996.1" cy="1937.4" r="2.3"/>
<circle cx="1085.2" cy="1891.6" r="2.3"/>
<circle cx="950.8" cy="1895.5" r="2.3"/>
<circle cx="955.2" cy="1911.3" r="2.3"/>
<circle cx="994.0" cy="1944.3" r="2.3"/>
<circle cx="1101.8" cy="1907.8" r="2.3"/>
<circle cx="1072.3" cy="1916.6" r="2.3"/>
<circle cx="972.8" cy="1944.6" r="2.3"/>
<circle cx="959.3" cy="1919.5" r="2.3"/>
<circle cx="963.9" cy="1941.9" r="2.3"/>
<circle cx="1049.7" cy="1943.3" r="2.3"/>
<circle cx="1048.4" cy="1931.3" r="2.3"/>
</g>
<path d="M936.9 1941.4C936.9 1939.6 950.2 1926.9 952.4 1923.8C954.6 1920.6 961.8 1906.4 963.4 1903.9C965.0 1901.4 970.5 1894.0 971.8 1894.0C973.1 1894.0 977.5 1901.8 978.8 1903.9C980.2 1906.0 986.6 1917.0 988.1 1919.3C989.6 1921.7 995.6 1930.2 996.9 1931.9C998.2 1933.7 1003.6 1939.1 1003.5 1940.3C1003.5 1941.5 998.9 1945.6 996.5 1946.0C994.1 1946.5 978.1 1946.1 974.4 1946.0C970.7 1945.9 955.5 1945.3 952.4 1944.9C949.2 1944.5 936.9 1943.2 936.9 1941.4Z" fill="#f01e10" opacity="0.93" filter="url(#soft2)"/>
<path d="M1029.6 1940.3C1029.4 1938.8 1036.7 1929.6 1038.4 1927.1C1040.1 1924.5 1047.6 1912.3 1049.4 1909.4C1051.3 1906.5 1059.3 1893.0 1060.5 1892.7C1061.7 1892.3 1063.0 1902.5 1063.8 1905.0C1064.5 1907.5 1068.3 1920.0 1069.3 1922.7C1070.3 1925.3 1076.0 1935.5 1075.5 1937.2C1074.9 1938.9 1065.6 1942.3 1062.7 1942.9C1059.8 1943.6 1043.4 1945.2 1040.6 1944.9C1037.8 1944.7 1029.8 1941.8 1029.6 1940.3Z" fill="#f01e10" opacity="0.93" filter="url(#soft2)"/>
<path d="M921.5 1941.4C920.7 1940.7 932.1 1934.9 934.7 1933.7C937.3 1932.5 951.6 1926.3 952.4 1927.1C953.1 1927.8 946.1 1941.3 943.5 1942.5C941.0 1943.7 922.2 1942.1 921.5 1941.4Z" fill="#f01e10" opacity="0.55" filter="url(#soft2)"/>
<path d="M1073.7 1938.1C1073.5 1937.1 1080.7 1929.6 1082.5 1929.3C1084.4 1928.9 1095.6 1932.7 1095.8 1933.7C1095.9 1934.7 1086.6 1941.0 1084.7 1941.4C1082.9 1941.8 1073.9 1939.1 1073.7 1938.1Z" fill="#f01e10" opacity="0.5" filter="url(#soft2)"/>
<path d="M884.4 1935.9C885.7 1935.7 889.9 1936.8 892.8 1937.7C895.7 1938.5 900.7 1940.0 902.1 1941.0C903.5 1942.0 902.7 1943.4 901.2 1943.6C899.6 1943.8 895.5 1942.9 892.8 1942.1C890.1 1941.3 886.5 1939.8 885.1 1938.8C883.7 1937.7 883.1 1936.1 884.4 1935.9Z" fill="#f01e10"/>
<path d="M1137.7 1938.5C1138.4 1937.7 1142.8 1936.0 1144.3 1935.9C1145.8 1935.8 1147.2 1937.3 1146.5 1938.1C1145.8 1938.9 1141.3 1940.9 1139.9 1941.0C1138.4 1941.0 1136.9 1939.4 1137.7 1938.5Z" fill="#f01e10"/>
<path d="M930.3 1933.7C930.3 1931.8 936.6 1930.4 939.1 1931.5C941.7 1932.6 945.7 1938.5 945.7 1940.3C945.7 1942.1 941.7 1943.6 939.1 1942.5C936.6 1941.4 930.3 1935.5 930.3 1933.7Z" fill="#f01e10" opacity="0.8"/>
<ellipse cx="1015.2" cy="1946.7" rx="16.5" ry="3.2" fill="#555"/>
<ellipse cx="990.3" cy="1946.0" rx="4" ry="2" fill="#3a9a3a"/>
<ellipse cx="1035.1" cy="1946.0" rx="4" ry="2" fill="#3a9a3a"/>
<ellipse cx="1003.1" cy="1941.4" rx="3.5" ry="2.5" fill="#5a8af0"/>
<line x1="828.4" y1="1596.9" x2="828.4" y2="1965.1" stroke="#000" stroke-width="2"/>
<line x1="827.4" y1="1964.1" x2="1233.6" y2="1964.1" stroke="#000" stroke-width="2"/>
<text x="824.5" y="1692.2" font-size="21" text-anchor="end">150</text>
<line x1="824.4" y1="1684.7" x2="828.4" y2="1684.7" stroke="#000" stroke-width="1.3"/>
<text x="824.5" y="1780.0" font-size="21" text-anchor="end">100</text>
<line x1="824.4" y1="1772.5" x2="828.4" y2="1772.5" stroke="#000" stroke-width="1.3"/>
<text x="824.5" y="1867.9" font-size="21" text-anchor="end">50</text>
<line x1="824.4" y1="1860.4" x2="828.4" y2="1860.4" stroke="#000" stroke-width="1.3"/>
<text x="824.5" y="1955.7" font-size="21" text-anchor="end">0</text>
<line x1="824.4" y1="1948.2" x2="828.4" y2="1948.2" stroke="#000" stroke-width="1.3"/>
<line x1="851.2" y1="1964.1" x2="851.2" y2="1968.3" stroke="#000" stroke-width="1.3"/>
<line x1="933.0" y1="1964.1" x2="933.0" y2="1968.3" stroke="#000" stroke-width="1.3"/>
<line x1="1014.8" y1="1964.1" x2="1014.8" y2="1968.3" stroke="#000" stroke-width="1.3"/>
<line x1="1096.6" y1="1964.1" x2="1096.6" y2="1968.3" stroke="#000" stroke-width="1.3"/>
<line x1="1178.4" y1="1964.1" x2="1178.4" y2="1968.3" stroke="#000" stroke-width="1.3"/>
<text x="848.2" y="1986.9" font-size="21" text-anchor="middle">-10</text>
<text x="930.0" y="1986.9" font-size="21" text-anchor="middle">-5</text>
<text x="1014.8" y="1986.9" font-size="21" text-anchor="middle">0</text>
<text x="1096.6" y="1986.9" font-size="21" text-anchor="middle">5</text>
<text x="1178.4" y="1986.9" font-size="21" text-anchor="middle">10</text>
<text x="1021" y="2014.2" font-size="28" text-anchor="middle">Log<tspan font-size="15" dy="5">2</tspan><tspan dy="-5"> FC</tspan></text>
<text x="782.5" y="1787.8" font-size="30" text-anchor="middle" transform="rotate(-90 782.5 1787.8)">-Log<tspan font-size="15" dy="5">10</tspan><tspan dy="-5"> p-value</tspan></text>
<circle cx="840.9" cy="1606.1" r="5.6" fill="#9a9a9a" stroke="none"/>
<text x="851.9" y="1611.9" font-size="16.4">Not significant</text>
<circle cx="840.9" cy="1628.9" r="5.6" fill="#82c682" stroke="none"/>
<text x="851.9" y="1634.7" font-size="16.4">Log<tspan font-size="9.5" dy="3">2</tspan><tspan dy="-3">FC</tspan></text>
<circle cx="840.9" cy="1651.3" r="5.6" fill="#8eaaf0" stroke="none"/>
<text x="851.9" y="1657.1" font-size="16.4">p&lt;0.05</text>
<circle cx="840.9" cy="1673.1" r="5.6" fill="#ee6b6b" stroke="none"/>
<text x="851.9" y="1678.9" font-size="16.4">p&lt;0.05 &amp; Log<tspan font-size="9.5" dy="3">2</tspan><tspan dy="-3">FC</tspan></text>
<text x="1036.0" y="1611.2" font-size="16.45">CT26 resected tumors</text>
<rect x="838.2" y="1766.3" width="152.3" height="42.0" fill="#d8d8d8" stroke="none"/>
<text x="913.6" y="1783.5" font-size="18.6" text-anchor="middle" fill="#1c1cff">Glycolysis-related</text>
<text x="913.6" y="1802.3" font-size="18.6" text-anchor="middle" fill="#1c1cff">genes</text>
<g stroke="#111" stroke-width="0.9" fill="none">
<path d="M1001 1881L1001.5 1936"/>
<circle cx="1001" cy="1881" r="1.3" fill="#ddd"/>
<path d="M946 1890L980 1927"/>
<circle cx="946" cy="1890" r="1.3" fill="#ddd"/>
<path d="M983.5 1890L992 1918"/>
<circle cx="983.5" cy="1890" r="1.3" fill="#ddd"/>
<path d="M1015.5 1896.5L1003 1930"/>
<circle cx="1015.5" cy="1896.5" r="1.3" fill="#ddd"/>
<path d="M1058 1896.5L1046 1916"/>
<circle cx="1058" cy="1896.5" r="1.3" fill="#ddd"/>
<path d="M915 1906.5L975 1928"/>
<circle cx="915" cy="1906.5" r="1.3" fill="#ddd"/>
<path d="M967 1907L990 1932"/>
<circle cx="967" cy="1907" r="1.3" fill="#ddd"/>
<path d="M1016 1907.5L1004 1932"/>
<circle cx="1016" cy="1907.5" r="1.3" fill="#ddd"/>
<path d="M1059 1908.5L1048 1921"/>
<circle cx="1059" cy="1908.5" r="1.3" fill="#ddd"/>
<path d="M945 1923.5L985 1934"/>
<circle cx="945" cy="1923.5" r="1.3" fill="#ddd"/>
<path d="M976 1924L995 1936"/>
<circle cx="976" cy="1924" r="1.3" fill="#ddd"/>
<path d="M1054 1924.5L1045 1930"/>
<circle cx="1054" cy="1924.5" r="1.3" fill="#ddd"/>
<path d="M941 1939.5L985 1941"/>
<circle cx="941" cy="1939.5" r="1.3" fill="#ddd"/>
<path d="M981.5 1941.5L996 1942"/>
<circle cx="981.5" cy="1941.5" r="1.3" fill="#ddd"/>
<path d="M998.5 1938L1001 1936"/>
<circle cx="998.5" cy="1938" r="1.3" fill="#ddd"/>
<path d="M1036 1938.5L1030 1940"/>
<circle cx="1036" cy="1938.5" r="1.3" fill="#ddd"/>
<path d="M921 1956L990 1944"/>
<circle cx="921" cy="1956" r="1.3" fill="#ddd"/>
<path d="M967.5 1955.5L995 1946"/>
<circle cx="967.5" cy="1955.5" r="1.3" fill="#ddd"/>
<path d="M991 1948.5L1000 1944"/>
<circle cx="991" cy="1948.5" r="1.3" fill="#ddd"/>
<path d="M1011 1955L1003 1946"/>
<circle cx="1011" cy="1955" r="1.3" fill="#ddd"/>
<path d="M1047.5 1955.5L1032 1945"/>
<circle cx="1047.5" cy="1955.5" r="1.3" fill="#ddd"/>
</g>
<text x="981.0" y="1876.8" font-size="14" fill="#2222f0">Eno2</text>
<text x="903.8" y="1894.0" font-size="14" fill="#2222f0">P4ha2</text>
<text x="950.2" y="1894.0" font-size="14" fill="#2222f0">Sdc3</text>
<text x="991.6" y="1894.0" font-size="14" fill="#2222f0">Depdc1a</text>
<text x="1053.8" y="1894.0" font-size="14" fill="#2222f0">Ddit4</text>
<text x="876.3" y="1911.0" font-size="14" fill="#2222f0">Cxcr4</text>
<text x="918.8" y="1911.0" font-size="14" fill="#2222f0">Angptl4</text>
<text x="968.2" y="1911.0" font-size="14" fill="#2222f0">Col5a1</text>
<text x="1019.6" y="1911.0" font-size="14" fill="#2222f0">Chst1</text>
<text x="1062.7" y="1911.0" font-size="14" fill="#2222f0">Mertk</text>
<text x="902.7" y="1927.5" font-size="14" fill="#2222f0">Ppfia4</text>
<text x="948.6" y="1927.5" font-size="14" fill="#2222f0">Ier3</text>
<text x="985.9" y="1927.5" font-size="14" fill="#2222f0">Slc16a3</text>
<text x="1058.3" y="1927.5" font-size="14" fill="#2222f0">Dsc2</text>
<text x="914.9" y="1944.0" font-size="14" fill="#2222f0">Ak4</text>
<text x="945.7" y="1944.0" font-size="14" fill="#2222f0">Gpc4</text>
<text x="1003.1" y="1944.0" font-size="14" fill="#2222f0">Sdc1</text>
<text x="1040.6" y="1944.0" font-size="14" fill="#2222f0">Gclc</text>
<text x="890.6" y="1961.3" font-size="14" fill="#2222f0">Stc2</text>
<text x="925.4" y="1961.3" font-size="14" fill="#2222f0">Spag4</text>
<text x="972.2" y="1961.3" font-size="14" fill="#2222f0">Chst2</text>
<text x="1015.2" y="1961.3" font-size="14" fill="#2222f0">Nt5e</text>
<text x="1051.6" y="1961.3" font-size="14" fill="#2222f0">Gpr87</text>
</g>
<g id="pL">
<text x="1279.0" y="1588.5" font-size="59">L</text>
<text x="1420.2" y="1594.8" font-size="17.5" textLength="479.5" lengthAdjust="spacing">POSITIVE_REGULATION_OF_GLYCOLYTIC_PROCESS</text>
<line x1="1492.0" y1="1607.9" x2="1492.0" y2="1787.3" stroke="#d4d4d4" stroke-width="0.8"/>
<line x1="1492.0" y1="1850.5" x2="1492.0" y2="1972.5" stroke="#e2e2e2" stroke-width="0.5599999999999999"/>
<line x1="1580.0" y1="1607.9" x2="1580.0" y2="1787.3" stroke="#d4d4d4" stroke-width="1.1"/>
<line x1="1580.0" y1="1850.5" x2="1580.0" y2="1972.5" stroke="#e2e2e2" stroke-width="0.77"/>
<line x1="1668.0" y1="1607.9" x2="1668.0" y2="1787.3" stroke="#d4d4d4" stroke-width="0.8"/>
<line x1="1668.0" y1="1850.5" x2="1668.0" y2="1972.5" stroke="#e2e2e2" stroke-width="0.5599999999999999"/>
<line x1="1756.0" y1="1607.9" x2="1756.0" y2="1787.3" stroke="#d4d4d4" stroke-width="1.1"/>
<line x1="1756.0" y1="1850.5" x2="1756.0" y2="1972.5" stroke="#e2e2e2" stroke-width="0.77"/>
<line x1="1844.0" y1="1607.9" x2="1844.0" y2="1787.3" stroke="#d4d4d4" stroke-width="0.8"/>
<line x1="1844.0" y1="1850.5" x2="1844.0" y2="1972.5" stroke="#e2e2e2" stroke-width="0.5599999999999999"/>
<path d="M1404.4 1616.1L1471.9 1645.0L1473.2 1638.4L1509.9 1654.2L1511.0 1648.9L1528.8 1656.8L1530.1 1648.9L1552.5 1658.1L1553.8 1655.2L1583.2 1668.6L1584.5 1666.5L1595.8 1671.7L1597.1 1669.9L1663.6 1698.8L1714.5 1721.6L1715.8 1719.5L1737.6 1728.7L1738.9 1725.6L1821.6 1761.6L1822.4 1751.3L1885.5 1778.9L1886.5 1751.8L1889.1 1751.3L1889.4 1723.0L1904.4 1729.5L1904.6 1615.3" stroke="#e8604c" stroke-width="1.4" fill="none" stroke-linejoin="round"/>
<line x1="1404.4" y1="1607.9" x2="1404.4" y2="1787.3" stroke="#000" stroke-width="1.6"/>
<line x1="1400.4" y1="1616.1" x2="1404.4" y2="1616.1" stroke="#000" stroke-width="1.2"/>
<text x="1398.8" y="1621.9" font-size="16.5" text-anchor="end">0.0</text>
<line x1="1400.4" y1="1659.4" x2="1404.4" y2="1659.4" stroke="#000" stroke-width="1.2"/>
<text x="1398.8" y="1665.2" font-size="16.5" text-anchor="end">-0.2</text>
<line x1="1400.4" y1="1702.5" x2="1404.4" y2="1702.5" stroke="#000" stroke-width="1.2"/>
<text x="1398.8" y="1708.3" font-size="16.5" text-anchor="end">-0.4</text>
<line x1="1400.4" y1="1746.1" x2="1404.4" y2="1746.1" stroke="#000" stroke-width="1.2"/>
<text x="1398.8" y="1751.9" font-size="16.5" text-anchor="end">-0.6</text>
<rect x="1838.2" y="1633.7" width="68.3" height="11.0" fill="#d9d9d9" stroke="none"/>
<rect x="1838.2" y="1644.7" width="68.3" height="11.3" fill="#f2f2f2" stroke="none"/>
<text x="1873.4" y="1642.0" font-size="10.8" text-anchor="middle" fill="#222">p-value</text>
<text x="1873.4" y="1654.3" font-size="10.8" text-anchor="middle" fill="#222">0.006269</text>
<line x1="1472.7" y1="1790.4" x2="1472.7" y2="1849.5" stroke="#333" stroke-width="0.9"/>
<line x1="1511.0" y1="1790.4" x2="1511.0" y2="1849.5" stroke="#333" stroke-width="0.9"/>
<line x1="1529.6" y1="1790.4" x2="1529.6" y2="1849.5" stroke="#333" stroke-width="0.9"/>
<line x1="1553.3" y1="1790.4" x2="1553.3" y2="1849.5" stroke="#333" stroke-width="0.9"/>
<line x1="1584.0" y1="1790.4" x2="1584.0" y2="1849.5" stroke="#333" stroke-width="0.9"/>
<line x1="1596.6" y1="1790.4" x2="1596.6" y2="1849.5" stroke="#333" stroke-width="0.9"/>
<line x1="1664.1" y1="1790.4" x2="1664.1" y2="1849.5" stroke="#333" stroke-width="0.9"/>
<line x1="1716.1" y1="1790.4" x2="1716.1" y2="1849.5" stroke="#333" stroke-width="0.9"/>
<line x1="1738.4" y1="1790.4" x2="1738.4" y2="1849.5" stroke="#333" stroke-width="0.9"/>
<line x1="1822.4" y1="1790.4" x2="1822.4" y2="1849.5" stroke="#333" stroke-width="0.9"/>
<line x1="1886.5" y1="1790.4" x2="1886.5" y2="1849.5" stroke="#333" stroke-width="0.9"/>
<line x1="1889.4" y1="1790.4" x2="1889.4" y2="1849.5" stroke="#333" stroke-width="0.9"/>
<line x1="1904.9" y1="1790.4" x2="1904.9" y2="1849.5" stroke="#333" stroke-width="0.9"/>
<rect x="1404.4" y="1831.9" width="15.3" height="17.6" fill="#df4b3f" stroke="none" opacity="0.93"/>
<rect x="1419.4" y="1831.9" width="67.5" height="17.6" fill="#ee7759" stroke="none" opacity="0.93"/>
<rect x="1486.6" y="1831.9" width="84.6" height="17.6" fill="#f0ab94" stroke="none" opacity="0.93"/>
<rect x="1570.9" y="1831.9" width="74.6" height="17.6" fill="#f6e6de" stroke="none" opacity="0.93"/>
<rect x="1645.2" y="1831.9" width="80.4" height="17.6" fill="#eef0fa" stroke="none" opacity="0.93"/>
<rect x="1725.3" y="1831.9" width="30.7" height="17.6" fill="#c2dcea" stroke="none" opacity="0.93"/>
<rect x="1755.7" y="1831.9" width="24.7" height="17.6" fill="#82bada" stroke="none" opacity="0.93"/>
<rect x="1780.1" y="1831.9" width="57.1" height="17.6" fill="#5898c6" stroke="none" opacity="0.93"/>
<rect x="1836.9" y="1831.9" width="68.3" height="17.6" fill="#3564a8" stroke="none" opacity="0.93"/>
<text x="1409.1" y="1869.5" font-size="20.3">CT26/PBS</text>
<text x="1908.3" y="1869.5" font-size="20.3" text-anchor="end" letter-spacing="0.2">CT26/HuL001</text>
<path d="M1404.4 1897.1L1406.0 1903.0L1408.5 1908.0L1412.0 1911.3L1418.0 1913.5L1430.0 1915.0L1460.0 1916.2L1520.0 1917.2L1620.0 1918.0L1660.0 1918.6L1904.9 1918.6L1904.9 1967.2L1904.3 1945.0L1902.5 1936.0L1899.0 1931.0L1892.0 1927.5L1878.0 1925.0L1850.0 1922.8L1800.0 1920.8L1720.0 1919.6L1660.0 1919.0L1404.4 1919.0Z" fill="#bdbdbd"/>
<line x1="1404.4" y1="1850.3" x2="1404.4" y2="1974.2" stroke="#000" stroke-width="1.6"/>
<line x1="1403.6" y1="1973.2" x2="1904.9" y2="1973.2" stroke="#000" stroke-width="2"/>
<line x1="1400.4" y1="1862.9" x2="1404.4" y2="1862.9" stroke="#000" stroke-width="1.2"/>
<text x="1398.8" y="1868.7" font-size="16.5" text-anchor="end">10</text>
<line x1="1400.4" y1="1889.7" x2="1404.4" y2="1889.7" stroke="#000" stroke-width="1.2"/>
<text x="1398.8" y="1895.5" font-size="16.5" text-anchor="end">5</text>
<line x1="1400.4" y1="1918.6" x2="1404.4" y2="1918.6" stroke="#000" stroke-width="1.2"/>
<text x="1398.8" y="1924.4" font-size="16.5" text-anchor="end">0</text>
<line x1="1400.4" y1="1947.0" x2="1404.4" y2="1947.0" stroke="#000" stroke-width="1.2"/>
<text x="1398.8" y="1952.8" font-size="16.5" text-anchor="end">-5</text>
<text x="1580.0" y="1992.1" font-size="16.5" text-anchor="middle">5000</text>
<text x="1755.0" y="1992.1" font-size="16.5" text-anchor="middle">10000</text>
<text x="1661.4" y="2013.1" font-size="18.6" text-anchor="middle">Rank in Ordered Dataset</text>
<text x="1362.0" y="1686.2" font-size="18.4" text-anchor="middle" transform="rotate(-90 1362.0 1686.2)">Running Enrichment Score</text>
<text x="1362.0" y="1896.3" font-size="18.4" text-anchor="middle" transform="rotate(-90 1362.0 1896.3)">Ranked List Metric</text>
</g>
</g>
</svg>
</body></html>
